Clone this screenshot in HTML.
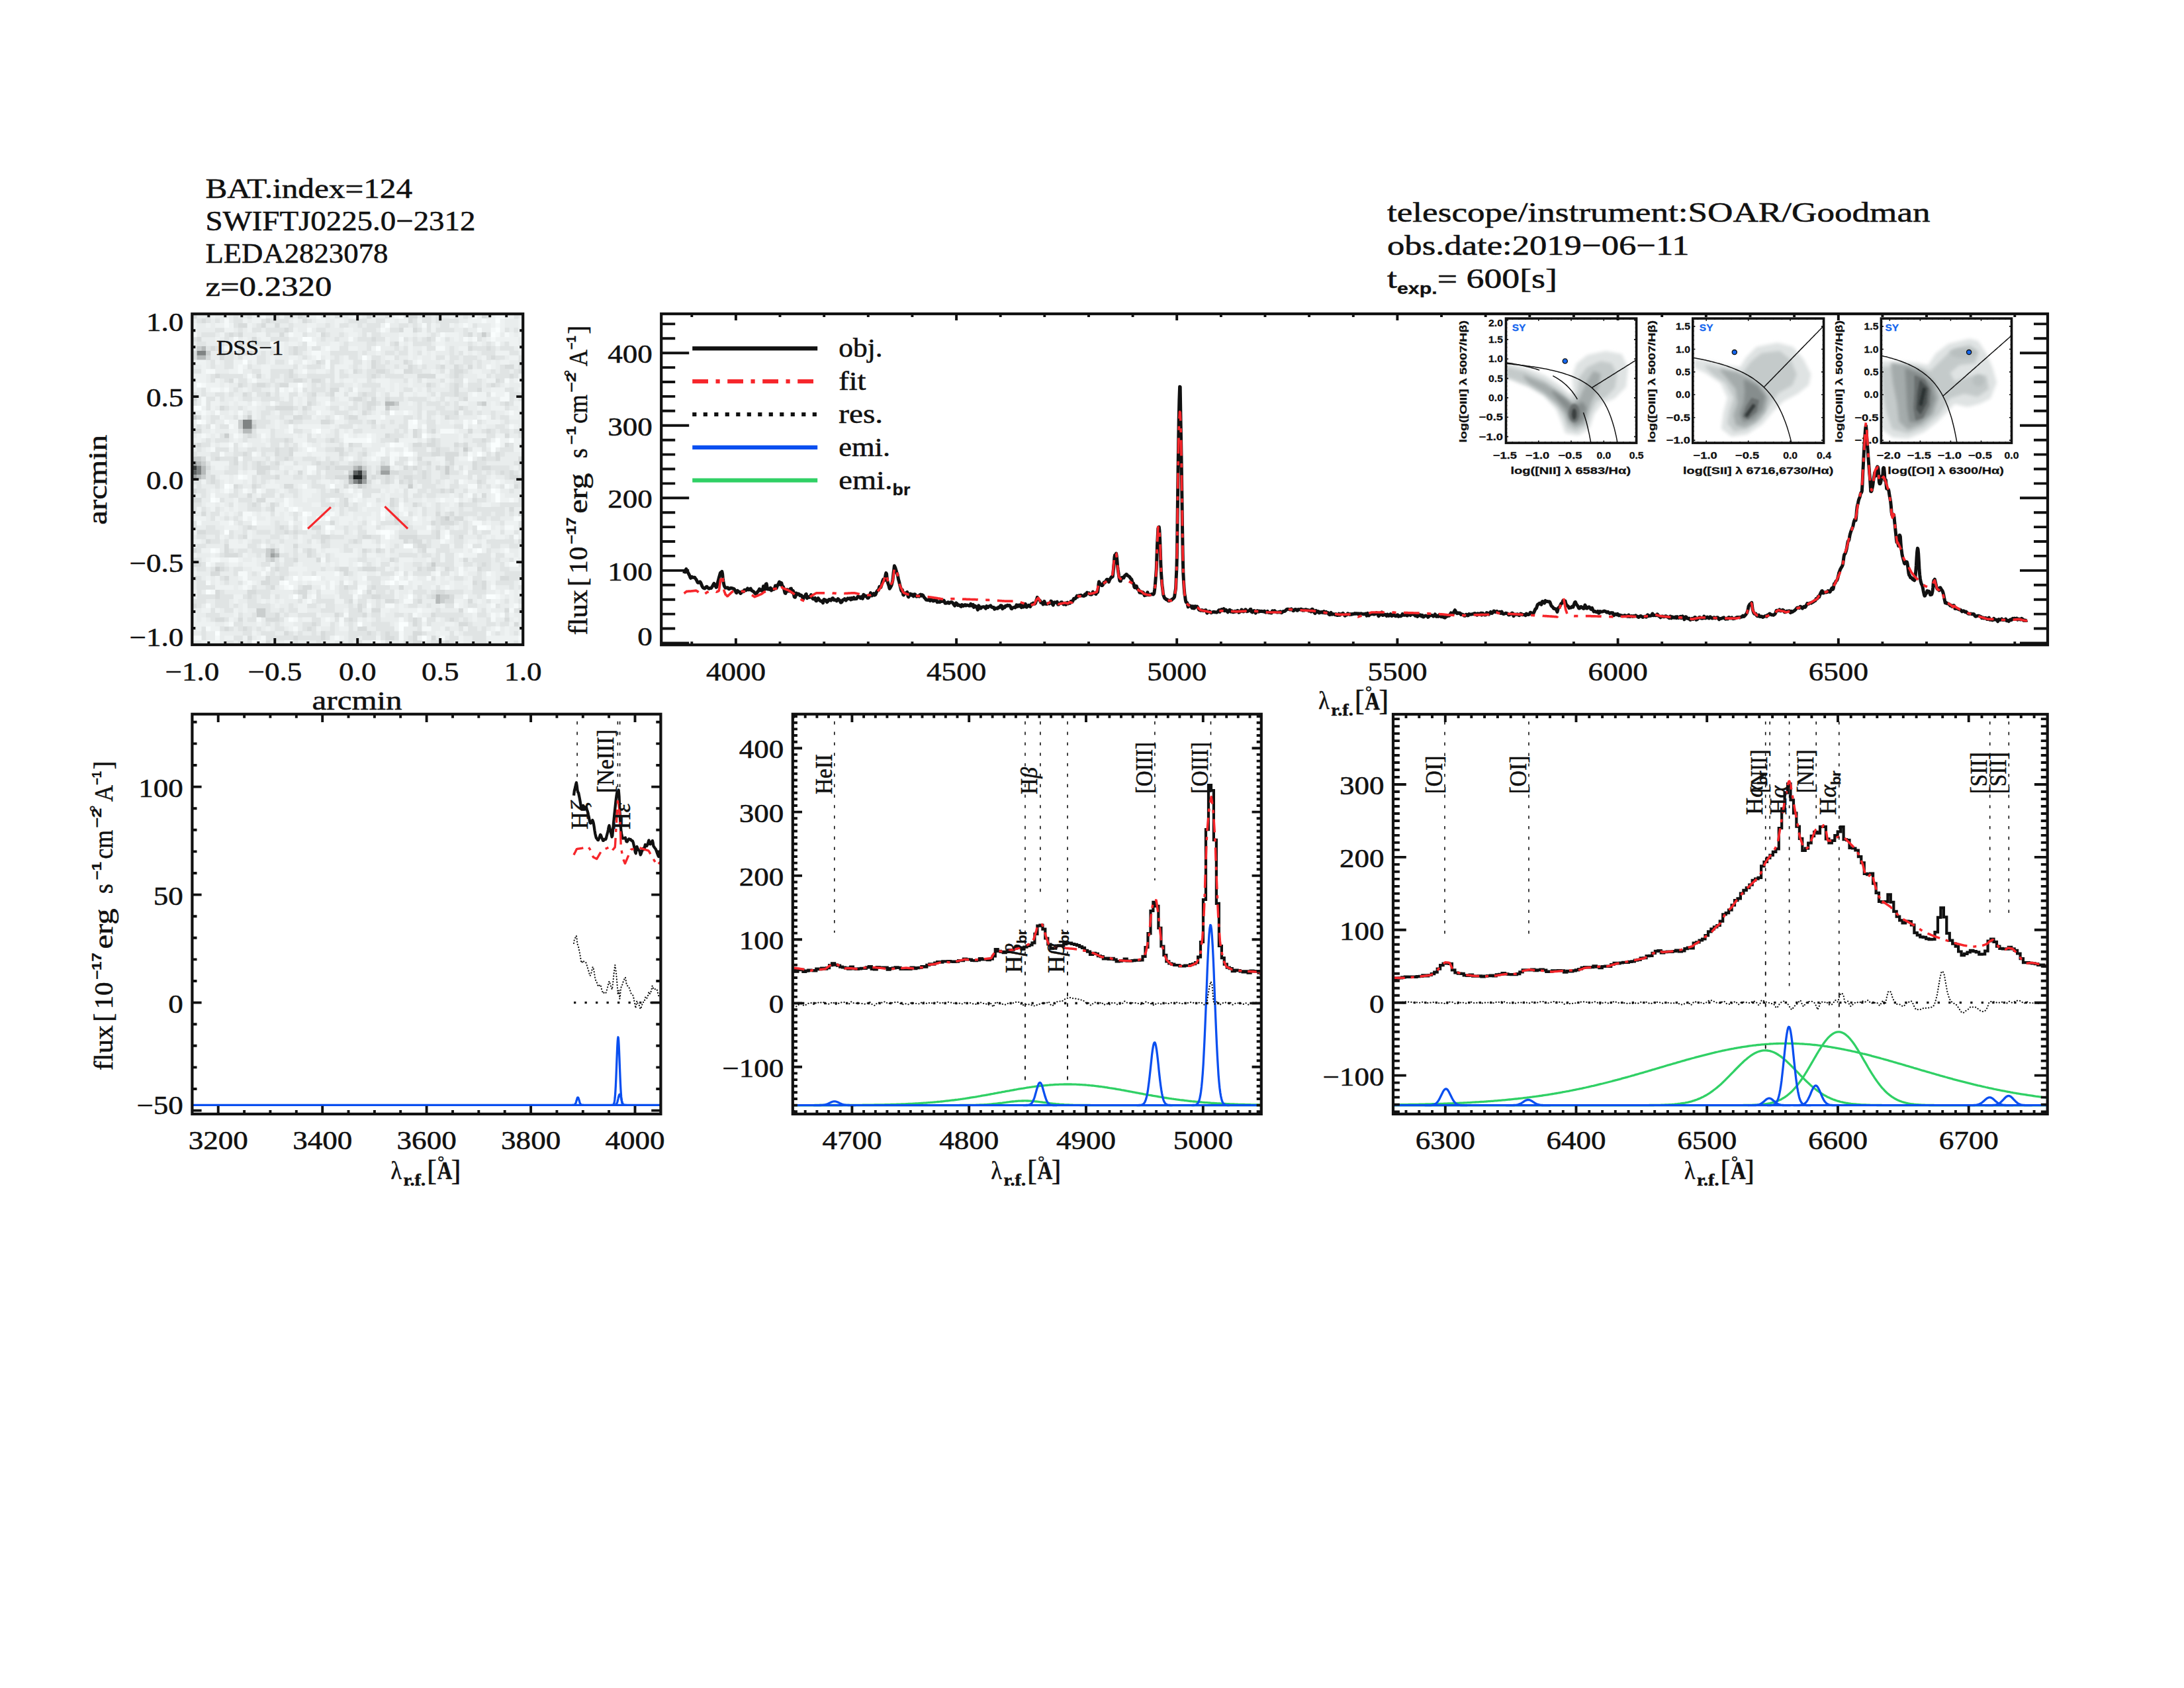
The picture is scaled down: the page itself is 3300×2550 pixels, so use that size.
<!DOCTYPE html>
<html><head><meta charset="utf-8"><title>BAT 124 spectrum</title>
<style>
html,body{margin:0;padding:0;background:#fff}
svg{display:block}
text{fill:#111;white-space:pre;stroke:#111;stroke-width:.55px}
.s{font-family:"Liberation Serif",serif}
.sb{font-family:"Liberation Serif",serif;font-weight:bold}
.si{font-family:"Liberation Serif",serif;font-style:italic}
.h{font-family:"Liberation Sans",sans-serif}
.hb{font-family:"Liberation Sans",sans-serif;font-weight:bold;stroke-width:.3px}
</style></head><body>
<svg width="3300" height="2550" viewBox="0 0 3300 2550">
<rect width="3300" height="2550" fill="#fff"/>
<text class="s" transform="translate(310.4 298.9)" x="0" font-size="42.5" textLength="312.6" lengthAdjust="spacingAndGlyphs">BAT.index=124</text>
<text class="s" transform="translate(310.4 347.5)" x="0" font-size="42.5" textLength="408" lengthAdjust="spacingAndGlyphs">SWIFTJ0225.0−2312</text>
<text class="s" transform="translate(310.4 397)" x="0" font-size="42.5" textLength="276" lengthAdjust="spacingAndGlyphs">LEDA2823078</text>
<text class="s" transform="translate(310.4 447.3)" x="0" font-size="42.5" textLength="191" lengthAdjust="spacingAndGlyphs">z=0.2320</text>
<text class="s" transform="translate(2096 335)" x="0" font-size="42.5" textLength="820.6" lengthAdjust="spacingAndGlyphs">telescope/instrument:SOAR/Goodman</text>
<text class="s" transform="translate(2096 384.6)" x="0" font-size="42.5" textLength="456.7" lengthAdjust="spacingAndGlyphs">obs.date:2019−06−11</text>
<text class="s" transform="translate(2096 434.8)" x="0" textLength="257" lengthAdjust="spacingAndGlyphs"><tspan font-size="42.5">t</tspan><tspan font-size="24" class="hb" dy="9">exp.</tspan><tspan font-size="42.5" dy="-9">= 600[s]</tspan></text>
<rect x="290.3" y="474.2" width="499.9" height="499.8" fill="#e9eded"/>
<path d="M533.3 717.2h14.2v7.2h-14.2z" fill="#1b1f1f"/>
<path d="M290.3 703.3h7.2v7.2h-7.2zM540.2 710.3h7.2v7.2h-7.2z" fill="#393d3d"/>
<path d="M290.3 710.3h7.2v7.2h-7.2zM533.3 710.3h7.2v7.2h-7.2zM540.2 724.2h7.2v7.2h-7.2z" fill="#5c6060"/>
<path d="M297.2 529.7h14.2v7.2h-14.2zM366.7 633.9h14.2v7.2h-14.2zM366.7 640.8h14.2v7.2h-14.2zM297.2 703.3h7.2v7.2h-7.2zM297.2 710.3h7.2v7.2h-7.2zM547.2 717.2h7.2v7.2h-7.2zM533.3 724.2h7.2v7.2h-7.2z" fill="#7f8383"/>
<path d="M290.3 696.4h7.2v7.2h-7.2zM540.2 703.3h7.2v7.2h-7.2zM547.2 710.3h7.2v7.2h-7.2zM575 710.3h14.2v7.2h-14.2zM290.3 717.2h7.2v7.2h-7.2zM526.4 717.2h7.2v7.2h-7.2zM547.2 724.2h7.2v7.2h-7.2zM408.3 835.2h7.2v7.2h-7.2z" fill="#9da1a1"/>
<path d="M304.2 522.8h7.2v7.2h-7.2zM297.2 536.7h14.2v7.2h-14.2zM581.9 606.1h14.2v7.2h-14.2zM366.7 647.8h14.2v7.2h-14.2zM297.2 696.4h7.2v7.2h-7.2zM304.2 703.3h7.2v7.2h-7.2zM533.3 703.3h7.2v7.2h-7.2zM575 703.3h14.2v7.2h-14.2zM304.2 710.3h7.2v7.2h-7.2zM297.2 717.2h7.2v7.2h-7.2zM526.4 724.2h7.2v7.2h-7.2zM408.3 828.3h7.2v7.2h-7.2zM415.3 835.2h7.2v7.2h-7.2zM658.3 897.7h7.2v7.2h-7.2zM658.3 904.7h7.2v7.2h-7.2z" fill="#b6baba"/>
<path d="M727.7 502h7.2v7.2h-7.2zM297.2 522.8h7.2v7.2h-7.2zM311.1 529.7h7.2v7.2h-7.2zM595.8 606.1h7.2v7.2h-7.2zM727.7 606.1h7.2v7.2h-7.2zM581.9 613.1h7.2v7.2h-7.2zM290.3 626.9h7.2v7.2h-7.2zM373.6 626.9h7.2v7.2h-7.2zM359.7 633.9h7.2v7.2h-7.2zM359.7 640.8h7.2v7.2h-7.2zM380.6 640.8h7.2v7.2h-7.2zM338.9 654.7h7.2v7.2h-7.2zM699.9 675.5h7.2v7.2h-7.2zM290.3 689.4h14.2v7.2h-14.2zM304.2 696.4h7.2v7.2h-7.2zM547.2 703.3h7.2v7.2h-7.2zM672.2 703.3h7.2v7.2h-7.2zM526.4 710.3h7.2v7.2h-7.2zM672.2 710.3h7.2v7.2h-7.2zM304.2 717.2h7.2v7.2h-7.2zM540.2 731.1h7.2v7.2h-7.2zM616.6 731.1h7.2v7.2h-7.2zM672.2 779.7h7.2v7.2h-7.2zM401.4 828.3h7.2v7.2h-7.2zM401.4 835.2h7.2v7.2h-7.2zM408.3 842.2h7.2v7.2h-7.2zM651.3 849.1h7.2v7.2h-7.2zM325 856.1h7.2v7.2h-7.2zM665.2 897.7h14.2v7.2h-14.2zM665.2 904.7h7.2v7.2h-7.2zM387.5 918.6h14.2v7.2h-14.2zM387.5 925.5h14.2v7.2h-14.2z" fill="#cacece"/>
<path d="M290.3 474.2h7.2v7.2h-7.2zM450 474.2h7.2v7.2h-7.2zM554.1 474.2h7.2v7.2h-7.2zM616.6 474.2h14.2v7.2h-14.2zM727.7 474.2h7.2v7.2h-7.2zM304.2 481.1h7.2v7.2h-7.2zM401.4 481.1h7.2v7.2h-7.2zM456.9 481.1h7.2v7.2h-7.2zM616.6 481.1h7.2v7.2h-7.2zM359.7 488.1h14.2v7.2h-14.2zM394.4 488.1h7.2v7.2h-7.2zM415.3 488.1h7.2v7.2h-7.2zM429.2 495h7.2v7.2h-7.2zM602.7 495h7.2v7.2h-7.2zM623.6 495h7.2v7.2h-7.2zM345.8 502h7.2v7.2h-7.2zM359.7 502h7.2v7.2h-7.2zM422.2 502h7.2v7.2h-7.2zM484.7 502h7.2v7.2h-7.2zM706.9 502h7.2v7.2h-7.2zM297.2 508.9h7.2v7.2h-7.2zM380.6 508.9h7.2v7.2h-7.2zM561.1 508.9h7.2v7.2h-7.2zM644.4 508.9h7.2v7.2h-7.2zM359.7 515.9h7.2v7.2h-7.2zM595.8 515.9h7.2v7.2h-7.2zM318.1 522.8h7.2v7.2h-7.2zM443 522.8h7.2v7.2h-7.2zM706.9 522.8h7.2v7.2h-7.2zM734.7 522.8h7.2v7.2h-7.2zM290.3 529.7h7.2v7.2h-7.2zM373.6 529.7h7.2v7.2h-7.2zM443 529.7h7.2v7.2h-7.2zM290.3 536.7h7.2v7.2h-7.2zM311.1 536.7h7.2v7.2h-7.2zM332 536.7h7.2v7.2h-7.2zM741.6 536.7h7.2v7.2h-7.2zM477.8 543.6h7.2v7.2h-7.2zM561.1 543.6h7.2v7.2h-7.2zM609.7 543.6h7.2v7.2h-7.2zM561.1 550.6h7.2v7.2h-7.2zM616.6 550.6h7.2v7.2h-7.2zM665.2 550.6h7.2v7.2h-7.2zM686.1 550.6h7.2v7.2h-7.2zM706.9 550.6h7.2v7.2h-7.2zM762.4 550.6h14.2v7.2h-14.2zM436.1 557.5h7.2v7.2h-7.2zM533.3 557.5h7.2v7.2h-7.2zM568 557.5h14.2v7.2h-14.2zM609.7 557.5h14.2v7.2h-14.2zM686.1 557.5h14.2v7.2h-14.2zM783.3 557.5h7.2v7.2h-7.2zM325 564.5h7.2v7.2h-7.2zM387.5 564.5h7.2v7.2h-7.2zM436.1 564.5h7.2v7.2h-7.2zM561.1 564.5h7.2v7.2h-7.2zM630.5 564.5h28.1v7.2h-28.1zM686.1 564.5h7.2v7.2h-7.2zM769.4 564.5h7.2v7.2h-7.2zM345.8 571.4h7.2v7.2h-7.2zM443 571.4h14.2v7.2h-14.2zM470.8 571.4h14.2v7.2h-14.2zM748.5 571.4h7.2v7.2h-7.2zM359.7 578.3h7.2v7.2h-7.2zM387.5 578.3h14.2v7.2h-14.2zM422.2 578.3h14.2v7.2h-14.2zM644.4 578.3h7.2v7.2h-7.2zM686.1 578.3h7.2v7.2h-7.2zM741.6 578.3h7.2v7.2h-7.2zM498.6 585.3h14.2v7.2h-14.2zM686.1 585.3h7.2v7.2h-7.2zM720.8 585.3h7.2v7.2h-7.2zM366.7 592.2h7.2v7.2h-7.2zM401.4 592.2h7.2v7.2h-7.2zM470.8 592.2h7.2v7.2h-7.2zM498.6 592.2h7.2v7.2h-7.2zM547.2 592.2h7.2v7.2h-7.2zM686.1 592.2h7.2v7.2h-7.2zM290.3 599.2h7.2v7.2h-7.2zM533.3 599.2h14.2v7.2h-14.2zM561.1 599.2h7.2v7.2h-7.2zM581.9 599.2h7.2v7.2h-7.2zM699.9 599.2h7.2v7.2h-7.2zM463.9 606.1h7.2v7.2h-7.2zM554.1 606.1h14.2v7.2h-14.2zM720.8 606.1h7.2v7.2h-7.2zM762.4 606.1h7.2v7.2h-7.2zM332 613.1h7.2v7.2h-7.2zM415.3 613.1h28.1v7.2h-28.1zM456.9 613.1h7.2v7.2h-7.2zM554.1 613.1h7.2v7.2h-7.2zM693 613.1h7.2v7.2h-7.2zM547.2 620h7.2v7.2h-7.2zM686.1 620h7.2v7.2h-7.2zM297.2 626.9h7.2v7.2h-7.2zM443 626.9h14.2v7.2h-14.2zM526.4 626.9h14.2v7.2h-14.2zM672.2 626.9h7.2v7.2h-7.2zM380.6 633.9h7.2v7.2h-7.2zM436.1 633.9h7.2v7.2h-7.2zM484.7 633.9h14.2v7.2h-14.2zM561.1 633.9h7.2v7.2h-7.2zM290.3 647.8h14.2v7.2h-14.2zM623.6 647.8h7.2v7.2h-7.2zM651.3 647.8h7.2v7.2h-7.2zM706.9 647.8h7.2v7.2h-7.2zM734.7 647.8h7.2v7.2h-7.2zM783.3 647.8h7.2v7.2h-7.2zM373.6 654.7h7.2v7.2h-7.2zM581.9 654.7h7.2v7.2h-7.2zM623.6 654.7h7.2v7.2h-7.2zM762.4 654.7h7.2v7.2h-7.2zM429.2 661.7h7.2v7.2h-7.2zM498.6 661.7h7.2v7.2h-7.2zM595.8 661.7h7.2v7.2h-7.2zM651.3 661.7h7.2v7.2h-7.2zM727.7 661.7h7.2v7.2h-7.2zM297.2 668.6h7.2v7.2h-7.2zM526.4 668.6h7.2v7.2h-7.2zM623.6 668.6h14.2v7.2h-14.2zM644.4 668.6h14.2v7.2h-14.2zM686.1 668.6h7.2v7.2h-7.2zM699.9 668.6h7.2v7.2h-7.2zM762.4 668.6h7.2v7.2h-7.2zM415.3 675.5h7.2v7.2h-7.2zM436.1 675.5h7.2v7.2h-7.2zM505.5 675.5h14.2v7.2h-14.2zM658.3 675.5h7.2v7.2h-7.2zM366.7 682.5h7.2v7.2h-7.2zM415.3 682.5h7.2v7.2h-7.2zM436.1 682.5h7.2v7.2h-7.2zM512.5 682.5h7.2v7.2h-7.2zM547.2 682.5h7.2v7.2h-7.2zM651.3 682.5h14.2v7.2h-14.2zM672.2 682.5h21.1v7.2h-21.1zM748.5 682.5h7.2v7.2h-7.2zM304.2 689.4h7.2v7.2h-7.2zM325 689.4h7.2v7.2h-7.2zM352.8 689.4h7.2v7.2h-7.2zM429.2 689.4h7.2v7.2h-7.2zM630.5 689.4h7.2v7.2h-7.2zM672.2 689.4h14.2v7.2h-14.2zM727.7 689.4h7.2v7.2h-7.2zM748.5 689.4h7.2v7.2h-7.2zM783.3 689.4h7.2v7.2h-7.2zM352.8 696.4h7.2v7.2h-7.2zM387.5 696.4h7.2v7.2h-7.2zM415.3 696.4h7.2v7.2h-7.2zM477.8 696.4h7.2v7.2h-7.2zM498.6 696.4h7.2v7.2h-7.2zM533.3 696.4h14.2v7.2h-14.2zM575 696.4h7.2v7.2h-7.2zM644.4 696.4h7.2v7.2h-7.2zM679.1 696.4h7.2v7.2h-7.2zM713.8 696.4h7.2v7.2h-7.2zM783.3 696.4h7.2v7.2h-7.2zM311.1 703.3h7.2v7.2h-7.2zM387.5 703.3h21.1v7.2h-21.1zM491.6 703.3h7.2v7.2h-7.2zM505.5 703.3h28.1v7.2h-28.1zM609.7 703.3h7.2v7.2h-7.2zM623.6 703.3h7.2v7.2h-7.2zM658.3 703.3h7.2v7.2h-7.2zM713.8 703.3h7.2v7.2h-7.2zM727.7 703.3h14.2v7.2h-14.2zM387.5 710.3h14.2v7.2h-14.2zM450 710.3h7.2v7.2h-7.2zM568 710.3h7.2v7.2h-7.2zM588.9 710.3h14.2v7.2h-14.2zM637.5 710.3h7.2v7.2h-7.2zM755.5 710.3h7.2v7.2h-7.2zM769.4 710.3h7.2v7.2h-7.2zM318.1 717.2h7.2v7.2h-7.2zM415.3 717.2h7.2v7.2h-7.2zM505.5 717.2h21.1v7.2h-21.1zM561.1 717.2h7.2v7.2h-7.2zM581.9 717.2h7.2v7.2h-7.2zM609.7 717.2h14.2v7.2h-14.2zM637.5 717.2h7.2v7.2h-7.2zM769.4 717.2h14.2v7.2h-14.2zM318.1 724.2h7.2v7.2h-7.2zM554.1 724.2h7.2v7.2h-7.2zM581.9 724.2h7.2v7.2h-7.2zM602.7 724.2h7.2v7.2h-7.2zM616.6 724.2h7.2v7.2h-7.2zM720.8 724.2h7.2v7.2h-7.2zM352.8 731.1h7.2v7.2h-7.2zM380.6 731.1h7.2v7.2h-7.2zM429.2 731.1h14.2v7.2h-14.2zM519.4 731.1h7.2v7.2h-7.2zM547.2 731.1h7.2v7.2h-7.2zM776.3 731.1h7.2v7.2h-7.2zM290.3 738h7.2v7.2h-7.2zM505.5 738h7.2v7.2h-7.2zM665.2 738h7.2v7.2h-7.2zM679.1 738h7.2v7.2h-7.2zM373.6 745h7.2v7.2h-7.2zM727.7 745h7.2v7.2h-7.2zM290.3 751.9h14.2v7.2h-14.2zM387.5 751.9h14.2v7.2h-14.2zM519.4 751.9h7.2v7.2h-7.2zM588.9 751.9h7.2v7.2h-7.2zM713.8 751.9h7.2v7.2h-7.2zM380.6 758.9h7.2v7.2h-7.2zM408.3 758.9h7.2v7.2h-7.2zM519.4 758.9h7.2v7.2h-7.2zM588.9 758.9h7.2v7.2h-7.2zM623.6 758.9h7.2v7.2h-7.2zM693 758.9h7.2v7.2h-7.2zM408.3 765.8h7.2v7.2h-7.2zM769.4 765.8h7.2v7.2h-7.2zM304.2 772.8h7.2v7.2h-7.2zM658.3 772.8h7.2v7.2h-7.2zM679.1 772.8h7.2v7.2h-7.2zM783.3 772.8h7.2v7.2h-7.2zM595.8 779.7h7.2v7.2h-7.2zM665.2 779.7h7.2v7.2h-7.2zM686.1 779.7h14.2v7.2h-14.2zM498.6 786.6h7.2v7.2h-7.2zM595.8 786.6h7.2v7.2h-7.2zM609.7 786.6h7.2v7.2h-7.2zM651.3 786.6h7.2v7.2h-7.2zM665.2 786.6h21.1v7.2h-21.1zM373.6 793.6h7.2v7.2h-7.2zM422.2 793.6h7.2v7.2h-7.2zM470.8 793.6h14.2v7.2h-14.2zM297.2 800.5h14.2v7.2h-14.2zM429.2 800.5h7.2v7.2h-7.2zM443 800.5h7.2v7.2h-7.2zM658.3 800.5h7.2v7.2h-7.2zM366.7 807.5h7.2v7.2h-7.2zM484.7 807.5h14.2v7.2h-14.2zM547.2 807.5h14.2v7.2h-14.2zM602.7 807.5h28.1v7.2h-28.1zM658.3 807.5h7.2v7.2h-7.2zM693 807.5h7.2v7.2h-7.2zM311.1 814.4h7.2v7.2h-7.2zM484.7 814.4h7.2v7.2h-7.2zM533.3 814.4h7.2v7.2h-7.2zM609.7 814.4h7.2v7.2h-7.2zM623.6 814.4h14.2v7.2h-14.2zM783.3 814.4h7.2v7.2h-7.2zM338.9 821.4h7.2v7.2h-7.2zM443 821.4h7.2v7.2h-7.2zM630.5 821.4h14.2v7.2h-14.2zM290.3 828.3h7.2v7.2h-7.2zM338.9 828.3h7.2v7.2h-7.2zM415.3 828.3h7.2v7.2h-7.2zM463.9 828.3h7.2v7.2h-7.2zM547.2 828.3h7.2v7.2h-7.2zM568 828.3h7.2v7.2h-7.2zM637.5 828.3h7.2v7.2h-7.2zM338.9 835.2h21.1v7.2h-21.1zM463.9 835.2h7.2v7.2h-7.2zM401.4 842.2h7.2v7.2h-7.2zM443 842.2h7.2v7.2h-7.2zM477.8 842.2h7.2v7.2h-7.2zM588.9 842.2h7.2v7.2h-7.2zM699.9 842.2h7.2v7.2h-7.2zM290.3 849.1h14.2v7.2h-14.2zM727.7 849.1h7.2v7.2h-7.2zM332 856.1h7.2v7.2h-7.2zM415.3 856.1h7.2v7.2h-7.2zM512.5 856.1h14.2v7.2h-14.2zM547.2 856.1h21.1v7.2h-21.1zM630.5 856.1h7.2v7.2h-7.2zM644.4 856.1h14.2v7.2h-14.2zM672.2 856.1h7.2v7.2h-7.2zM720.8 856.1h7.2v7.2h-7.2zM318.1 863h14.2v7.2h-14.2zM519.4 863h7.2v7.2h-7.2zM290.3 870h7.2v7.2h-7.2zM338.9 870h7.2v7.2h-7.2zM401.4 870h7.2v7.2h-7.2zM422.2 870h7.2v7.2h-7.2zM755.5 870h14.2v7.2h-14.2zM394.4 876.9h14.2v7.2h-14.2zM713.8 876.9h7.2v7.2h-7.2zM727.7 876.9h7.2v7.2h-7.2zM408.3 883.8h7.2v7.2h-7.2zM456.9 883.8h14.2v7.2h-14.2zM519.4 883.8h7.2v7.2h-7.2zM561.1 883.8h7.2v7.2h-7.2zM602.7 883.8h7.2v7.2h-7.2zM727.7 883.8h7.2v7.2h-7.2zM325 890.8h7.2v7.2h-7.2zM373.6 890.8h14.2v7.2h-14.2zM450 890.8h14.2v7.2h-14.2zM554.1 890.8h7.2v7.2h-7.2zM658.3 890.8h14.2v7.2h-14.2zM325 897.7h7.2v7.2h-7.2zM373.6 897.7h7.2v7.2h-7.2zM456.9 897.7h7.2v7.2h-7.2zM561.1 897.7h14.2v7.2h-14.2zM651.3 897.7h7.2v7.2h-7.2zM679.1 897.7h7.2v7.2h-7.2zM526.4 904.7h7.2v7.2h-7.2zM581.9 904.7h14.2v7.2h-14.2zM630.5 904.7h7.2v7.2h-7.2zM672.2 904.7h14.2v7.2h-14.2zM706.9 904.7h7.2v7.2h-7.2zM290.3 911.6h7.2v7.2h-7.2zM540.2 911.6h7.2v7.2h-7.2zM540.2 918.6h7.2v7.2h-7.2zM561.1 918.6h14.2v7.2h-14.2zM693 918.6h7.2v7.2h-7.2zM762.4 918.6h7.2v7.2h-7.2zM783.3 918.6h7.2v7.2h-7.2zM415.3 925.5h7.2v7.2h-7.2zM505.5 925.5h7.2v7.2h-7.2zM547.2 925.5h7.2v7.2h-7.2zM651.3 925.5h7.2v7.2h-7.2zM325 932.4h14.2v7.2h-14.2zM359.7 932.4h7.2v7.2h-7.2zM401.4 932.4h21.1v7.2h-21.1zM526.4 932.4h7.2v7.2h-7.2zM623.6 932.4h7.2v7.2h-7.2zM679.1 932.4h7.2v7.2h-7.2zM762.4 932.4h7.2v7.2h-7.2zM470.8 939.4h7.2v7.2h-7.2zM623.6 939.4h7.2v7.2h-7.2zM693 939.4h14.2v7.2h-14.2zM776.3 939.4h7.2v7.2h-7.2zM338.9 946.3h7.2v7.2h-7.2zM366.7 946.3h7.2v7.2h-7.2zM463.9 946.3h7.2v7.2h-7.2zM540.2 946.3h14.2v7.2h-14.2zM429.2 953.3h7.2v7.2h-7.2zM484.7 953.3h7.2v7.2h-7.2zM554.1 953.3h7.2v7.2h-7.2zM581.9 953.3h7.2v7.2h-7.2zM623.6 953.3h14.2v7.2h-14.2zM373.6 960.2h7.2v7.2h-7.2zM443 960.2h7.2v7.2h-7.2zM484.7 960.2h7.2v7.2h-7.2zM581.9 960.2h14.2v7.2h-14.2zM623.6 960.2h7.2v7.2h-7.2zM651.3 960.2h7.2v7.2h-7.2zM401.4 967.2h7.2v7.2h-7.2zM623.6 967.2h14.2v7.2h-14.2zM672.2 967.2h7.2v7.2h-7.2z" fill="#d7dbdb"/>
<path d="M311.1 474.2h7.2v7.2h-7.2zM352.8 474.2h7.2v7.2h-7.2zM373.6 474.2h7.2v7.2h-7.2zM415.3 474.2h7.2v7.2h-7.2zM429.2 474.2h14.2v7.2h-14.2zM456.9 474.2h7.2v7.2h-7.2zM505.5 474.2h7.2v7.2h-7.2zM581.9 474.2h7.2v7.2h-7.2zM637.5 474.2h14.2v7.2h-14.2zM658.3 474.2h7.2v7.2h-7.2zM699.9 474.2h7.2v7.2h-7.2zM734.7 474.2h7.2v7.2h-7.2zM776.3 474.2h7.2v7.2h-7.2zM297.2 481.1h7.2v7.2h-7.2zM311.1 481.1h7.2v7.2h-7.2zM325 481.1h7.2v7.2h-7.2zM352.8 481.1h14.2v7.2h-14.2zM394.4 481.1h7.2v7.2h-7.2zM408.3 481.1h28.1v7.2h-28.1zM463.9 481.1h7.2v7.2h-7.2zM526.4 481.1h28.1v7.2h-28.1zM568 481.1h14.2v7.2h-14.2zM623.6 481.1h7.2v7.2h-7.2zM637.5 481.1h14.2v7.2h-14.2zM658.3 481.1h35v7.2h-35zM352.8 488.1h7.2v7.2h-7.2zM387.5 488.1h7.2v7.2h-7.2zM436.1 488.1h7.2v7.2h-7.2zM491.6 488.1h7.2v7.2h-7.2zM512.5 488.1h14.2v7.2h-14.2zM540.2 488.1h7.2v7.2h-7.2zM554.1 488.1h21.1v7.2h-21.1zM602.7 488.1h14.2v7.2h-14.2zM623.6 488.1h7.2v7.2h-7.2zM644.4 488.1h7.2v7.2h-7.2zM665.2 488.1h14.2v7.2h-14.2zM713.8 488.1h7.2v7.2h-7.2zM325 495h14.2v7.2h-14.2zM359.7 495h7.2v7.2h-7.2zM380.6 495h14.2v7.2h-14.2zM401.4 495h28.1v7.2h-28.1zM436.1 495h7.2v7.2h-7.2zM477.8 495h14.2v7.2h-14.2zM547.2 495h21.1v7.2h-21.1zM588.9 495h14.2v7.2h-14.2zM630.5 495h7.2v7.2h-7.2zM644.4 495h7.2v7.2h-7.2zM658.3 495h28.1v7.2h-28.1zM699.9 495h7.2v7.2h-7.2zM762.4 495h7.2v7.2h-7.2zM776.3 495h7.2v7.2h-7.2zM304.2 502h21.1v7.2h-21.1zM338.9 502h7.2v7.2h-7.2zM352.8 502h7.2v7.2h-7.2zM401.4 502h7.2v7.2h-7.2zM456.9 502h7.2v7.2h-7.2zM491.6 502h7.2v7.2h-7.2zM512.5 502h7.2v7.2h-7.2zM547.2 502h7.2v7.2h-7.2zM561.1 502h14.2v7.2h-14.2zM651.3 502h7.2v7.2h-7.2zM699.9 502h7.2v7.2h-7.2zM720.8 502h7.2v7.2h-7.2zM734.7 502h7.2v7.2h-7.2zM290.3 508.9h7.2v7.2h-7.2zM338.9 508.9h7.2v7.2h-7.2zM408.3 508.9h28.1v7.2h-28.1zM484.7 508.9h7.2v7.2h-7.2zM505.5 508.9h7.2v7.2h-7.2zM540.2 508.9h21.1v7.2h-21.1zM568 508.9h14.2v7.2h-14.2zM609.7 508.9h7.2v7.2h-7.2zM623.6 508.9h7.2v7.2h-7.2zM637.5 508.9h7.2v7.2h-7.2zM651.3 508.9h7.2v7.2h-7.2zM672.2 508.9h7.2v7.2h-7.2zM720.8 508.9h7.2v7.2h-7.2zM297.2 515.9h14.2v7.2h-14.2zM332 515.9h7.2v7.2h-7.2zM380.6 515.9h28.1v7.2h-28.1zM456.9 515.9h7.2v7.2h-7.2zM519.4 515.9h7.2v7.2h-7.2zM554.1 515.9h14.2v7.2h-14.2zM588.9 515.9h7.2v7.2h-7.2zM623.6 515.9h28.1v7.2h-28.1zM706.9 515.9h7.2v7.2h-7.2zM734.7 515.9h7.2v7.2h-7.2zM762.4 515.9h7.2v7.2h-7.2zM311.1 522.8h7.2v7.2h-7.2zM325 522.8h7.2v7.2h-7.2zM359.7 522.8h7.2v7.2h-7.2zM436.1 522.8h7.2v7.2h-7.2zM450 522.8h14.2v7.2h-14.2zM470.8 522.8h14.2v7.2h-14.2zM512.5 522.8h14.2v7.2h-14.2zM554.1 522.8h7.2v7.2h-7.2zM595.8 522.8h7.2v7.2h-7.2zM609.7 522.8h7.2v7.2h-7.2zM644.4 522.8h14.2v7.2h-14.2zM679.1 522.8h7.2v7.2h-7.2zM713.8 522.8h21.1v7.2h-21.1zM741.6 522.8h7.2v7.2h-7.2zM755.5 522.8h21.1v7.2h-21.1zM332 529.7h21.1v7.2h-21.1zM366.7 529.7h7.2v7.2h-7.2zM380.6 529.7h7.2v7.2h-7.2zM394.4 529.7h7.2v7.2h-7.2zM408.3 529.7h7.2v7.2h-7.2zM436.1 529.7h7.2v7.2h-7.2zM450 529.7h7.2v7.2h-7.2zM498.6 529.7h42v7.2h-42zM547.2 529.7h7.2v7.2h-7.2zM581.9 529.7h14.2v7.2h-14.2zM602.7 529.7h14.2v7.2h-14.2zM630.5 529.7h7.2v7.2h-7.2zM679.1 529.7h7.2v7.2h-7.2zM693 529.7h7.2v7.2h-7.2zM727.7 529.7h21.1v7.2h-21.1zM769.4 529.7h14.2v7.2h-14.2zM338.9 536.7h14.2v7.2h-14.2zM359.7 536.7h7.2v7.2h-7.2zM387.5 536.7h14.2v7.2h-14.2zM456.9 536.7h7.2v7.2h-7.2zM505.5 536.7h7.2v7.2h-7.2zM526.4 536.7h14.2v7.2h-14.2zM561.1 536.7h14.2v7.2h-14.2zM595.8 536.7h7.2v7.2h-7.2zM658.3 536.7h14.2v7.2h-14.2zM679.1 536.7h14.2v7.2h-14.2zM699.9 536.7h21.1v7.2h-21.1zM734.7 536.7h7.2v7.2h-7.2zM748.5 536.7h14.2v7.2h-14.2zM783.3 536.7h7.2v7.2h-7.2zM318.1 543.6h7.2v7.2h-7.2zM338.9 543.6h14.2v7.2h-14.2zM387.5 543.6h14.2v7.2h-14.2zM415.3 543.6h14.2v7.2h-14.2zM484.7 543.6h7.2v7.2h-7.2zM498.6 543.6h14.2v7.2h-14.2zM533.3 543.6h14.2v7.2h-14.2zM568 543.6h7.2v7.2h-7.2zM581.9 543.6h7.2v7.2h-7.2zM616.6 543.6h7.2v7.2h-7.2zM679.1 543.6h7.2v7.2h-7.2zM699.9 543.6h14.2v7.2h-14.2zM720.8 543.6h7.2v7.2h-7.2zM783.3 543.6h7.2v7.2h-7.2zM318.1 550.6h7.2v7.2h-7.2zM338.9 550.6h14.2v7.2h-14.2zM373.6 550.6h7.2v7.2h-7.2zM443 550.6h7.2v7.2h-7.2zM463.9 550.6h21.1v7.2h-21.1zM498.6 550.6h7.2v7.2h-7.2zM533.3 550.6h7.2v7.2h-7.2zM568 550.6h14.2v7.2h-14.2zM595.8 550.6h7.2v7.2h-7.2zM623.6 550.6h7.2v7.2h-7.2zM637.5 550.6h7.2v7.2h-7.2zM658.3 550.6h7.2v7.2h-7.2zM693 550.6h7.2v7.2h-7.2zM720.8 550.6h7.2v7.2h-7.2zM755.5 550.6h7.2v7.2h-7.2zM783.3 550.6h7.2v7.2h-7.2zM290.3 557.5h14.2v7.2h-14.2zM380.6 557.5h14.2v7.2h-14.2zM408.3 557.5h28.1v7.2h-28.1zM498.6 557.5h7.2v7.2h-7.2zM512.5 557.5h7.2v7.2h-7.2zM540.2 557.5h7.2v7.2h-7.2zM554.1 557.5h14.2v7.2h-14.2zM581.9 557.5h7.2v7.2h-7.2zM623.6 557.5h14.2v7.2h-14.2zM665.2 557.5h7.2v7.2h-7.2zM679.1 557.5h7.2v7.2h-7.2zM699.9 557.5h7.2v7.2h-7.2zM741.6 557.5h7.2v7.2h-7.2zM755.5 557.5h14.2v7.2h-14.2zM776.3 557.5h7.2v7.2h-7.2zM318.1 564.5h7.2v7.2h-7.2zM332 564.5h35v7.2h-35zM408.3 564.5h14.2v7.2h-14.2zM429.2 564.5h7.2v7.2h-7.2zM443 564.5h7.2v7.2h-7.2zM463.9 564.5h42v7.2h-42zM512.5 564.5h14.2v7.2h-14.2zM554.1 564.5h7.2v7.2h-7.2zM568 564.5h7.2v7.2h-7.2zM581.9 564.5h28.1v7.2h-28.1zM679.1 564.5h7.2v7.2h-7.2zM693 564.5h7.2v7.2h-7.2zM734.7 564.5h7.2v7.2h-7.2zM748.5 564.5h21.1v7.2h-21.1zM776.3 564.5h7.2v7.2h-7.2zM318.1 571.4h7.2v7.2h-7.2zM338.9 571.4h7.2v7.2h-7.2zM359.7 571.4h14.2v7.2h-14.2zM408.3 571.4h7.2v7.2h-7.2zM429.2 571.4h14.2v7.2h-14.2zM456.9 571.4h7.2v7.2h-7.2zM484.7 571.4h7.2v7.2h-7.2zM498.6 571.4h7.2v7.2h-7.2zM554.1 571.4h7.2v7.2h-7.2zM609.7 571.4h7.2v7.2h-7.2zM630.5 571.4h7.2v7.2h-7.2zM665.2 571.4h7.2v7.2h-7.2zM686.1 571.4h14.2v7.2h-14.2zM720.8 571.4h7.2v7.2h-7.2zM755.5 571.4h7.2v7.2h-7.2zM366.7 578.3h7.2v7.2h-7.2zM380.6 578.3h7.2v7.2h-7.2zM401.4 578.3h7.2v7.2h-7.2zM415.3 578.3h7.2v7.2h-7.2zM470.8 578.3h7.2v7.2h-7.2zM484.7 578.3h7.2v7.2h-7.2zM498.6 578.3h21.1v7.2h-21.1zM547.2 578.3h28.1v7.2h-28.1zM651.3 578.3h7.2v7.2h-7.2zM679.1 578.3h7.2v7.2h-7.2zM693 578.3h7.2v7.2h-7.2zM706.9 578.3h21.1v7.2h-21.1zM734.7 578.3h7.2v7.2h-7.2zM748.5 578.3h7.2v7.2h-7.2zM304.2 585.3h7.2v7.2h-7.2zM352.8 585.3h7.2v7.2h-7.2zM380.6 585.3h14.2v7.2h-14.2zM415.3 585.3h7.2v7.2h-7.2zM456.9 585.3h7.2v7.2h-7.2zM470.8 585.3h21.1v7.2h-21.1zM526.4 585.3h7.2v7.2h-7.2zM561.1 585.3h7.2v7.2h-7.2zM609.7 585.3h14.2v7.2h-14.2zM644.4 585.3h7.2v7.2h-7.2zM679.1 585.3h7.2v7.2h-7.2zM706.9 585.3h14.2v7.2h-14.2zM762.4 585.3h14.2v7.2h-14.2zM290.3 592.2h7.2v7.2h-7.2zM304.2 592.2h7.2v7.2h-7.2zM325 592.2h14.2v7.2h-14.2zM345.8 592.2h7.2v7.2h-7.2zM373.6 592.2h7.2v7.2h-7.2zM387.5 592.2h14.2v7.2h-14.2zM415.3 592.2h7.2v7.2h-7.2zM436.1 592.2h14.2v7.2h-14.2zM463.9 592.2h7.2v7.2h-7.2zM491.6 592.2h7.2v7.2h-7.2zM519.4 592.2h7.2v7.2h-7.2zM540.2 592.2h7.2v7.2h-7.2zM554.1 592.2h14.2v7.2h-14.2zM581.9 592.2h7.2v7.2h-7.2zM602.7 592.2h7.2v7.2h-7.2zM651.3 592.2h7.2v7.2h-7.2zM665.2 592.2h21.1v7.2h-21.1zM693 592.2h14.2v7.2h-14.2zM734.7 592.2h7.2v7.2h-7.2zM769.4 592.2h21.1v7.2h-21.1zM311.1 599.2h14.2v7.2h-14.2zM332 599.2h7.2v7.2h-7.2zM366.7 599.2h14.2v7.2h-14.2zM394.4 599.2h28.1v7.2h-28.1zM436.1 599.2h7.2v7.2h-7.2zM463.9 599.2h14.2v7.2h-14.2zM498.6 599.2h7.2v7.2h-7.2zM526.4 599.2h7.2v7.2h-7.2zM547.2 599.2h7.2v7.2h-7.2zM588.9 599.2h21.1v7.2h-21.1zM616.6 599.2h28.1v7.2h-28.1zM665.2 599.2h7.2v7.2h-7.2zM693 599.2h7.2v7.2h-7.2zM769.4 599.2h7.2v7.2h-7.2zM783.3 599.2h7.2v7.2h-7.2zM290.3 606.1h7.2v7.2h-7.2zM311.1 606.1h7.2v7.2h-7.2zM422.2 606.1h21.1v7.2h-21.1zM470.8 606.1h7.2v7.2h-7.2zM533.3 606.1h7.2v7.2h-7.2zM547.2 606.1h7.2v7.2h-7.2zM568 606.1h7.2v7.2h-7.2zM630.5 606.1h7.2v7.2h-7.2zM644.4 606.1h21.1v7.2h-21.1zM672.2 606.1h7.2v7.2h-7.2zM686.1 606.1h7.2v7.2h-7.2zM755.5 606.1h7.2v7.2h-7.2zM769.4 606.1h7.2v7.2h-7.2zM311.1 613.1h7.2v7.2h-7.2zM338.9 613.1h7.2v7.2h-7.2zM359.7 613.1h7.2v7.2h-7.2zM401.4 613.1h14.2v7.2h-14.2zM443 613.1h7.2v7.2h-7.2zM463.9 613.1h7.2v7.2h-7.2zM498.6 613.1h14.2v7.2h-14.2zM526.4 613.1h14.2v7.2h-14.2zM547.2 613.1h7.2v7.2h-7.2zM561.1 613.1h7.2v7.2h-7.2zM588.9 613.1h14.2v7.2h-14.2zM630.5 613.1h7.2v7.2h-7.2zM658.3 613.1h14.2v7.2h-14.2zM686.1 613.1h7.2v7.2h-7.2zM699.9 613.1h7.2v7.2h-7.2zM762.4 613.1h7.2v7.2h-7.2zM373.6 620h7.2v7.2h-7.2zM394.4 620h14.2v7.2h-14.2zM422.2 620h21.1v7.2h-21.1zM456.9 620h7.2v7.2h-7.2zM505.5 620h21.1v7.2h-21.1zM554.1 620h7.2v7.2h-7.2zM581.9 620h7.2v7.2h-7.2zM630.5 620h7.2v7.2h-7.2zM644.4 620h14.2v7.2h-14.2zM665.2 620h21.1v7.2h-21.1zM699.9 620h14.2v7.2h-14.2zM720.8 620h7.2v7.2h-7.2zM741.6 620h7.2v7.2h-7.2zM318.1 626.9h14.2v7.2h-14.2zM352.8 626.9h7.2v7.2h-7.2zM366.7 626.9h7.2v7.2h-7.2zM394.4 626.9h7.2v7.2h-7.2zM422.2 626.9h7.2v7.2h-7.2zM456.9 626.9h14.2v7.2h-14.2zM491.6 626.9h7.2v7.2h-7.2zM519.4 626.9h7.2v7.2h-7.2zM609.7 626.9h14.2v7.2h-14.2zM630.5 626.9h7.2v7.2h-7.2zM644.4 626.9h7.2v7.2h-7.2zM679.1 626.9h14.2v7.2h-14.2zM741.6 626.9h7.2v7.2h-7.2zM755.5 626.9h14.2v7.2h-14.2zM318.1 633.9h7.2v7.2h-7.2zM387.5 633.9h21.1v7.2h-21.1zM429.2 633.9h7.2v7.2h-7.2zM443 633.9h14.2v7.2h-14.2zM498.6 633.9h7.2v7.2h-7.2zM526.4 633.9h21.1v7.2h-21.1zM554.1 633.9h7.2v7.2h-7.2zM588.9 633.9h7.2v7.2h-7.2zM609.7 633.9h7.2v7.2h-7.2zM644.4 633.9h14.2v7.2h-14.2zM720.8 633.9h7.2v7.2h-7.2zM762.4 633.9h7.2v7.2h-7.2zM297.2 640.8h7.2v7.2h-7.2zM311.1 640.8h7.2v7.2h-7.2zM332 640.8h14.2v7.2h-14.2zM387.5 640.8h14.2v7.2h-14.2zM512.5 640.8h21.1v7.2h-21.1zM561.1 640.8h7.2v7.2h-7.2zM575 640.8h7.2v7.2h-7.2zM602.7 640.8h14.2v7.2h-14.2zM644.4 640.8h14.2v7.2h-14.2zM686.1 640.8h14.2v7.2h-14.2zM748.5 640.8h14.2v7.2h-14.2zM359.7 647.8h7.2v7.2h-7.2zM380.6 647.8h7.2v7.2h-7.2zM408.3 647.8h7.2v7.2h-7.2zM443 647.8h14.2v7.2h-14.2zM505.5 647.8h7.2v7.2h-7.2zM533.3 647.8h14.2v7.2h-14.2zM595.8 647.8h7.2v7.2h-7.2zM609.7 647.8h7.2v7.2h-7.2zM630.5 647.8h7.2v7.2h-7.2zM644.4 647.8h7.2v7.2h-7.2zM727.7 647.8h7.2v7.2h-7.2zM741.6 647.8h7.2v7.2h-7.2zM755.5 647.8h14.2v7.2h-14.2zM776.3 647.8h7.2v7.2h-7.2zM332 654.7h7.2v7.2h-7.2zM366.7 654.7h7.2v7.2h-7.2zM380.6 654.7h7.2v7.2h-7.2zM408.3 654.7h7.2v7.2h-7.2zM463.9 654.7h7.2v7.2h-7.2zM505.5 654.7h7.2v7.2h-7.2zM588.9 654.7h21.1v7.2h-21.1zM630.5 654.7h7.2v7.2h-7.2zM699.9 654.7h7.2v7.2h-7.2zM734.7 654.7h14.2v7.2h-14.2zM783.3 654.7h7.2v7.2h-7.2zM311.1 661.7h7.2v7.2h-7.2zM325 661.7h21.1v7.2h-21.1zM366.7 661.7h7.2v7.2h-7.2zM408.3 661.7h21.1v7.2h-21.1zM436.1 661.7h7.2v7.2h-7.2zM463.9 661.7h14.2v7.2h-14.2zM491.6 661.7h7.2v7.2h-7.2zM505.5 661.7h7.2v7.2h-7.2zM575 661.7h21.1v7.2h-21.1zM644.4 661.7h7.2v7.2h-7.2zM658.3 661.7h7.2v7.2h-7.2zM713.8 661.7h14.2v7.2h-14.2zM734.7 661.7h7.2v7.2h-7.2zM290.3 668.6h7.2v7.2h-7.2zM304.2 668.6h14.2v7.2h-14.2zM352.8 668.6h7.2v7.2h-7.2zM408.3 668.6h14.2v7.2h-14.2zM429.2 668.6h7.2v7.2h-7.2zM443 668.6h7.2v7.2h-7.2zM512.5 668.6h7.2v7.2h-7.2zM533.3 668.6h14.2v7.2h-14.2zM637.5 668.6h7.2v7.2h-7.2zM658.3 668.6h7.2v7.2h-7.2zM693 668.6h7.2v7.2h-7.2zM720.8 668.6h14.2v7.2h-14.2zM769.4 668.6h7.2v7.2h-7.2zM297.2 675.5h7.2v7.2h-7.2zM325 675.5h21.1v7.2h-21.1zM352.8 675.5h7.2v7.2h-7.2zM373.6 675.5h14.2v7.2h-14.2zM394.4 675.5h21.1v7.2h-21.1zM422.2 675.5h14.2v7.2h-14.2zM443 675.5h7.2v7.2h-7.2zM491.6 675.5h14.2v7.2h-14.2zM526.4 675.5h7.2v7.2h-7.2zM547.2 675.5h7.2v7.2h-7.2zM623.6 675.5h21.1v7.2h-21.1zM651.3 675.5h7.2v7.2h-7.2zM665.2 675.5h14.2v7.2h-14.2zM686.1 675.5h7.2v7.2h-7.2zM706.9 675.5h7.2v7.2h-7.2zM727.7 675.5h7.2v7.2h-7.2zM755.5 675.5h21.1v7.2h-21.1zM290.3 682.5h7.2v7.2h-7.2zM318.1 682.5h14.2v7.2h-14.2zM352.8 682.5h14.2v7.2h-14.2zM373.6 682.5h7.2v7.2h-7.2zM394.4 682.5h7.2v7.2h-7.2zM422.2 682.5h14.2v7.2h-14.2zM519.4 682.5h7.2v7.2h-7.2zM540.2 682.5h7.2v7.2h-7.2zM630.5 682.5h21.1v7.2h-21.1zM665.2 682.5h7.2v7.2h-7.2zM699.9 682.5h7.2v7.2h-7.2zM734.7 682.5h7.2v7.2h-7.2zM755.5 682.5h7.2v7.2h-7.2zM318.1 689.4h7.2v7.2h-7.2zM332 689.4h21.1v7.2h-21.1zM366.7 689.4h14.2v7.2h-14.2zM401.4 689.4h7.2v7.2h-7.2zM415.3 689.4h14.2v7.2h-14.2zM436.1 689.4h7.2v7.2h-7.2zM456.9 689.4h21.1v7.2h-21.1zM491.6 689.4h7.2v7.2h-7.2zM512.5 689.4h7.2v7.2h-7.2zM540.2 689.4h7.2v7.2h-7.2zM575 689.4h14.2v7.2h-14.2zM602.7 689.4h14.2v7.2h-14.2zM720.8 689.4h7.2v7.2h-7.2zM734.7 689.4h14.2v7.2h-14.2zM311.1 696.4h7.2v7.2h-7.2zM345.8 696.4h7.2v7.2h-7.2zM366.7 696.4h7.2v7.2h-7.2zM380.6 696.4h7.2v7.2h-7.2zM394.4 696.4h7.2v7.2h-7.2zM408.3 696.4h7.2v7.2h-7.2zM443 696.4h7.2v7.2h-7.2zM470.8 696.4h7.2v7.2h-7.2zM484.7 696.4h14.2v7.2h-14.2zM505.5 696.4h7.2v7.2h-7.2zM526.4 696.4h7.2v7.2h-7.2zM547.2 696.4h7.2v7.2h-7.2zM581.9 696.4h7.2v7.2h-7.2zM595.8 696.4h14.2v7.2h-14.2zM630.5 696.4h14.2v7.2h-14.2zM672.2 696.4h7.2v7.2h-7.2zM720.8 696.4h14.2v7.2h-14.2zM776.3 696.4h7.2v7.2h-7.2zM345.8 703.3h14.2v7.2h-14.2zM366.7 703.3h7.2v7.2h-7.2zM380.6 703.3h7.2v7.2h-7.2zM408.3 703.3h14.2v7.2h-14.2zM477.8 703.3h14.2v7.2h-14.2zM498.6 703.3h7.2v7.2h-7.2zM554.1 703.3h7.2v7.2h-7.2zM568 703.3h7.2v7.2h-7.2zM616.6 703.3h7.2v7.2h-7.2zM630.5 703.3h7.2v7.2h-7.2zM644.4 703.3h7.2v7.2h-7.2zM665.2 703.3h7.2v7.2h-7.2zM679.1 703.3h7.2v7.2h-7.2zM693 703.3h7.2v7.2h-7.2zM720.8 703.3h7.2v7.2h-7.2zM741.6 703.3h28.1v7.2h-28.1zM783.3 703.3h7.2v7.2h-7.2zM311.1 710.3h7.2v7.2h-7.2zM338.9 710.3h21.1v7.2h-21.1zM401.4 710.3h7.2v7.2h-7.2zM429.2 710.3h7.2v7.2h-7.2zM477.8 710.3h7.2v7.2h-7.2zM491.6 710.3h28.1v7.2h-28.1zM554.1 710.3h7.2v7.2h-7.2zM602.7 710.3h21.1v7.2h-21.1zM630.5 710.3h7.2v7.2h-7.2zM644.4 710.3h7.2v7.2h-7.2zM665.2 710.3h7.2v7.2h-7.2zM679.1 710.3h14.2v7.2h-14.2zM706.9 710.3h21.1v7.2h-21.1zM734.7 710.3h7.2v7.2h-7.2zM748.5 710.3h7.2v7.2h-7.2zM762.4 710.3h7.2v7.2h-7.2zM776.3 710.3h7.2v7.2h-7.2zM311.1 717.2h7.2v7.2h-7.2zM380.6 717.2h7.2v7.2h-7.2zM394.4 717.2h21.1v7.2h-21.1zM443 717.2h14.2v7.2h-14.2zM463.9 717.2h21.1v7.2h-21.1zM491.6 717.2h14.2v7.2h-14.2zM554.1 717.2h7.2v7.2h-7.2zM568 717.2h14.2v7.2h-14.2zM588.9 717.2h7.2v7.2h-7.2zM602.7 717.2h7.2v7.2h-7.2zM623.6 717.2h14.2v7.2h-14.2zM644.4 717.2h7.2v7.2h-7.2zM665.2 717.2h14.2v7.2h-14.2zM706.9 717.2h7.2v7.2h-7.2zM720.8 717.2h14.2v7.2h-14.2zM762.4 717.2h7.2v7.2h-7.2zM783.3 717.2h7.2v7.2h-7.2zM290.3 724.2h14.2v7.2h-14.2zM311.1 724.2h7.2v7.2h-7.2zM325 724.2h7.2v7.2h-7.2zM380.6 724.2h7.2v7.2h-7.2zM394.4 724.2h7.2v7.2h-7.2zM470.8 724.2h7.2v7.2h-7.2zM519.4 724.2h7.2v7.2h-7.2zM575 724.2h7.2v7.2h-7.2zM588.9 724.2h7.2v7.2h-7.2zM609.7 724.2h7.2v7.2h-7.2zM630.5 724.2h21.1v7.2h-21.1zM658.3 724.2h7.2v7.2h-7.2zM686.1 724.2h7.2v7.2h-7.2zM727.7 724.2h7.2v7.2h-7.2zM776.3 724.2h14.2v7.2h-14.2zM297.2 731.1h7.2v7.2h-7.2zM325 731.1h7.2v7.2h-7.2zM359.7 731.1h7.2v7.2h-7.2zM387.5 731.1h7.2v7.2h-7.2zM470.8 731.1h21.1v7.2h-21.1zM533.3 731.1h7.2v7.2h-7.2zM554.1 731.1h7.2v7.2h-7.2zM637.5 731.1h21.1v7.2h-21.1zM679.1 731.1h14.2v7.2h-14.2zM720.8 731.1h7.2v7.2h-7.2zM734.7 731.1h7.2v7.2h-7.2zM755.5 731.1h7.2v7.2h-7.2zM783.3 731.1h7.2v7.2h-7.2zM297.2 738h14.2v7.2h-14.2zM352.8 738h7.2v7.2h-7.2zM380.6 738h7.2v7.2h-7.2zM401.4 738h14.2v7.2h-14.2zM436.1 738h14.2v7.2h-14.2zM484.7 738h7.2v7.2h-7.2zM498.6 738h7.2v7.2h-7.2zM547.2 738h28.1v7.2h-28.1zM609.7 738h7.2v7.2h-7.2zM630.5 738h14.2v7.2h-14.2zM651.3 738h14.2v7.2h-14.2zM672.2 738h7.2v7.2h-7.2zM699.9 738h7.2v7.2h-7.2zM769.4 738h7.2v7.2h-7.2zM304.2 745h7.2v7.2h-7.2zM345.8 745h14.2v7.2h-14.2zM394.4 745h21.1v7.2h-21.1zM422.2 745h7.2v7.2h-7.2zM443 745h7.2v7.2h-7.2zM484.7 745h35v7.2h-35zM547.2 745h14.2v7.2h-14.2zM609.7 745h7.2v7.2h-7.2zM623.6 745h14.2v7.2h-14.2zM644.4 745h14.2v7.2h-14.2zM693 745h7.2v7.2h-7.2zM713.8 745h7.2v7.2h-7.2zM332 751.9h7.2v7.2h-7.2zM359.7 751.9h21.1v7.2h-21.1zM484.7 751.9h7.2v7.2h-7.2zM512.5 751.9h7.2v7.2h-7.2zM568 751.9h7.2v7.2h-7.2zM595.8 751.9h7.2v7.2h-7.2zM609.7 751.9h7.2v7.2h-7.2zM720.8 751.9h14.2v7.2h-14.2zM783.3 751.9h7.2v7.2h-7.2zM290.3 758.9h14.2v7.2h-14.2zM345.8 758.9h7.2v7.2h-7.2zM373.6 758.9h7.2v7.2h-7.2zM387.5 758.9h7.2v7.2h-7.2zM415.3 758.9h7.2v7.2h-7.2zM484.7 758.9h21.1v7.2h-21.1zM512.5 758.9h7.2v7.2h-7.2zM533.3 758.9h7.2v7.2h-7.2zM595.8 758.9h7.2v7.2h-7.2zM630.5 758.9h7.2v7.2h-7.2zM658.3 758.9h7.2v7.2h-7.2zM699.9 758.9h21.1v7.2h-21.1zM755.5 758.9h35v7.2h-35zM290.3 765.8h7.2v7.2h-7.2zM304.2 765.8h7.2v7.2h-7.2zM325 765.8h7.2v7.2h-7.2zM373.6 765.8h21.1v7.2h-21.1zM401.4 765.8h7.2v7.2h-7.2zM512.5 765.8h7.2v7.2h-7.2zM526.4 765.8h14.2v7.2h-14.2zM588.9 765.8h7.2v7.2h-7.2zM637.5 765.8h7.2v7.2h-7.2zM658.3 765.8h7.2v7.2h-7.2zM693 765.8h7.2v7.2h-7.2zM713.8 765.8h48.9v7.2h-48.9zM318.1 772.8h14.2v7.2h-14.2zM359.7 772.8h7.2v7.2h-7.2zM408.3 772.8h7.2v7.2h-7.2zM443 772.8h7.2v7.2h-7.2zM484.7 772.8h7.2v7.2h-7.2zM512.5 772.8h7.2v7.2h-7.2zM588.9 772.8h14.2v7.2h-14.2zM616.6 772.8h7.2v7.2h-7.2zM637.5 772.8h7.2v7.2h-7.2zM672.2 772.8h7.2v7.2h-7.2zM693 772.8h28.1v7.2h-28.1zM727.7 772.8h14.2v7.2h-14.2zM748.5 772.8h14.2v7.2h-14.2zM769.4 772.8h7.2v7.2h-7.2zM318.1 779.7h7.2v7.2h-7.2zM338.9 779.7h7.2v7.2h-7.2zM352.8 779.7h7.2v7.2h-7.2zM443 779.7h7.2v7.2h-7.2zM658.3 779.7h7.2v7.2h-7.2zM679.1 779.7h7.2v7.2h-7.2zM720.8 779.7h14.2v7.2h-14.2zM741.6 779.7h14.2v7.2h-14.2zM290.3 786.6h7.2v7.2h-7.2zM359.7 786.6h7.2v7.2h-7.2zM415.3 786.6h7.2v7.2h-7.2zM547.2 786.6h7.2v7.2h-7.2zM575 786.6h21.1v7.2h-21.1zM602.7 786.6h7.2v7.2h-7.2zM658.3 786.6h7.2v7.2h-7.2zM686.1 786.6h7.2v7.2h-7.2zM699.9 786.6h7.2v7.2h-7.2zM755.5 786.6h7.2v7.2h-7.2zM783.3 786.6h7.2v7.2h-7.2zM290.3 793.6h7.2v7.2h-7.2zM311.1 793.6h14.2v7.2h-14.2zM366.7 793.6h7.2v7.2h-7.2zM380.6 793.6h7.2v7.2h-7.2zM415.3 793.6h7.2v7.2h-7.2zM429.2 793.6h7.2v7.2h-7.2zM443 793.6h7.2v7.2h-7.2zM519.4 793.6h7.2v7.2h-7.2zM540.2 793.6h7.2v7.2h-7.2zM568 793.6h7.2v7.2h-7.2zM609.7 793.6h14.2v7.2h-14.2zM658.3 793.6h7.2v7.2h-7.2zM672.2 793.6h7.2v7.2h-7.2zM699.9 793.6h7.2v7.2h-7.2zM713.8 793.6h7.2v7.2h-7.2zM783.3 793.6h7.2v7.2h-7.2zM311.1 800.5h21.1v7.2h-21.1zM345.8 800.5h7.2v7.2h-7.2zM366.7 800.5h7.2v7.2h-7.2zM387.5 800.5h21.1v7.2h-21.1zM415.3 800.5h14.2v7.2h-14.2zM436.1 800.5h7.2v7.2h-7.2zM450 800.5h14.2v7.2h-14.2zM477.8 800.5h7.2v7.2h-7.2zM519.4 800.5h7.2v7.2h-7.2zM540.2 800.5h14.2v7.2h-14.2zM602.7 800.5h28.1v7.2h-28.1zM651.3 800.5h7.2v7.2h-7.2zM679.1 800.5h28.1v7.2h-28.1zM713.8 800.5h7.2v7.2h-7.2zM727.7 800.5h14.2v7.2h-14.2zM755.5 800.5h7.2v7.2h-7.2zM776.3 800.5h7.2v7.2h-7.2zM297.2 807.5h14.2v7.2h-14.2zM325 807.5h7.2v7.2h-7.2zM345.8 807.5h7.2v7.2h-7.2zM359.7 807.5h7.2v7.2h-7.2zM408.3 807.5h14.2v7.2h-14.2zM443 807.5h7.2v7.2h-7.2zM470.8 807.5h14.2v7.2h-14.2zM498.6 807.5h21.1v7.2h-21.1zM540.2 807.5h7.2v7.2h-7.2zM561.1 807.5h14.2v7.2h-14.2zM630.5 807.5h28.1v7.2h-28.1zM686.1 807.5h7.2v7.2h-7.2zM720.8 807.5h7.2v7.2h-7.2zM769.4 807.5h7.2v7.2h-7.2zM318.1 814.4h14.2v7.2h-14.2zM338.9 814.4h7.2v7.2h-7.2zM380.6 814.4h14.2v7.2h-14.2zM401.4 814.4h7.2v7.2h-7.2zM422.2 814.4h7.2v7.2h-7.2zM463.9 814.4h7.2v7.2h-7.2zM491.6 814.4h7.2v7.2h-7.2zM526.4 814.4h7.2v7.2h-7.2zM540.2 814.4h7.2v7.2h-7.2zM568 814.4h7.2v7.2h-7.2zM616.6 814.4h7.2v7.2h-7.2zM644.4 814.4h7.2v7.2h-7.2zM686.1 814.4h14.2v7.2h-14.2zM734.7 814.4h42v7.2h-42zM297.2 821.4h14.2v7.2h-14.2zM373.6 821.4h14.2v7.2h-14.2zM408.3 821.4h7.2v7.2h-7.2zM484.7 821.4h14.2v7.2h-14.2zM519.4 821.4h7.2v7.2h-7.2zM595.8 821.4h7.2v7.2h-7.2zM623.6 821.4h7.2v7.2h-7.2zM644.4 821.4h7.2v7.2h-7.2zM665.2 821.4h14.2v7.2h-14.2zM686.1 821.4h14.2v7.2h-14.2zM713.8 821.4h14.2v7.2h-14.2zM741.6 821.4h14.2v7.2h-14.2zM769.4 821.4h14.2v7.2h-14.2zM297.2 828.3h7.2v7.2h-7.2zM345.8 828.3h7.2v7.2h-7.2zM359.7 828.3h14.2v7.2h-14.2zM380.6 828.3h21.1v7.2h-21.1zM443 828.3h7.2v7.2h-7.2zM456.9 828.3h7.2v7.2h-7.2zM470.8 828.3h7.2v7.2h-7.2zM519.4 828.3h14.2v7.2h-14.2zM554.1 828.3h7.2v7.2h-7.2zM575 828.3h7.2v7.2h-7.2zM588.9 828.3h7.2v7.2h-7.2zM630.5 828.3h7.2v7.2h-7.2zM658.3 828.3h21.1v7.2h-21.1zM734.7 828.3h7.2v7.2h-7.2zM332 835.2h7.2v7.2h-7.2zM359.7 835.2h7.2v7.2h-7.2zM387.5 835.2h7.2v7.2h-7.2zM422.2 835.2h14.2v7.2h-14.2zM443 835.2h7.2v7.2h-7.2zM470.8 835.2h7.2v7.2h-7.2zM491.6 835.2h7.2v7.2h-7.2zM547.2 835.2h7.2v7.2h-7.2zM602.7 835.2h28.1v7.2h-28.1zM637.5 835.2h14.2v7.2h-14.2zM658.3 835.2h7.2v7.2h-7.2zM672.2 835.2h14.2v7.2h-14.2zM720.8 835.2h21.1v7.2h-21.1zM748.5 835.2h14.2v7.2h-14.2zM290.3 842.2h14.2v7.2h-14.2zM415.3 842.2h7.2v7.2h-7.2zM429.2 842.2h14.2v7.2h-14.2zM491.6 842.2h7.2v7.2h-7.2zM540.2 842.2h14.2v7.2h-14.2zM595.8 842.2h7.2v7.2h-7.2zM651.3 842.2h14.2v7.2h-14.2zM672.2 842.2h14.2v7.2h-14.2zM713.8 842.2h28.1v7.2h-28.1zM748.5 842.2h7.2v7.2h-7.2zM769.4 842.2h7.2v7.2h-7.2zM304.2 849.1h7.2v7.2h-7.2zM325 849.1h14.2v7.2h-14.2zM394.4 849.1h14.2v7.2h-14.2zM415.3 849.1h7.2v7.2h-7.2zM429.2 849.1h14.2v7.2h-14.2zM554.1 849.1h7.2v7.2h-7.2zM575 849.1h14.2v7.2h-14.2zM623.6 849.1h14.2v7.2h-14.2zM644.4 849.1h7.2v7.2h-7.2zM658.3 849.1h28.1v7.2h-28.1zM699.9 849.1h14.2v7.2h-14.2zM720.8 849.1h7.2v7.2h-7.2zM734.7 849.1h7.2v7.2h-7.2zM755.5 849.1h7.2v7.2h-7.2zM783.3 849.1h7.2v7.2h-7.2zM297.2 856.1h14.2v7.2h-14.2zM318.1 856.1h7.2v7.2h-7.2zM338.9 856.1h7.2v7.2h-7.2zM352.8 856.1h14.2v7.2h-14.2zM408.3 856.1h7.2v7.2h-7.2zM422.2 856.1h14.2v7.2h-14.2zM484.7 856.1h7.2v7.2h-7.2zM505.5 856.1h7.2v7.2h-7.2zM540.2 856.1h7.2v7.2h-7.2zM568 856.1h14.2v7.2h-14.2zM595.8 856.1h7.2v7.2h-7.2zM637.5 856.1h7.2v7.2h-7.2zM679.1 856.1h7.2v7.2h-7.2zM727.7 856.1h14.2v7.2h-14.2zM755.5 856.1h14.2v7.2h-14.2zM352.8 863h7.2v7.2h-7.2zM380.6 863h7.2v7.2h-7.2zM408.3 863h7.2v7.2h-7.2zM422.2 863h14.2v7.2h-14.2zM470.8 863h7.2v7.2h-7.2zM526.4 863h7.2v7.2h-7.2zM575 863h21.1v7.2h-21.1zM609.7 863h7.2v7.2h-7.2zM623.6 863h28.1v7.2h-28.1zM665.2 863h14.2v7.2h-14.2zM720.8 863h7.2v7.2h-7.2zM762.4 863h28.1v7.2h-28.1zM297.2 870h7.2v7.2h-7.2zM332 870h7.2v7.2h-7.2zM408.3 870h14.2v7.2h-14.2zM554.1 870h21.1v7.2h-21.1zM651.3 870h7.2v7.2h-7.2zM686.1 870h14.2v7.2h-14.2zM713.8 870h14.2v7.2h-14.2zM769.4 870h21.1v7.2h-21.1zM297.2 876.9h14.2v7.2h-14.2zM338.9 876.9h7.2v7.2h-7.2zM359.7 876.9h7.2v7.2h-7.2zM408.3 876.9h14.2v7.2h-14.2zM512.5 876.9h7.2v7.2h-7.2zM533.3 876.9h7.2v7.2h-7.2zM561.1 876.9h14.2v7.2h-14.2zM720.8 876.9h7.2v7.2h-7.2zM748.5 876.9h28.1v7.2h-28.1zM297.2 883.8h28.1v7.2h-28.1zM380.6 883.8h7.2v7.2h-7.2zM401.4 883.8h7.2v7.2h-7.2zM450 883.8h7.2v7.2h-7.2zM512.5 883.8h7.2v7.2h-7.2zM526.4 883.8h14.2v7.2h-14.2zM554.1 883.8h7.2v7.2h-7.2zM568 883.8h21.1v7.2h-21.1zM630.5 883.8h7.2v7.2h-7.2zM658.3 883.8h7.2v7.2h-7.2zM713.8 883.8h14.2v7.2h-14.2zM769.4 883.8h7.2v7.2h-7.2zM783.3 883.8h7.2v7.2h-7.2zM297.2 890.8h7.2v7.2h-7.2zM332 890.8h7.2v7.2h-7.2zM387.5 890.8h21.1v7.2h-21.1zM443 890.8h7.2v7.2h-7.2zM477.8 890.8h7.2v7.2h-7.2zM512.5 890.8h14.2v7.2h-14.2zM568 890.8h14.2v7.2h-14.2zM588.9 890.8h7.2v7.2h-7.2zM623.6 890.8h21.1v7.2h-21.1zM651.3 890.8h7.2v7.2h-7.2zM672.2 890.8h28.1v7.2h-28.1zM713.8 890.8h21.1v7.2h-21.1zM297.2 897.7h28.1v7.2h-28.1zM332 897.7h21.1v7.2h-21.1zM366.7 897.7h7.2v7.2h-7.2zM380.6 897.7h7.2v7.2h-7.2zM394.4 897.7h14.2v7.2h-14.2zM415.3 897.7h7.2v7.2h-7.2zM477.8 897.7h7.2v7.2h-7.2zM512.5 897.7h21.1v7.2h-21.1zM547.2 897.7h14.2v7.2h-14.2zM575 897.7h21.1v7.2h-21.1zM630.5 897.7h7.2v7.2h-7.2zM644.4 897.7h7.2v7.2h-7.2zM720.8 897.7h7.2v7.2h-7.2zM290.3 904.7h21.1v7.2h-21.1zM325 904.7h21.1v7.2h-21.1zM373.6 904.7h14.2v7.2h-14.2zM450 904.7h7.2v7.2h-7.2zM477.8 904.7h28.1v7.2h-28.1zM519.4 904.7h7.2v7.2h-7.2zM540.2 904.7h14.2v7.2h-14.2zM568 904.7h7.2v7.2h-7.2zM595.8 904.7h7.2v7.2h-7.2zM623.6 904.7h7.2v7.2h-7.2zM734.7 904.7h7.2v7.2h-7.2zM762.4 904.7h7.2v7.2h-7.2zM783.3 904.7h7.2v7.2h-7.2zM297.2 911.6h7.2v7.2h-7.2zM325 911.6h21.1v7.2h-21.1zM352.8 911.6h7.2v7.2h-7.2zM373.6 911.6h35v7.2h-35zM436.1 911.6h7.2v7.2h-7.2zM463.9 911.6h14.2v7.2h-14.2zM491.6 911.6h14.2v7.2h-14.2zM526.4 911.6h7.2v7.2h-7.2zM547.2 911.6h7.2v7.2h-7.2zM568 911.6h7.2v7.2h-7.2zM616.6 911.6h14.2v7.2h-14.2zM644.4 911.6h7.2v7.2h-7.2zM672.2 911.6h14.2v7.2h-14.2zM706.9 911.6h14.2v7.2h-14.2zM748.5 911.6h7.2v7.2h-7.2zM318.1 918.6h7.2v7.2h-7.2zM338.9 918.6h14.2v7.2h-14.2zM401.4 918.6h7.2v7.2h-7.2zM422.2 918.6h7.2v7.2h-7.2zM436.1 918.6h14.2v7.2h-14.2zM484.7 918.6h21.1v7.2h-21.1zM526.4 918.6h14.2v7.2h-14.2zM658.3 918.6h7.2v7.2h-7.2zM727.7 918.6h7.2v7.2h-7.2zM776.3 918.6h7.2v7.2h-7.2zM311.1 925.5h21.1v7.2h-21.1zM359.7 925.5h7.2v7.2h-7.2zM380.6 925.5h7.2v7.2h-7.2zM401.4 925.5h14.2v7.2h-14.2zM429.2 925.5h7.2v7.2h-7.2zM450 925.5h28.1v7.2h-28.1zM512.5 925.5h7.2v7.2h-7.2zM526.4 925.5h21.1v7.2h-21.1zM561.1 925.5h14.2v7.2h-14.2zM595.8 925.5h14.2v7.2h-14.2zM616.6 925.5h7.2v7.2h-7.2zM658.3 925.5h42v7.2h-42zM720.8 925.5h14.2v7.2h-14.2zM762.4 925.5h7.2v7.2h-7.2zM318.1 932.4h7.2v7.2h-7.2zM338.9 932.4h7.2v7.2h-7.2zM373.6 932.4h14.2v7.2h-14.2zM422.2 932.4h7.2v7.2h-7.2zM470.8 932.4h14.2v7.2h-14.2zM505.5 932.4h7.2v7.2h-7.2zM519.4 932.4h7.2v7.2h-7.2zM533.3 932.4h7.2v7.2h-7.2zM568 932.4h7.2v7.2h-7.2zM616.6 932.4h7.2v7.2h-7.2zM630.5 932.4h7.2v7.2h-7.2zM644.4 932.4h14.2v7.2h-14.2zM672.2 932.4h7.2v7.2h-7.2zM686.1 932.4h7.2v7.2h-7.2zM699.9 932.4h7.2v7.2h-7.2zM734.7 932.4h7.2v7.2h-7.2zM352.8 939.4h14.2v7.2h-14.2zM401.4 939.4h7.2v7.2h-7.2zM415.3 939.4h7.2v7.2h-7.2zM456.9 939.4h14.2v7.2h-14.2zM477.8 939.4h7.2v7.2h-7.2zM498.6 939.4h7.2v7.2h-7.2zM526.4 939.4h7.2v7.2h-7.2zM561.1 939.4h28.1v7.2h-28.1zM630.5 939.4h7.2v7.2h-7.2zM644.4 939.4h7.2v7.2h-7.2zM706.9 939.4h7.2v7.2h-7.2zM734.7 939.4h14.2v7.2h-14.2zM755.5 939.4h14.2v7.2h-14.2zM304.2 946.3h7.2v7.2h-7.2zM332 946.3h7.2v7.2h-7.2zM345.8 946.3h7.2v7.2h-7.2zM359.7 946.3h7.2v7.2h-7.2zM373.6 946.3h7.2v7.2h-7.2zM387.5 946.3h7.2v7.2h-7.2zM415.3 946.3h14.2v7.2h-14.2zM456.9 946.3h7.2v7.2h-7.2zM470.8 946.3h7.2v7.2h-7.2zM498.6 946.3h7.2v7.2h-7.2zM526.4 946.3h7.2v7.2h-7.2zM568 946.3h28.1v7.2h-28.1zM630.5 946.3h7.2v7.2h-7.2zM672.2 946.3h7.2v7.2h-7.2zM693 946.3h7.2v7.2h-7.2zM706.9 946.3h14.2v7.2h-14.2zM727.7 946.3h7.2v7.2h-7.2zM304.2 953.3h7.2v7.2h-7.2zM366.7 953.3h14.2v7.2h-14.2zM394.4 953.3h21.1v7.2h-21.1zM436.1 953.3h7.2v7.2h-7.2zM450 953.3h7.2v7.2h-7.2zM470.8 953.3h7.2v7.2h-7.2zM491.6 953.3h14.2v7.2h-14.2zM526.4 953.3h28.1v7.2h-28.1zM561.1 953.3h7.2v7.2h-7.2zM575 953.3h7.2v7.2h-7.2zM588.9 953.3h14.2v7.2h-14.2zM637.5 953.3h7.2v7.2h-7.2zM679.1 953.3h7.2v7.2h-7.2zM699.9 953.3h35v7.2h-35zM748.5 953.3h7.2v7.2h-7.2zM776.3 953.3h7.2v7.2h-7.2zM304.2 960.2h7.2v7.2h-7.2zM352.8 960.2h14.2v7.2h-14.2zM401.4 960.2h42v7.2h-42zM450 960.2h35v7.2h-35zM491.6 960.2h7.2v7.2h-7.2zM526.4 960.2h14.2v7.2h-14.2zM547.2 960.2h21.1v7.2h-21.1zM575 960.2h7.2v7.2h-7.2zM595.8 960.2h7.2v7.2h-7.2zM616.6 960.2h7.2v7.2h-7.2zM679.1 960.2h14.2v7.2h-14.2zM713.8 960.2h21.1v7.2h-21.1zM338.9 967.2h14.2v7.2h-14.2zM359.7 967.2h7.2v7.2h-7.2zM373.6 967.2h7.2v7.2h-7.2zM443 967.2h7.2v7.2h-7.2zM477.8 967.2h7.2v7.2h-7.2zM512.5 967.2h7.2v7.2h-7.2zM526.4 967.2h7.2v7.2h-7.2zM540.2 967.2h7.2v7.2h-7.2zM581.9 967.2h7.2v7.2h-7.2zM609.7 967.2h14.2v7.2h-14.2zM651.3 967.2h21.1v7.2h-21.1zM679.1 967.2h7.2v7.2h-7.2zM713.8 967.2h21.1v7.2h-21.1zM776.3 967.2h7.2v7.2h-7.2z" fill="#e0e4e4"/>
<path d="M318.1 474.2h7.2v7.2h-7.2zM338.9 474.2h7.2v7.2h-7.2zM380.6 474.2h7.2v7.2h-7.2zM422.2 474.2h7.2v7.2h-7.2zM463.9 474.2h14.2v7.2h-14.2zM498.6 474.2h7.2v7.2h-7.2zM526.4 474.2h7.2v7.2h-7.2zM540.2 474.2h7.2v7.2h-7.2zM588.9 474.2h7.2v7.2h-7.2zM679.1 474.2h7.2v7.2h-7.2zM720.8 474.2h7.2v7.2h-7.2zM741.6 474.2h7.2v7.2h-7.2zM762.4 474.2h14.2v7.2h-14.2zM366.7 481.1h7.2v7.2h-7.2zM380.6 481.1h14.2v7.2h-14.2zM443 481.1h7.2v7.2h-7.2zM477.8 481.1h14.2v7.2h-14.2zM505.5 481.1h14.2v7.2h-14.2zM581.9 481.1h14.2v7.2h-14.2zM602.7 481.1h14.2v7.2h-14.2zM630.5 481.1h7.2v7.2h-7.2zM706.9 481.1h21.1v7.2h-21.1zM734.7 481.1h14.2v7.2h-14.2zM755.5 481.1h7.2v7.2h-7.2zM783.3 481.1h7.2v7.2h-7.2zM290.3 488.1h7.2v7.2h-7.2zM311.1 488.1h7.2v7.2h-7.2zM325 488.1h14.2v7.2h-14.2zM345.8 488.1h7.2v7.2h-7.2zM373.6 488.1h7.2v7.2h-7.2zM463.9 488.1h14.2v7.2h-14.2zM505.5 488.1h7.2v7.2h-7.2zM575 488.1h7.2v7.2h-7.2zM651.3 488.1h7.2v7.2h-7.2zM679.1 488.1h7.2v7.2h-7.2zM693 488.1h7.2v7.2h-7.2zM706.9 488.1h7.2v7.2h-7.2zM741.6 488.1h7.2v7.2h-7.2zM755.5 488.1h7.2v7.2h-7.2zM783.3 488.1h7.2v7.2h-7.2zM290.3 495h7.2v7.2h-7.2zM338.9 495h14.2v7.2h-14.2zM373.6 495h7.2v7.2h-7.2zM443 495h7.2v7.2h-7.2zM519.4 495h14.2v7.2h-14.2zM581.9 495h7.2v7.2h-7.2zM609.7 495h14.2v7.2h-14.2zM637.5 495h7.2v7.2h-7.2zM651.3 495h7.2v7.2h-7.2zM755.5 495h7.2v7.2h-7.2zM783.3 495h7.2v7.2h-7.2zM332 502h7.2v7.2h-7.2zM387.5 502h14.2v7.2h-14.2zM443 502h14.2v7.2h-14.2zM477.8 502h7.2v7.2h-7.2zM526.4 502h14.2v7.2h-14.2zM554.1 502h7.2v7.2h-7.2zM602.7 502h21.1v7.2h-21.1zM630.5 502h14.2v7.2h-14.2zM672.2 502h21.1v7.2h-21.1zM769.4 502h7.2v7.2h-7.2zM783.3 502h7.2v7.2h-7.2zM325 508.9h7.2v7.2h-7.2zM366.7 508.9h7.2v7.2h-7.2zM394.4 508.9h14.2v7.2h-14.2zM450 508.9h7.2v7.2h-7.2zM470.8 508.9h7.2v7.2h-7.2zM581.9 508.9h7.2v7.2h-7.2zM665.2 508.9h7.2v7.2h-7.2zM686.1 508.9h7.2v7.2h-7.2zM706.9 508.9h7.2v7.2h-7.2zM734.7 508.9h7.2v7.2h-7.2zM748.5 508.9h35v7.2h-35zM345.8 515.9h7.2v7.2h-7.2zM422.2 515.9h7.2v7.2h-7.2zM436.1 515.9h14.2v7.2h-14.2zM498.6 515.9h14.2v7.2h-14.2zM581.9 515.9h7.2v7.2h-7.2zM602.7 515.9h7.2v7.2h-7.2zM616.6 515.9h7.2v7.2h-7.2zM658.3 515.9h14.2v7.2h-14.2zM720.8 515.9h7.2v7.2h-7.2zM769.4 515.9h14.2v7.2h-14.2zM373.6 522.8h7.2v7.2h-7.2zM387.5 522.8h21.1v7.2h-21.1zM422.2 522.8h7.2v7.2h-7.2zM463.9 522.8h7.2v7.2h-7.2zM484.7 522.8h7.2v7.2h-7.2zM498.6 522.8h14.2v7.2h-14.2zM526.4 522.8h14.2v7.2h-14.2zM561.1 522.8h7.2v7.2h-7.2zM616.6 522.8h7.2v7.2h-7.2zM637.5 522.8h7.2v7.2h-7.2zM693 522.8h14.2v7.2h-14.2zM783.3 522.8h7.2v7.2h-7.2zM422.2 529.7h7.2v7.2h-7.2zM463.9 529.7h7.2v7.2h-7.2zM484.7 529.7h14.2v7.2h-14.2zM568 529.7h7.2v7.2h-7.2zM616.6 529.7h7.2v7.2h-7.2zM637.5 529.7h7.2v7.2h-7.2zM651.3 529.7h7.2v7.2h-7.2zM699.9 529.7h7.2v7.2h-7.2zM713.8 529.7h7.2v7.2h-7.2zM748.5 529.7h21.1v7.2h-21.1zM366.7 536.7h21.1v7.2h-21.1zM408.3 536.7h7.2v7.2h-7.2zM436.1 536.7h14.2v7.2h-14.2zM470.8 536.7h7.2v7.2h-7.2zM491.6 536.7h7.2v7.2h-7.2zM519.4 536.7h7.2v7.2h-7.2zM554.1 536.7h7.2v7.2h-7.2zM581.9 536.7h14.2v7.2h-14.2zM616.6 536.7h7.2v7.2h-7.2zM630.5 536.7h7.2v7.2h-7.2zM651.3 536.7h7.2v7.2h-7.2zM672.2 536.7h7.2v7.2h-7.2zM727.7 536.7h7.2v7.2h-7.2zM769.4 536.7h14.2v7.2h-14.2zM290.3 543.6h21.1v7.2h-21.1zM325 543.6h7.2v7.2h-7.2zM352.8 543.6h14.2v7.2h-14.2zM380.6 543.6h7.2v7.2h-7.2zM408.3 543.6h7.2v7.2h-7.2zM463.9 543.6h7.2v7.2h-7.2zM519.4 543.6h14.2v7.2h-14.2zM547.2 543.6h7.2v7.2h-7.2zM623.6 543.6h7.2v7.2h-7.2zM665.2 543.6h7.2v7.2h-7.2zM741.6 543.6h7.2v7.2h-7.2zM755.5 543.6h14.2v7.2h-14.2zM304.2 550.6h7.2v7.2h-7.2zM352.8 550.6h7.2v7.2h-7.2zM366.7 550.6h7.2v7.2h-7.2zM394.4 550.6h14.2v7.2h-14.2zM450 550.6h7.2v7.2h-7.2zM505.5 550.6h21.1v7.2h-21.1zM547.2 550.6h7.2v7.2h-7.2zM741.6 550.6h7.2v7.2h-7.2zM304.2 557.5h7.2v7.2h-7.2zM345.8 557.5h14.2v7.2h-14.2zM394.4 557.5h14.2v7.2h-14.2zM450 557.5h7.2v7.2h-7.2zM477.8 557.5h14.2v7.2h-14.2zM505.5 557.5h7.2v7.2h-7.2zM526.4 557.5h7.2v7.2h-7.2zM595.8 557.5h14.2v7.2h-14.2zM651.3 557.5h7.2v7.2h-7.2zM672.2 557.5h7.2v7.2h-7.2zM713.8 557.5h14.2v7.2h-14.2zM290.3 564.5h21.1v7.2h-21.1zM401.4 564.5h7.2v7.2h-7.2zM505.5 564.5h7.2v7.2h-7.2zM658.3 564.5h14.2v7.2h-14.2zM720.8 564.5h14.2v7.2h-14.2zM783.3 564.5h7.2v7.2h-7.2zM297.2 571.4h14.2v7.2h-14.2zM325 571.4h7.2v7.2h-7.2zM352.8 571.4h7.2v7.2h-7.2zM373.6 571.4h7.2v7.2h-7.2zM491.6 571.4h7.2v7.2h-7.2zM505.5 571.4h7.2v7.2h-7.2zM519.4 571.4h14.2v7.2h-14.2zM540.2 571.4h14.2v7.2h-14.2zM568 571.4h21.1v7.2h-21.1zM616.6 571.4h7.2v7.2h-7.2zM637.5 571.4h7.2v7.2h-7.2zM672.2 571.4h7.2v7.2h-7.2zM734.7 571.4h14.2v7.2h-14.2zM776.3 571.4h7.2v7.2h-7.2zM290.3 578.3h7.2v7.2h-7.2zM311.1 578.3h21.1v7.2h-21.1zM338.9 578.3h7.2v7.2h-7.2zM436.1 578.3h14.2v7.2h-14.2zM456.9 578.3h7.2v7.2h-7.2zM533.3 578.3h7.2v7.2h-7.2zM575 578.3h14.2v7.2h-14.2zM595.8 578.3h7.2v7.2h-7.2zM616.6 578.3h7.2v7.2h-7.2zM665.2 578.3h7.2v7.2h-7.2zM699.9 578.3h7.2v7.2h-7.2zM762.4 578.3h7.2v7.2h-7.2zM290.3 585.3h7.2v7.2h-7.2zM311.1 585.3h7.2v7.2h-7.2zM332 585.3h7.2v7.2h-7.2zM366.7 585.3h7.2v7.2h-7.2zM408.3 585.3h7.2v7.2h-7.2zM429.2 585.3h7.2v7.2h-7.2zM512.5 585.3h7.2v7.2h-7.2zM581.9 585.3h7.2v7.2h-7.2zM595.8 585.3h7.2v7.2h-7.2zM623.6 585.3h7.2v7.2h-7.2zM637.5 585.3h7.2v7.2h-7.2zM741.6 585.3h21.1v7.2h-21.1zM783.3 585.3h7.2v7.2h-7.2zM380.6 592.2h7.2v7.2h-7.2zM422.2 592.2h14.2v7.2h-14.2zM450 592.2h7.2v7.2h-7.2zM505.5 592.2h14.2v7.2h-14.2zM526.4 592.2h14.2v7.2h-14.2zM568 592.2h7.2v7.2h-7.2zM588.9 592.2h14.2v7.2h-14.2zM609.7 592.2h14.2v7.2h-14.2zM630.5 592.2h14.2v7.2h-14.2zM658.3 592.2h7.2v7.2h-7.2zM706.9 592.2h7.2v7.2h-7.2zM720.8 592.2h14.2v7.2h-14.2zM748.5 592.2h14.2v7.2h-14.2zM325 599.2h7.2v7.2h-7.2zM352.8 599.2h7.2v7.2h-7.2zM429.2 599.2h7.2v7.2h-7.2zM443 599.2h7.2v7.2h-7.2zM456.9 599.2h7.2v7.2h-7.2zM477.8 599.2h21.1v7.2h-21.1zM512.5 599.2h14.2v7.2h-14.2zM651.3 599.2h7.2v7.2h-7.2zM672.2 599.2h7.2v7.2h-7.2zM706.9 599.2h28.1v7.2h-28.1zM318.1 606.1h14.2v7.2h-14.2zM345.8 606.1h7.2v7.2h-7.2zM359.7 606.1h14.2v7.2h-14.2zM387.5 606.1h7.2v7.2h-7.2zM443 606.1h7.2v7.2h-7.2zM456.9 606.1h7.2v7.2h-7.2zM484.7 606.1h7.2v7.2h-7.2zM526.4 606.1h7.2v7.2h-7.2zM616.6 606.1h7.2v7.2h-7.2zM693 606.1h14.2v7.2h-14.2zM741.6 606.1h7.2v7.2h-7.2zM776.3 606.1h14.2v7.2h-14.2zM304.2 613.1h7.2v7.2h-7.2zM318.1 613.1h7.2v7.2h-7.2zM373.6 613.1h14.2v7.2h-14.2zM470.8 613.1h21.1v7.2h-21.1zM512.5 613.1h7.2v7.2h-7.2zM568 613.1h14.2v7.2h-14.2zM720.8 613.1h7.2v7.2h-7.2zM741.6 613.1h21.1v7.2h-21.1zM783.3 613.1h7.2v7.2h-7.2zM290.3 620h14.2v7.2h-14.2zM311.1 620h7.2v7.2h-7.2zM345.8 620h7.2v7.2h-7.2zM380.6 620h7.2v7.2h-7.2zM415.3 620h7.2v7.2h-7.2zM443 620h7.2v7.2h-7.2zM484.7 620h14.2v7.2h-14.2zM533.3 620h7.2v7.2h-7.2zM568 620h7.2v7.2h-7.2zM595.8 620h14.2v7.2h-14.2zM616.6 620h7.2v7.2h-7.2zM637.5 620h7.2v7.2h-7.2zM693 620h7.2v7.2h-7.2zM762.4 620h7.2v7.2h-7.2zM776.3 620h7.2v7.2h-7.2zM304.2 626.9h7.2v7.2h-7.2zM332 626.9h7.2v7.2h-7.2zM359.7 626.9h7.2v7.2h-7.2zM380.6 626.9h7.2v7.2h-7.2zM470.8 626.9h7.2v7.2h-7.2zM512.5 626.9h7.2v7.2h-7.2zM554.1 626.9h21.1v7.2h-21.1zM637.5 626.9h7.2v7.2h-7.2zM658.3 626.9h7.2v7.2h-7.2zM720.8 626.9h7.2v7.2h-7.2zM734.7 626.9h7.2v7.2h-7.2zM769.4 626.9h14.2v7.2h-14.2zM290.3 633.9h7.2v7.2h-7.2zM345.8 633.9h14.2v7.2h-14.2zM415.3 633.9h7.2v7.2h-7.2zM505.5 633.9h14.2v7.2h-14.2zM568 633.9h7.2v7.2h-7.2zM658.3 633.9h7.2v7.2h-7.2zM679.1 633.9h7.2v7.2h-7.2zM706.9 633.9h7.2v7.2h-7.2zM734.7 633.9h21.1v7.2h-21.1zM352.8 640.8h7.2v7.2h-7.2zM415.3 640.8h7.2v7.2h-7.2zM450 640.8h35v7.2h-35zM498.6 640.8h7.2v7.2h-7.2zM533.3 640.8h7.2v7.2h-7.2zM713.8 640.8h7.2v7.2h-7.2zM727.7 640.8h7.2v7.2h-7.2zM776.3 640.8h7.2v7.2h-7.2zM318.1 647.8h7.2v7.2h-7.2zM345.8 647.8h14.2v7.2h-14.2zM387.5 647.8h21.1v7.2h-21.1zM429.2 647.8h7.2v7.2h-7.2zM484.7 647.8h14.2v7.2h-14.2zM512.5 647.8h7.2v7.2h-7.2zM526.4 647.8h7.2v7.2h-7.2zM616.6 647.8h7.2v7.2h-7.2zM637.5 647.8h7.2v7.2h-7.2zM686.1 647.8h7.2v7.2h-7.2zM297.2 654.7h7.2v7.2h-7.2zM311.1 654.7h7.2v7.2h-7.2zM325 654.7h7.2v7.2h-7.2zM359.7 654.7h7.2v7.2h-7.2zM401.4 654.7h7.2v7.2h-7.2zM443 654.7h7.2v7.2h-7.2zM456.9 654.7h7.2v7.2h-7.2zM470.8 654.7h7.2v7.2h-7.2zM484.7 654.7h7.2v7.2h-7.2zM512.5 654.7h7.2v7.2h-7.2zM526.4 654.7h7.2v7.2h-7.2zM540.2 654.7h14.2v7.2h-14.2zM561.1 654.7h7.2v7.2h-7.2zM616.6 654.7h7.2v7.2h-7.2zM644.4 654.7h7.2v7.2h-7.2zM658.3 654.7h7.2v7.2h-7.2zM693 654.7h7.2v7.2h-7.2zM713.8 654.7h21.1v7.2h-21.1zM748.5 654.7h14.2v7.2h-14.2zM290.3 661.7h14.2v7.2h-14.2zM352.8 661.7h7.2v7.2h-7.2zM394.4 661.7h7.2v7.2h-7.2zM443 661.7h21.1v7.2h-21.1zM561.1 661.7h7.2v7.2h-7.2zM602.7 661.7h28.1v7.2h-28.1zM637.5 661.7h7.2v7.2h-7.2zM693 661.7h7.2v7.2h-7.2zM741.6 661.7h7.2v7.2h-7.2zM755.5 661.7h14.2v7.2h-14.2zM776.3 661.7h14.2v7.2h-14.2zM318.1 668.6h7.2v7.2h-7.2zM332 668.6h14.2v7.2h-14.2zM359.7 668.6h7.2v7.2h-7.2zM373.6 668.6h7.2v7.2h-7.2zM401.4 668.6h7.2v7.2h-7.2zM422.2 668.6h7.2v7.2h-7.2zM450 668.6h7.2v7.2h-7.2zM463.9 668.6h7.2v7.2h-7.2zM484.7 668.6h7.2v7.2h-7.2zM519.4 668.6h7.2v7.2h-7.2zM547.2 668.6h14.2v7.2h-14.2zM581.9 668.6h7.2v7.2h-7.2zM609.7 668.6h7.2v7.2h-7.2zM734.7 668.6h7.2v7.2h-7.2zM755.5 668.6h7.2v7.2h-7.2zM776.3 668.6h7.2v7.2h-7.2zM311.1 675.5h7.2v7.2h-7.2zM345.8 675.5h7.2v7.2h-7.2zM456.9 675.5h7.2v7.2h-7.2zM588.9 675.5h7.2v7.2h-7.2zM644.4 675.5h7.2v7.2h-7.2zM713.8 675.5h14.2v7.2h-14.2zM776.3 675.5h14.2v7.2h-14.2zM387.5 682.5h7.2v7.2h-7.2zM443 682.5h21.1v7.2h-21.1zM470.8 682.5h21.1v7.2h-21.1zM561.1 682.5h7.2v7.2h-7.2zM602.7 682.5h7.2v7.2h-7.2zM623.6 682.5h7.2v7.2h-7.2zM713.8 682.5h7.2v7.2h-7.2zM727.7 682.5h7.2v7.2h-7.2zM311.1 689.4h7.2v7.2h-7.2zM408.3 689.4h7.2v7.2h-7.2zM484.7 689.4h7.2v7.2h-7.2zM519.4 689.4h7.2v7.2h-7.2zM554.1 689.4h7.2v7.2h-7.2zM568 689.4h7.2v7.2h-7.2zM595.8 689.4h7.2v7.2h-7.2zM616.6 689.4h7.2v7.2h-7.2zM658.3 689.4h14.2v7.2h-14.2zM693 689.4h14.2v7.2h-14.2zM318.1 696.4h28.1v7.2h-28.1zM429.2 696.4h14.2v7.2h-14.2zM623.6 696.4h7.2v7.2h-7.2zM665.2 696.4h7.2v7.2h-7.2zM325 703.3h14.2v7.2h-14.2zM422.2 703.3h7.2v7.2h-7.2zM443 703.3h14.2v7.2h-14.2zM595.8 703.3h7.2v7.2h-7.2zM686.1 703.3h7.2v7.2h-7.2zM699.9 703.3h7.2v7.2h-7.2zM776.3 703.3h7.2v7.2h-7.2zM359.7 710.3h7.2v7.2h-7.2zM373.6 710.3h14.2v7.2h-14.2zM408.3 710.3h7.2v7.2h-7.2zM436.1 710.3h7.2v7.2h-7.2zM470.8 710.3h7.2v7.2h-7.2zM484.7 710.3h7.2v7.2h-7.2zM332 717.2h14.2v7.2h-14.2zM352.8 717.2h7.2v7.2h-7.2zM373.6 717.2h7.2v7.2h-7.2zM713.8 717.2h7.2v7.2h-7.2zM741.6 717.2h7.2v7.2h-7.2zM304.2 724.2h7.2v7.2h-7.2zM338.9 724.2h7.2v7.2h-7.2zM352.8 724.2h14.2v7.2h-14.2zM373.6 724.2h7.2v7.2h-7.2zM408.3 724.2h7.2v7.2h-7.2zM484.7 724.2h14.2v7.2h-14.2zM505.5 724.2h7.2v7.2h-7.2zM568 724.2h7.2v7.2h-7.2zM595.8 724.2h7.2v7.2h-7.2zM672.2 724.2h7.2v7.2h-7.2zM699.9 724.2h7.2v7.2h-7.2zM734.7 724.2h14.2v7.2h-14.2zM755.5 724.2h7.2v7.2h-7.2zM401.4 731.1h21.1v7.2h-21.1zM450 731.1h7.2v7.2h-7.2zM491.6 731.1h7.2v7.2h-7.2zM588.9 731.1h14.2v7.2h-14.2zM630.5 731.1h7.2v7.2h-7.2zM672.2 731.1h7.2v7.2h-7.2zM741.6 731.1h7.2v7.2h-7.2zM769.4 731.1h7.2v7.2h-7.2zM318.1 738h7.2v7.2h-7.2zM332 738h7.2v7.2h-7.2zM345.8 738h7.2v7.2h-7.2zM373.6 738h7.2v7.2h-7.2zM394.4 738h7.2v7.2h-7.2zM422.2 738h7.2v7.2h-7.2zM456.9 738h21.1v7.2h-21.1zM519.4 738h7.2v7.2h-7.2zM540.2 738h7.2v7.2h-7.2zM575 738h7.2v7.2h-7.2zM588.9 738h7.2v7.2h-7.2zM602.7 738h7.2v7.2h-7.2zM616.6 738h14.2v7.2h-14.2zM706.9 738h14.2v7.2h-14.2zM387.5 745h7.2v7.2h-7.2zM415.3 745h7.2v7.2h-7.2zM456.9 745h14.2v7.2h-14.2zM533.3 745h7.2v7.2h-7.2zM561.1 745h14.2v7.2h-14.2zM581.9 745h7.2v7.2h-7.2zM616.6 745h7.2v7.2h-7.2zM679.1 745h7.2v7.2h-7.2zM699.9 745h7.2v7.2h-7.2zM720.8 745h7.2v7.2h-7.2zM741.6 745h7.2v7.2h-7.2zM755.5 745h7.2v7.2h-7.2zM352.8 751.9h7.2v7.2h-7.2zM401.4 751.9h14.2v7.2h-14.2zM436.1 751.9h7.2v7.2h-7.2zM456.9 751.9h7.2v7.2h-7.2zM505.5 751.9h7.2v7.2h-7.2zM526.4 751.9h7.2v7.2h-7.2zM540.2 751.9h7.2v7.2h-7.2zM554.1 751.9h14.2v7.2h-14.2zM581.9 751.9h7.2v7.2h-7.2zM602.7 751.9h7.2v7.2h-7.2zM637.5 751.9h7.2v7.2h-7.2zM658.3 751.9h7.2v7.2h-7.2zM672.2 751.9h14.2v7.2h-14.2zM699.9 751.9h7.2v7.2h-7.2zM741.6 751.9h7.2v7.2h-7.2zM755.5 751.9h14.2v7.2h-14.2zM776.3 751.9h7.2v7.2h-7.2zM311.1 758.9h14.2v7.2h-14.2zM332 758.9h7.2v7.2h-7.2zM352.8 758.9h7.2v7.2h-7.2zM394.4 758.9h7.2v7.2h-7.2zM422.2 758.9h7.2v7.2h-7.2zM436.1 758.9h7.2v7.2h-7.2zM470.8 758.9h14.2v7.2h-14.2zM561.1 758.9h7.2v7.2h-7.2zM575 758.9h7.2v7.2h-7.2zM644.4 758.9h7.2v7.2h-7.2zM679.1 758.9h7.2v7.2h-7.2zM727.7 758.9h14.2v7.2h-14.2zM297.2 765.8h7.2v7.2h-7.2zM318.1 765.8h7.2v7.2h-7.2zM338.9 765.8h7.2v7.2h-7.2zM352.8 765.8h7.2v7.2h-7.2zM415.3 765.8h14.2v7.2h-14.2zM450 765.8h7.2v7.2h-7.2zM505.5 765.8h7.2v7.2h-7.2zM547.2 765.8h7.2v7.2h-7.2zM609.7 765.8h7.2v7.2h-7.2zM630.5 765.8h7.2v7.2h-7.2zM672.2 765.8h7.2v7.2h-7.2zM332 772.8h7.2v7.2h-7.2zM345.8 772.8h7.2v7.2h-7.2zM380.6 772.8h7.2v7.2h-7.2zM394.4 772.8h14.2v7.2h-14.2zM415.3 772.8h7.2v7.2h-7.2zM429.2 772.8h7.2v7.2h-7.2zM491.6 772.8h7.2v7.2h-7.2zM505.5 772.8h7.2v7.2h-7.2zM526.4 772.8h7.2v7.2h-7.2zM561.1 772.8h7.2v7.2h-7.2zM581.9 772.8h7.2v7.2h-7.2zM602.7 772.8h7.2v7.2h-7.2zM630.5 772.8h7.2v7.2h-7.2zM290.3 779.7h21.1v7.2h-21.1zM325 779.7h7.2v7.2h-7.2zM373.6 779.7h7.2v7.2h-7.2zM401.4 779.7h7.2v7.2h-7.2zM429.2 779.7h14.2v7.2h-14.2zM450 779.7h7.2v7.2h-7.2zM484.7 779.7h7.2v7.2h-7.2zM512.5 779.7h21.1v7.2h-21.1zM540.2 779.7h7.2v7.2h-7.2zM554.1 779.7h14.2v7.2h-14.2zM630.5 779.7h7.2v7.2h-7.2zM644.4 779.7h7.2v7.2h-7.2zM706.9 779.7h7.2v7.2h-7.2zM332 786.6h14.2v7.2h-14.2zM387.5 786.6h21.1v7.2h-21.1zM470.8 786.6h7.2v7.2h-7.2zM512.5 786.6h14.2v7.2h-14.2zM533.3 786.6h7.2v7.2h-7.2zM554.1 786.6h7.2v7.2h-7.2zM623.6 786.6h14.2v7.2h-14.2zM734.7 786.6h7.2v7.2h-7.2zM762.4 786.6h21.1v7.2h-21.1zM338.9 793.6h21.1v7.2h-21.1zM436.1 793.6h7.2v7.2h-7.2zM554.1 793.6h14.2v7.2h-14.2zM581.9 793.6h21.1v7.2h-21.1zM686.1 793.6h7.2v7.2h-7.2zM748.5 793.6h7.2v7.2h-7.2zM776.3 793.6h7.2v7.2h-7.2zM290.3 800.5h7.2v7.2h-7.2zM373.6 800.5h7.2v7.2h-7.2zM505.5 800.5h14.2v7.2h-14.2zM533.3 800.5h7.2v7.2h-7.2zM554.1 800.5h14.2v7.2h-14.2zM630.5 800.5h21.1v7.2h-21.1zM665.2 800.5h7.2v7.2h-7.2zM706.9 800.5h7.2v7.2h-7.2zM741.6 800.5h14.2v7.2h-14.2zM762.4 800.5h14.2v7.2h-14.2zM332 807.5h7.2v7.2h-7.2zM373.6 807.5h7.2v7.2h-7.2zM429.2 807.5h7.2v7.2h-7.2zM450 807.5h7.2v7.2h-7.2zM575 807.5h7.2v7.2h-7.2zM588.9 807.5h7.2v7.2h-7.2zM665.2 807.5h7.2v7.2h-7.2zM734.7 807.5h7.2v7.2h-7.2zM748.5 807.5h14.2v7.2h-14.2zM290.3 814.4h14.2v7.2h-14.2zM345.8 814.4h14.2v7.2h-14.2zM366.7 814.4h7.2v7.2h-7.2zM450 814.4h7.2v7.2h-7.2zM470.8 814.4h7.2v7.2h-7.2zM547.2 814.4h14.2v7.2h-14.2zM575 814.4h14.2v7.2h-14.2zM672.2 814.4h7.2v7.2h-7.2zM706.9 814.4h14.2v7.2h-14.2zM727.7 814.4h7.2v7.2h-7.2zM345.8 821.4h28.1v7.2h-28.1zM422.2 821.4h7.2v7.2h-7.2zM470.8 821.4h14.2v7.2h-14.2zM547.2 821.4h21.1v7.2h-21.1zM581.9 821.4h7.2v7.2h-7.2zM679.1 821.4h7.2v7.2h-7.2zM699.9 821.4h7.2v7.2h-7.2zM727.7 821.4h7.2v7.2h-7.2zM304.2 828.3h14.2v7.2h-14.2zM422.2 828.3h7.2v7.2h-7.2zM450 828.3h7.2v7.2h-7.2zM477.8 828.3h7.2v7.2h-7.2zM491.6 828.3h21.1v7.2h-21.1zM533.3 828.3h7.2v7.2h-7.2zM581.9 828.3h7.2v7.2h-7.2zM623.6 828.3h7.2v7.2h-7.2zM644.4 828.3h14.2v7.2h-14.2zM699.9 828.3h7.2v7.2h-7.2zM727.7 828.3h7.2v7.2h-7.2zM755.5 828.3h7.2v7.2h-7.2zM783.3 828.3h7.2v7.2h-7.2zM290.3 835.2h7.2v7.2h-7.2zM318.1 835.2h7.2v7.2h-7.2zM366.7 835.2h7.2v7.2h-7.2zM484.7 835.2h7.2v7.2h-7.2zM505.5 835.2h35v7.2h-35zM554.1 835.2h14.2v7.2h-14.2zM581.9 835.2h7.2v7.2h-7.2zM665.2 835.2h7.2v7.2h-7.2zM686.1 835.2h7.2v7.2h-7.2zM699.9 835.2h21.1v7.2h-21.1zM741.6 835.2h7.2v7.2h-7.2zM762.4 835.2h14.2v7.2h-14.2zM783.3 835.2h7.2v7.2h-7.2zM311.1 842.2h7.2v7.2h-7.2zM332 842.2h14.2v7.2h-14.2zM359.7 842.2h7.2v7.2h-7.2zM380.6 842.2h7.2v7.2h-7.2zM422.2 842.2h7.2v7.2h-7.2zM512.5 842.2h14.2v7.2h-14.2zM568 842.2h7.2v7.2h-7.2zM602.7 842.2h21.1v7.2h-21.1zM644.4 842.2h7.2v7.2h-7.2zM665.2 842.2h7.2v7.2h-7.2zM686.1 842.2h7.2v7.2h-7.2zM776.3 842.2h7.2v7.2h-7.2zM318.1 849.1h7.2v7.2h-7.2zM345.8 849.1h14.2v7.2h-14.2zM366.7 849.1h21.1v7.2h-21.1zM408.3 849.1h7.2v7.2h-7.2zM450 849.1h7.2v7.2h-7.2zM484.7 849.1h7.2v7.2h-7.2zM498.6 849.1h7.2v7.2h-7.2zM512.5 849.1h14.2v7.2h-14.2zM533.3 849.1h7.2v7.2h-7.2zM568 849.1h7.2v7.2h-7.2zM588.9 849.1h7.2v7.2h-7.2zM602.7 849.1h7.2v7.2h-7.2zM686.1 849.1h14.2v7.2h-14.2zM762.4 849.1h7.2v7.2h-7.2zM380.6 856.1h14.2v7.2h-14.2zM436.1 856.1h28.1v7.2h-28.1zM581.9 856.1h7.2v7.2h-7.2zM602.7 856.1h7.2v7.2h-7.2zM658.3 856.1h7.2v7.2h-7.2zM706.9 856.1h14.2v7.2h-14.2zM290.3 863h7.2v7.2h-7.2zM450 863h7.2v7.2h-7.2zM477.8 863h28.1v7.2h-28.1zM540.2 863h14.2v7.2h-14.2zM568 863h7.2v7.2h-7.2zM595.8 863h7.2v7.2h-7.2zM616.6 863h7.2v7.2h-7.2zM651.3 863h7.2v7.2h-7.2zM679.1 863h7.2v7.2h-7.2zM699.9 863h7.2v7.2h-7.2zM741.6 863h7.2v7.2h-7.2zM311.1 870h7.2v7.2h-7.2zM325 870h7.2v7.2h-7.2zM359.7 870h7.2v7.2h-7.2zM436.1 870h7.2v7.2h-7.2zM450 870h7.2v7.2h-7.2zM491.6 870h21.1v7.2h-21.1zM519.4 870h7.2v7.2h-7.2zM540.2 870h7.2v7.2h-7.2zM588.9 870h7.2v7.2h-7.2zM602.7 870h7.2v7.2h-7.2zM623.6 870h7.2v7.2h-7.2zM658.3 870h7.2v7.2h-7.2zM672.2 870h7.2v7.2h-7.2zM706.9 870h7.2v7.2h-7.2zM734.7 870h14.2v7.2h-14.2zM325 876.9h7.2v7.2h-7.2zM366.7 876.9h7.2v7.2h-7.2zM380.6 876.9h7.2v7.2h-7.2zM436.1 876.9h14.2v7.2h-14.2zM456.9 876.9h7.2v7.2h-7.2zM470.8 876.9h21.1v7.2h-21.1zM505.5 876.9h7.2v7.2h-7.2zM526.4 876.9h7.2v7.2h-7.2zM540.2 876.9h14.2v7.2h-14.2zM575 876.9h7.2v7.2h-7.2zM595.8 876.9h7.2v7.2h-7.2zM623.6 876.9h14.2v7.2h-14.2zM658.3 876.9h7.2v7.2h-7.2zM679.1 876.9h7.2v7.2h-7.2zM699.9 876.9h14.2v7.2h-14.2zM741.6 876.9h7.2v7.2h-7.2zM783.3 876.9h7.2v7.2h-7.2zM325 883.8h28.1v7.2h-28.1zM359.7 883.8h7.2v7.2h-7.2zM373.6 883.8h7.2v7.2h-7.2zM422.2 883.8h7.2v7.2h-7.2zM443 883.8h7.2v7.2h-7.2zM623.6 883.8h7.2v7.2h-7.2zM651.3 883.8h7.2v7.2h-7.2zM665.2 883.8h7.2v7.2h-7.2zM679.1 883.8h7.2v7.2h-7.2zM706.9 883.8h7.2v7.2h-7.2zM290.3 890.8h7.2v7.2h-7.2zM470.8 890.8h7.2v7.2h-7.2zM484.7 890.8h21.1v7.2h-21.1zM533.3 890.8h7.2v7.2h-7.2zM595.8 890.8h7.2v7.2h-7.2zM616.6 890.8h7.2v7.2h-7.2zM748.5 890.8h7.2v7.2h-7.2zM769.4 890.8h7.2v7.2h-7.2zM783.3 890.8h7.2v7.2h-7.2zM290.3 897.7h7.2v7.2h-7.2zM352.8 897.7h14.2v7.2h-14.2zM408.3 897.7h7.2v7.2h-7.2zM436.1 897.7h7.2v7.2h-7.2zM463.9 897.7h7.2v7.2h-7.2zM505.5 897.7h7.2v7.2h-7.2zM595.8 897.7h7.2v7.2h-7.2zM609.7 897.7h7.2v7.2h-7.2zM755.5 897.7h7.2v7.2h-7.2zM769.4 897.7h7.2v7.2h-7.2zM352.8 904.7h7.2v7.2h-7.2zM394.4 904.7h7.2v7.2h-7.2zM408.3 904.7h7.2v7.2h-7.2zM422.2 904.7h7.2v7.2h-7.2zM456.9 904.7h7.2v7.2h-7.2zM505.5 904.7h14.2v7.2h-14.2zM533.3 904.7h7.2v7.2h-7.2zM554.1 904.7h7.2v7.2h-7.2zM686.1 904.7h14.2v7.2h-14.2zM720.8 904.7h7.2v7.2h-7.2zM741.6 904.7h14.2v7.2h-14.2zM769.4 904.7h7.2v7.2h-7.2zM366.7 911.6h7.2v7.2h-7.2zM415.3 911.6h7.2v7.2h-7.2zM450 911.6h14.2v7.2h-14.2zM484.7 911.6h7.2v7.2h-7.2zM602.7 911.6h7.2v7.2h-7.2zM665.2 911.6h7.2v7.2h-7.2zM693 911.6h7.2v7.2h-7.2zM734.7 911.6h7.2v7.2h-7.2zM769.4 911.6h7.2v7.2h-7.2zM304.2 918.6h14.2v7.2h-14.2zM325 918.6h7.2v7.2h-7.2zM352.8 918.6h7.2v7.2h-7.2zM366.7 918.6h7.2v7.2h-7.2zM450 918.6h14.2v7.2h-14.2zM519.4 918.6h7.2v7.2h-7.2zM554.1 918.6h7.2v7.2h-7.2zM575 918.6h14.2v7.2h-14.2zM602.7 918.6h28.1v7.2h-28.1zM637.5 918.6h14.2v7.2h-14.2zM699.9 918.6h7.2v7.2h-7.2zM734.7 918.6h7.2v7.2h-7.2zM290.3 925.5h7.2v7.2h-7.2zM352.8 925.5h7.2v7.2h-7.2zM477.8 925.5h7.2v7.2h-7.2zM575 925.5h7.2v7.2h-7.2zM630.5 925.5h7.2v7.2h-7.2zM713.8 925.5h7.2v7.2h-7.2zM748.5 925.5h7.2v7.2h-7.2zM769.4 925.5h7.2v7.2h-7.2zM290.3 932.4h7.2v7.2h-7.2zM304.2 932.4h7.2v7.2h-7.2zM345.8 932.4h7.2v7.2h-7.2zM429.2 932.4h7.2v7.2h-7.2zM456.9 932.4h14.2v7.2h-14.2zM484.7 932.4h7.2v7.2h-7.2zM498.6 932.4h7.2v7.2h-7.2zM540.2 932.4h7.2v7.2h-7.2zM554.1 932.4h7.2v7.2h-7.2zM658.3 932.4h7.2v7.2h-7.2zM713.8 932.4h7.2v7.2h-7.2zM776.3 932.4h7.2v7.2h-7.2zM290.3 939.4h35v7.2h-35zM338.9 939.4h7.2v7.2h-7.2zM387.5 939.4h7.2v7.2h-7.2zM429.2 939.4h14.2v7.2h-14.2zM484.7 939.4h14.2v7.2h-14.2zM595.8 939.4h7.2v7.2h-7.2zM637.5 939.4h7.2v7.2h-7.2zM672.2 939.4h14.2v7.2h-14.2zM769.4 939.4h7.2v7.2h-7.2zM297.2 946.3h7.2v7.2h-7.2zM318.1 946.3h14.2v7.2h-14.2zM401.4 946.3h7.2v7.2h-7.2zM436.1 946.3h7.2v7.2h-7.2zM477.8 946.3h7.2v7.2h-7.2zM512.5 946.3h14.2v7.2h-14.2zM595.8 946.3h7.2v7.2h-7.2zM665.2 946.3h7.2v7.2h-7.2zM699.9 946.3h7.2v7.2h-7.2zM741.6 946.3h7.2v7.2h-7.2zM762.4 946.3h7.2v7.2h-7.2zM380.6 953.3h7.2v7.2h-7.2zM658.3 953.3h21.1v7.2h-21.1zM686.1 953.3h7.2v7.2h-7.2zM762.4 953.3h7.2v7.2h-7.2zM783.3 953.3h7.2v7.2h-7.2zM338.9 960.2h14.2v7.2h-14.2zM366.7 960.2h7.2v7.2h-7.2zM387.5 960.2h7.2v7.2h-7.2zM498.6 960.2h7.2v7.2h-7.2zM512.5 960.2h7.2v7.2h-7.2zM568 960.2h7.2v7.2h-7.2zM630.5 960.2h7.2v7.2h-7.2zM644.4 960.2h7.2v7.2h-7.2zM693 960.2h7.2v7.2h-7.2zM734.7 960.2h48.9v7.2h-48.9zM304.2 967.2h28.1v7.2h-28.1zM394.4 967.2h7.2v7.2h-7.2zM429.2 967.2h14.2v7.2h-14.2zM491.6 967.2h14.2v7.2h-14.2zM547.2 967.2h14.2v7.2h-14.2zM575 967.2h7.2v7.2h-7.2zM602.7 967.2h7.2v7.2h-7.2zM637.5 967.2h7.2v7.2h-7.2zM693 967.2h7.2v7.2h-7.2zM741.6 967.2h28.1v7.2h-28.1zM783.3 967.2h7.2v7.2h-7.2z" fill="#eef2f2"/>
<path d="M394.4 474.2h7.2v7.2h-7.2zM477.8 474.2h7.2v7.2h-7.2zM533.3 474.2h7.2v7.2h-7.2zM595.8 474.2h7.2v7.2h-7.2zM713.8 474.2h7.2v7.2h-7.2zM748.5 474.2h14.2v7.2h-14.2zM338.9 481.1h7.2v7.2h-7.2zM727.7 481.1h7.2v7.2h-7.2zM338.9 488.1h7.2v7.2h-7.2zM637.5 488.1h7.2v7.2h-7.2zM699.9 488.1h7.2v7.2h-7.2zM748.5 488.1h7.2v7.2h-7.2zM463.9 495h7.2v7.2h-7.2zM575 495h7.2v7.2h-7.2zM720.8 495h7.2v7.2h-7.2zM741.6 495h7.2v7.2h-7.2zM290.3 502h7.2v7.2h-7.2zM436.1 502h7.2v7.2h-7.2zM665.2 502h7.2v7.2h-7.2zM748.5 502h7.2v7.2h-7.2zM762.4 502h7.2v7.2h-7.2zM352.8 508.9h7.2v7.2h-7.2zM526.4 508.9h7.2v7.2h-7.2zM602.7 508.9h7.2v7.2h-7.2zM658.3 508.9h7.2v7.2h-7.2zM699.9 508.9h7.2v7.2h-7.2zM713.8 508.9h7.2v7.2h-7.2zM741.6 508.9h7.2v7.2h-7.2zM408.3 515.9h14.2v7.2h-14.2zM463.9 515.9h14.2v7.2h-14.2zM748.5 515.9h7.2v7.2h-7.2zM338.9 522.8h21.1v7.2h-21.1zM380.6 522.8h7.2v7.2h-7.2zM491.6 522.8h7.2v7.2h-7.2zM658.3 522.8h14.2v7.2h-14.2zM470.8 529.7h14.2v7.2h-14.2zM477.8 536.7h7.2v7.2h-7.2zM436.1 543.6h7.2v7.2h-7.2zM456.9 543.6h7.2v7.2h-7.2zM491.6 543.6h7.2v7.2h-7.2zM630.5 543.6h7.2v7.2h-7.2zM359.7 550.6h7.2v7.2h-7.2zM491.6 550.6h7.2v7.2h-7.2zM734.7 550.6h7.2v7.2h-7.2zM311.1 557.5h14.2v7.2h-14.2zM359.7 557.5h7.2v7.2h-7.2zM456.9 557.5h7.2v7.2h-7.2zM373.6 564.5h7.2v7.2h-7.2zM380.6 571.4h7.2v7.2h-7.2zM699.9 571.4h7.2v7.2h-7.2zM762.4 571.4h7.2v7.2h-7.2zM783.3 571.4h7.2v7.2h-7.2zM304.2 578.3h7.2v7.2h-7.2zM318.1 585.3h14.2v7.2h-14.2zM338.9 585.3h7.2v7.2h-7.2zM422.2 585.3h7.2v7.2h-7.2zM436.1 585.3h7.2v7.2h-7.2zM450 585.3h7.2v7.2h-7.2zM533.3 585.3h7.2v7.2h-7.2zM713.8 592.2h7.2v7.2h-7.2zM741.6 592.2h7.2v7.2h-7.2zM762.4 592.2h7.2v7.2h-7.2zM304.2 599.2h7.2v7.2h-7.2zM755.5 599.2h14.2v7.2h-14.2zM304.2 606.1h7.2v7.2h-7.2zM380.6 606.1h7.2v7.2h-7.2zM408.3 606.1h7.2v7.2h-7.2zM491.6 606.1h7.2v7.2h-7.2zM304.2 620h7.2v7.2h-7.2zM325 620h7.2v7.2h-7.2zM359.7 620h7.2v7.2h-7.2zM477.8 620h7.2v7.2h-7.2zM609.7 620h7.2v7.2h-7.2zM769.4 620h7.2v7.2h-7.2zM505.5 626.9h7.2v7.2h-7.2zM575 626.9h7.2v7.2h-7.2zM727.7 626.9h7.2v7.2h-7.2zM304.2 633.9h7.2v7.2h-7.2zM338.9 633.9h7.2v7.2h-7.2zM616.6 633.9h7.2v7.2h-7.2zM699.9 633.9h7.2v7.2h-7.2zM318.1 640.8h7.2v7.2h-7.2zM345.8 640.8h7.2v7.2h-7.2zM436.1 640.8h7.2v7.2h-7.2zM616.6 640.8h14.2v7.2h-14.2zM637.5 640.8h7.2v7.2h-7.2zM699.9 640.8h7.2v7.2h-7.2zM769.4 640.8h7.2v7.2h-7.2zM436.1 647.8h7.2v7.2h-7.2zM470.8 647.8h7.2v7.2h-7.2zM665.2 647.8h21.1v7.2h-21.1zM304.2 654.7h7.2v7.2h-7.2zM352.8 654.7h7.2v7.2h-7.2zM394.4 654.7h7.2v7.2h-7.2zM519.4 654.7h7.2v7.2h-7.2zM554.1 654.7h7.2v7.2h-7.2zM519.4 661.7h35v7.2h-35zM345.8 668.6h7.2v7.2h-7.2zM366.7 668.6h7.2v7.2h-7.2zM456.9 668.6h7.2v7.2h-7.2zM595.8 668.6h14.2v7.2h-14.2zM318.1 675.5h7.2v7.2h-7.2zM470.8 675.5h7.2v7.2h-7.2zM575 675.5h7.2v7.2h-7.2zM609.7 675.5h7.2v7.2h-7.2zM332 682.5h7.2v7.2h-7.2zM380.6 682.5h7.2v7.2h-7.2zM568 682.5h14.2v7.2h-14.2zM588.9 682.5h14.2v7.2h-14.2zM706.9 682.5h7.2v7.2h-7.2zM359.7 689.4h7.2v7.2h-7.2zM526.4 689.4h7.2v7.2h-7.2zM561.1 689.4h7.2v7.2h-7.2zM588.9 689.4h7.2v7.2h-7.2zM588.9 696.4h7.2v7.2h-7.2zM463.9 703.3h14.2v7.2h-14.2zM463.9 710.3h7.2v7.2h-7.2zM699.9 710.3h7.2v7.2h-7.2zM366.7 717.2h7.2v7.2h-7.2zM693 724.2h7.2v7.2h-7.2zM748.5 724.2h7.2v7.2h-7.2zM345.8 731.1h7.2v7.2h-7.2zM456.9 731.1h7.2v7.2h-7.2zM706.9 731.1h14.2v7.2h-14.2zM762.4 731.1h7.2v7.2h-7.2zM338.9 738h7.2v7.2h-7.2zM366.7 738h7.2v7.2h-7.2zM387.5 738h7.2v7.2h-7.2zM526.4 738h7.2v7.2h-7.2zM748.5 738h7.2v7.2h-7.2zM318.1 745h7.2v7.2h-7.2zM540.2 745h7.2v7.2h-7.2zM706.9 745h7.2v7.2h-7.2zM325 751.9h7.2v7.2h-7.2zM429.2 751.9h7.2v7.2h-7.2zM498.6 751.9h7.2v7.2h-7.2zM533.3 751.9h7.2v7.2h-7.2zM665.2 751.9h7.2v7.2h-7.2zM686.1 751.9h7.2v7.2h-7.2zM769.4 751.9h7.2v7.2h-7.2zM429.2 758.9h7.2v7.2h-7.2zM554.1 758.9h7.2v7.2h-7.2zM602.7 758.9h7.2v7.2h-7.2zM436.1 765.8h7.2v7.2h-7.2zM575 765.8h7.2v7.2h-7.2zM602.7 765.8h7.2v7.2h-7.2zM366.7 772.8h14.2v7.2h-14.2zM463.9 772.8h7.2v7.2h-7.2zM498.6 772.8h7.2v7.2h-7.2zM609.7 772.8h7.2v7.2h-7.2zM366.7 779.7h7.2v7.2h-7.2zM380.6 779.7h7.2v7.2h-7.2zM456.9 779.7h7.2v7.2h-7.2zM477.8 779.7h7.2v7.2h-7.2zM575 779.7h7.2v7.2h-7.2zM623.6 779.7h7.2v7.2h-7.2zM776.3 779.7h14.2v7.2h-14.2zM297.2 786.6h7.2v7.2h-7.2zM345.8 786.6h7.2v7.2h-7.2zM436.1 786.6h7.2v7.2h-7.2zM456.9 786.6h7.2v7.2h-7.2zM561.1 786.6h7.2v7.2h-7.2zM713.8 786.6h14.2v7.2h-14.2zM498.6 793.6h7.2v7.2h-7.2zM644.4 793.6h7.2v7.2h-7.2zM734.7 793.6h7.2v7.2h-7.2zM762.4 793.6h14.2v7.2h-14.2zM491.6 800.5h7.2v7.2h-7.2zM568 800.5h7.2v7.2h-7.2zM588.9 800.5h7.2v7.2h-7.2zM672.2 800.5h7.2v7.2h-7.2zM776.3 807.5h7.2v7.2h-7.2zM665.2 814.4h7.2v7.2h-7.2zM394.4 821.4h7.2v7.2h-7.2zM575 821.4h7.2v7.2h-7.2zM706.9 821.4h7.2v7.2h-7.2zM325 828.3h7.2v7.2h-7.2zM713.8 828.3h7.2v7.2h-7.2zM762.4 828.3h7.2v7.2h-7.2zM693 835.2h7.2v7.2h-7.2zM318.1 842.2h14.2v7.2h-14.2zM345.8 842.2h14.2v7.2h-14.2zM484.7 842.2h7.2v7.2h-7.2zM311.1 849.1h7.2v7.2h-7.2zM540.2 849.1h7.2v7.2h-7.2zM769.4 849.1h14.2v7.2h-14.2zM401.4 856.1h7.2v7.2h-7.2zM693 856.1h7.2v7.2h-7.2zM359.7 863h14.2v7.2h-14.2zM394.4 863h7.2v7.2h-7.2zM505.5 863h7.2v7.2h-7.2zM602.7 863h7.2v7.2h-7.2zM658.3 863h7.2v7.2h-7.2zM693 863h7.2v7.2h-7.2zM734.7 863h7.2v7.2h-7.2zM366.7 870h7.2v7.2h-7.2zM456.9 870h14.2v7.2h-14.2zM477.8 870h7.2v7.2h-7.2zM547.2 870h7.2v7.2h-7.2zM616.6 870h7.2v7.2h-7.2zM644.4 870h7.2v7.2h-7.2zM311.1 876.9h7.2v7.2h-7.2zM373.6 876.9h7.2v7.2h-7.2zM422.2 876.9h7.2v7.2h-7.2zM498.6 876.9h7.2v7.2h-7.2zM519.4 876.9h7.2v7.2h-7.2zM581.9 876.9h7.2v7.2h-7.2zM602.7 876.9h14.2v7.2h-14.2zM366.7 883.8h7.2v7.2h-7.2zM429.2 883.8h7.2v7.2h-7.2zM484.7 883.8h7.2v7.2h-7.2zM498.6 883.8h7.2v7.2h-7.2zM540.2 883.8h14.2v7.2h-14.2zM672.2 883.8h7.2v7.2h-7.2zM741.6 883.8h7.2v7.2h-7.2zM318.1 890.8h7.2v7.2h-7.2zM762.4 890.8h7.2v7.2h-7.2zM470.8 897.7h7.2v7.2h-7.2zM533.3 897.7h7.2v7.2h-7.2zM699.9 897.7h7.2v7.2h-7.2zM748.5 897.7h7.2v7.2h-7.2zM463.9 904.7h7.2v7.2h-7.2zM609.7 904.7h14.2v7.2h-14.2zM311.1 911.6h7.2v7.2h-7.2zM554.1 911.6h7.2v7.2h-7.2zM581.9 911.6h14.2v7.2h-14.2zM686.1 911.6h7.2v7.2h-7.2zM741.6 911.6h7.2v7.2h-7.2zM776.3 911.6h7.2v7.2h-7.2zM630.5 918.6h7.2v7.2h-7.2zM713.8 918.6h7.2v7.2h-7.2zM769.4 918.6h7.2v7.2h-7.2zM519.4 925.5h7.2v7.2h-7.2zM623.6 925.5h7.2v7.2h-7.2zM741.6 925.5h7.2v7.2h-7.2zM755.5 925.5h7.2v7.2h-7.2zM387.5 932.4h7.2v7.2h-7.2zM443 932.4h7.2v7.2h-7.2zM491.6 932.4h7.2v7.2h-7.2zM512.5 932.4h7.2v7.2h-7.2zM602.7 932.4h7.2v7.2h-7.2zM637.5 932.4h7.2v7.2h-7.2zM741.6 932.4h7.2v7.2h-7.2zM345.8 939.4h7.2v7.2h-7.2zM512.5 939.4h7.2v7.2h-7.2zM311.1 946.3h7.2v7.2h-7.2zM443 946.3h7.2v7.2h-7.2zM637.5 946.3h14.2v7.2h-14.2zM748.5 946.3h7.2v7.2h-7.2zM602.7 953.3h7.2v7.2h-7.2zM734.7 953.3h7.2v7.2h-7.2zM290.3 960.2h14.2v7.2h-14.2zM325 960.2h7.2v7.2h-7.2zM394.4 960.2h7.2v7.2h-7.2zM505.5 960.2h7.2v7.2h-7.2zM602.7 960.2h7.2v7.2h-7.2zM665.2 960.2h7.2v7.2h-7.2zM783.3 960.2h7.2v7.2h-7.2zM387.5 967.2h7.2v7.2h-7.2zM561.1 967.2h7.2v7.2h-7.2z" fill="#f5f9f9"/>
<path d="M602.7 474.2h7.2v7.2h-7.2zM748.5 481.1h7.2v7.2h-7.2zM581.9 488.1h7.2v7.2h-7.2zM748.5 495h7.2v7.2h-7.2zM741.6 502h7.2v7.2h-7.2zM456.9 508.9h14.2v7.2h-14.2zM568 522.8h7.2v7.2h-7.2zM547.2 536.7h7.2v7.2h-7.2zM366.7 543.6h7.2v7.2h-7.2zM297.2 578.3h7.2v7.2h-7.2zM450 578.3h7.2v7.2h-7.2zM290.3 613.1h14.2v7.2h-14.2zM588.9 620h7.2v7.2h-7.2zM297.2 633.9h7.2v7.2h-7.2zM623.6 633.9h7.2v7.2h-7.2zM713.8 633.9h7.2v7.2h-7.2zM477.8 647.8h7.2v7.2h-7.2zM637.5 654.7h7.2v7.2h-7.2zM554.1 661.7h7.2v7.2h-7.2zM748.5 661.7h7.2v7.2h-7.2zM769.4 661.7h7.2v7.2h-7.2zM588.9 668.6h7.2v7.2h-7.2zM741.6 668.6h14.2v7.2h-14.2zM463.9 675.5h7.2v7.2h-7.2zM741.6 675.5h7.2v7.2h-7.2zM609.7 682.5h14.2v7.2h-14.2zM720.8 682.5h7.2v7.2h-7.2zM706.9 689.4h7.2v7.2h-7.2zM616.6 696.4h7.2v7.2h-7.2zM359.7 717.2h7.2v7.2h-7.2zM338.9 731.1h7.2v7.2h-7.2zM498.6 731.1h7.2v7.2h-7.2zM741.6 738h7.2v7.2h-7.2zM748.5 745h7.2v7.2h-7.2zM318.1 751.9h7.2v7.2h-7.2zM748.5 751.9h7.2v7.2h-7.2zM443 765.8h7.2v7.2h-7.2zM456.9 772.8h7.2v7.2h-7.2zM575 772.8h7.2v7.2h-7.2zM491.6 779.7h7.2v7.2h-7.2zM380.6 786.6h7.2v7.2h-7.2zM456.9 793.6h7.2v7.2h-7.2zM491.6 793.6h7.2v7.2h-7.2zM720.8 793.6h14.2v7.2h-14.2zM338.9 800.5h7.2v7.2h-7.2zM575 800.5h14.2v7.2h-14.2zM581.9 807.5h7.2v7.2h-7.2zM672.2 807.5h7.2v7.2h-7.2zM609.7 821.4h14.2v7.2h-14.2zM318.1 828.3h7.2v7.2h-7.2zM720.8 828.3h7.2v7.2h-7.2zM443 870h7.2v7.2h-7.2zM470.8 870h7.2v7.2h-7.2zM595.8 870h7.2v7.2h-7.2zM429.2 876.9h7.2v7.2h-7.2zM588.9 876.9h7.2v7.2h-7.2zM436.1 883.8h7.2v7.2h-7.2zM311.1 890.8h7.2v7.2h-7.2zM540.2 890.8h7.2v7.2h-7.2zM443 897.7h7.2v7.2h-7.2zM616.6 897.7h7.2v7.2h-7.2zM734.7 897.7h14.2v7.2h-14.2zM706.9 918.6h7.2v7.2h-7.2zM436.1 932.4h7.2v7.2h-7.2zM540.2 939.4h7.2v7.2h-7.2zM602.7 939.4h14.2v7.2h-14.2zM602.7 946.3h7.2v7.2h-7.2zM325 953.3h7.2v7.2h-7.2zM637.5 960.2h7.2v7.2h-7.2zM380.6 967.2h7.2v7.2h-7.2zM568 967.2h7.2v7.2h-7.2z" fill="#fafefe"/>
<path d="M465.2 798.7 499.9 766.2" fill="none" stroke="#f6262b" stroke-width="3.2" stroke-linejoin="round" stroke-linecap="butt"/>
<path d="M581.4 765.2 616.1 798.7" fill="none" stroke="#f6262b" stroke-width="3.2" stroke-linejoin="round" stroke-linecap="butt"/>
<rect x="290.3" y="474.2" width="499.9" height="499.8" fill="none" stroke="#111" stroke-width="4.2"/>
<path d="M315.3 974v-5M315.3 474.2v5M340.3 974v-5M340.3 474.2v5M365.3 974v-5M365.3 474.2v5M390.3 974v-5M390.3 474.2v5M415.3 974v-10M415.3 474.2v10M440.3 974v-5M440.3 474.2v5M465.3 974v-5M465.3 474.2v5M490.3 974v-5M490.3 474.2v5M515.3 974v-5M515.3 474.2v5M540.2 974v-10M540.2 474.2v10M565.2 974v-5M565.2 474.2v5M590.2 974v-5M590.2 474.2v5M615.2 974v-5M615.2 474.2v5M640.2 974v-5M640.2 474.2v5M665.2 974v-10M665.2 474.2v10M690.2 974v-5M690.2 474.2v5M715.2 974v-5M715.2 474.2v5M740.2 974v-5M740.2 474.2v5M765.2 974v-5M765.2 474.2v5M290.3 949h5M790.2 949h-5M290.3 924h5M790.2 924h-5M290.3 899h5M790.2 899h-5M290.3 874h5M790.2 874h-5M290.3 849.1h10M790.2 849.1h-10M290.3 824.1h5M790.2 824.1h-5M290.3 799.1h5M790.2 799.1h-5M290.3 774.1h5M790.2 774.1h-5M290.3 749.1h5M790.2 749.1h-5M290.3 724.1h10M790.2 724.1h-10M290.3 699.1h5M790.2 699.1h-5M290.3 674.1h5M790.2 674.1h-5M290.3 649.1h5M790.2 649.1h-5M290.3 624.1h5M790.2 624.1h-5M290.3 599.1h10M790.2 599.1h-10M290.3 574.2h5M790.2 574.2h-5M290.3 549.2h5M790.2 549.2h-5M290.3 524.2h5M790.2 524.2h-5M290.3 499.2h5M790.2 499.2h-5" stroke="#111" stroke-width="3.9" fill="none"/>
<text class="s" transform="translate(277.2 500.4)" x="-56.3" font-size="39.5" textLength="56.3" lengthAdjust="spacingAndGlyphs">1.0</text>
<text class="s" transform="translate(277.2 613.9)" x="-56.3" font-size="39.5" textLength="56.3" lengthAdjust="spacingAndGlyphs">0.5</text>
<text class="s" transform="translate(277.2 738.9)" x="-56.3" font-size="39.5" textLength="56.3" lengthAdjust="spacingAndGlyphs">0.0</text>
<text class="s" transform="translate(277.2 863.9)" x="-81.7" font-size="39.5" textLength="81.7" lengthAdjust="spacingAndGlyphs">−0.5</text>
<text class="s" transform="translate(277.2 975.8)" x="-81.7" font-size="39.5" textLength="81.7" lengthAdjust="spacingAndGlyphs">−1.0</text>
<text class="s" transform="translate(290.3 1027.6)" x="-40.8" font-size="39.5" textLength="81.7" lengthAdjust="spacingAndGlyphs">−1.0</text>
<text class="s" transform="translate(415.3 1027.6)" x="-40.8" font-size="39.5" textLength="81.7" lengthAdjust="spacingAndGlyphs">−0.5</text>
<text class="s" transform="translate(540.2 1027.6)" x="-28.1" font-size="39.5" textLength="56.3" lengthAdjust="spacingAndGlyphs">0.0</text>
<text class="s" transform="translate(665.2 1027.6)" x="-28.1" font-size="39.5" textLength="56.3" lengthAdjust="spacingAndGlyphs">0.5</text>
<text class="s" transform="translate(790.2 1027.6)" x="-28.1" font-size="39.5" textLength="56.3" lengthAdjust="spacingAndGlyphs">1.0</text>
<text class="s" transform="translate(539.6 1072.2)" x="-68" font-size="40" textLength="136" lengthAdjust="spacingAndGlyphs">arcmin</text>
<text class="s" transform="translate(160.5 724.8) rotate(-90)" x="-68" font-size="40" textLength="136" lengthAdjust="spacingAndGlyphs">arcmin</text>
<text class="s" transform="translate(326.9 535.5)" x="0" font-size="32.5" textLength="101.4" lengthAdjust="spacingAndGlyphs">DSS−1</text>
<defs><filter id="bl" filterUnits="userSpaceOnUse" x="2200" y="440" width="900" height="280"><feGaussianBlur stdDeviation="2.6"/></filter><filter id="bl2" filterUnits="userSpaceOnUse" x="2200" y="440" width="900" height="280"><feGaussianBlur stdDeviation="1.6"/></filter></defs>
<clipPath id="ci1"><rect x="2275.5" y="481.1" width="197.1" height="188"/></clipPath>
<rect x="2275.5" y="481.1" width="197.1" height="188" fill="#fff"/>
<g clip-path="url(#ci1)">
<path d="M2277 550.1 2303.2 556.2 2334 568.6 2357.1 584 2372.5 597.8 2378.6 591.7 2377.1 568.6 2383.3 550.1 2398.7 537.8 2426.4 531.6 2449.5 536.2 2458.7 556.2 2455.6 584 2438.7 600.9 2420.2 608.6 2407.9 624 2400.2 647.1 2384.8 656.3 2366.3 653.2 2360.2 636.3 2352.5 617.8 2334 597.8 2310.9 584 2287.8 574.7 2277 570.1z" fill="#dfe3e3" stroke="#dfe3e3" stroke-width="3" stroke-linejoin="round" filter="url(#bl)"/>
<path d="M2277 556.2 2303.2 562.4 2334 576.3 2357.1 591.7 2374 605.5 2384.8 593.2 2387.9 570.1 2398.7 556.2 2418.7 547 2434.1 550.1 2441.8 565.5 2438.7 585.5 2426.4 597.8 2411 605.5 2401.7 624 2395.6 642.5 2381.7 650.2 2369.4 645.5 2364.8 631.7 2355.5 614.7 2334 594.7 2310.9 580.9 2287.8 571.6 2277 568.6z" fill="#c4caca" stroke="#c4caca" stroke-width="3" stroke-linejoin="round" filter="url(#bl)"/>
<path d="M2303.2 568.6 2334 580.9 2357.1 596.3 2375.6 611.7 2387.9 602.4 2398.7 577.8 2407.9 562.4 2417.1 565.5 2414.1 584 2403.3 605.5 2397.1 624 2392.5 639.4 2380.2 644 2370.9 637.8 2366.3 624 2354 608.6 2334 591.7 2310.9 577.8z" fill="#a4abab" stroke="#a4abab" stroke-width="3" stroke-linejoin="round" filter="url(#bl)"/>
<path d="M2346.3 591.7 2364.8 604 2378.6 616.3 2391 608.6 2395.6 616.3 2391 633.2 2380.2 639.4 2372.5 631.7 2367.9 617.8 2357.1 605.5z" fill="#868d8d" stroke="#868d8d" stroke-width="3" stroke-linejoin="round" filter="url(#bl)"/>
<ellipse cx="2378.6" cy="624" rx="8.5" ry="13.9" fill="#6a7070" filter="url(#bl2)"/>
<ellipse cx="2378.6" cy="625.5" rx="3.7" ry="8.5" fill="#3a4040" filter="url(#bl2)"/>
<path d="M2275.5 549.2 2278.4 549.5 2281.3 549.8 2284.2 550.1 2287.2 550.4 2290.1 550.7 2293 551.1 2295.9 551.4 2298.9 551.7 2301.8 552.1 2304.7 552.5 2307.6 552.9 2310.6 553.3 2313.5 553.7 2316.4 554.1 2319.3 554.5 2322.2 555 2325.2 555.5 2328.1 556 2331 556.5 2333.9 557.1 2336.9 557.6 2339.8 558.2 2342.7 558.9 2345.6 559.5 2348.6 560.2 2351.5 560.9 2354.4 561.7 2357.3 562.5 2360.2 563.3 2363.2 564.2 2366.1 565.2 2369 566.1 2371.9 567.2 2374.9 568.3 2377.8 569.5 2380.7 570.8 2383.6 572.1 2386.6 573.5 2389.5 575.1 2392.4 576.8 2395.3 578.6 2398.2 580.5 2401.2 582.6 2404.1 584.9 2407 587.4 2409.9 590.2 2412.9 593.2 2415.8 596.6 2418.7 600.4 2421.6 604.6 2424.6 609.3 2427.5 614.8 2430.4 621 2433.3 628.3 2436.2 636.8 2439.2 646.9 2442.1 659.2 2445 674.4 2447.9 693.8" fill="none" stroke="#111" stroke-width="1.5" stroke-linejoin="round" stroke-linecap="butt"/>
<path d="M2275.5 547.7 2277.6 548.1 2279.8 548.4 2282 548.7 2284.2 549.1 2286.3 549.5 2288.5 549.9 2290.7 550.3 2292.8 550.7 2295 551.1 2297.2 551.5 2299.4 552 2301.5 552.5 2303.7 553 2305.9 553.5 2308 554 2310.2 554.5 2312.4 555.1 2314.6 555.7 2316.7 556.3 2318.9 556.9 2321.1 557.5 2323.2 558.2 2325.4 558.9 2327.6 559.7 2329.8 560.4 2331.9 561.3 2334.1 562.1 2336.3 563 2338.4 563.9 2340.6 564.9 2342.8 565.9 2345 567 2347.1 568.1 2349.3 569.3 2351.5 570.6 2353.6 571.9 2355.8 573.3 2358 574.8 2360.2 576.4 2362.3 578.2 2364.5 580 2366.7 581.9 2368.8 584 2371 586.3 2373.2 588.7 2375.4 591.3 2377.5 594.2 2379.7 597.3 2381.9 600.7 2384 604.5 2386.2 608.6 2388.4 613.2 2390.6 618.3 2392.7 624 2394.9 630.5 2397.1 637.8 2399.2 646.3 2401.4 656.2 2403.6 667.8" fill="none" stroke="#111" stroke-width="1.5" stroke-linejoin="round" stroke-linecap="butt" stroke-dasharray="52 22"/>
<path d="M2405.6 585.6 2406.7 584.9 2407.8 584.2 2409 583.5 2410.1 582.7 2411.2 582 2412.4 581.3 2413.5 580.6 2414.6 579.9 2415.8 579.2 2416.9 578.5 2418.1 577.8 2419.2 577.1 2420.3 576.4 2421.5 575.6 2422.6 574.9 2423.7 574.2 2424.9 573.5 2426 572.8 2427.1 572.1 2428.3 571.4 2429.4 570.7 2430.5 570 2431.7 569.3 2432.8 568.5 2434 567.8 2435.1 567.1 2436.2 566.4 2437.4 565.7 2438.5 565 2439.6 564.3 2440.8 563.6 2441.9 562.9 2443 562.2 2444.2 561.4 2445.3 560.7 2446.5 560 2447.6 559.3 2448.7 558.6 2449.9 557.9 2451 557.2 2452.1 556.5 2453.3 555.8 2454.4 555.1 2455.5 554.3 2456.7 553.6 2457.8 552.9 2458.9 552.2 2460.1 551.5 2461.2 550.8 2462.4 550.1 2463.5 549.4 2464.6 548.7 2465.8 548 2466.9 547.2 2468 546.5 2469.2 545.8 2470.3 545.1 2471.4 544.4 2472.6 543.7" fill="none" stroke="#111" stroke-width="1.5" stroke-linejoin="round" stroke-linecap="butt"/>
</g>
<path d="M2285.3 669.1v-1.8M2285.3 481.1v1.8M2295.2 669.1v-1.8M2295.2 481.1v1.8M2305 669.1v-1.8M2305 481.1v1.8M2314.9 669.1v-1.8M2314.9 481.1v1.8M2324.8 669.1v-3.6M2324.8 481.1v3.6M2334.6 669.1v-1.8M2334.6 481.1v1.8M2344.5 669.1v-1.8M2344.5 481.1v1.8M2354.3 669.1v-1.8M2354.3 481.1v1.8M2364.2 669.1v-1.8M2364.2 481.1v1.8M2374 669.1v-3.6M2374 481.1v3.6M2383.9 669.1v-1.8M2383.9 481.1v1.8M2393.7 669.1v-1.8M2393.7 481.1v1.8M2403.6 669.1v-1.8M2403.6 481.1v1.8M2413.4 669.1v-1.8M2413.4 481.1v1.8M2423.3 669.1v-3.6M2423.3 481.1v3.6M2433.2 669.1v-1.8M2433.2 481.1v1.8M2443 669.1v-1.8M2443 481.1v1.8M2452.9 669.1v-1.8M2452.9 481.1v1.8M2462.7 669.1v-1.8M2462.7 481.1v1.8M2275.5 665.4h1.8M2472.6 665.4h-1.8M2275.5 659.6h3.6M2472.6 659.6h-3.6M2275.5 653.7h1.8M2472.6 653.7h-1.8M2275.5 647.8h1.8M2472.6 647.8h-1.8M2275.5 642h1.8M2472.6 642h-1.8M2275.5 636.1h1.8M2472.6 636.1h-1.8M2275.5 630.2h3.6M2472.6 630.2h-3.6M2275.5 624.4h1.8M2472.6 624.4h-1.8M2275.5 618.5h1.8M2472.6 618.5h-1.8M2275.5 612.6h1.8M2472.6 612.6h-1.8M2275.5 606.8h1.8M2472.6 606.8h-1.8M2275.5 600.9h3.6M2472.6 600.9h-3.6M2275.5 595h1.8M2472.6 595h-1.8M2275.5 589.2h1.8M2472.6 589.2h-1.8M2275.5 583.3h1.8M2472.6 583.3h-1.8M2275.5 577.4h1.8M2472.6 577.4h-1.8M2275.5 571.6h3.6M2472.6 571.6h-3.6M2275.5 565.7h1.8M2472.6 565.7h-1.8M2275.5 559.8h1.8M2472.6 559.8h-1.8M2275.5 554h1.8M2472.6 554h-1.8M2275.5 548.1h1.8M2472.6 548.1h-1.8M2275.5 542.2h3.6M2472.6 542.2h-3.6M2275.5 536.4h1.8M2472.6 536.4h-1.8M2275.5 530.5h1.8M2472.6 530.5h-1.8M2275.5 524.6h1.8M2472.6 524.6h-1.8M2275.5 518.8h1.8M2472.6 518.8h-1.8M2275.5 512.9h3.6M2472.6 512.9h-3.6M2275.5 507h1.8M2472.6 507h-1.8M2275.5 501.2h1.8M2472.6 501.2h-1.8M2275.5 495.3h1.8M2472.6 495.3h-1.8M2275.5 489.4h1.8M2472.6 489.4h-1.8M2275.5 483.6h3.6M2472.6 483.6h-3.6" stroke="#111" stroke-width="1.6" fill="none"/>
<rect x="2275.5" y="481.1" width="197.1" height="188" fill="none" stroke="#111" stroke-width="3.6"/>
<circle cx="2364.8" cy="545.5" r="3.6" fill="#1466ee" stroke="#111" stroke-width="1.3"/>
<text class="hb" transform="translate(2270.9 493.1)" x="-21.9" font-size="15" textLength="21.9" lengthAdjust="spacingAndGlyphs">2.0</text>
<text class="hb" transform="translate(2270.9 518)" x="-21.9" font-size="15" textLength="21.9" lengthAdjust="spacingAndGlyphs">1.5</text>
<text class="hb" transform="translate(2270.9 547.3)" x="-21.9" font-size="15" textLength="21.9" lengthAdjust="spacingAndGlyphs">1.0</text>
<text class="hb" transform="translate(2270.9 576.7)" x="-21.9" font-size="15" textLength="21.9" lengthAdjust="spacingAndGlyphs">0.5</text>
<text class="hb" transform="translate(2270.9 606)" x="-21.9" font-size="15" textLength="21.9" lengthAdjust="spacingAndGlyphs">0.0</text>
<text class="hb" transform="translate(2270.9 635.3)" x="-36.1" font-size="15" textLength="36.1" lengthAdjust="spacingAndGlyphs">−0.5</text>
<text class="hb" transform="translate(2270.9 664.7)" x="-36.1" font-size="15" textLength="36.1" lengthAdjust="spacingAndGlyphs">−1.0</text>
<text class="hb" transform="translate(2274 693.3)" x="-18.1" font-size="15" textLength="36.1" lengthAdjust="spacingAndGlyphs">−1.5</text>
<text class="hb" transform="translate(2323.2 693.3)" x="-18.1" font-size="15" textLength="36.1" lengthAdjust="spacingAndGlyphs">−1.0</text>
<text class="hb" transform="translate(2372.5 693.3)" x="-18.1" font-size="15" textLength="36.1" lengthAdjust="spacingAndGlyphs">−0.5</text>
<text class="hb" transform="translate(2423.3 693.3)" x="-10.9" font-size="15" textLength="21.9" lengthAdjust="spacingAndGlyphs">0.0</text>
<text class="hb" transform="translate(2472.6 693.3)" x="-10.9" font-size="15" textLength="21.9" lengthAdjust="spacingAndGlyphs">0.5</text>
<text class="hb" transform="translate(2373.2 715.6)" x="-90.8" font-size="15" textLength="181.7" lengthAdjust="spacingAndGlyphs">log([NII] λ 6583/Hα)</text>
<text class="hb" transform="translate(2216.2 668.6) rotate(-90)" x="0" font-size="15" textLength="184.7" lengthAdjust="spacingAndGlyphs">log([OIII] λ 5007/Hβ)</text>
<text class="hb" transform="translate(2284.7 499.5)" x="0" font-size="15.5" style="fill:#1466ee;stroke:#1466ee" >SY</text>
<clipPath id="ci2"><rect x="2557.8" y="481.1" width="197.8" height="188"/></clipPath>
<rect x="2557.8" y="481.1" width="197.8" height="188" fill="#fff"/>
<g clip-path="url(#ci2)">
<path d="M2560.9 543.9 2585.5 547 2608.6 553.2 2630.1 556.2 2639.4 540.8 2654.8 525.4 2685.6 519.3 2708.7 525.4 2724.1 543.9 2734.9 565.5 2731.8 580.9 2716.4 593.2 2693.3 605.5 2677.9 620.9 2662.5 639.4 2639.4 654.8 2616.3 657.9 2602.4 647.1 2605.5 624 2611.7 600.9 2600.9 577.8 2577.8 562.4 2560.9 554.7z" fill="#dfe3e3" stroke="#dfe3e3" stroke-width="3" stroke-linejoin="round" filter="url(#bl)"/>
<path d="M2577.8 553.2 2608.6 559.3 2633.2 565.5 2647.1 547 2662.5 534.7 2688.7 531.6 2704.1 543.9 2713.3 565.5 2707.1 580.9 2685.6 593.2 2673.3 611.7 2659.4 633.2 2639.4 647.1 2620.9 650.2 2611.7 639.4 2614.7 620.9 2620.9 600.9 2608.6 577.8 2590.1 565.5z" fill="#c4caca" stroke="#c4caca" stroke-width="3" stroke-linejoin="round" filter="url(#bl)"/>
<path d="M2600.9 559.3 2624 563.9 2647.1 574.7 2662.5 587 2670.2 600.9 2665.6 620.9 2651.7 636.3 2636.3 644 2624 640.9 2620.9 627.1 2627.1 608.6 2624 587 2611.7 571.6z" fill="#a4abab" stroke="#a4abab" stroke-width="3" stroke-linejoin="round" filter="url(#bl)"/>
<path d="M2636.3 574.7 2654.8 584 2665.6 599.4 2660.9 617.8 2648.6 631.7 2634.8 636.3 2630.1 625.5 2636.3 608.6 2637.8 590.1z" fill="#868d8d" stroke="#868d8d" stroke-width="3" stroke-linejoin="round" filter="url(#bl)"/>
<path d="M2647.1 602.4 2656.3 605.5 2653.2 620.9 2640.9 631.7 2634.8 628.6 2639.4 614.7z" fill="#6a7070" stroke="#6a7070" stroke-width="3" stroke-linejoin="round" filter="url(#bl2)"/>
<path d="M2649.4 613.2 2639.4 627.1" fill="none" stroke="#343a3a" stroke-width="5.4" stroke-linejoin="round" stroke-linecap="round" filter="url(#bl2)"/>
<path d="M2556.6 540.1 2559.2 540.6 2561.7 541 2564.3 541.5 2566.9 542 2569.4 542.5 2572 543 2574.5 543.6 2577.1 544.1 2579.7 544.7 2582.2 545.3 2584.8 545.9 2587.3 546.6 2589.9 547.2 2592.5 547.9 2595 548.6 2597.6 549.3 2600.1 550 2602.7 550.8 2605.3 551.6 2607.8 552.4 2610.4 553.3 2612.9 554.2 2615.5 555.1 2618.1 556.1 2620.6 557.1 2623.2 558.2 2625.7 559.3 2628.3 560.4 2630.9 561.6 2633.4 562.8 2636 564.1 2638.5 565.5 2641.1 566.9 2643.7 568.5 2646.2 570 2648.8 571.7 2651.3 573.5 2653.9 575.3 2656.4 577.3 2659 579.4 2661.6 581.6 2664.1 583.9 2666.7 586.4 2669.2 589.1 2671.8 591.9 2674.4 595 2676.9 598.2 2679.5 601.8 2682 605.6 2684.6 609.7 2687.2 614.2 2689.7 619.1 2692.3 624.5 2694.8 630.4 2697.4 637 2700 644.3 2702.5 652.4 2705.1 661.6 2707.6 672" fill="none" stroke="#111" stroke-width="1.5" stroke-linejoin="round" stroke-linecap="butt"/>
<path d="M2665.8 584.3 2667.3 582.8 2668.8 581.2 2670.3 579.6 2671.9 578.1 2673.4 576.5 2674.9 574.9 2676.5 573.4 2678 571.8 2679.5 570.2 2681 568.7 2682.6 567.1 2684.1 565.5 2685.6 564 2687.1 562.4 2688.7 560.9 2690.2 559.3 2691.7 557.7 2693.2 556.2 2694.8 554.6 2696.3 553 2697.8 551.5 2699.4 549.9 2700.9 548.3 2702.4 546.8 2703.9 545.2 2705.5 543.6 2707 542.1 2708.5 540.5 2710 538.9 2711.6 537.4 2713.1 535.8 2714.6 534.2 2716.2 532.7 2717.7 531.1 2719.2 529.6 2720.7 528 2722.3 526.4 2723.8 524.9 2725.3 523.3 2726.8 521.7 2728.4 520.2 2729.9 518.6 2731.4 517 2733 515.5 2734.5 513.9 2736 512.3 2737.5 510.8 2739.1 509.2 2740.6 507.6 2742.1 506.1 2743.6 504.5 2745.2 503 2746.7 501.4 2748.2 499.8 2749.8 498.3 2751.3 496.7 2752.8 495.1 2754.3 493.6 2755.9 492" fill="none" stroke="#111" stroke-width="1.5" stroke-linejoin="round" stroke-linecap="butt"/>
</g>
<path d="M2565.5 669.1v-1.8M2565.5 481.1v1.8M2578.2 669.1v-3.6M2578.2 481.1v3.6M2590.9 669.1v-1.8M2590.9 481.1v1.8M2603.6 669.1v-1.8M2603.6 481.1v1.8M2616.3 669.1v-1.8M2616.3 481.1v1.8M2629 669.1v-1.8M2629 481.1v1.8M2641.7 669.1v-3.6M2641.7 481.1v3.6M2654.3 669.1v-1.8M2654.3 481.1v1.8M2667 669.1v-1.8M2667 481.1v1.8M2679.7 669.1v-1.8M2679.7 481.1v1.8M2692.4 669.1v-1.8M2692.4 481.1v1.8M2705.1 669.1v-3.6M2705.1 481.1v3.6M2717.8 669.1v-1.8M2717.8 481.1v1.8M2730.5 669.1v-1.8M2730.5 481.1v1.8M2743.2 669.1v-1.8M2743.2 481.1v1.8M2557.8 665.1h3.6M2755.6 665.1h-3.6M2557.8 658.2h1.8M2755.6 658.2h-1.8M2557.8 651.3h1.8M2755.6 651.3h-1.8M2557.8 644.5h1.8M2755.6 644.5h-1.8M2557.8 637.6h1.8M2755.6 637.6h-1.8M2557.8 630.7h3.6M2755.6 630.7h-3.6M2557.8 623.8h1.8M2755.6 623.8h-1.8M2557.8 616.9h1.8M2755.6 616.9h-1.8M2557.8 610.1h1.8M2755.6 610.1h-1.8M2557.8 603.2h1.8M2755.6 603.2h-1.8M2557.8 596.3h3.6M2755.6 596.3h-3.6M2557.8 589.4h1.8M2755.6 589.4h-1.8M2557.8 582.5h1.8M2755.6 582.5h-1.8M2557.8 575.7h1.8M2755.6 575.7h-1.8M2557.8 568.8h1.8M2755.6 568.8h-1.8M2557.8 561.9h3.6M2755.6 561.9h-3.6M2557.8 555h1.8M2755.6 555h-1.8M2557.8 548.1h1.8M2755.6 548.1h-1.8M2557.8 541.3h1.8M2755.6 541.3h-1.8M2557.8 534.4h1.8M2755.6 534.4h-1.8M2557.8 527.5h3.6M2755.6 527.5h-3.6M2557.8 520.6h1.8M2755.6 520.6h-1.8M2557.8 513.7h1.8M2755.6 513.7h-1.8M2557.8 506.9h1.8M2755.6 506.9h-1.8M2557.8 500h1.8M2755.6 500h-1.8M2557.8 493.1h3.6M2755.6 493.1h-3.6M2557.8 486.2h1.8M2755.6 486.2h-1.8" stroke="#111" stroke-width="1.6" fill="none"/>
<rect x="2557.8" y="481.1" width="197.8" height="188" fill="none" stroke="#111" stroke-width="3.6"/>
<circle cx="2620.8" cy="532.1" r="3.6" fill="#1466ee" stroke="#111" stroke-width="1.3"/>
<text class="hb" transform="translate(2553.9 498.2)" x="-21.9" font-size="15" textLength="21.9" lengthAdjust="spacingAndGlyphs">1.5</text>
<text class="hb" transform="translate(2553.9 532.6)" x="-21.9" font-size="15" textLength="21.9" lengthAdjust="spacingAndGlyphs">1.0</text>
<text class="hb" transform="translate(2553.9 567)" x="-21.9" font-size="15" textLength="21.9" lengthAdjust="spacingAndGlyphs">0.5</text>
<text class="hb" transform="translate(2553.9 601.4)" x="-21.9" font-size="15" textLength="21.9" lengthAdjust="spacingAndGlyphs">0.0</text>
<text class="hb" transform="translate(2553.9 635.8)" x="-36.1" font-size="15" textLength="36.1" lengthAdjust="spacingAndGlyphs">−0.5</text>
<text class="hb" transform="translate(2553.9 670.2)" x="-36.1" font-size="15" textLength="36.1" lengthAdjust="spacingAndGlyphs">−1.0</text>
<text class="hb" transform="translate(2576.7 693.3)" x="-18.1" font-size="15" textLength="36.1" lengthAdjust="spacingAndGlyphs">−1.0</text>
<text class="hb" transform="translate(2640.2 693.3)" x="-18.1" font-size="15" textLength="36.1" lengthAdjust="spacingAndGlyphs">−0.5</text>
<text class="hb" transform="translate(2705.1 693.3)" x="-10.9" font-size="15" textLength="21.9" lengthAdjust="spacingAndGlyphs">0.0</text>
<text class="hb" transform="translate(2755.9 693.3)" x="-10.9" font-size="15" textLength="21.9" lengthAdjust="spacingAndGlyphs">0.4</text>
<text class="hb" transform="translate(2656.7 715.6)" x="-113.6" font-size="15" textLength="227.2" lengthAdjust="spacingAndGlyphs">log([SII] λ 6716,6730/Hα)</text>
<text class="hb" transform="translate(2500.8 668.6) rotate(-90)" x="0" font-size="15" textLength="184.7" lengthAdjust="spacingAndGlyphs">log([OIII] λ 5007/Hβ)</text>
<text class="hb" transform="translate(2567.8 499.5)" x="0" font-size="15.5" style="fill:#1466ee;stroke:#1466ee" >SY</text>
<clipPath id="ci3"><rect x="2842.4" y="481.1" width="197.1" height="188"/></clipPath>
<rect x="2842.4" y="481.1" width="197.1" height="188" fill="#fff"/>
<g clip-path="url(#ci3)">
<path d="M2843.9 547 2867.8 547 2898.6 550.1 2914 553.2 2926.3 534.7 2944.8 520.8 2975.6 513.1 2987.9 516.2 3000.2 534.7 3009.5 556.2 3015.6 577.8 3006.4 600.9 2991 608.6 2972.5 613.2 2952.5 608.6 2941.7 620.9 2926.3 636.3 2906.3 651.7 2883.2 660.9 2860.1 659.4 2843.9 647.1z" fill="#dfe3e3" stroke="#dfe3e3" stroke-width="3" stroke-linejoin="round" filter="url(#bl)"/>
<path d="M2843.9 556.2 2867.8 553.2 2898.6 556.2 2917.1 562.4 2932.5 547 2947.9 531.6 2975.6 522.4 2987.9 531.6 2983.3 547 2960.2 550.1 2944.8 562.4 2952.5 577.8 2975.6 570.1 3000.2 568.6 3003.3 587 2987.9 597.8 2967.9 593.2 2944.8 600.9 2929.4 624 2906.3 644 2883.2 653.2 2860.1 647.1 2852.4 624 2846.2 593.2z" fill="#c4caca" stroke="#c4caca" stroke-width="3" stroke-linejoin="round" filter="url(#bl)"/>
<ellipse cx="2966.3" cy="533.1" rx="20" ry="7.7" fill="#b9c0c0" filter="url(#bl)"/>
<ellipse cx="2989.4" cy="574.7" rx="9.2" ry="9.2" fill="#b9c0c0" filter="url(#bl)"/>
<path d="M2858.6 550.1 2883.2 553.2 2906.3 562.4 2921.7 577.8 2927.8 600.9 2920.1 624 2903.2 639.4 2883.2 647.1 2870.9 636.3 2867.8 608.6 2861.6 577.8z" fill="#a4abab" stroke="#a4abab" stroke-width="3" stroke-linejoin="round" filter="url(#bl)"/>
<path d="M2880.1 557.8 2901.7 565.5 2917.1 580.9 2921.7 602.4 2914 624 2898.6 636.3 2886.3 636.3 2883.2 616.3 2881.7 585.5z" fill="#868d8d" stroke="#868d8d" stroke-width="3" stroke-linejoin="round" filter="url(#bl)"/>
<path d="M2894 568.6 2907.8 574.7 2915.5 590.1 2914 611.7 2904.7 630.1 2895.5 633.2 2892.4 616.3 2894 590.1z" fill="#6a7070" stroke="#6a7070" stroke-width="3" stroke-linejoin="round" filter="url(#bl2)"/>
<path d="M2901.7 576.3 2911.7 587 2910.1 608.6 2901.7 624 2897 617.8 2898.6 593.2z" fill="#4a5050" stroke="#4a5050" stroke-width="3" stroke-linejoin="round" filter="url(#bl2)"/>
<path d="M2907.1 588.6 2902.4 610.1" fill="none" stroke="#2a3030" stroke-width="5.5" stroke-linejoin="round" stroke-linecap="round" filter="url(#bl2)"/>
<path d="M2841.5 537 2843.5 537.4 2845.4 537.9 2847.4 538.4 2849.4 538.8 2851.3 539.3 2853.3 539.9 2855.2 540.4 2857.2 540.9 2859.2 541.5 2861.1 542.1 2863.1 542.7 2865 543.3 2867 543.9 2868.9 544.6 2870.9 545.3 2872.9 546 2874.8 546.7 2876.8 547.5 2878.7 548.2 2880.7 549.1 2882.7 549.9 2884.6 550.8 2886.6 551.7 2888.5 552.7 2890.5 553.6 2892.5 554.7 2894.4 555.7 2896.4 556.9 2898.3 558 2900.3 559.3 2902.2 560.6 2904.2 561.9 2906.2 563.3 2908.1 564.8 2910.1 566.4 2912 568 2914 569.8 2916 571.6 2917.9 573.6 2919.9 575.6 2921.8 577.8 2923.8 580.1 2925.7 582.6 2927.7 585.3 2929.7 588.1 2931.6 591.2 2933.6 594.4 2935.5 598 2937.5 601.8 2939.5 606 2941.4 610.5 2943.4 615.4 2945.3 620.9 2947.3 626.9 2949.3 633.5 2951.2 641 2953.2 649.3 2955.1 658.7 2957.1 669.5" fill="none" stroke="#111" stroke-width="1.5" stroke-linejoin="round" stroke-linecap="butt"/>
<path d="M2935.4 598.6 2937.2 597 2939 595.5 2940.7 593.9 2942.5 592.4 2944.3 590.8 2946 589.3 2947.8 587.7 2949.6 586.2 2951.3 584.6 2953.1 583 2954.8 581.5 2956.6 579.9 2958.4 578.4 2960.1 576.8 2961.9 575.3 2963.7 573.7 2965.4 572.2 2967.2 570.6 2969 569.1 2970.7 567.5 2972.5 565.9 2974.2 564.4 2976 562.8 2977.8 561.3 2979.5 559.7 2981.3 558.2 2983.1 556.6 2984.8 555.1 2986.6 553.5 2988.4 552 2990.1 550.4 2991.9 548.8 2993.6 547.3 2995.4 545.7 2997.2 544.2 2998.9 542.6 3000.7 541.1 3002.5 539.5 3004.2 538 3006 536.4 3007.8 534.8 3009.5 533.3 3011.3 531.7 3013 530.2 3014.8 528.6 3016.6 527.1 3018.3 525.5 3020.1 524 3021.9 522.4 3023.6 520.9 3025.4 519.3 3027.2 517.7 3028.9 516.2 3030.7 514.6 3032.4 513.1 3034.2 511.5 3036 510 3037.7 508.4 3039.5 506.9" fill="none" stroke="#111" stroke-width="1.5" stroke-linejoin="round" stroke-linecap="butt"/>
</g>
<path d="M2846.1 669.1v-1.8M2846.1 481.1v1.8M2855.3 669.1v-3.6M2855.3 481.1v3.6M2864.5 669.1v-1.8M2864.5 481.1v1.8M2873.8 669.1v-1.8M2873.8 481.1v1.8M2883 669.1v-1.8M2883 481.1v1.8M2892.2 669.1v-1.8M2892.2 481.1v1.8M2901.4 669.1v-3.6M2901.4 481.1v3.6M2910.6 669.1v-1.8M2910.6 481.1v1.8M2919.8 669.1v-1.8M2919.8 481.1v1.8M2929 669.1v-1.8M2929 481.1v1.8M2938.2 669.1v-1.8M2938.2 481.1v1.8M2947.4 669.1v-3.6M2947.4 481.1v3.6M2956.6 669.1v-1.8M2956.6 481.1v1.8M2965.8 669.1v-1.8M2965.8 481.1v1.8M2975 669.1v-1.8M2975 481.1v1.8M2984.3 669.1v-1.8M2984.3 481.1v1.8M2993.5 669.1v-3.6M2993.5 481.1v3.6M3002.7 669.1v-1.8M3002.7 481.1v1.8M3011.9 669.1v-1.8M3011.9 481.1v1.8M3021.1 669.1v-1.8M3021.1 481.1v1.8M3030.3 669.1v-1.8M3030.3 481.1v1.8M2842.4 665.1h3.6M3039.5 665.1h-3.6M2842.4 658.2h1.8M3039.5 658.2h-1.8M2842.4 651.3h1.8M3039.5 651.3h-1.8M2842.4 644.5h1.8M3039.5 644.5h-1.8M2842.4 637.6h1.8M3039.5 637.6h-1.8M2842.4 630.7h3.6M3039.5 630.7h-3.6M2842.4 623.8h1.8M3039.5 623.8h-1.8M2842.4 616.9h1.8M3039.5 616.9h-1.8M2842.4 610.1h1.8M3039.5 610.1h-1.8M2842.4 603.2h1.8M3039.5 603.2h-1.8M2842.4 596.3h3.6M3039.5 596.3h-3.6M2842.4 589.4h1.8M3039.5 589.4h-1.8M2842.4 582.5h1.8M3039.5 582.5h-1.8M2842.4 575.7h1.8M3039.5 575.7h-1.8M2842.4 568.8h1.8M3039.5 568.8h-1.8M2842.4 561.9h3.6M3039.5 561.9h-3.6M2842.4 555h1.8M3039.5 555h-1.8M2842.4 548.1h1.8M3039.5 548.1h-1.8M2842.4 541.3h1.8M3039.5 541.3h-1.8M2842.4 534.4h1.8M3039.5 534.4h-1.8M2842.4 527.5h3.6M3039.5 527.5h-3.6M2842.4 520.6h1.8M3039.5 520.6h-1.8M2842.4 513.7h1.8M3039.5 513.7h-1.8M2842.4 506.9h1.8M3039.5 506.9h-1.8M2842.4 500h1.8M3039.5 500h-1.8M2842.4 493.1h3.6M3039.5 493.1h-3.6M2842.4 486.2h1.8M3039.5 486.2h-1.8" stroke="#111" stroke-width="1.6" fill="none"/>
<rect x="2842.4" y="481.1" width="197.1" height="188" fill="none" stroke="#111" stroke-width="3.6"/>
<circle cx="2975.1" cy="532.1" r="3.6" fill="#1466ee" stroke="#111" stroke-width="1.3"/>
<text class="hb" transform="translate(2838.5 498.2)" x="-21.9" font-size="15" textLength="21.9" lengthAdjust="spacingAndGlyphs">1.5</text>
<text class="hb" transform="translate(2838.5 532.6)" x="-21.9" font-size="15" textLength="21.9" lengthAdjust="spacingAndGlyphs">1.0</text>
<text class="hb" transform="translate(2838.5 567)" x="-21.9" font-size="15" textLength="21.9" lengthAdjust="spacingAndGlyphs">0.5</text>
<text class="hb" transform="translate(2838.5 601.4)" x="-21.9" font-size="15" textLength="21.9" lengthAdjust="spacingAndGlyphs">0.0</text>
<text class="hb" transform="translate(2838.5 635.8)" x="-36.1" font-size="15" textLength="36.1" lengthAdjust="spacingAndGlyphs">−0.5</text>
<text class="hb" transform="translate(2838.5 670.2)" x="-36.1" font-size="15" textLength="36.1" lengthAdjust="spacingAndGlyphs">−1.0</text>
<text class="hb" transform="translate(2853.8 693.3)" x="-18.1" font-size="15" textLength="36.1" lengthAdjust="spacingAndGlyphs">−2.0</text>
<text class="hb" transform="translate(2899.9 693.3)" x="-18.1" font-size="15" textLength="36.1" lengthAdjust="spacingAndGlyphs">−1.5</text>
<text class="hb" transform="translate(2945.9 693.3)" x="-18.1" font-size="15" textLength="36.1" lengthAdjust="spacingAndGlyphs">−1.0</text>
<text class="hb" transform="translate(2992 693.3)" x="-18.1" font-size="15" textLength="36.1" lengthAdjust="spacingAndGlyphs">−0.5</text>
<text class="hb" transform="translate(3039.5 693.3)" x="-10.9" font-size="15" textLength="21.9" lengthAdjust="spacingAndGlyphs">0.0</text>
<text class="hb" transform="translate(2940.1 715.6)" x="-87.8" font-size="15" textLength="175.5" lengthAdjust="spacingAndGlyphs">log([OI] λ 6300/Hα)</text>
<text class="hb" transform="translate(2783.9 668.6) rotate(-90)" x="0" font-size="15" textLength="184.7" lengthAdjust="spacingAndGlyphs">log([OIII] λ 5007/Hβ)</text>
<text class="hb" transform="translate(2848.5 499.5)" x="0" font-size="15.5" style="fill:#1466ee;stroke:#1466ee" >SY</text>
<path d="M1045.3 974.2v-5M1045.3 474.1v5M1111.9 974.2v-10M1111.9 474.1v10M1178.5 974.2v-5M1178.5 474.1v5M1245.2 974.2v-5M1245.2 474.1v5M1311.8 974.2v-5M1311.8 474.1v5M1378.4 974.2v-5M1378.4 474.1v5M1445.1 974.2v-10M1445.1 474.1v10M1511.7 974.2v-5M1511.7 474.1v5M1578.3 974.2v-5M1578.3 474.1v5M1645 974.2v-5M1645 474.1v5M1711.6 974.2v-5M1711.6 474.1v5M1778.2 974.2v-10M1778.2 474.1v10M1844.9 974.2v-5M1844.9 474.1v5M1911.5 974.2v-5M1911.5 474.1v5M1978.1 974.2v-5M1978.1 474.1v5M2044.8 974.2v-5M2044.8 474.1v5M2111.4 974.2v-10M2111.4 474.1v10M2178 974.2v-5M2178 474.1v5M2244.7 974.2v-5M2244.7 474.1v5M2311.3 974.2v-5M2311.3 474.1v5M2377.9 974.2v-5M2377.9 474.1v5M2444.6 974.2v-10M2444.6 474.1v10M2511.2 974.2v-5M2511.2 474.1v5M2577.8 974.2v-5M2577.8 474.1v5M2644.5 974.2v-5M2644.5 474.1v5M2711.1 974.2v-5M2711.1 474.1v5M2777.8 974.2v-10M2777.8 474.1v10M2844.4 974.2v-5M2844.4 474.1v5M2911 974.2v-5M2911 474.1v5M2977.7 974.2v-5M2977.7 474.1v5M3044.3 974.2v-5M3044.3 474.1v5M999.2 971.4h42M3094 971.4h-42M999.2 949.5h21M3094 949.5h-21M999.2 927.6h21M3094 927.6h-21M999.2 905.7h21M3094 905.7h-21M999.2 883.8h21M3094 883.8h-21M999.2 861.9h42M3094 861.9h-42M999.2 839.9h21M3094 839.9h-21M999.2 818h21M3094 818h-21M999.2 796.1h21M3094 796.1h-21M999.2 774.2h21M3094 774.2h-21M999.2 752.3h42M3094 752.3h-42M999.2 730.4h21M3094 730.4h-21M999.2 708.5h21M3094 708.5h-21M999.2 686.6h21M3094 686.6h-21M999.2 664.7h21M3094 664.7h-21M999.2 642.8h42M3094 642.8h-42M999.2 620.8h21M3094 620.8h-21M999.2 598.9h21M3094 598.9h-21M999.2 577h21M3094 577h-21M999.2 555.1h21M3094 555.1h-21M999.2 533.2h42M3094 533.2h-42M999.2 511.3h21M3094 511.3h-21M999.2 489.4h21M3094 489.4h-21" stroke="#111" stroke-width="3.9" fill="none"/>
<rect x="999.2" y="474.1" width="2094.8" height="500.1" fill="none" stroke="#111" stroke-width="4.2"/>
<text class="s" transform="translate(985.8 975)" x="-22.5" font-size="39.5" textLength="22.5" lengthAdjust="spacingAndGlyphs">0</text>
<text class="s" transform="translate(985.8 876.9)" x="-67.5" font-size="39.5" textLength="67.5" lengthAdjust="spacingAndGlyphs">100</text>
<text class="s" transform="translate(985.8 767.3)" x="-67.5" font-size="39.5" textLength="67.5" lengthAdjust="spacingAndGlyphs">200</text>
<text class="s" transform="translate(985.8 657.8)" x="-67.5" font-size="39.5" textLength="67.5" lengthAdjust="spacingAndGlyphs">300</text>
<text class="s" transform="translate(985.8 548.2)" x="-67.5" font-size="39.5" textLength="67.5" lengthAdjust="spacingAndGlyphs">400</text>
<text class="s" transform="translate(1111.9 1027.6)" x="-45" font-size="39.5" textLength="90.1" lengthAdjust="spacingAndGlyphs">4000</text>
<text class="s" transform="translate(1445.1 1027.6)" x="-45" font-size="39.5" textLength="90.1" lengthAdjust="spacingAndGlyphs">4500</text>
<text class="s" transform="translate(1778.2 1027.6)" x="-45" font-size="39.5" textLength="90.1" lengthAdjust="spacingAndGlyphs">5000</text>
<text class="s" transform="translate(2111.4 1027.6)" x="-45" font-size="39.5" textLength="90.1" lengthAdjust="spacingAndGlyphs">5500</text>
<text class="s" transform="translate(2444.6 1027.6)" x="-45" font-size="39.5" textLength="90.1" lengthAdjust="spacingAndGlyphs">6000</text>
<text class="s" transform="translate(2777.8 1027.6)" x="-45" font-size="39.5" textLength="90.1" lengthAdjust="spacingAndGlyphs">6500</text>
<g transform="translate(887.2 959.2) rotate(-90)"><text class="s" x="0" y="0" font-size="39" textLength="68" lengthAdjust="spacingAndGlyphs">flux</text><text class="s" x="73.5" y="0" font-size="39">[</text><text class="s" x="92.5" y="0" font-size="39" textLength="41" lengthAdjust="spacingAndGlyphs">10</text><text class="hb" x="137" y="-16.8" font-size="19.5" textLength="41" lengthAdjust="spacingAndGlyphs">−17</text><text class="s" x="183.5" y="0" font-size="39" textLength="61" lengthAdjust="spacingAndGlyphs">erg</text><text class="s" x="267" y="0" font-size="39" textLength="15" lengthAdjust="spacingAndGlyphs">s</text><text class="hb" x="287.5" y="-16.8" font-size="19.5" textLength="27.5" lengthAdjust="spacingAndGlyphs">−1</text><text class="s" x="319.5" y="0" font-size="39" textLength="43.5" lengthAdjust="spacingAndGlyphs">cm</text><text class="hb" x="366.5" y="-16.8" font-size="19.5" textLength="30" lengthAdjust="spacingAndGlyphs">−2</text><text class="s" x="390.5" y="-18" font-size="25">°</text><text class="s" x="406" y="0" font-size="39" textLength="25" lengthAdjust="spacingAndGlyphs">A</text><text class="hb" x="431" y="-16.8" font-size="19.5" textLength="21" lengthAdjust="spacingAndGlyphs">−1</text><text class="s" x="454.5" y="0" font-size="39">]</text></g>
<g transform="translate(1992.3 1071.2)"><text class="s" x="0" y="0" font-size="38" textLength="16.5" lengthAdjust="spacingAndGlyphs">λ</text><text class="sb" x="19" y="9.8" font-size="25" textLength="33.5" lengthAdjust="spacingAndGlyphs">r.f.</text><text class="s" x="54.5" y="2" font-size="45">[</text><text class="s" x="70.8" y="-18" font-size="25">°</text><text class="sb" x="70.2" y="0.5" font-size="37.5" textLength="22.5" lengthAdjust="spacingAndGlyphs">A</text><text class="s" x="91" y="2" font-size="45">]</text></g>
<path d="M1046.2 526.3 1235.2 526.3" fill="none" stroke="#111" stroke-width="6.2" stroke-linejoin="round" stroke-linecap="butt"/>
<text class="s" transform="translate(1267.3 539.4)" x="0" font-size="40" textLength="66.3" lengthAdjust="spacingAndGlyphs">obj.</text>
<path d="M1046.2 576.1 1235.2 576.1" fill="none" stroke="#f6262b" stroke-width="6.2" stroke-linejoin="round" stroke-linecap="butt" stroke-dasharray="23.8 11.5 6.2 11.5"/>
<text class="s" transform="translate(1267.3 589.2)" x="0" font-size="40" textLength="41.2" lengthAdjust="spacingAndGlyphs">fit</text>
<path d="M1046.2 626 1235.2 626" fill="none" stroke="#111" stroke-width="6.2" stroke-linejoin="round" stroke-linecap="butt" stroke-dasharray="6.2 10.3"/>
<text class="s" transform="translate(1267.3 639.1)" x="0" font-size="40" textLength="66.8" lengthAdjust="spacingAndGlyphs">res.</text>
<path d="M1046.2 675.8 1235.2 675.8" fill="none" stroke="#0a4ff0" stroke-width="6.2" stroke-linejoin="round" stroke-linecap="butt"/>
<text class="s" transform="translate(1267.3 688.9)" x="0" font-size="40" textLength="77.8" lengthAdjust="spacingAndGlyphs">emi.</text>
<path d="M1046.2 725.7 1235.2 725.7" fill="none" stroke="#30d065" stroke-width="6.2" stroke-linejoin="round" stroke-linecap="butt"/>
<text class="s" transform="translate(1267.3 738.8)" x="0" textLength="108" lengthAdjust="spacingAndGlyphs"><tspan font-size="40">emi.</tspan><tspan font-size="23" class="hb" dy="9">br</tspan></text>
<clipPath id="cm"><rect x="999.2" y="474.1" width="2094.8" height="500.1"/></clipPath><g clip-path="url(#cm)">
<path d="M1033.6 866.3 1034.3 864 1034.9 862.9 1035.6 861.8 1036.3 860.6 1036.9 859.7 1037.6 861.3 1038.3 863.6 1038.9 864.6 1039.6 865 1040.3 866.3 1040.9 867.5 1041.6 868.8 1042.3 870.4 1042.9 872.1 1043.6 873.3 1044.3 872.5 1044.9 871.9 1045.6 871.4 1046.3 871.8 1046.9 872.3 1047.6 872.4 1048.3 872.3 1048.9 872.2 1049.6 872.2 1050.3 873.3 1050.9 874.1 1051.6 874.9 1052.3 876.1 1052.9 877.2 1053.6 878.7 1054.3 880 1054.9 880.3 1055.6 880.3 1056.3 880 1056.9 879.4 1057.6 878.8 1058.3 879.5 1058.9 880.5 1059.6 882.2 1060.3 884 1060.9 885.6 1061.6 886.8 1062.3 887.7 1062.9 888.1 1063.6 888.4 1064.3 888.8 1064.9 888.9 1065.6 888.3 1066.3 887.6 1066.9 886.8 1067.6 886.2 1068.3 886.4 1068.9 887.2 1069.6 887.9 1070.3 888.5 1070.9 889.1 1071.6 889.2 1072.3 888.6 1072.9 888.4 1073.6 888.6 1074.3 888.6 1074.9 888.1 1075.6 887 1076.3 885.9 1076.9 884.9 1077.6 883.7 1078.2 882.4 1078.9 881.5 1079.6 882.7 1080.2 883.9 1080.9 885 1081.6 886.1 1082.2 887.3 1082.9 886.8 1083.6 884 1084.2 881.2 1084.9 878.5 1085.6 875.8 1086.2 873.4 1086.9 870.8 1087.6 868.3 1088.2 866.2 1088.9 864.8 1089.6 864.4 1090.2 864.3 1090.9 863.5 1091.6 866.8 1092.2 873.3 1092.9 878.1 1093.6 882.1 1094.2 884.7 1094.9 886.3 1095.6 887.3 1096.2 888 1096.9 887.9 1097.6 888 1098.2 888 1098.9 887.8 1099.6 887.7 1100.2 888.6 1100.9 889.6 1101.6 889.8 1102.2 889.5 1102.9 888.9 1103.6 888.5 1104.2 888.3 1104.9 888.4 1105.6 888.6 1106.2 888.5 1106.9 889 1107.6 889.1 1108.2 889.2 1108.9 889.5 1109.6 890.1 1110.2 891.2 1110.9 892.4 1111.6 893.6 1112.2 895.1 1112.9 895.7 1113.6 893.9 1114.2 892.2 1114.9 892.8 1115.6 893.4 1116.2 893.9 1116.9 894.1 1117.6 894.2 1118.2 895.5 1118.9 896.4 1119.6 895.9 1120.2 895.1 1120.9 894.4 1121.6 893.7 1122.2 893.2 1122.9 893.3 1123.6 893.6 1124.2 892.4 1124.9 891.2 1125.6 891.3 1126.2 891.8 1126.9 891.9 1127.6 891.4 1128.2 890.9 1128.9 889.9 1129.6 889 1130.2 890 1130.9 890.9 1131.6 891 1132.2 890.8 1132.9 890.3 1133.6 889.5 1134.2 889.2 1134.9 890.4 1135.6 891.9 1136.2 892.3 1136.9 892.7 1137.6 893.1 1138.2 893.4 1138.9 894 1139.6 894.7 1140.2 895.5 1140.9 896.2 1141.6 896.9 1142.2 897.3 1142.9 896.7 1143.6 895.7 1144.2 894.7 1144.9 893.7 1145.6 893 1146.2 892.1 1146.9 890.9 1147.5 889.8 1148.2 890.8 1148.9 891.9 1149.5 891.8 1150.2 891.3 1150.9 891.6 1151.5 892.5 1152.2 892.5 1152.9 889.1 1153.5 885.6 1154.2 888.6 1154.9 891.5 1155.5 889.6 1156.2 886 1156.9 883.5 1157.5 882.1 1158.2 881.9 1158.9 886 1159.5 890.1 1160.2 890.1 1160.9 890 1161.5 890.2 1162.2 890.4 1162.9 889.9 1163.5 888.7 1164.2 888.1 1164.9 890 1165.5 892 1166.2 891.1 1166.9 890.1 1167.5 890.1 1168.2 890.5 1168.9 890.5 1169.5 890.1 1170.2 889.3 1170.9 887.3 1171.5 884.8 1172.2 886.8 1172.9 888.8 1173.5 887.8 1174.2 885.7 1174.9 884.2 1175.5 883.1 1176.2 882 1176.9 880.5 1177.5 879.1 1178.2 881.1 1178.9 883.1 1179.5 881.8 1180.2 880.4 1180.9 880.9 1181.5 883.3 1182.2 885.2 1182.9 885.9 1183.5 886.5 1184.2 888.6 1184.9 890.8 1185.5 893.7 1186.2 896 1186.9 896.4 1187.5 895.2 1188.2 893.9 1188.9 892.2 1189.5 890.5 1190.2 891.4 1190.9 892.3 1191.5 892.8 1192.2 893.2 1192.9 892.5 1193.5 890.7 1194.2 889.4 1194.9 889.2 1195.5 889.1 1196.2 892 1196.9 894.9 1197.5 894.2 1198.2 892.3 1198.9 893.7 1199.5 898.3 1200.2 901.8 1200.9 902.1 1201.5 902.3 1202.2 899.1 1202.9 896 1203.5 896.3 1204.2 897.7 1204.9 898.1 1205.5 897.3 1206.2 896.9 1206.9 897.3 1207.5 897.7 1208.2 898.7 1208.9 899.7 1209.5 899.6 1210.2 899 1210.9 899.3 1211.5 900.2 1212.2 901.4 1212.9 903.6 1213.5 905.5 1214.2 903.5 1214.8 901.5 1215.5 900.9 1216.2 900.8 1216.8 899.8 1217.5 897.9 1218.2 897.3 1218.8 900.5 1219.5 903.8 1220.2 902.6 1220.8 901.5 1221.5 901.7 1222.2 902.3 1222.8 902.5 1223.5 902.2 1224.2 901.7 1224.8 900.1 1225.5 898.5 1226.2 900.2 1226.8 901.9 1227.5 903.2 1228.2 904.5 1228.8 904.9 1229.5 904.6 1230.2 904.2 1230.8 903.8 1231.5 903.4 1232.2 905.5 1232.8 907.6 1233.5 907.8 1234.2 907.2 1234.8 906.2 1235.5 904.6 1236.2 903.6 1236.8 904.6 1237.5 905.3 1238.2 906.2 1238.8 907.2 1239.5 907.7 1240.2 908.2 1240.8 908.2 1241.5 907.9 1242.2 908 1242.8 909.4 1243.5 910.8 1244.2 908.3 1244.8 905.7 1245.5 905.5 1246.2 906 1246.8 906.4 1247.5 906.5 1248.2 906.9 1248.8 908.3 1249.5 909.7 1250.2 909.1 1250.8 908.4 1251.5 907.3 1252.2 906 1252.8 905.4 1253.5 905.6 1254.2 905.8 1254.8 906.5 1255.5 907.1 1256.2 905.9 1256.8 904.8 1257.5 904.1 1258.2 903.5 1258.8 904 1259.5 905.5 1260.2 906.5 1260.8 906.2 1261.5 906 1262.2 906.2 1262.8 906.5 1263.5 907.2 1264.2 907.8 1264.8 907.3 1265.5 905.7 1266.2 904.6 1266.8 905.2 1267.5 905.8 1268.2 906.4 1268.8 906.9 1269.5 908.3 1270.2 909.9 1270.8 910.2 1271.5 909.7 1272.2 909 1272.8 907.7 1273.5 906.3 1274.2 906.3 1274.8 906.2 1275.5 905.6 1276.2 904.6 1276.8 905 1277.5 906.3 1278.2 907 1278.8 906.1 1279.5 905.2 1280.2 904.5 1280.8 903.9 1281.5 904.2 1282.1 904.5 1282.8 904.2 1283.5 903.7 1284.1 903.7 1284.8 904.8 1285.5 905.9 1286.1 904.6 1286.8 903.5 1287.5 904.1 1288.1 905.1 1288.8 904.9 1289.5 903.5 1290.1 902.6 1290.8 903.7 1291.5 904.8 1292.1 904.7 1292.8 904.6 1293.5 904.5 1294.1 904.5 1294.8 903.7 1295.5 902.2 1296.1 901.2 1296.8 901.4 1297.5 901.7 1298.1 901.7 1298.8 901.6 1299.5 902.5 1300.1 903.7 1300.8 903.6 1301.5 902.2 1302.1 901.5 1302.8 902.9 1303.5 904.3 1304.1 901.3 1304.8 898.3 1305.5 898.7 1306.1 900.2 1306.8 900.8 1307.5 900.4 1308.1 900.2 1308.8 900.4 1309.5 900.6 1310.1 902 1310.8 903.4 1311.5 903.5 1312.1 903.3 1312.8 902.4 1313.5 901.1 1314.1 899.5 1314.8 897.6 1315.5 895.7 1316.1 897.9 1316.8 900 1317.5 900 1318.1 899.2 1318.8 898.3 1319.5 897.2 1320.1 896.7 1320.8 898 1321.5 899.2 1322.1 898.8 1322.8 898.4 1323.5 896.9 1324.1 895.1 1324.8 893.7 1325.5 892.7 1326.1 892 1326.8 891.7 1327.5 891.5 1328.1 888.9 1328.8 886.4 1329.5 886.6 1330.1 887.8 1330.8 887.3 1331.5 885.4 1332.1 883.4 1332.8 880.7 1333.5 878.1 1334.1 876.6 1334.8 875.1 1335.5 875.7 1336.1 876.9 1336.8 875.7 1337.5 872.1 1338.1 868.3 1338.8 865.6 1339.5 866.6 1340.1 872 1340.8 877.5 1341.5 880.4 1342.1 882.1 1342.8 884.2 1343.5 886.8 1344.1 889.2 1344.8 888.2 1345.5 887.2 1346.1 885.9 1346.8 884.7 1347.5 882.5 1348.1 880.1 1348.8 877.1 1349.5 871 1350.1 865.1 1350.8 859.9 1351.4 854.8 1352.1 856.3 1352.8 857.8 1353.4 859.8 1354.1 861.8 1354.8 864.9 1355.4 866 1356.1 867.7 1356.8 871.4 1357.4 874.8 1358.1 877.2 1358.8 879.6 1359.4 882.9 1360.1 885.3 1360.8 887.7 1361.4 890.7 1362.1 892.7 1362.8 891.9 1363.4 891 1364.1 894.7 1364.8 898.5 1365.4 898.9 1366.1 897.9 1366.8 897 1367.4 896.3 1368.1 895.8 1368.8 896 1369.4 896.2 1370.1 895.4 1370.8 894.5 1371.4 897.2 1372.1 901.1 1372.8 901.9 1373.4 899.4 1374.1 897.5 1374.8 897.2 1375.4 897 1376.1 898 1376.8 899 1377.4 898.6 1378.1 897.8 1378.8 898.2 1379.4 899.9 1380.1 900.8 1380.8 899.2 1381.4 897.7 1382.1 897.8 1382.8 898 1383.4 899.2 1384.1 900.6 1384.8 901.2 1385.4 901 1386.1 900.8 1386.8 900.4 1387.4 900 1388.1 900.5 1388.8 901 1389.4 900 1390.1 898.5 1390.8 898.2 1391.4 899.3 1392.1 900 1392.8 899.3 1393.4 898.6 1394.1 899.1 1394.8 899.5 1395.4 900.7 1396.1 902 1396.8 902.9 1397.4 903.5 1398.1 904.2 1398.8 905.2 1399.4 906.1 1400.1 906.3 1400.8 906.4 1401.4 906.5 1402.1 906.6 1402.8 906.3 1403.4 905.5 1404.1 905.2 1404.8 906.4 1405.4 907.6 1406.1 907 1406.8 906.3 1407.4 906.2 1408.1 906.2 1408.8 906.7 1409.4 907.4 1410.1 908 1410.8 907.9 1411.4 907.7 1412.1 906.5 1412.8 905.2 1413.4 904.9 1414.1 904.9 1414.8 906 1415.4 908.1 1416.1 909.6 1416.8 909.3 1417.4 908.9 1418.1 909.2 1418.7 909.5 1419.4 909.6 1420.1 909.6 1420.7 908.9 1421.4 907.6 1422.1 906.7 1422.7 907.6 1423.4 908.4 1424.1 908.1 1424.7 907.7 1425.4 907.4 1426.1 907.1 1426.7 907.9 1427.4 909.9 1428.1 911.3 1428.7 911.3 1429.4 911.2 1430.1 911.1 1430.7 911 1431.4 910.4 1432.1 909.7 1432.7 909.8 1433.4 910.8 1434.1 911.4 1434.7 910.9 1435.4 910.4 1436.1 910 1436.7 909.7 1437.4 909.6 1438.1 909.7 1438.7 910.1 1439.4 910.7 1440.1 911.5 1440.7 912.5 1441.4 913.6 1442.1 914.3 1442.7 915 1443.4 913.6 1444.1 911.5 1444.7 910.8 1445.4 911.4 1446.1 912.1 1446.7 913.3 1447.4 914.5 1448.1 914.2 1448.7 914 1449.4 914 1450.1 914.1 1450.7 914.7 1451.4 915.8 1452.1 916.3 1452.7 914.9 1453.4 913.5 1454.1 914.5 1454.7 915.4 1455.4 915.5 1456.1 915.2 1456.7 914.7 1457.4 914 1458.1 913.6 1458.7 914.3 1459.4 915 1460.1 914.5 1460.7 914.1 1461.4 914.1 1462.1 914.2 1462.7 914.5 1463.4 914.8 1464.1 915.1 1464.7 915.1 1465.4 915.2 1466.1 913.8 1466.7 912.4 1467.4 913.3 1468.1 914.9 1468.7 915.1 1469.4 913.7 1470.1 913.3 1470.7 915.3 1471.4 917.4 1472.1 916.2 1472.7 915.1 1473.4 915.2 1474.1 915.7 1474.7 916.3 1475.4 917.1 1476.1 918.1 1476.7 919.6 1477.4 921.2 1478.1 918.1 1478.7 914.9 1479.4 915.8 1480.1 918 1480.7 919 1481.4 919 1482.1 918.8 1482.7 917.9 1483.4 917.1 1484.1 917 1484.7 917 1485.4 916.9 1486 916.7 1486.7 916.7 1487.4 917.1 1488 917.5 1488.7 918.4 1489.4 919.3 1490 917.5 1490.7 915.6 1491.4 916.1 1492 917.4 1492.7 917.6 1493.4 916.7 1494 916.1 1494.7 915.9 1495.4 915.7 1496 915.3 1496.7 914.9 1497.4 915.7 1498 916.8 1498.7 917.4 1499.4 917.5 1500 917.6 1500.7 917.6 1501.4 917.6 1502 918.9 1502.7 920.2 1503.4 919.8 1504 919 1504.7 918.7 1505.4 918.9 1506 919.1 1506.7 919.2 1507.4 919.3 1508 918.3 1508.7 917.3 1509.4 917.3 1510 917.7 1510.7 917.2 1511.4 915.8 1512 914.7 1512.7 914.8 1513.4 914.9 1514 917.3 1514.7 919.6 1515.4 919 1516 917.4 1516.7 916.9 1517.4 917.6 1518 917.8 1518.7 916.5 1519.4 915.2 1520 915.4 1520.7 915.6 1521.4 915.1 1522 914.4 1522.7 914.2 1523.4 914.7 1524 915.1 1524.7 914.8 1525.4 914.5 1526 915.3 1526.7 916.2 1527.4 917.6 1528 919.3 1528.7 919.7 1529.4 918.8 1530 918.1 1530.7 917.9 1531.4 917.7 1532 917.5 1532.7 917.2 1533.4 917.5 1534 917.9 1534.7 917.1 1535.4 915.1 1536 913.9 1536.7 915.1 1537.4 916.4 1538 915.3 1538.7 914.2 1539.4 914.7 1540 915.9 1540.7 915.7 1541.4 914.2 1542 913.5 1542.7 915.6 1543.4 917.6 1544 916.2 1544.7 914.9 1545.4 915.5 1546 916.9 1546.7 916.9 1547.4 915.5 1548 914.3 1548.7 913.4 1549.4 912.5 1550 914.8 1550.7 917.1 1551.4 917.2 1552 916.6 1552.7 915.9 1553.4 915 1554 914.4 1554.7 914.7 1555.3 914.9 1556 915.7 1556.7 916.4 1557.3 915 1558 913 1558.7 912.3 1559.3 913 1560 913.2 1560.7 912.1 1561.3 911 1562 911.6 1562.7 912.1 1563.3 912.3 1564 911.9 1564.7 910.7 1565.3 908.7 1566 906.7 1566.7 904.5 1567.3 902.3 1568 903.7 1568.7 905.1 1569.3 905.7 1570 906.2 1570.7 906.7 1571.3 907.2 1572 908.5 1572.7 910.2 1573.3 909.9 1574 910 1574.7 910.1 1575.3 911.4 1576 913 1576.7 912.5 1577.3 909.8 1578 908.4 1578.7 910.3 1579.3 912.2 1580 912.3 1580.7 912.4 1581.3 912.6 1582 912.5 1582.7 912.1 1583.3 911.7 1584 911.5 1584.7 911.6 1585.3 912 1586 911.4 1586.7 910.7 1587.3 909.5 1588 908.1 1588.7 908.4 1589.3 910.5 1590 912.3 1590.7 913.3 1591.3 914.2 1592 912.1 1592.7 910 1593.3 909.7 1594 910 1594.7 910.2 1595.3 910.2 1596 910.1 1596.7 909.6 1597.3 909.2 1598 911.3 1598.7 913.3 1599.3 913.3 1600 912.5 1600.7 911.9 1601.3 911.6 1602 911.1 1602.7 910.4 1603.3 909.8 1604 909.8 1604.7 909.8 1605.3 910.7 1606 912 1606.7 912.7 1607.3 913 1608 912.9 1608.7 912 1609.3 911.1 1610 912.2 1610.7 913.4 1611.3 912.3 1612 910.5 1612.7 910.2 1613.3 911.5 1614 911.9 1614.7 911.4 1615.3 910.8 1616 910.7 1616.7 911.1 1617.3 910.1 1618 908.5 1618.7 908.3 1619.3 909.4 1620 909.4 1620.7 908.2 1621.3 907.1 1622 905.3 1622.6 904.3 1623.3 904.3 1624 904.6 1624.6 904.4 1625.3 903.6 1626 902.5 1626.6 901.4 1627.3 900.2 1628 900.9 1628.6 901.5 1629.3 900.8 1630 899.6 1630.6 899.5 1631.3 899.7 1632 899.8 1632.6 899.4 1633.3 899.1 1634 899.7 1634.6 899.9 1635.3 900 1636 900.1 1636.6 900.2 1637.3 900.4 1638 900.3 1638.6 899.1 1639.3 897.9 1640 898.4 1640.6 899 1641.3 897.7 1642 895.9 1642.6 895.2 1643.3 895.8 1644 896.2 1644.6 896 1645.3 895.8 1646 896.8 1646.6 897.8 1647.3 898 1648 898.1 1648.6 898.2 1649.3 898.1 1650 897.7 1650.6 896 1651.3 894.2 1652 895.2 1652.6 896 1653.3 896 1654 895.7 1654.6 896.1 1655.3 897.1 1656 897.5 1656.6 895.8 1657.3 894.2 1658 895 1658.6 894.3 1659.3 889 1660 882.5 1660.6 878.7 1661.3 880.4 1662 881.9 1662.6 882.3 1663.3 882.4 1664 883.5 1664.6 884.6 1665.3 884.5 1666 884.1 1666.6 883 1667.3 881.4 1668 879.9 1668.6 880.1 1669.3 880.3 1670 879.3 1670.6 878.2 1671.3 877 1672 875.8 1672.6 875.2 1673.3 875.2 1674 875.7 1674.6 877.4 1675.3 879.2 1676 877.6 1676.6 875.8 1677.3 874.7 1678 873.8 1678.6 872.8 1679.3 871.8 1680 871.2 1680.6 871.7 1681.3 870.9 1682 864.5 1682.6 858.1 1683.3 850.1 1684 841.5 1684.6 838.5 1685.3 838.1 1686 837.5 1686.6 836.1 1687.3 840.6 1688 847.9 1688.6 855.5 1689.3 861.1 1689.9 864.8 1690.6 870.1 1691.3 874.1 1691.9 877.2 1692.6 877.8 1693.3 877.8 1693.9 875.6 1694.6 873.4 1695.3 872.6 1695.9 872.3 1696.6 872.3 1697.3 873 1697.9 873.1 1698.6 871.5 1699.3 869.9 1699.9 869.5 1700.6 868.8 1701.3 868.2 1701.9 867.6 1702.6 867.9 1703.3 869 1703.9 869.7 1704.6 869.9 1705.3 870.3 1705.9 870.8 1706.6 871.3 1707.3 872.2 1707.9 873.4 1708.6 874.2 1709.3 874.6 1709.9 875.5 1710.6 878 1711.3 880.6 1711.9 881 1712.6 881.2 1713.3 883.7 1713.9 886.8 1714.6 887.7 1715.3 886.2 1715.9 885.2 1716.6 885.3 1717.3 885.4 1717.9 887.6 1718.6 889.7 1719.3 890.2 1719.9 890.2 1720.6 891.3 1721.3 893.6 1721.9 895.2 1722.6 894.3 1723.3 893.5 1723.9 894.6 1724.6 895.8 1725.3 895.6 1725.9 894.7 1726.6 894.5 1727.3 895 1727.9 895.8 1728.6 897.9 1729.3 899.6 1729.9 899.4 1730.6 899.2 1731.3 899.1 1731.9 899.1 1732.6 898.1 1733.3 896 1733.9 894.8 1734.6 896.8 1735.3 898.8 1735.9 898.8 1736.6 898.7 1737.3 898.7 1737.9 898.6 1738.6 898.2 1739.3 897.8 1739.9 897.6 1740.6 897.6 1741.3 897.6 1741.9 897.8 1742.6 898 1743.3 897.1 1743.9 896 1744.6 891 1745.3 885 1745.9 877.5 1746.6 868.6 1747.3 859.6 1747.9 841.7 1748.6 822.3 1749.3 809.6 1749.9 797.9 1750.6 797.8 1751.3 796.1 1751.9 801.2 1752.6 814.5 1753.3 831.6 1753.9 852.4 1754.6 866.5 1755.3 875.7 1755.9 883.9 1756.6 888.8 1757.3 895 1757.9 899.1 1758.6 900.8 1759.2 902.5 1759.9 903.8 1760.6 903.9 1761.2 904.6 1761.9 905.5 1762.6 906 1763.2 905.8 1763.9 905.8 1764.6 906.7 1765.2 907.7 1765.9 907.8 1766.6 907.9 1767.2 907.5 1767.9 906.9 1768.6 906.7 1769.2 906.8 1769.9 906.8 1770.6 906.1 1771.2 905.2 1771.9 904.8 1772.6 904.3 1773.2 903.7 1773.9 903 1774.6 901.6 1775.2 897.2 1775.9 892.9 1776.6 888.6 1777.2 873.3 1777.9 859 1778.6 830.7 1779.2 778.1 1779.9 721.3 1780.6 673 1781.2 634.9 1781.9 604 1782.6 584.2 1783.2 584.6 1783.9 627.2 1784.6 666 1785.2 701.8 1785.9 749.6 1786.6 800 1787.2 838 1787.9 866.6 1788.6 880 1789.2 888.9 1789.9 897.2 1790.6 900.9 1791.2 905.9 1791.9 909.1 1792.6 910.2 1793.2 910.2 1793.9 911 1794.6 914.1 1795.2 916.9 1795.9 915.8 1796.6 914.7 1797.2 914.6 1797.9 914.8 1798.6 915.2 1799.2 915.6 1799.9 916.3 1800.6 917.5 1801.2 918.5 1801.9 917.2 1802.6 915.9 1803.2 917.1 1803.9 919.1 1804.6 919.1 1805.2 917.1 1805.9 915.8 1806.6 916.3 1807.2 916.8 1807.9 916.5 1808.6 916.1 1809.2 916.7 1809.9 918.1 1810.6 919.3 1811.2 920.5 1811.9 921.4 1812.6 921.6 1813.2 921.8 1813.9 922.3 1814.6 922.4 1815.2 922 1815.9 921.5 1816.6 921.6 1817.2 922.3 1817.9 922.8 1818.6 922.5 1819.2 922.2 1819.9 922.3 1820.6 922.4 1821.2 922.1 1821.9 921.7 1822.6 922.6 1823.2 924.8 1823.9 926.2 1824.6 925.4 1825.2 924.6 1825.9 924.1 1826.5 923.6 1827.2 923.5 1827.9 923.7 1828.5 924.2 1829.2 925.1 1829.9 925.7 1830.5 925.4 1831.2 925.1 1831.9 924.9 1832.5 924.7 1833.2 924.5 1833.9 924.3 1834.5 924.3 1835.2 924.7 1835.9 924.9 1836.5 924.8 1837.2 924.8 1837.9 925 1838.5 925.2 1839.2 924.8 1839.9 924.3 1840.5 923.4 1841.2 922.3 1841.9 921.7 1842.5 923 1843.2 924.4 1843.9 923.1 1844.5 921.9 1845.2 921 1845.9 920.4 1846.5 920.6 1847.2 921.7 1847.9 922.2 1848.5 920.9 1849.2 919.7 1849.9 921.2 1850.5 922.7 1851.2 922.3 1851.9 921.3 1852.5 921.3 1853.2 922.3 1853.9 923.3 1854.5 924.1 1855.2 924.8 1855.9 923.9 1856.5 923 1857.2 922.1 1857.9 921.2 1858.5 921.5 1859.2 923 1859.9 924 1860.5 923.4 1861.2 922.8 1861.9 923.7 1862.5 924.6 1863.2 924.8 1863.9 924.8 1864.5 924.4 1865.2 923.6 1865.9 923.2 1866.5 923.6 1867.2 924 1867.9 923.6 1868.5 923.2 1869.2 922.7 1869.9 922.3 1870.5 922.7 1871.2 924.2 1871.9 925.2 1872.5 924.8 1873.2 924.5 1873.9 924 1874.5 923.6 1875.2 922.4 1875.9 921 1876.5 921.1 1877.2 922.6 1877.9 923.8 1878.5 923.9 1879.2 923.9 1879.9 923.3 1880.5 922.8 1881.2 921.8 1881.9 920.8 1882.5 921.1 1883.2 922.6 1883.9 923.8 1884.5 923.6 1885.2 923.4 1885.9 923.1 1886.5 922.9 1887.2 922.5 1887.9 922 1888.5 921.4 1889.2 920.5 1889.9 920.3 1890.5 922.3 1891.2 924.3 1891.9 924.6 1892.5 924.9 1893.2 924.2 1893.8 923.2 1894.5 922.6 1895.2 922.4 1895.8 922.7 1896.5 924.4 1897.2 926.2 1897.8 925.3 1898.5 924.4 1899.2 923.5 1899.8 922.6 1900.5 922.7 1901.2 923.6 1901.8 924.2 1902.5 923.7 1903.2 923.1 1903.8 923.4 1904.5 923.6 1905.2 923.5 1905.8 923.3 1906.5 923.3 1907.2 923.5 1907.8 923.7 1908.5 923.9 1909.2 924 1909.8 923.5 1910.5 923 1911.2 923.7 1911.8 924.8 1912.5 925.2 1913.2 924.9 1913.8 924.5 1914.5 924 1915.2 923.4 1915.8 924.4 1916.5 925.4 1917.2 925.5 1917.8 925.4 1918.5 925.5 1919.2 925.7 1919.8 925.9 1920.5 926 1921.2 926.1 1921.8 924.4 1922.5 922.7 1923.2 922.9 1923.8 923.8 1924.5 923.9 1925.2 923 1925.8 922.6 1926.5 923.3 1927.2 923.9 1927.8 924.3 1928.5 924.7 1929.2 924.9 1929.8 925.1 1930.5 925.1 1931.2 924.8 1931.8 924.6 1932.5 924.8 1933.2 924.9 1933.8 924.4 1934.5 923.8 1935.2 924.5 1935.8 925.5 1936.5 925.7 1937.2 925.1 1937.8 924.4 1938.5 923.9 1939.2 923.4 1939.8 923.4 1940.5 923.5 1941.2 923.3 1941.8 922.9 1942.5 922.4 1943.2 921.6 1943.8 920.9 1944.5 920.6 1945.2 920.2 1945.8 920.3 1946.5 920.3 1947.2 920.4 1947.8 920.4 1948.5 920.6 1949.2 921 1949.8 921.1 1950.5 920.5 1951.2 919.9 1951.8 920.4 1952.5 920.8 1953.2 921.7 1953.8 922.6 1954.5 922.7 1955.2 922 1955.8 921.4 1956.5 920.9 1957.2 920.4 1957.8 920.6 1958.5 920.9 1959.2 921.5 1959.8 922.3 1960.5 922.2 1961.2 921.2 1961.8 920.6 1962.5 920.7 1963.1 920.8 1963.8 920.8 1964.5 920.9 1965.1 920.5 1965.8 920 1966.5 920.3 1967.1 921.4 1967.8 922.1 1968.5 921.6 1969.1 921.1 1969.8 921.7 1970.5 922.2 1971.1 921.8 1971.8 921.1 1972.5 920.7 1973.1 920.7 1973.8 920.7 1974.5 921.2 1975.1 921.6 1975.8 921.5 1976.5 921.4 1977.1 922 1977.8 923 1978.5 923 1979.1 922.2 1979.8 921.9 1980.5 923 1981.1 924.1 1981.8 922.2 1982.5 920.3 1983.1 920.2 1983.8 920.9 1984.5 922.1 1985.1 923.8 1985.8 925.2 1986.5 926 1987.1 926.7 1987.8 924.5 1988.5 922.3 1989.1 922.8 1989.8 924.2 1990.5 924.5 1991.1 923.8 1991.8 923.5 1992.5 924.7 1993.1 925.9 1993.8 925.2 1994.5 924.5 1995.1 924.7 1995.8 925.2 1996.5 925.2 1997.1 924.5 1997.8 924.2 1998.5 924.9 1999.1 925.5 1999.8 924.6 2000.5 923.6 2001.1 924.4 2001.8 925.8 2002.5 926 2003.1 924.9 2003.8 924.3 2004.5 925.2 2005.1 926 2005.8 925.8 2006.5 925.6 2007.1 926.5 2007.8 927.8 2008.5 928.5 2009.1 928.7 2009.8 928.4 2010.5 926.9 2011.1 925.4 2011.8 926.8 2012.5 928.2 2013.1 928.2 2013.8 927.8 2014.5 927.6 2015.1 927.7 2015.8 927.8 2016.5 928.2 2017.1 928.6 2017.8 928.1 2018.5 927.6 2019.1 928.2 2019.8 929.2 2020.5 929.6 2021.1 929.6 2021.8 929.3 2022.5 928.2 2023.1 927.1 2023.8 928.2 2024.5 929.2 2025.1 928.8 2025.8 927.9 2026.5 927.5 2027.1 927.5 2027.8 927.4 2028.5 926.9 2029.1 926.4 2029.8 927 2030.4 927.6 2031.1 928.6 2031.8 929.9 2032.4 930.2 2033.1 929.5 2033.8 929 2034.4 928.8 2035.1 928.7 2035.8 927.8 2036.4 926.8 2037.1 927 2037.8 927.4 2038.4 927.9 2039.1 928.3 2039.8 928.5 2040.4 928 2041.1 927.5 2041.8 927.9 2042.4 928.3 2043.1 928 2043.8 927.5 2044.4 927.4 2045.1 927.6 2045.8 927.6 2046.4 927 2047.1 926.5 2047.8 926.9 2048.4 927.3 2049.1 927.1 2049.8 926.7 2050.4 926.8 2051.1 927.3 2051.8 927.6 2052.4 927.2 2053.1 926.8 2053.8 927.2 2054.4 927.7 2055.1 927.4 2055.8 927 2056.4 926.8 2057.1 927.1 2057.8 927.3 2058.4 927.4 2059.1 927.6 2059.8 927.7 2060.4 927.9 2061.1 927.8 2061.8 927.7 2062.4 927.5 2063.1 927 2063.8 927.1 2064.4 928.7 2065.1 930.2 2065.8 928.3 2066.4 926.4 2067.1 927.4 2067.8 929.5 2068.4 929.9 2069.1 928.7 2069.8 927.9 2070.4 928 2071.1 928.1 2071.8 927.5 2072.4 927 2073.1 927.1 2073.8 927.4 2074.4 927.6 2075.1 927.8 2075.8 928 2076.4 927.9 2077.1 927.9 2077.8 927.4 2078.4 927 2079.1 926.4 2079.8 925.6 2080.4 925.8 2081.1 926.9 2081.8 928.1 2082.4 929.5 2083.1 930.8 2083.8 930 2084.4 929.1 2085.1 928.6 2085.8 928.1 2086.4 927.2 2087.1 925.6 2087.8 925 2088.4 927.3 2089.1 929.5 2089.8 929.3 2090.4 929.2 2091.1 928.8 2091.8 928.3 2092.4 928.1 2093.1 928.3 2093.8 928.7 2094.4 929.6 2095.1 930.5 2095.8 929.3 2096.4 928.1 2097.1 928.8 2097.8 930 2098.4 930.4 2099.1 929.8 2099.7 929.2 2100.4 928.4 2101.1 927.6 2101.7 929 2102.4 930.5 2103.1 930.5 2103.7 930 2104.4 929.2 2105.1 928.2 2105.7 927.7 2106.4 928.7 2107.1 929.8 2107.7 930.3 2108.4 930.7 2109.1 930.7 2109.7 930.4 2110.4 929.8 2111.1 929 2111.7 928.8 2112.4 930 2113.1 931.3 2113.7 930.7 2114.4 930.2 2115.1 930.4 2115.7 930.8 2116.4 930.9 2117.1 930.7 2117.7 930.2 2118.4 928.9 2119.1 927.5 2119.7 928.2 2120.4 928.9 2121.1 929.2 2121.7 929.4 2122.4 929.2 2123.1 928.7 2123.7 928.5 2124.4 929.1 2125.1 929.7 2125.7 929.9 2126.4 930.1 2127.1 929.2 2127.7 927.9 2128.4 927.3 2129.1 927.4 2129.7 927.7 2130.4 928.6 2131.1 929.5 2131.7 928.6 2132.4 927.8 2133.1 927.4 2133.7 927.1 2134.4 927.2 2135.1 927.8 2135.7 928.3 2136.4 928.3 2137.1 928.4 2137.7 929.4 2138.4 930.4 2139.1 930.3 2139.7 929.8 2140.4 930 2141.1 931 2141.7 931.4 2142.4 929.9 2143.1 928.3 2143.7 929.1 2144.4 929.9 2145.1 929.5 2145.7 928.8 2146.4 929 2147.1 930.2 2147.7 930.9 2148.4 930.1 2149.1 929.3 2149.7 930.7 2150.4 932.1 2151.1 932 2151.7 931.4 2152.4 930.9 2153.1 930.5 2153.7 930.1 2154.4 930.2 2155.1 930.3 2155.7 930.5 2156.4 930.8 2157.1 931.4 2157.7 932.3 2158.4 931.9 2159.1 930.3 2159.7 929.2 2160.4 929.6 2161.1 929.9 2161.7 929.7 2162.4 929.4 2163.1 929.4 2163.7 929.4 2164.4 929.8 2165.1 930.6 2165.7 931.1 2166.4 930.7 2167 930.3 2167.7 929.1 2168.4 927.9 2169 929 2169.7 930.8 2170.4 931.4 2171 930.7 2171.7 930.4 2172.4 930.9 2173 931.4 2173.7 930.2 2174.4 929 2175 929.3 2175.7 930.1 2176.4 930.8 2177 931.4 2177.7 931.7 2178.4 931.4 2179 931.2 2179.7 931.5 2180.4 931.9 2181 932.3 2181.7 932.7 2182.4 933 2183 933.2 2183.7 933 2184.4 931.9 2185 930.8 2185.7 931 2186.4 931.1 2187 930.6 2187.7 929.9 2188.4 929.7 2189 930.2 2189.7 930.2 2190.4 929.2 2191 928.3 2191.7 927.1 2192.4 925.9 2193 926.5 2193.7 927.7 2194.4 928.2 2195 927.8 2195.7 927.2 2196.4 925.6 2197 924 2197.7 922.9 2198.4 921.7 2199 922.5 2199.7 924.2 2200.4 925.6 2201 926.3 2201.7 926.8 2202.4 926.3 2203 925.8 2203.7 926.1 2204.4 926.4 2205 926.3 2205.7 926 2206.4 926.4 2207 927.7 2207.7 928.5 2208.4 928.2 2209 927.9 2209.7 928.1 2210.4 928.3 2211 928.9 2211.7 929.7 2212.4 930.2 2213 930.3 2213.7 930.2 2214.4 929.2 2215 928.3 2215.7 928.3 2216.4 928.4 2217 929.1 2217.7 929.9 2218.4 929.8 2219 928.6 2219.7 927.6 2220.4 927.8 2221 928 2221.7 928.1 2222.4 928.2 2223 928.1 2223.7 927.9 2224.4 927.8 2225 927.8 2225.7 927.7 2226.4 927.3 2227 927 2227.7 926.8 2228.4 926.5 2229 926.7 2229.7 927 2230.4 927.7 2231 928.7 2231.7 929.2 2232.4 928 2233 926.8 2233.7 927 2234.3 927.2 2235 927.4 2235.7 927.7 2236.3 927.4 2237 926.5 2237.7 926.2 2238.3 927.6 2239 929.1 2239.7 927.7 2240.3 926.4 2241 926.7 2241.7 927.7 2242.3 928.3 2243 928.8 2243.7 929.1 2244.3 929 2245 928.9 2245.7 927.3 2246.3 925.6 2247 925.7 2247.7 926.2 2248.3 927.1 2249 927.9 2249.7 928.1 2250.3 927.1 2251 926 2251.7 925.3 2252.3 924.5 2253 925.2 2253.7 926.3 2254.3 926.6 2255 925.9 2255.7 925.2 2256.3 924.2 2257 923.1 2257.7 923.1 2258.3 923.5 2259 924.1 2259.7 924.8 2260.3 924.7 2261 923.8 2261.7 923.4 2262.3 924.3 2263 925.2 2263.7 925.3 2264.3 925.3 2265 924.9 2265.7 924.3 2266.3 924.6 2267 925.9 2267.7 926.4 2268.3 925.2 2269 924 2269.7 925.3 2270.3 926.6 2271 927.1 2271.7 927.4 2272.3 927.4 2273 927.3 2273.7 927 2274.3 926.6 2275 926.2 2275.7 926.3 2276.3 926.5 2277 926.6 2277.7 926.8 2278.3 927.4 2279 928.4 2279.7 929.1 2280.3 928.9 2281 928.7 2281.7 928.3 2282.3 927.8 2283 927.4 2283.7 926.9 2284.3 926.4 2285 926.1 2285.7 926.3 2286.3 928.5 2287 930.6 2287.7 929.5 2288.3 928.3 2289 928.1 2289.7 928.3 2290.3 928.4 2291 928.2 2291.7 928.1 2292.3 927.9 2293 927.8 2293.7 928.4 2294.3 929 2295 929.4 2295.7 929.7 2296.3 929.2 2297 928 2297.7 927.1 2298.3 927.3 2299 927.5 2299.7 928.2 2300.3 928.8 2301 928.7 2301.7 928.5 2302.3 928.5 2303 928.7 2303.6 928.9 2304.3 929.3 2305 929.6 2305.6 928.3 2306.3 927.1 2307 927.3 2307.6 927.9 2308.3 928.3 2309 928.5 2309.6 928.5 2310.3 928.2 2311 927.8 2311.6 926.5 2312.3 925.2 2313 925.3 2313.6 925.8 2314.3 926.1 2315 926.2 2315.6 926.2 2316.3 926.2 2317 926.2 2317.6 925.6 2318.3 923.9 2319 922.2 2319.6 920.7 2320.3 919.7 2321 919.4 2321.6 918.5 2322.3 916.3 2323 914 2323.6 913 2324.3 913 2325 912.4 2325.6 911.6 2326.3 911.2 2327 911.1 2327.6 911.3 2328.3 912.3 2329 913.3 2329.6 911 2330.3 908.7 2331 908.4 2331.6 908.7 2332.3 909.4 2333 910.6 2333.6 911.1 2334.3 909.2 2335 907.4 2335.6 908 2336.3 908.7 2337 908.7 2337.6 908.4 2338.3 908.5 2339 908.8 2339.6 909 2340.3 908.9 2341 908.8 2341.6 909.2 2342.3 910.5 2343 912.4 2343.6 914.3 2344.3 915.5 2345 916.1 2345.6 916.6 2346.3 917.3 2347 918.1 2347.6 919.2 2348.3 919.6 2349 919.6 2349.6 919.5 2350.3 919.8 2351 920.5 2351.6 921.4 2352.3 922.9 2353 924.4 2353.6 922.1 2354.3 919 2355 918 2355.6 917.6 2356.3 916.9 2357 915.9 2357.6 914.7 2358.3 913 2359 911.6 2359.6 911.4 2360.3 911.3 2361 909.8 2361.6 907.8 2362.3 906.8 2363 908.3 2363.6 909.5 2364.3 908.6 2365 907.8 2365.6 910.2 2366.3 912.6 2367 914.1 2367.6 914.6 2368.3 915.1 2369 915.5 2369.6 916.1 2370.3 917.4 2370.9 918.6 2371.6 918.1 2372.3 917.7 2372.9 917.8 2373.6 918 2374.3 917.6 2374.9 916.7 2375.6 916.1 2376.3 916.6 2376.9 917.1 2377.6 915 2378.3 913 2378.9 911.4 2379.6 909.9 2380.3 909.4 2380.9 910.4 2381.6 912.3 2382.3 913.2 2382.9 914.2 2383.6 915 2384.3 915.9 2384.9 917.6 2385.6 918.9 2386.3 919.1 2386.9 918.8 2387.6 918.3 2388.3 917.4 2388.9 916.5 2389.6 916.9 2390.3 917.2 2390.9 917.9 2391.6 918.7 2392.3 919.2 2392.9 919.4 2393.6 919 2394.3 916.4 2394.9 914 2395.6 915.2 2396.3 916.4 2396.9 917.7 2397.6 919 2398.3 919.1 2398.9 918.2 2399.6 917.4 2400.3 917.2 2400.9 916.9 2401.6 917.4 2402.3 917.8 2402.9 918.8 2403.6 920.1 2404.3 920.4 2404.9 919.1 2405.6 918.5 2406.3 920 2406.9 921.5 2407.6 922.8 2408.3 924 2408.9 923.8 2409.6 923.4 2410.3 923.5 2410.9 924 2411.6 924.5 2412.3 924.6 2412.9 924.7 2413.6 924.1 2414.3 923.4 2414.9 924.5 2415.6 926.2 2416.3 926.2 2416.9 924.6 2417.6 923.5 2418.3 923.9 2418.9 924.3 2419.6 924.1 2420.3 924 2420.9 923.9 2421.6 923.9 2422.3 923.7 2422.9 923.3 2423.6 923.1 2424.3 923.1 2424.9 923.2 2425.6 923.5 2426.3 923.8 2426.9 924.4 2427.6 925.1 2428.3 925.2 2428.9 924.6 2429.6 924.3 2430.3 925 2430.9 925.6 2431.6 926 2432.3 926.6 2432.9 926.3 2433.6 925.8 2434.3 925.6 2434.9 925.9 2435.6 926.1 2436.3 925.9 2436.9 925.7 2437.6 927.8 2438.2 929.8 2438.9 929.4 2439.6 928.2 2440.2 927.7 2440.9 927.7 2441.6 927.8 2442.2 928.2 2442.9 928.6 2443.6 928 2444.2 927.3 2444.9 928.2 2445.6 929.5 2446.2 929.9 2446.9 929.3 2447.6 929 2448.2 929.5 2448.9 929.9 2449.6 929.8 2450.2 929.7 2450.9 930.1 2451.6 930.7 2452.2 930.8 2452.9 930.5 2453.6 930.1 2454.2 929.8 2454.9 929.4 2455.6 929.8 2456.2 930.2 2456.9 930.3 2457.6 930.2 2458.2 930.5 2458.9 931.2 2459.6 931.3 2460.2 930.2 2460.9 929 2461.6 930.2 2462.2 931.4 2462.9 931.5 2463.6 931.2 2464.2 930.9 2464.9 930.6 2465.6 930.5 2466.2 931 2466.9 931.4 2467.6 931 2468.2 930.5 2468.9 930.7 2469.6 931 2470.2 930.8 2470.9 930.1 2471.6 929.7 2472.2 930.3 2472.9 930.9 2473.6 931.1 2474.2 931.2 2474.9 931.7 2475.6 932.4 2476.2 932.4 2476.9 931.8 2477.6 931.2 2478.2 930.8 2478.9 930.5 2479.6 930.7 2480.2 931 2480.9 931.5 2481.6 932.2 2482.2 932.4 2482.9 932.1 2483.6 931.9 2484.2 931.7 2484.9 931.4 2485.6 931.3 2486.2 931.1 2486.9 931.5 2487.6 932.2 2488.2 931.7 2488.9 929.9 2489.6 928.8 2490.2 929.8 2490.9 930.8 2491.6 930.5 2492.2 930.2 2492.9 930.3 2493.6 930.4 2494.2 930.3 2494.9 930 2495.6 929.4 2496.2 928.2 2496.9 927 2497.6 928.4 2498.2 929.8 2498.9 929.8 2499.6 929.5 2500.2 929.3 2500.9 929.5 2501.6 929.8 2502.2 929.7 2502.9 929.6 2503.6 928.7 2504.2 927.8 2504.9 928.6 2505.6 929.9 2506.2 930.6 2506.9 930.7 2507.5 931 2508.2 931.9 2508.9 932.8 2509.5 932.1 2510.2 931.4 2510.9 931.1 2511.5 930.9 2512.2 931 2512.9 931.4 2513.5 931.7 2514.2 931.7 2514.9 931.8 2515.5 931.2 2516.2 930.7 2516.9 930.7 2517.5 930.9 2518.2 931.2 2518.9 931.6 2519.5 932 2520.2 932.4 2520.9 932.8 2521.5 933.2 2522.2 933.7 2522.9 932.6 2523.5 931.1 2524.2 931.1 2524.9 932.8 2525.5 933.9 2526.2 932.8 2526.9 931.8 2527.5 932.2 2528.2 932.7 2528.9 933 2529.5 933.3 2530.2 933.1 2530.9 932.2 2531.5 931.9 2532.2 932.7 2532.9 933.5 2533.5 932.5 2534.2 931.6 2534.9 932.2 2535.5 933.4 2536.2 933.6 2536.9 932.8 2537.5 932.2 2538.2 931.8 2538.9 931.4 2539.5 932.6 2540.2 933.7 2540.9 932.9 2541.5 931.3 2542.2 930.9 2542.9 931.5 2543.5 932.5 2544.2 934.1 2544.9 935.8 2545.5 934.1 2546.2 932.4 2546.9 931.8 2547.5 931.7 2548.2 932.2 2548.9 933.4 2549.5 934.3 2550.2 934.4 2550.9 934.5 2551.5 934.3 2552.2 934.1 2552.9 935 2553.5 936.3 2554.2 936.4 2554.9 935.5 2555.5 934.8 2556.2 934.5 2556.9 934.2 2557.5 934.9 2558.2 935.5 2558.9 934.9 2559.5 934 2560.2 933.1 2560.9 932.5 2561.5 932.4 2562.2 934.4 2562.9 936.3 2563.5 936.1 2564.2 935.9 2564.9 935.3 2565.5 934.7 2566.2 933.9 2566.9 933.1 2567.5 932.5 2568.2 932.5 2568.9 932.6 2569.5 933.2 2570.2 933.9 2570.9 934.1 2571.5 934.2 2572.2 934.2 2572.9 934 2573.5 933.5 2574.2 932.3 2574.8 931.1 2575.5 932.4 2576.2 933.7 2576.8 933.9 2577.5 933.8 2578.2 933.3 2578.8 932.5 2579.5 932.1 2580.2 932.7 2580.8 933.3 2581.5 933.7 2582.2 934 2582.8 933.3 2583.5 932.1 2584.2 931.8 2584.8 932.4 2585.5 933 2586.2 933.5 2586.8 934.1 2587.5 934 2588.2 933.8 2588.8 933.3 2589.5 932.7 2590.2 932.8 2590.8 933.5 2591.5 933.9 2592.2 933.6 2592.8 933.4 2593.5 933.1 2594.2 932.8 2594.8 932.7 2595.5 932.7 2596.2 933.4 2596.8 934.9 2597.5 935.8 2598.2 935.2 2598.8 934.6 2599.5 934.5 2600.2 934.5 2600.8 934.3 2601.5 934.1 2602.2 933.8 2602.8 933.5 2603.5 933.2 2604.2 933 2604.8 932.8 2605.5 933.6 2606.2 934.4 2606.8 934.9 2607.5 935.2 2608.2 935 2608.8 934.4 2609.5 934 2610.2 934.4 2610.8 934.8 2611.5 933.6 2612.2 932.5 2612.8 932.7 2613.5 933.4 2614.2 933.8 2614.8 933.9 2615.5 933.9 2616.2 933.5 2616.8 933 2617.5 933.8 2618.2 934.6 2618.8 934.7 2619.5 934.6 2620.2 934.4 2620.8 934.3 2621.5 934.2 2622.2 933.8 2622.8 933.3 2623.5 933 2624.2 932.6 2624.8 932.6 2625.5 932.6 2626.2 932.6 2626.8 932.4 2627.5 932.4 2628.2 932.7 2628.8 933 2629.5 932.6 2630.2 932.1 2630.8 932 2631.5 932.1 2632.2 931.6 2632.8 930.7 2633.5 930.1 2634.2 930.8 2634.8 931.4 2635.5 930.9 2636.2 930.4 2636.8 929.6 2637.5 928.8 2638.2 928 2638.8 927 2639.5 926.1 2640.2 924.1 2640.8 922.1 2641.5 919 2642.1 916 2642.8 914.7 2643.5 913.6 2644.1 912.4 2644.8 912.3 2645.5 912.4 2646.1 911 2646.8 910.4 2647.5 915.2 2648.1 920.1 2648.8 922.7 2649.5 924.9 2650.1 926.4 2650.8 927.2 2651.5 927.5 2652.1 927.3 2652.8 927 2653.5 928.3 2654.1 929.5 2654.8 930.4 2655.5 930.8 2656.1 930.6 2656.8 929.6 2657.5 929.2 2658.1 930.3 2658.8 931.4 2659.5 931.6 2660.1 931.6 2660.8 931.4 2661.5 931 2662.1 931.2 2662.8 931.9 2663.5 932.4 2664.1 932.1 2664.8 931.6 2665.5 931.4 2666.1 931.2 2666.8 930.9 2667.5 930.4 2668.1 930.6 2668.8 931.2 2669.5 931.4 2670.1 930.3 2670.8 929.1 2671.5 929.2 2672.1 929.2 2672.8 928.4 2673.5 927.3 2674.1 927 2674.8 927.5 2675.5 928.2 2676.1 928.5 2676.8 928.9 2677.5 928.8 2678.1 928.8 2678.8 929 2679.5 929.3 2680.1 929.1 2680.8 928.4 2681.5 928 2682.1 927.4 2682.8 926.1 2683.5 924.2 2684.1 922.4 2684.8 922.2 2685.5 922.2 2686.1 922.3 2686.8 922.5 2687.5 922.4 2688.1 921.6 2688.8 920.8 2689.5 921.9 2690.1 922.9 2690.8 923 2691.5 922.7 2692.1 922.3 2692.8 921.7 2693.5 921.3 2694.1 921.6 2694.8 921.8 2695.5 923.1 2696.1 924.5 2696.8 924.8 2697.5 924.7 2698.1 924.4 2698.8 923.9 2699.5 923.2 2700.1 923.2 2700.8 923.2 2701.5 923.2 2702.1 923.3 2702.8 923 2703.5 922.7 2704.1 923.3 2704.8 924.9 2705.5 925.7 2706.1 924.6 2706.8 923.4 2707.5 924 2708.1 924.5 2708.8 924.2 2709.5 923.6 2710.1 923.1 2710.8 922.8 2711.4 922.4 2712.1 921.8 2712.8 921.1 2713.4 920.6 2714.1 919.4 2714.8 918.7 2715.4 918.1 2716.1 917.9 2716.8 918 2717.4 918.2 2718.1 918.4 2718.8 918.5 2719.4 917.4 2720.1 916.3 2720.8 916.3 2721.4 916.8 2722.1 917.6 2722.8 918.7 2723.4 919.2 2724.1 918.1 2724.8 917 2725.4 916.6 2726.1 916.2 2726.8 916.7 2727.4 917.4 2728.1 916.8 2728.8 915.6 2729.4 914.2 2730.1 912.9 2730.8 911.5 2731.4 912 2732.1 912.5 2732.8 912.3 2733.4 911.8 2734.1 911.4 2734.8 911 2735.4 910.8 2736.1 911 2736.8 911.2 2737.4 910.5 2738.1 909.9 2738.8 909.7 2739.4 909.6 2740.1 909.2 2740.8 908.3 2741.4 907.7 2742.1 907.6 2742.8 907.5 2743.4 906 2744.1 904.5 2744.8 904.3 2745.4 904.6 2746.1 904 2746.8 902.3 2747.4 901.1 2748.1 901.4 2748.8 901.8 2749.4 899.8 2750.1 897.9 2750.8 896.4 2751.4 895 2752.1 893.8 2752.8 892.7 2753.4 892.6 2754.1 894.3 2754.8 896 2755.4 896 2756.1 895.5 2756.8 895.1 2757.4 894.8 2758.1 894.7 2758.8 894.9 2759.4 894.9 2760.1 894.7 2760.8 894.5 2761.4 893.5 2762.1 892.5 2762.8 892.9 2763.4 893.8 2764.1 894.3 2764.8 894.3 2765.4 893.8 2766.1 892.2 2766.8 890.6 2767.4 889.4 2768.1 888.3 2768.8 888.9 2769.4 890.3 2770.1 889.2 2770.8 885.4 2771.4 881.8 2772.1 881.5 2772.8 881.2 2773.4 879.6 2774.1 878 2774.8 877.4 2775.4 876.9 2776.1 875.5 2776.8 873.2 2777.4 870.9 2778.1 868 2778.7 865.1 2779.4 863.7 2780.1 861.6 2780.7 860 2781.4 858.8 2782.1 857.5 2782.7 856.6 2783.4 855.5 2784.1 853.8 2784.7 851.4 2785.4 846.1 2786.1 840.7 2786.7 838 2787.4 837 2788.1 836.2 2788.7 834.5 2789.4 832.5 2790.1 829.7 2790.7 826.5 2791.4 822.5 2792.1 818.5 2792.7 817.1 2793.4 816.6 2794.1 814.6 2794.7 810.8 2795.4 807.3 2796.1 805 2796.7 802.9 2797.4 801.2 2798.1 799.5 2798.7 797.9 2799.4 796.3 2800.1 793.8 2800.7 790.5 2801.4 787.6 2802.1 786.1 2802.7 784.5 2803.4 785.2 2804.1 785.9 2804.7 780.9 2805.4 771.9 2806.1 765.7 2806.7 763 2807.4 760.3 2808.1 756.8 2808.7 754.4 2809.4 752.8 2810.1 751.1 2810.7 748.5 2811.4 745.5 2812.1 744.3 2812.7 743.9 2813.4 741.7 2814.1 730.6 2814.7 715.2 2815.4 701.9 2816.1 688.6 2816.7 676.4 2817.4 664.9 2818.1 655.3 2818.7 647.1 2819.4 642.9 2820.1 649.1 2820.7 661.6 2821.4 670.8 2822.1 679.4 2822.7 688.3 2823.4 697.6 2824.1 706.3 2824.7 714.5 2825.4 721.6 2826.1 732.2 2826.7 742.4 2827.4 742.5 2828.1 741.6 2828.7 738.4 2829.4 735.5 2830.1 731 2830.7 726 2831.4 721.3 2832.1 717.5 2832.7 713.8 2833.4 715.9 2834.1 719 2834.7 714.6 2835.4 708.8 2836.1 706.3 2836.7 705.1 2837.4 705.6 2838.1 708.9 2838.7 717.2 2839.4 728.3 2840.1 730.7 2840.7 730.8 2841.4 730 2842.1 727.2 2842.7 722.6 2843.4 719.4 2844.1 720.6 2844.7 719.8 2845.4 707.8 2846 706.5 2846.7 706.9 2847.4 714.3 2848 725.6 2848.7 724.4 2849.4 725.1 2850 731.7 2850.7 738.3 2851.4 738.4 2852 738.6 2852.7 739 2853.4 739.5 2854 741.9 2854.7 746.6 2855.4 750.8 2856 754.3 2856.7 757.9 2857.4 764.8 2858 773.3 2858.7 777.5 2859.4 778.8 2860 778.4 2860.7 778.2 2861.4 777.5 2862 780.7 2862.7 788.4 2863.4 794.9 2864 801 2864.7 807.8 2865.4 815.1 2866 819.2 2866.7 819.5 2867.4 819.7 2868 822.2 2868.7 824.8 2869.4 813.3 2870 808.5 2870.7 808.7 2871.4 810.8 2872 820.1 2872.7 828.3 2873.4 832.9 2874 837.7 2874.7 840.6 2875.4 843 2876 845.4 2876.7 848 2877.4 850.8 2878 851.5 2878.7 850.2 2879.4 848.6 2880 849.3 2880.7 850.1 2881.4 849 2882 851.1 2882.7 855.9 2883.4 861.7 2884 866.2 2884.7 868.8 2885.4 869.2 2886 870.8 2886.7 872.4 2887.4 872.4 2888 872.4 2888.7 873.2 2889.4 874.4 2890 875.1 2890.7 875.5 2891.4 876 2892 876.4 2892.7 876.8 2893.4 874.9 2894 870.7 2894.7 863.5 2895.4 854.4 2896 842.9 2896.7 833.3 2897.4 828.3 2898 829.4 2898.7 836.3 2899.4 848.4 2900 860.3 2900.7 868.3 2901.4 873.8 2902 877.6 2902.7 880.2 2903.4 882.4 2904 883.5 2904.7 884.9 2905.4 888.4 2906 891.9 2906.7 895.3 2907.4 898.6 2908 900.2 2908.7 900 2909.4 898 2910 897.2 2910.7 896.4 2911.4 894.5 2912 892.6 2912.7 892.9 2913.4 893.9 2914 894 2914.7 893.5 2915.3 894.8 2916 896.7 2916.7 898.6 2917.3 898.5 2918 898.4 2918.7 898 2919.3 896.4 2920 893.5 2920.7 887.8 2921.3 880 2922 876.8 2922.7 876.2 2923.3 875.2 2924 877.7 2924.7 880.8 2925.3 884 2926 886.6 2926.7 888.6 2927.3 889.8 2928 889.7 2928.7 889.6 2929.3 891.1 2930 891.9 2930.7 890.1 2931.3 887.7 2932 887.8 2932.7 889.2 2933.3 890.1 2934 891.1 2934.7 892.1 2935.3 893.4 2936 895.4 2936.7 898.2 2937.3 901.4 2938 905 2938.7 908.3 2939.3 910.9 2940 911.1 2940.7 910.5 2941.3 911.2 2942 911.8 2942.7 911.7 2943.3 911.9 2944 912.2 2944.7 912.4 2945.3 912.8 2946 913.9 2946.7 914.9 2947.3 914.5 2948 914.2 2948.7 914.9 2949.3 916.1 2950 916.5 2950.7 916.1 2951.3 915.7 2952 914.5 2952.7 915.1 2953.3 917.2 2954 919.4 2954.7 919.5 2955.3 918.9 2956 918.9 2956.7 919.3 2957.3 919.7 2958 919.9 2958.7 920.1 2959.3 920.5 2960 920.9 2960.7 921 2961.3 920.9 2962 921.1 2962.7 921.6 2963.3 922.2 2964 923.1 2964.7 923.9 2965.3 923.4 2966 922.9 2966.7 922.8 2967.3 922.9 2968 923.3 2968.7 924.2 2969.3 924.7 2970 924.4 2970.7 924 2971.3 924.6 2972 925.2 2972.7 925.9 2973.3 926.7 2974 927.1 2974.7 927.2 2975.3 927.3 2976 927.3 2976.7 927.2 2977.3 927.2 2978 927.1 2978.7 927.3 2979.3 927.7 2980 927.8 2980.7 927.6 2981.3 927.5 2982 927.6 2982.6 927.7 2983.3 929 2984 930.3 2984.6 930.9 2985.3 931.2 2986 931.1 2986.6 930.8 2987.3 930.5 2988 930.4 2988.6 930.3 2989.3 930.3 2990 930.2 2990.6 930.5 2991.3 930.8 2992 931.1 2992.6 931.3 2993.3 931.7 2994 932.7 2994.6 933.7 2995.3 933.2 2996 932.8 2996.6 933.2 2997.3 933.9 2998 934.1 2998.6 933.8 2999.3 933.5 3000 933.5 3000.6 933.4 3001.3 934.4 3002 935.4 3002.6 935.6 3003.3 935.6 3004 935 3004.6 933.7 3005.3 933.1 3006 934.7 3006.6 936.2 3007.3 936.1 3008 936 3008.6 936.2 3009.3 936.5 3010 936.7 3010.6 936.9 3011.3 936.7 3012 935.5 3012.6 934.3 3013.3 935.1 3014 935.9 3014.6 936.1 3015.3 936.1 3016 936.2 3016.6 936.4 3017.3 936.7 3018 937.8 3018.6 938.8 3019.3 937.2 3020 935.5 3020.6 935.6 3021.3 936.3 3022 936.6 3022.6 936.4 3023.3 936.1 3024 935.5 3024.6 934.9 3025.3 935.7 3026 936.5 3026.6 936.6 3027.3 936.5 3028 936.4 3028.6 936.4 3029.3 936.2 3030 935.7 3030.6 935.1 3031.3 936.4 3032 937.7 3032.6 937.7 3033.3 937.3 3034 937.5 3034.6 938.3 3035.3 938.6 3036 937.6 3036.6 936.5 3037.3 936.2 3038 935.9 3038.6 936.1 3039.3 936.6 3040 936.2 3040.6 935 3041.3 934.2 3042 934.6 3042.6 935 3043.3 934.5 3044 934 3044.6 934.4 3045.3 935.3 3046 935.2 3046.6 934.4 3047.3 934 3048 935.1 3048.6 936.2 3049.3 935.6 3049.9 935.1 3050.6 935.1 3051.3 935.2 3051.9 935.6 3052.6 936 3053.3 936.1 3053.9 935.3 3054.6 934.4 3055.3 934.7 3055.9 935.1 3056.6 936 3057.3 937.1 3057.9 937.5 3058.6 937 3059.3 936.7 3059.9 937.2 3060.6 937.5 3061.3 937.5 3061.9 937.4 3062.6 937.3 3063.3 937" fill="none" stroke="#111" stroke-width="5.0" stroke-linejoin="round" stroke-linecap="butt"/>
<path d="M1033.6 896.4 1034.3 895.9 1034.9 895.4 1035.6 894.8 1036.3 894.3 1036.9 893.8 1037.6 893.4 1038.3 893.3 1038.9 893.3 1039.6 893.3 1040.3 893.2 1040.9 893.2 1041.6 893.2 1042.3 893.1 1042.9 893.1 1043.6 893.1 1044.3 893 1044.9 892.9 1045.6 892.9 1046.3 892.8 1046.9 892.7 1047.6 892.6 1048.3 892.6 1048.9 892.5 1049.6 892.4 1050.3 892.4 1050.9 892.3 1051.6 892.2 1052.3 892.5 1052.9 892.8 1053.6 893.2 1054.3 893.6 1054.9 894.2 1055.6 894.8 1056.3 895.5 1056.9 896.1 1057.6 896.7 1058.3 897.3 1058.9 897.6 1059.6 897.8 1060.3 897.9 1060.9 898 1061.6 898.2 1062.3 898.3 1062.9 898.4 1063.6 898.1 1064.3 897.6 1064.9 897.2 1065.6 896.7 1066.3 896.2 1066.9 895.8 1067.6 895.3 1068.3 894.8 1068.9 894.4 1069.6 894.2 1070.3 894.1 1070.9 893.9 1071.6 893.8 1072.3 893.7 1072.9 893.6 1073.6 893.5 1074.3 893.3 1074.9 893.2 1075.6 893.1 1076.3 893 1076.9 892.8 1077.6 892.7 1078.2 892.6 1078.9 892.5 1079.6 892.8 1080.2 893.2 1080.9 893.5 1081.6 893.8 1082.2 894.1 1082.9 894.1 1083.6 893.8 1084.2 893.5 1084.9 893.2 1085.6 892.9 1086.2 892.5 1086.9 888.6 1087.6 883.8 1088.2 879.4 1088.9 875.1 1089.6 870.9 1090.2 867.8 1090.9 870.3 1091.6 872.8 1092.2 875.2 1092.9 881.4 1093.6 888.5 1094.2 892.8 1094.9 894.6 1095.6 896.4 1096.2 898 1096.9 898.6 1097.6 899.3 1098.2 899.9 1098.9 900.6 1099.6 900.5 1100.2 899.8 1100.9 899.2 1101.6 898.6 1102.2 897.9 1102.9 897.3 1103.6 896.6 1104.2 896 1104.9 895.4 1105.6 894.7 1106.2 894.1 1106.9 893.7 1107.6 893.6 1108.2 893.6 1108.9 893.5 1109.6 893.4 1110.2 893.4 1110.9 893.3 1111.6 893.3 1112.2 893.2 1112.9 893.2 1113.6 893.1 1114.2 893 1114.9 893 1115.6 892.9 1116.2 892.9 1116.9 892.8 1117.6 892.8 1118.2 892.9 1118.9 893 1119.6 893.1 1120.2 893.2 1120.9 893.2 1121.6 893.3 1122.2 893.4 1122.9 893.5 1123.6 893.6 1124.2 893.7 1124.9 893.7 1125.6 893.8 1126.2 893.9 1126.9 894 1127.6 894.1 1128.2 894.2 1128.9 894.2 1129.6 894.5 1130.2 894.9 1130.9 895.4 1131.6 895.9 1132.2 896.3 1132.9 896.8 1133.6 897.2 1134.2 897.7 1134.9 898.1 1135.6 898.6 1136.2 899 1136.9 899.5 1137.6 899.9 1138.2 900.4 1138.9 900.8 1139.6 901.3 1140.2 901.7 1140.9 901.4 1141.6 901.1 1142.2 900.8 1142.9 900.5 1143.6 900.3 1144.2 900 1144.9 899.7 1145.6 899.4 1146.2 899.2 1146.9 898.9 1147.5 898.6 1148.2 898.3 1148.9 898 1149.5 897.8 1150.2 897.5 1150.9 897.2 1151.5 896.7 1152.2 896.2 1152.9 895.7 1153.5 895.2 1154.2 894.7 1154.9 894.3 1155.5 894.1 1156.2 893.9 1156.9 893.6 1157.5 893.4 1158.2 893.2 1158.9 892.9 1159.5 892.7 1160.2 892.4 1160.9 892.2 1161.5 892 1162.2 891.7 1162.9 891.5 1163.5 891.3 1164.2 891 1164.9 890.8 1165.5 890.5 1166.2 890.3 1166.9 890.1 1167.5 889.9 1168.2 889.8 1168.9 889.7 1169.5 889.6 1170.2 889.5 1170.9 889.5 1171.5 889.4 1172.2 889.3 1172.9 889.2 1173.5 889.1 1174.2 889 1174.9 888.7 1175.5 887.8 1176.2 886.9 1176.9 885.9 1177.5 885 1178.2 884.1 1178.9 883.1 1179.5 883.1 1180.2 884.4 1180.9 885.8 1181.5 887.1 1182.2 888.1 1182.9 888.4 1183.5 888.7 1184.2 888.9 1184.9 889.2 1185.5 889.5 1186.2 889.7 1186.9 890 1187.5 890.3 1188.2 890.5 1188.9 890.8 1189.5 891.1 1190.2 891.3 1190.9 891.6 1191.5 891.9 1192.2 892.4 1192.9 892.8 1193.5 893.2 1194.2 893.6 1194.9 894 1195.5 894.4 1196.2 894.9 1196.9 895.3 1197.5 895.7 1198.2 896.1 1198.9 896.5 1199.5 896.9 1200.2 897.4 1200.9 897.8 1201.5 898.2 1202.2 898.6 1202.9 899 1203.5 899.4 1204.2 899.9 1204.9 900.3 1205.5 900.7 1206.2 901.2 1206.9 901.9 1207.5 902.6 1208.2 903.2 1208.9 903.9 1209.5 904.6 1210.2 905.2 1210.9 905.9 1211.5 906.4 1212.2 906.7 1212.9 906.9 1213.5 907.1 1214.2 907.3 1214.8 907.6 1215.5 907.8 1216.2 908 1216.8 908.2 1217.5 907.7 1218.2 907.3 1218.8 906.8 1219.5 906.4 1220.2 906 1220.8 905.5 1221.5 905.1 1222.2 904.6 1222.8 903.8 1223.5 902.9 1224.2 902 1224.8 901.2 1225.5 900.6 1226.2 900.2 1226.8 899.8 1227.5 899.4 1228.2 899 1228.8 898.6 1229.5 898.2 1230.2 897.8 1230.8 897.4 1231.5 897 1232.2 896.6 1232.8 896.2 1233.5 895.9 1234.2 895.9 1234.8 895.9 1235.5 895.9 1236.2 895.9 1236.8 895.9 1237.5 895.9 1238.2 895.9 1238.8 895.9 1239.5 895.9 1240.2 895.9 1240.8 895.9 1241.5 895.9 1242.2 895.9 1242.8 895.9 1243.5 895.9 1244.2 895.9 1244.8 895.9 1245.5 895.9 1246.2 895.9 1246.8 895.9 1247.5 895.9 1248.2 895.9 1248.8 895.9 1249.5 895.9 1250.2 895.9 1250.8 895.9 1251.5 895.9 1252.2 896 1252.8 896 1253.5 896 1254.2 896 1254.8 896 1255.5 896.1 1256.2 896.1 1256.8 896.1 1257.5 896.1 1258.2 896.2 1258.8 896.2 1259.5 896.2 1260.2 896.2 1260.8 896.2 1261.5 896.3 1262.2 896.3 1262.8 896.3 1263.5 896.3 1264.2 896.4 1264.8 896.4 1265.5 896.4 1266.2 896.4 1266.8 896.4 1267.5 896.5 1268.2 896.5 1268.8 896.5 1269.5 896.5 1270.2 896.6 1270.8 896.6 1271.5 896.6 1272.2 896.6 1272.8 896.6 1273.5 896.7 1274.2 896.6 1274.8 896.6 1275.5 896.6 1276.2 896.5 1276.8 896.5 1277.5 896.4 1278.2 896.4 1278.8 896.4 1279.5 896.3 1280.2 896.3 1280.8 896.3 1281.5 896.2 1282.1 896.2 1282.8 896.1 1283.5 896.1 1284.1 896.1 1284.8 896 1285.5 896 1286.1 895.9 1286.8 895.9 1287.5 895.9 1288.1 895.9 1288.8 895.9 1289.5 895.9 1290.1 895.9 1290.8 895.9 1291.5 895.9 1292.1 896 1292.8 896.2 1293.5 896.3 1294.1 896.5 1294.8 896.6 1295.5 896.8 1296.1 897 1296.8 897.1 1297.5 897.3 1298.1 897.4 1298.8 897.6 1299.5 897.8 1300.1 897.9 1300.8 898.1 1301.5 898.3 1302.1 898.4 1302.8 898.6 1303.5 898.7 1304.1 898.9 1304.8 899 1305.5 899 1306.1 899 1306.8 899 1307.5 899 1308.1 899 1308.8 899 1309.5 899 1310.1 899 1310.8 899 1311.5 899 1312.1 899 1312.8 899 1313.5 899 1314.1 899 1314.8 899 1315.5 899 1316.1 898.8 1316.8 898.5 1317.5 898.2 1318.1 897.8 1318.8 897.5 1319.5 897.2 1320.1 896.8 1320.8 896.5 1321.5 896.2 1322.1 895.8 1322.8 895.5 1323.5 895.2 1324.1 894.8 1324.8 894.5 1325.5 893.8 1326.1 893 1326.8 892.2 1327.5 891.4 1328.1 890.7 1328.8 889.9 1329.5 889.1 1330.1 888.3 1330.8 887.2 1331.5 885.9 1332.1 884.5 1332.8 883.2 1333.5 881.9 1334.1 880.5 1334.8 879.2 1335.5 877.1 1336.1 874.8 1336.8 872.4 1337.5 870.1 1338.1 867.8 1338.8 866.8 1339.5 869.5 1340.1 872.1 1340.8 874.8 1341.5 877.4 1342.1 879.6 1342.8 881.8 1343.5 884.1 1344.1 886.2 1344.8 885.1 1345.5 884.1 1346.1 883 1346.8 881.9 1347.5 880.9 1348.1 879.8 1348.8 878.1 1349.5 873.3 1350.1 868.4 1350.8 863.5 1351.4 858.7 1352.1 858.5 1352.8 858.3 1353.4 858.1 1354.1 857.9 1354.8 860.9 1355.4 864.2 1356.1 867.5 1356.8 870.9 1357.4 874 1358.1 877.1 1358.8 880.2 1359.4 883.3 1360.1 885.3 1360.8 886.6 1361.4 887.9 1362.1 889.3 1362.8 890.6 1363.4 891.9 1364.1 893.3 1364.8 894.6 1365.4 895.5 1366.1 895.7 1366.8 896 1367.4 896.2 1368.1 896.5 1368.8 896.7 1369.4 897 1370.1 897.2 1370.8 897.5 1371.4 897.7 1372.1 898 1372.8 898.2 1373.4 898.2 1374.1 898.3 1374.8 900 1375.4 900 1376.1 900 1376.8 900 1377.4 900 1378.1 900.1 1378.8 900.1 1379.4 900.1 1380.1 900.1 1380.8 900.1 1381.4 900.2 1382.1 900.2 1382.8 900.2 1383.4 900.2 1384.1 900.2 1384.8 900.2 1385.4 900.3 1386.1 900.3 1386.8 900.3 1387.4 900.3 1388.1 900.3 1388.8 900.4 1389.4 900.4 1390.1 900.4 1390.8 900.4 1391.4 900.4 1392.1 900.4 1392.8 900.5 1393.4 900.5 1394.1 900.5 1394.8 900.6 1395.4 900.6 1396.1 900.7 1396.8 900.8 1397.4 900.9 1398.1 901 1398.8 901.1 1399.4 901.2 1400.1 901.3 1400.8 901.4 1401.4 901.5 1402.1 901.6 1402.8 901.7 1403.4 901.8 1404.1 901.9 1404.8 902 1405.4 902 1406.1 902.1 1406.8 902.2 1407.4 902.3 1408.1 902.4 1408.8 902.5 1409.4 902.6 1410.1 902.7 1410.8 902.8 1411.4 902.9 1412.1 903 1412.8 903.1 1413.4 903.2 1414.1 903.3 1414.8 903.4 1415.4 903.5 1416.1 903.6 1416.8 903.8 1417.4 903.9 1418.1 904 1418.7 904.1 1419.4 904.2 1420.1 904.3 1420.7 904.4 1421.4 904.5 1422.1 904.7 1422.7 904.8 1423.4 904.9 1424.1 905 1424.7 905.1 1425.4 905.2 1426.1 905.3 1426.7 905.5 1427.4 905.6 1428.1 905.7 1428.7 905.8 1429.4 905.9 1430.1 906 1430.7 905.9 1431.4 905.8 1432.1 905.6 1432.7 905.5 1433.4 905.4 1434.1 905.3 1434.7 905.2 1435.4 905.1 1436.1 904.9 1436.7 904.8 1437.4 904.7 1438.1 904.6 1438.7 904.6 1439.4 904.6 1440.1 904.6 1440.7 904.6 1441.4 904.6 1442.1 904.7 1442.7 904.7 1443.4 904.7 1444.1 904.7 1444.7 904.8 1445.4 904.8 1446.1 904.8 1446.7 904.8 1447.4 904.8 1448.1 904.9 1448.7 904.9 1449.4 904.9 1450.1 904.9 1450.7 905 1451.4 905 1452.1 905 1452.7 905 1453.4 905 1454.1 905.1 1454.7 905.1 1455.4 905.1 1456.1 905.1 1456.7 905.2 1457.4 905.2 1458.1 905.2 1458.7 905.2 1459.4 905.2 1460.1 905.3 1460.7 905.3 1461.4 905.3 1462.1 905.3 1462.7 905.4 1463.4 905.4 1464.1 905.4 1464.7 905.4 1465.4 905.4 1466.1 905.5 1466.7 905.5 1467.4 905.5 1468.1 905.5 1468.7 905.6 1469.4 905.6 1470.1 905.6 1470.7 905.6 1471.4 905.6 1472.1 905.7 1472.7 905.7 1473.4 905.7 1474.1 905.7 1474.7 905.8 1475.4 905.8 1476.1 905.8 1476.7 905.8 1477.4 905.8 1478.1 905.9 1478.7 905.9 1479.4 905.9 1480.1 905.9 1480.7 906 1481.4 906 1482.1 906 1482.7 906 1483.4 906 1484.1 906.1 1484.7 906.1 1485.4 906.1 1486 906.1 1486.7 906.2 1487.4 906.2 1488 906.2 1488.7 906.2 1489.4 906.2 1490 906.3 1490.7 906.3 1491.4 906.3 1492 906.3 1492.7 906.4 1493.4 906.4 1494 906.4 1494.7 906.5 1495.4 906.5 1496 906.6 1496.7 906.6 1497.4 906.6 1498 906.7 1498.7 906.7 1499.4 906.8 1500 906.8 1500.7 906.9 1501.4 906.9 1502 907 1502.7 907 1503.4 907 1504 907.1 1504.7 907.1 1505.4 907.2 1506 907.2 1506.7 907.3 1507.4 907.3 1508 907.4 1508.7 907.4 1509.4 907.4 1510 907.5 1510.7 907.5 1511.4 907.6 1512 907.6 1512.7 907.7 1513.4 907.7 1514 907.8 1514.7 907.8 1515.4 907.8 1516 907.9 1516.7 907.9 1517.4 908 1518 908 1518.7 908.1 1519.4 908.1 1520 908.2 1520.7 908.2 1521.4 908.2 1522 908.2 1522.7 908.2 1523.4 908.2 1524 908.2 1524.7 908.2 1525.4 908.2 1526 908.2 1526.7 908.2 1527.4 908.2 1528 908.2 1528.7 908.2 1529.4 908.2 1530 908.2 1530.7 908.2 1531.4 908.2 1532 908.2 1532.7 908.2 1533.4 908.2 1534 908.2 1534.7 908.2 1535.4 908.2 1536 908.2 1536.7 908.2 1537.4 908.3 1538 908.5 1538.7 908.7 1539.4 908.9 1540 909.1 1540.7 909.4 1541.4 909.6 1542 909.8 1542.7 910 1543.4 910.3 1544 910.5 1544.7 910.7 1545.4 910.9 1546 911.1 1546.7 911.4 1547.4 911.6 1548 911.8 1548.7 912.1 1549.4 912.4 1550 912.8 1550.7 913.1 1551.4 913.4 1552 913.8 1552.7 914.1 1553.4 914.4 1554 914.8 1554.7 915.1 1555.3 915.4 1556 914.5 1556.7 914.3 1557.3 914.2 1558 914 1558.7 913.8 1559.3 913.6 1560 913.5 1560.7 913.3 1561.3 913.1 1562 913 1562.7 912.8 1563.3 912 1564 910.5 1564.7 909 1565.3 907.5 1566 906.2 1566.7 905.5 1567.3 904.7 1568 903.9 1568.7 903.2 1569.3 903.8 1570 905 1570.7 906.3 1571.3 907.6 1572 909.6 1572.7 911.6 1573.3 911.6 1574 911.6 1574.7 911.5 1575.3 911.5 1576 911.4 1576.7 911.3 1577.3 911.3 1578 911.4 1578.7 911.7 1579.3 911.9 1580 912.1 1580.7 912.4 1581.3 912.6 1582 912.5 1582.7 912 1583.3 911.5 1584 911 1584.7 910.6 1585.3 910.4 1586 910.2 1586.7 910.1 1587.3 909.9 1588 909.7 1588.7 909.6 1589.3 909.7 1590 909.9 1590.7 910 1591.3 910.1 1592 910.2 1592.7 910.4 1593.3 910.5 1594 910.6 1594.7 910.9 1595.3 911.2 1596 911.5 1596.7 911.7 1597.3 912 1598 912.3 1598.7 912.6 1599.3 912.6 1600 912.5 1600.7 912.3 1601.3 912.2 1602 912.1 1602.7 911.9 1603.3 911.8 1604 911.6 1604.7 911.5 1605.3 911.4 1606 911.3 1606.7 911.1 1607.3 911 1608 910.9 1608.7 910.8 1609.3 910.7 1610 910.8 1610.7 911 1611.3 911.2 1612 911.3 1612.7 911.5 1613.3 911.7 1614 911.3 1614.7 910.7 1615.3 910.2 1616 909.7 1616.7 909.7 1617.3 909.9 1618 910.1 1618.7 910.3 1619.3 910.5 1620 909.7 1620.7 908.1 1621.3 906.4 1622 905.3 1622.6 905.1 1623.3 904.9 1624 904.7 1624.6 904.5 1625.3 904.2 1626 903.7 1626.6 903.1 1627.3 902.5 1628 901.9 1628.6 901.4 1629.3 900.8 1630 900.2 1630.6 900.4 1631.3 900.6 1632 900.7 1632.6 900.9 1633.3 901.1 1634 901.2 1634.6 901 1635.3 900.7 1636 900.3 1636.6 900 1637.3 899.7 1638 899.3 1638.6 898.9 1639.3 898.4 1640 897.9 1640.6 897.4 1641.3 896.9 1642 896.4 1642.6 896.1 1643.3 896.3 1644 896.4 1644.6 896.6 1645.3 896.8 1646 897 1646.6 897.1 1647.3 897 1648 896.8 1648.6 896.7 1649.3 896.6 1650 896.5 1650.6 896.3 1651.3 896.2 1652 896.1 1652.6 895.8 1653.3 895.6 1654 895.3 1654.6 895.1 1655.3 894.8 1656 894.6 1656.6 894.3 1657.3 894.1 1658 892 1658.6 888.5 1659.3 885.5 1660 883.1 1660.6 880.7 1661.3 880.9 1662 881.5 1662.6 882.1 1663.3 882.5 1664 882.3 1664.6 882.1 1665.3 882 1666 881.8 1666.6 881.6 1667.3 881.4 1668 880.9 1668.6 880.4 1669.3 879.9 1670 879.4 1670.6 878.9 1671.3 878.4 1672 877.9 1672.6 877.4 1673.3 876.9 1674 876.4 1674.6 875.9 1675.3 875.4 1676 874.6 1676.6 873.6 1677.3 872.6 1678 871.6 1678.6 870.6 1679.3 869.7 1680 869 1680.6 868.4 1681.3 866.5 1682 860 1682.6 853.4 1683.3 846.4 1684 839 1684.6 836.7 1685.3 836.5 1686 836.3 1686.6 836.1 1687.3 841.8 1688 848.3 1688.6 855 1689.3 861.6 1689.9 866.9 1690.6 871.6 1691.3 872.4 1691.9 873.2 1692.6 874 1693.3 874.6 1693.9 874.8 1694.6 875.1 1695.3 875.3 1695.9 875.5 1696.6 875.7 1697.3 876 1697.9 876.2 1698.6 876.4 1699.3 876.6 1699.9 876.8 1700.6 877 1701.3 877.1 1701.9 877.3 1702.6 877.5 1703.3 877.6 1703.9 877.8 1704.6 878 1705.3 878.3 1705.9 878.6 1706.6 878.8 1707.3 879.1 1707.9 879.4 1708.6 879.8 1709.3 880.2 1709.9 880.6 1710.6 881 1711.3 881.4 1711.9 881.9 1712.6 882.5 1713.3 883.1 1713.9 883.7 1714.6 884.3 1715.3 884.9 1715.9 885.5 1716.6 886.4 1717.3 887.3 1717.9 888.3 1718.6 889.2 1719.3 890.1 1719.9 891 1720.6 892.1 1721.3 892.3 1721.9 892.5 1722.6 892.7 1723.3 892.9 1723.9 893.1 1724.6 893.4 1725.3 894 1725.9 894.6 1726.6 895.2 1727.3 895.8 1727.9 896.4 1728.6 897 1729.3 897.2 1729.9 897.4 1730.6 897.6 1731.3 897.8 1731.9 898 1732.6 898.2 1733.3 898.4 1733.9 898.5 1734.6 898.6 1735.3 898.7 1735.9 898.8 1736.6 898.9 1737.3 899 1737.9 899.1 1738.6 898.8 1739.3 898.4 1739.9 898 1740.6 897.6 1741.3 897.2 1741.9 896.5 1742.6 895.9 1743.3 895.2 1743.9 894.5 1744.6 890.7 1745.3 886.7 1745.9 880.3 1746.6 870.2 1747.3 860.2 1747.9 841.6 1748.6 821.5 1749.3 807.7 1749.9 794.6 1750.6 794.6 1751.3 794.6 1751.9 801.1 1752.6 814.5 1753.3 831.7 1753.9 851.8 1754.6 865.3 1755.3 875.3 1755.9 884.8 1756.6 889.9 1757.3 894.9 1757.9 898.2 1758.6 900.2 1759.2 902.2 1759.9 904.2 1760.6 905.1 1761.2 905.6 1761.9 906.1 1762.6 906.6 1763.2 907.1 1763.9 907.3 1764.6 907.3 1765.2 907.3 1765.9 907.3 1766.6 907.3 1767.2 907.3 1767.9 907.3 1768.6 907.3 1769.2 907.3 1769.9 907.3 1770.6 907.3 1771.2 907.1 1771.9 906.1 1772.6 905.1 1773.2 904.1 1773.9 903.1 1774.6 901.8 1775.2 897.7 1775.9 893.7 1776.6 889.7 1777.2 874.6 1777.9 858.4 1778.6 828.2 1779.2 775.9 1779.9 720.2 1780.6 675.1 1781.2 652.3 1781.9 632.8 1782.6 622.1 1783.2 623.4 1783.9 637 1784.6 664.8 1785.2 701.5 1785.9 751.7 1786.6 802 1787.2 837.3 1787.9 864.1 1788.6 878.8 1789.2 888.8 1789.9 897.9 1790.6 902.4 1791.2 906.9 1791.9 909.2 1792.6 910.2 1793.2 911.2 1793.9 912.2 1794.6 913.2 1795.2 913.9 1795.9 914.1 1796.6 914.4 1797.2 914.7 1797.9 915 1798.6 915.3 1799.2 915.6 1799.9 915.9 1800.6 916.2 1801.2 916.3 1801.9 916.4 1802.6 916.5 1803.2 916.6 1803.9 916.7 1804.6 916.8 1805.2 916.9 1805.9 917 1806.6 917.1 1807.2 917.2 1807.9 917.3 1808.6 917.4 1809.2 917.5 1809.9 918.1 1810.6 918.7 1811.2 919.3 1811.9 919.9 1812.6 920.5 1813.2 921.1 1813.9 921.6 1814.6 921.8 1815.2 921.9 1815.9 922 1816.6 922.2 1817.2 922.3 1817.9 922.5 1818.6 922.6 1819.2 922.8 1819.9 922.9 1820.6 923 1821.2 923.2 1821.9 923.3 1822.6 923.5 1823.2 923.6 1823.9 923.7 1824.6 923.9 1825.2 924 1825.9 924.2 1826.5 924.3 1827.2 924.5 1827.9 924.6 1828.5 924.7 1829.2 924.9 1829.9 925 1830.5 924.9 1831.2 924.8 1831.9 924.7 1832.5 924.6 1833.2 924.5 1833.9 924.4 1834.5 924.3 1835.2 924.2 1835.9 924.1 1836.5 924 1837.2 923.9 1837.9 923.8 1838.5 923.8 1839.2 923.7 1839.9 923.6 1840.5 923.5 1841.2 923.4 1841.9 923.3 1842.5 923.2 1843.2 923.1 1843.9 923 1844.5 922.9 1845.2 922.8 1845.9 922.7 1846.5 922.8 1847.2 922.8 1847.9 922.8 1848.5 922.9 1849.2 922.9 1849.9 922.9 1850.5 923 1851.2 923 1851.9 923 1852.5 923.1 1853.2 923.1 1853.9 923.1 1854.5 923.2 1855.2 923.2 1855.9 923.2 1856.5 923.3 1857.2 923.3 1857.9 923.3 1858.5 923.4 1859.2 923.4 1859.9 923.4 1860.5 923.5 1861.2 923.5 1861.9 923.5 1862.5 923.6 1863.2 923.6 1863.9 923.6 1864.5 923.7 1865.2 923.7 1865.9 923.7 1866.5 923.8 1867.2 923.8 1867.9 923.8 1868.5 923.9 1869.2 923.8 1869.9 923.8 1870.5 923.8 1871.2 923.7 1871.9 923.7 1872.5 923.7 1873.2 923.6 1873.9 923.6 1874.5 923.6 1875.2 923.5 1875.9 923.5 1876.5 923.5 1877.2 923.4 1877.9 923.4 1878.5 923.4 1879.2 923.3 1879.9 923.3 1880.5 923.3 1881.2 923.2 1881.9 923.2 1882.5 923.2 1883.2 923.1 1883.9 923.1 1884.5 923.1 1885.2 923 1885.9 923 1886.5 923 1887.2 922.9 1887.9 922.9 1888.5 922.9 1889.2 922.8 1889.9 922.8 1890.5 922.8 1891.2 922.7 1891.9 922.7 1892.5 922.8 1893.2 922.9 1893.8 922.9 1894.5 923 1895.2 923.1 1895.8 923.1 1896.5 923.2 1897.2 923.3 1897.8 923.3 1898.5 923.4 1899.2 923.5 1899.8 923.5 1900.5 923.6 1901.2 923.7 1901.8 923.7 1902.5 923.8 1903.2 923.9 1903.8 923.9 1904.5 924 1905.2 924.1 1905.8 924.1 1906.5 924.2 1907.2 924.3 1907.8 924.3 1908.5 924.4 1909.2 924.5 1909.8 924.5 1910.5 924.6 1911.2 924.7 1911.8 924.7 1912.5 924.8 1913.2 924.9 1913.8 924.9 1914.5 925 1915.2 925 1915.8 925 1916.5 925 1917.2 925 1917.8 925 1918.5 925 1919.2 925 1919.8 925 1920.5 925 1921.2 925 1921.8 925 1922.5 925 1923.2 925 1923.8 925 1924.5 925 1925.2 925 1925.8 925 1926.5 925 1927.2 925 1927.8 925 1928.5 925 1929.2 925 1929.8 925 1930.5 925 1931.2 925 1931.8 925 1932.5 925 1933.2 925 1933.8 925 1934.5 925 1935.2 925 1935.8 925 1936.5 925 1937.2 925 1937.8 924.8 1938.5 924.4 1939.2 924.1 1939.8 923.8 1940.5 923.4 1941.2 923.1 1941.8 922.8 1942.5 922.4 1943.2 922.1 1943.8 921.8 1944.5 921.4 1945.2 921.1 1945.8 920.8 1946.5 920.4 1947.2 920.5 1947.8 920.5 1948.5 920.6 1949.2 920.7 1949.8 920.7 1950.5 920.8 1951.2 920.8 1951.8 920.9 1952.5 920.9 1953.2 921 1953.8 921 1954.5 921.1 1955.2 921.1 1955.8 921.2 1956.5 921.3 1957.2 921.3 1957.8 921.4 1958.5 921.4 1959.2 921.5 1959.8 921.5 1960.5 921.6 1961.2 921.6 1961.8 921.7 1962.5 921.7 1963.1 921.7 1963.8 921.8 1964.5 921.8 1965.1 921.8 1965.8 921.9 1966.5 921.9 1967.1 921.9 1967.8 922 1968.5 922 1969.1 922 1969.8 922.1 1970.5 922.1 1971.1 922.1 1971.8 922.2 1972.5 922.2 1973.1 922.2 1973.8 922.3 1974.5 922.3 1975.1 922.3 1975.8 922.4 1976.5 922.4 1977.1 922.4 1977.8 922.5 1978.5 922.5 1979.1 922.5 1979.8 922.6 1980.5 922.6 1981.1 922.6 1981.8 922.7 1982.5 922.7 1983.1 922.7 1983.8 922.8 1984.5 922.9 1985.1 923 1985.8 923.1 1986.5 923.2 1987.1 923.3 1987.8 923.4 1988.5 923.5 1989.1 923.6 1989.8 923.7 1990.5 923.8 1991.1 923.9 1991.8 924 1992.5 924.1 1993.1 924.2 1993.8 924.3 1994.5 924.4 1995.1 924.5 1995.8 924.6 1996.5 924.7 1997.1 924.8 1997.8 924.9 1998.5 925 1999.1 925.1 1999.8 925.2 2000.5 925.3 2001.1 925.4 2001.8 925.5 2002.5 925.6 2003.1 925.7 2003.8 925.8 2004.5 925.9 2005.1 926 2005.8 926.1 2006.5 926.2 2007.1 926.3 2007.8 926.4 2008.5 926.5 2009.1 926.5 2009.8 926.6 2010.5 926.7 2011.1 926.8 2011.8 926.9 2012.5 927 2013.1 927 2013.8 927.1 2014.5 927.2 2015.1 927.3 2015.8 927.4 2016.5 927.5 2017.1 927.5 2017.8 927.6 2018.5 927.7 2019.1 927.8 2019.8 927.9 2020.5 928 2021.1 928 2021.8 928.1 2022.5 928.2 2023.1 928.3 2023.8 928.4 2024.5 928.4 2025.1 928.4 2025.8 928.4 2026.5 928.4 2027.1 928.4 2027.8 928.4 2028.5 928.3 2029.1 928.3 2029.8 928.3 2030.4 928.3 2031.1 928.3 2031.8 928.3 2032.4 928.2 2033.1 928.2 2033.8 928.2 2034.4 928.2 2035.1 928.2 2035.8 928.2 2036.4 928.1 2037.1 928.1 2037.8 928.1 2038.4 928.1 2039.1 928.1 2039.8 928.1 2040.4 928 2041.1 928 2041.8 928 2042.4 928 2043.1 928.2 2043.8 928.5 2044.4 928.7 2045.1 929 2045.8 929.3 2046.4 929.6 2047.1 929.9 2047.8 930.2 2048.4 930.4 2049.1 930.7 2049.8 931 2050.4 931.3 2051.1 931.6 2051.8 931.9 2052.4 931.7 2053.1 931.5 2053.8 931.2 2054.4 931 2055.1 930.8 2055.8 930.6 2056.4 930.4 2057.1 930.2 2057.8 929.9 2058.4 929.7 2059.1 929.5 2059.8 929.3 2060.4 929.1 2061.1 928.9 2061.8 928.6 2062.4 928.4 2063.1 928.2 2063.8 928 2064.4 927.7 2065.1 927.5 2065.8 927.3 2066.4 927.1 2067.1 926.8 2067.8 926.6 2068.4 926.4 2069.1 926.1 2069.8 925.9 2070.4 925.7 2071.1 925.5 2071.8 925.2 2072.4 925 2073.1 925 2073.8 925 2074.4 925 2075.1 925 2075.8 925 2076.4 925 2077.1 925 2077.8 925 2078.4 925 2079.1 925 2079.8 925 2080.4 925 2081.1 925 2081.8 925 2082.4 925 2083.1 925 2083.8 925 2084.4 925 2085.1 925 2085.8 925 2086.4 925 2087.1 925 2087.8 925 2088.4 925 2089.1 925 2089.8 925 2090.4 925 2091.1 925 2091.8 925 2092.4 925 2093.1 925 2093.8 925 2094.4 925 2095.1 925 2095.8 925 2096.4 925 2097.1 925 2097.8 925 2098.4 925 2099.1 925 2099.7 925.1 2100.4 925.1 2101.1 925.1 2101.7 925.1 2102.4 925.1 2103.1 925.1 2103.7 925.2 2104.4 925.2 2105.1 925.2 2105.7 925.2 2106.4 925.2 2107.1 925.2 2107.7 925.3 2108.4 925.3 2109.1 925.3 2109.7 925.3 2110.4 925.3 2111.1 925.3 2111.7 925.4 2112.4 925.4 2113.1 925.4 2113.7 925.4 2114.4 925.4 2115.1 925.4 2115.7 925.5 2116.4 925.5 2117.1 925.5 2117.7 925.5 2118.4 925.5 2119.1 925.5 2119.7 925.6 2120.4 925.6 2121.1 925.6 2121.7 925.6 2122.4 925.6 2123.1 925.6 2123.7 925.7 2124.4 925.7 2125.1 925.7 2125.7 925.7 2126.4 925.7 2127.1 925.7 2127.7 925.8 2128.4 925.8 2129.1 925.8 2129.7 925.8 2130.4 925.8 2131.1 925.8 2131.7 925.9 2132.4 925.9 2133.1 925.9 2133.7 925.9 2134.4 925.9 2135.1 925.9 2135.7 926 2136.4 926 2137.1 926 2137.7 926 2138.4 926 2139.1 926 2139.7 926.1 2140.4 926.1 2141.1 926.1 2141.7 926.1 2142.4 926.1 2143.1 926.1 2143.7 926.2 2144.4 926.2 2145.1 926.2 2145.7 926.3 2146.4 926.3 2147.1 926.3 2147.7 926.4 2148.4 926.4 2149.1 926.4 2149.7 926.5 2150.4 926.5 2151.1 926.5 2151.7 926.6 2152.4 926.6 2153.1 926.6 2153.7 926.7 2154.4 926.7 2155.1 926.7 2155.7 926.8 2156.4 926.8 2157.1 926.8 2157.7 926.9 2158.4 926.9 2159.1 926.9 2159.7 927 2160.4 927 2161.1 927 2161.7 927.1 2162.4 927.1 2163.1 927.1 2163.7 927.2 2164.4 927.2 2165.1 927.2 2165.7 927.3 2166.4 927.3 2167 927.3 2167.7 927.4 2168.4 927.4 2169 927.4 2169.7 927.5 2170.4 927.5 2171 927.5 2171.7 927.6 2172.4 927.6 2173 927.6 2173.7 927.7 2174.4 927.7 2175 927.7 2175.7 927.8 2176.4 927.8 2177 927.8 2177.7 927.9 2178.4 927.9 2179 927.9 2179.7 928 2180.4 928 2181 928.1 2181.7 928.2 2182.4 928.3 2183 928.4 2183.7 928.4 2184.4 928.5 2185 928.6 2185.7 928.7 2186.4 928.8 2187 928.9 2187.7 928.9 2188.4 929 2189 929.1 2189.7 929.1 2190.4 929.2 2191 929.2 2191.7 929.2 2192.4 929.2 2193 929.2 2193.7 929.2 2194.4 929.2 2195 929.2 2195.7 929.3 2196.4 929.3 2197 929.3 2197.7 929.3 2198.4 929.3 2199 929.3 2199.7 929.3 2200.4 929.4 2201 929.4 2201.7 929.4 2202.4 929.4 2203 929.4 2203.7 929.4 2204.4 929.4 2205 929.4 2205.7 929.5 2206.4 929.5 2207 929.5 2207.7 929.5 2208.4 929.5 2209 929.5 2209.7 929.5 2210.4 929.6 2211 929.6 2211.7 929.6 2212.4 929.6 2213 929.6 2213.7 929.5 2214.4 929.5 2215 929.5 2215.7 929.5 2216.4 929.4 2217 929.4 2217.7 929.4 2218.4 929.4 2219 929.3 2219.7 929.3 2220.4 929.3 2221 929.3 2221.7 929.2 2222.4 929.2 2223 929.2 2223.7 929.2 2224.4 929.1 2225 929.1 2225.7 929.1 2226.4 929.1 2227 929 2227.7 929 2228.4 929 2229 929 2229.7 928.9 2230.4 928.9 2231 928.9 2231.7 928.9 2232.4 928.9 2233 928.8 2233.7 928.8 2234.3 928.8 2235 928.8 2235.7 928.8 2236.3 928.8 2237 928.7 2237.7 928.7 2238.3 928.7 2239 928.7 2239.7 928.7 2240.3 928.7 2241 928.6 2241.7 928.6 2242.3 928.6 2243 928.6 2243.7 928.6 2244.3 928.6 2245 928.5 2245.7 928.5 2246.3 928.5 2247 928.5 2247.7 928.5 2248.3 928.5 2249 928.3 2249.7 928 2250.3 927.6 2251 927.3 2251.7 927 2252.3 926.6 2253 926.3 2253.7 926 2254.3 925.6 2255 925.3 2255.7 925 2256.3 924.6 2257 924.3 2257.7 924 2258.3 924 2259 924.3 2259.7 924.5 2260.3 924.8 2261 925 2261.7 925.3 2262.3 925.5 2263 925.8 2263.7 926 2264.3 926.3 2265 926.5 2265.7 926.8 2266.3 927 2267 927.3 2267.7 927.3 2268.3 927.3 2269 927.3 2269.7 927.3 2270.3 927.3 2271 927.3 2271.7 927.3 2272.3 927.3 2273 927.3 2273.7 927.3 2274.3 927.3 2275 927.3 2275.7 927.3 2276.3 927.3 2277 927.3 2277.7 927.3 2278.3 927.3 2279 927.3 2279.7 927.3 2280.3 927.3 2281 927.3 2281.7 927.4 2282.3 927.4 2283 927.4 2283.7 927.5 2284.3 927.5 2285 927.5 2285.7 927.6 2286.3 927.6 2287 927.7 2287.7 927.7 2288.3 927.7 2289 927.8 2289.7 927.8 2290.3 927.9 2291 927.9 2291.7 927.9 2292.3 928 2293 928 2293.7 928.1 2294.3 928.1 2295 928.1 2295.7 928.2 2296.3 928.2 2297 928.3 2297.7 928.3 2298.3 928.4 2299 928.5 2299.7 928.5 2300.3 928.6 2301 928.6 2301.7 928.7 2302.3 928.7 2303 928.7 2303.6 928.8 2304.3 928.8 2305 928.9 2305.6 928.9 2306.3 928.9 2307 929 2307.6 929 2308.3 929.1 2309 929.1 2309.6 929.2 2310.3 929.2 2311 929.2 2311.6 929.3 2312.3 929.3 2313 929.4 2313.6 929.4 2314.3 929.4 2315 929.5 2315.6 929.5 2316.3 929.6 2317 929.6 2317.6 929.6 2318.3 929.7 2319 929.7 2319.6 929.8 2320.3 929.8 2321 929.8 2321.6 929.9 2322.3 929.9 2323 929.9 2323.6 930 2324.3 930 2325 930.1 2325.6 930.1 2326.3 930.1 2327 930.2 2327.6 930.2 2328.3 930.2 2329 930.3 2329.6 930.3 2330.3 930.3 2331 930.4 2331.6 930.4 2332.3 930.5 2333 930.5 2333.6 930.5 2334.3 930.6 2335 930.6 2335.6 930.6 2336.3 930.7 2337 930.7 2337.6 930.8 2338.3 930.8 2339 930.9 2339.6 930.9 2340.3 931 2341 931 2341.6 931 2342.3 931.1 2343 931.1 2343.6 931.2 2344.3 931.2 2345 931.3 2345.6 931.3 2346.3 931.4 2347 931.4 2347.6 931.5 2348.3 931.5 2349 931.6 2349.6 931.6 2350.3 931.7 2351 931.7 2351.6 931.8 2352.3 931.8 2353 931.9 2353.6 930.5 2354.3 928 2355 925.4 2355.6 922.9 2356.3 920.4 2357 917.8 2357.6 915.3 2358.3 912.8 2359 910.2 2359.6 908.9 2360.3 907.5 2361 906.2 2361.6 904.9 2362.3 903.5 2363 906.1 2363.6 909.7 2364.3 913.2 2365 916.8 2365.6 920.3 2366.3 922.7 2367 924.5 2367.6 926.3 2368.3 928.1 2369 929 2369.6 929.1 2370.3 929.2 2370.9 929.3 2371.6 929.5 2372.3 929.6 2372.9 929.7 2373.6 929.8 2374.3 930 2374.9 930.1 2375.6 930.2 2376.3 930.3 2376.9 930.5 2377.6 930.6 2378.3 930.7 2378.9 930.7 2379.6 930.7 2380.3 930.7 2380.9 930.7 2381.6 930.7 2382.3 930.7 2382.9 930.7 2383.6 930.7 2384.3 930.7 2384.9 930.7 2385.6 930.7 2386.3 930.7 2386.9 930.7 2387.6 930.7 2388.3 930.7 2388.9 930.7 2389.6 930.7 2390.3 930.7 2390.9 930.7 2391.6 930.7 2392.3 930.7 2392.9 930.7 2393.6 930.7 2394.3 930.7 2394.9 930.7 2395.6 930.7 2396.3 930.7 2396.9 930.7 2397.6 930.7 2398.3 930.7 2398.9 930.7 2399.6 930.7 2400.3 930.7 2400.9 930.7 2401.6 930.7 2402.3 930.7 2402.9 930.7 2403.6 930.7 2404.3 930.8 2404.9 930.8 2405.6 930.8 2406.3 930.8 2406.9 930.8 2407.6 930.9 2408.3 930.9 2408.9 930.9 2409.6 930.9 2410.3 930.9 2410.9 931 2411.6 931 2412.3 931 2412.9 931 2413.6 931 2414.3 931.1 2414.9 931.1 2415.6 931.1 2416.3 931.1 2416.9 931.1 2417.6 931.2 2418.3 931.2 2418.9 931.2 2419.6 931.2 2420.3 931.3 2420.9 931.3 2421.6 931.3 2422.3 931.3 2422.9 931.3 2423.6 931.4 2424.3 931.4 2424.9 931.4 2425.6 931.4 2426.3 931.4 2426.9 931.5 2427.6 931.5 2428.3 931.5 2428.9 931.5 2429.6 931.5 2430.3 931.6 2430.9 931.6 2431.6 931.6 2432.3 931.6 2432.9 931.6 2433.6 931.7 2434.3 931.7 2434.9 931.7 2435.6 931.7 2436.3 931.8 2436.9 931.8 2437.6 931.8 2438.2 931.8 2438.9 931.8 2439.6 931.9 2440.2 931.9 2440.9 931.9 2441.6 931.8 2442.2 931.8 2442.9 931.8 2443.6 931.8 2444.2 931.7 2444.9 931.7 2445.6 931.7 2446.2 931.7 2446.9 931.6 2447.6 931.6 2448.2 931.6 2448.9 931.6 2449.6 931.5 2450.2 931.5 2450.9 931.5 2451.6 931.5 2452.2 931.4 2452.9 931.4 2453.6 931.4 2454.2 931.4 2454.9 931.3 2455.6 931.3 2456.2 931.3 2456.9 931.3 2457.6 931.2 2458.2 931.2 2458.9 930.8 2459.6 930.8 2460.2 930.8 2460.9 930.9 2461.6 930.9 2462.2 931 2462.9 931 2463.6 931 2464.2 931.1 2464.9 931.1 2465.6 931.2 2466.2 931.2 2466.9 931.3 2467.6 931.3 2468.2 931.3 2468.9 931.4 2469.6 931.4 2470.2 931.5 2470.9 931.5 2471.6 931.5 2472.2 931.6 2472.9 931.6 2473.6 931.7 2474.2 931.7 2474.9 931.8 2475.6 931.8 2476.2 931.8 2476.9 931.9 2477.6 931.8 2478.2 931.8 2478.9 931.7 2479.6 931.7 2480.2 931.6 2480.9 931.5 2481.6 931.5 2482.2 931.4 2482.9 931.4 2483.6 931.3 2484.2 931.3 2484.9 931.2 2485.6 931.2 2486.2 931.1 2486.9 931 2487.6 931 2488.2 930.9 2488.9 930.9 2489.6 930.8 2490.2 930.8 2490.9 930.7 2491.6 930.5 2492.2 930.4 2492.9 930.2 2493.6 930.1 2494.2 929.9 2494.9 929.8 2495.6 929.6 2496.2 929.5 2496.9 929.3 2497.6 929.2 2498.2 929 2498.9 928.9 2499.6 928.7 2500.2 928.6 2500.9 928.5 2501.6 928.6 2502.2 928.8 2502.9 929 2503.6 929.2 2504.2 929.4 2504.9 929.6 2505.6 929.8 2506.2 930 2506.9 930.1 2507.5 930.3 2508.2 930.5 2508.9 930.7 2509.5 930.8 2510.2 930.9 2510.9 930.9 2511.5 931 2512.2 931.1 2512.9 931.1 2513.5 931.2 2514.2 931.3 2514.9 931.3 2515.5 931.4 2516.2 931.5 2516.9 931.5 2517.5 931.6 2518.2 931.7 2518.9 931.7 2519.5 931.8 2520.2 931.9 2520.9 931.9 2521.5 932 2522.2 932.1 2522.9 932.1 2523.5 932.2 2524.2 932.3 2524.9 932.3 2525.5 932.4 2526.2 932.5 2526.9 932.5 2527.5 932.6 2528.2 932.6 2528.9 932.6 2529.5 932.6 2530.2 932.6 2530.9 932.7 2531.5 932.7 2532.2 932.7 2532.9 932.7 2533.5 932.7 2534.2 932.8 2534.9 932.8 2535.5 932.8 2536.2 932.8 2536.9 932.8 2537.5 932.9 2538.2 932.9 2538.9 932.9 2539.5 932.9 2540.2 932.9 2540.9 933 2541.5 933 2542.2 933 2542.9 933 2543.5 933.1 2544.2 933.2 2544.9 933.3 2545.5 933.4 2546.2 933.5 2546.9 933.6 2547.5 933.7 2548.2 933.8 2548.9 934 2549.5 934.1 2550.2 934.2 2550.9 934.3 2551.5 934.4 2552.2 934.5 2552.9 934.6 2553.5 934.7 2554.2 934.8 2554.9 935 2555.5 935.1 2556.2 935.2 2556.9 935.3 2557.5 935.2 2558.2 935.1 2558.9 934.9 2559.5 934.8 2560.2 934.7 2560.9 934.5 2561.5 934.4 2562.2 934.3 2562.9 934.1 2563.5 934 2564.2 933.9 2564.9 933.7 2565.5 933.6 2566.2 933.5 2566.9 933.3 2567.5 933.2 2568.2 933.1 2568.9 933 2569.5 933 2570.2 933 2570.9 933 2571.5 933 2572.2 933 2572.9 933 2573.5 933 2574.2 933 2574.8 933 2575.5 933 2576.2 933 2576.8 933 2577.5 933 2578.2 933 2578.8 933 2579.5 933 2580.2 933 2580.8 933 2581.5 933 2582.2 933 2582.8 933.1 2583.5 933.1 2584.2 933.1 2584.8 933.2 2585.5 933.2 2586.2 933.3 2586.8 933.3 2587.5 933.4 2588.2 933.4 2588.8 933.4 2589.5 933.5 2590.2 933.5 2590.8 933.6 2591.5 933.6 2592.2 933.6 2592.8 933.7 2593.5 933.7 2594.2 933.8 2594.8 933.8 2595.5 933.9 2596.2 933.9 2596.8 933.9 2597.5 934 2598.2 934 2598.8 934.1 2599.5 934.1 2600.2 934.1 2600.8 934.2 2601.5 934.2 2602.2 934.2 2602.8 934.2 2603.5 934.2 2604.2 934.2 2604.8 934.2 2605.5 934.2 2606.2 934.2 2606.8 934.2 2607.5 934.2 2608.2 934.2 2608.8 934.2 2609.5 934.2 2610.2 934.2 2610.8 934.2 2611.5 934.2 2612.2 934.2 2612.8 934.2 2613.5 934.2 2614.2 934.2 2614.8 934.2 2615.5 934.2 2616.2 934.2 2616.8 934.2 2617.5 934.2 2618.2 934.2 2618.8 934.2 2619.5 934.2 2620.2 934.2 2620.8 934.1 2621.5 934.1 2622.2 934.1 2622.8 934.1 2623.5 934.1 2624.2 934.1 2624.8 933.9 2625.5 933.7 2626.2 933.5 2626.8 933.4 2627.5 933.2 2628.2 933 2628.8 932.9 2629.5 932.7 2630.2 932.5 2630.8 932.3 2631.5 932 2632.2 931.8 2632.8 931.5 2633.5 931.3 2634.2 931 2634.8 930.8 2635.5 930.5 2636.2 930.3 2636.8 929.7 2637.5 929.1 2638.2 928.5 2638.8 927.8 2639.5 926.9 2640.2 924 2640.8 921.2 2641.5 918.4 2642.1 915.7 2642.8 914.2 2643.5 912.7 2644.1 911.2 2644.8 910.7 2645.5 910.9 2646.1 911.1 2646.8 911.9 2647.5 916.4 2648.1 920.8 2648.8 922.5 2649.5 923.6 2650.1 924.8 2650.8 925.9 2651.5 926.6 2652.1 927.2 2652.8 927.8 2653.5 928.4 2654.1 929 2654.8 929.5 2655.5 929.8 2656.1 930 2656.8 930.2 2657.5 930.5 2658.1 930.7 2658.8 930.9 2659.5 931.2 2660.1 931.3 2660.8 931.4 2661.5 931.5 2662.1 931.5 2662.8 931.6 2663.5 931.7 2664.1 931.8 2664.8 931.7 2665.5 931.6 2666.1 931.5 2666.8 931.3 2667.5 931.2 2668.1 931.1 2668.8 931 2669.5 930.8 2670.1 930.7 2670.8 930.4 2671.5 930.1 2672.1 929.8 2672.8 929.4 2673.5 929.1 2674.1 928.8 2674.8 928.5 2675.5 928.4 2676.1 928.3 2676.8 928.3 2677.5 928.2 2678.1 928.2 2678.8 928.2 2679.5 928.1 2680.1 928.1 2680.8 928 2681.5 928 2682.1 927.3 2682.8 926 2683.5 924.7 2684.1 923.4 2684.8 923 2685.5 922.6 2686.1 922.2 2686.8 921.8 2687.5 921.7 2688.1 921.9 2688.8 922.1 2689.5 922.4 2690.1 922.6 2690.8 922.8 2691.5 922.9 2692.1 923 2692.8 923.1 2693.5 923.2 2694.1 923.3 2694.8 923.4 2695.5 923.6 2696.1 923.9 2696.8 924.2 2697.5 924.4 2698.1 924.7 2698.8 925 2699.5 924.8 2700.1 924.6 2700.8 924.4 2701.5 924.2 2702.1 924 2702.8 923.8 2703.5 923.7 2704.1 923.6 2704.8 923.5 2705.5 923.3 2706.1 923.2 2706.8 923.1 2707.5 923 2708.1 922.8 2708.8 922.7 2709.5 922.6 2710.1 922.4 2710.8 922.2 2711.4 922.1 2712.1 921.9 2712.8 921.7 2713.4 921.6 2714.1 920.8 2714.8 920 2715.4 919.2 2716.1 918.7 2716.8 918.6 2717.4 918.4 2718.1 918.2 2718.8 918.1 2719.4 917.9 2720.1 917.7 2720.8 917.6 2721.4 917.4 2722.1 917.3 2722.8 917.2 2723.4 917.1 2724.1 917 2724.8 916.9 2725.4 916.8 2726.1 916.7 2726.8 916.6 2727.4 916.5 2728.1 915.9 2728.8 915.3 2729.4 914.7 2730.1 914.1 2730.8 913.5 2731.4 912.9 2732.1 912.4 2732.8 912 2733.4 911.6 2734.1 911.3 2734.8 910.9 2735.4 910.5 2736.1 910.1 2736.8 909.8 2737.4 909.4 2738.1 909 2738.8 908.6 2739.4 908.2 2740.1 907.9 2740.8 907.5 2741.4 907.1 2742.1 906.7 2742.8 906.3 2743.4 905.9 2744.1 905.5 2744.8 905.1 2745.4 904.7 2746.1 904.1 2746.8 903 2747.4 901.9 2748.1 900.8 2748.8 899.7 2749.4 898.6 2750.1 897.6 2750.8 896.5 2751.4 895.6 2752.1 894.6 2752.8 893.7 2753.4 893.3 2754.1 894.1 2754.8 894.9 2755.4 895.2 2756.1 895.1 2756.8 894.9 2757.4 894.8 2758.1 894.6 2758.8 894.4 2759.4 894.3 2760.1 894 2760.8 893.7 2761.4 893.4 2762.1 893 2762.8 892.7 2763.4 892.4 2764.1 892 2764.8 891.5 2765.4 890.9 2766.1 890.3 2766.8 889.7 2767.4 889.1 2768.1 888.5 2768.8 887.9 2769.4 887.2 2770.1 886.6 2770.8 885.6 2771.4 883.7 2772.1 882.5 2772.8 881.3 2773.4 880 2774.1 878.8 2774.8 877.5 2775.4 875.8 2776.1 874.2 2776.8 872.5 2777.4 871.1 2778.1 869.7 2778.7 868.4 2779.4 867.1 2780.1 865.1 2780.7 862.8 2781.4 860.5 2782.1 858.2 2782.7 856.5 2783.4 854.9 2784.1 853.2 2784.7 851.1 2785.4 847.1 2786.1 843.2 2786.7 839.3 2787.4 836.2 2788.1 834.3 2788.7 832.3 2789.4 830.3 2790.1 828.4 2790.7 826 2791.4 823.2 2792.1 820.4 2792.7 817.5 2793.4 814.8 2794.1 812.5 2794.7 810.3 2795.4 808 2796.1 805.8 2796.7 803.7 2797.4 801.8 2798.1 799.8 2798.7 797.8 2799.4 795.8 2800.1 793.9 2800.7 791.9 2801.4 789.9 2802.1 788 2802.7 786 2803.4 784 2804.1 782 2804.7 779.4 2805.4 774.5 2806.1 769.6 2806.7 765.4 2807.4 761.4 2808.1 757.8 2808.7 755.1 2809.4 752.5 2810.1 749.9 2810.7 747.1 2811.4 744.1 2812.1 741.2 2812.7 737.3 2813.4 733.3 2814.1 725.8 2814.7 713.9 2815.4 702.1 2816.1 690.3 2816.7 678.5 2817.4 667.1 2818.1 656.2 2818.7 645.4 2819.4 638.3 2820.1 641.2 2820.7 650.3 2821.4 662.2 2822.1 673.4 2822.7 684.3 2823.4 695.1 2824.1 705.9 2824.7 716.8 2825.4 724.8 2826.1 730.7 2826.7 736.3 2827.4 739 2828.1 740.7 2828.7 738.7 2829.4 736.7 2830.1 732.7 2830.7 727.8 2831.4 722.8 2832.1 717.9 2832.7 713 2833.4 710.5 2834.1 709 2834.7 707.8 2835.4 707.8 2836.1 707.8 2836.7 705.7 2837.4 705.9 2838.1 709.8 2838.7 718.8 2839.4 727.5 2840.1 727.5 2840.7 727.5 2841.4 727.5 2842.1 726.7 2842.7 725.3 2843.4 723.9 2844.1 722.3 2844.7 721.6 2845.4 721 2846 720.3 2846.7 721.2 2847.4 722.7 2848 724.2 2848.7 725.7 2849.4 728.1 2850 730.1 2850.7 732.1 2851.4 734 2852 736 2852.7 738 2853.4 740 2854 742.8 2854.7 746.7 2855.4 750.7 2856 755.5 2856.7 760.5 2857.4 766.7 2858 774.6 2858.7 779.5 2859.4 782.1 2860 781.3 2860.7 779 2861.4 776.6 2862 780 2862.7 787.8 2863.4 794.8 2864 801.4 2864.7 806.6 2865.4 811.6 2866 816.2 2866.7 820.1 2867.4 819.3 2868 820.7 2868.7 822.1 2869.4 823.4 2870 824.8 2870.7 826.2 2871.4 827.7 2872 829.8 2872.7 832 2873.4 834.1 2874 836.2 2874.7 838.4 2875.4 840.5 2876 842.6 2876.7 844.1 2877.4 845.2 2878 846.3 2878.7 847.4 2879.4 848.5 2880 849.6 2880.7 850.7 2881.4 851.9 2882 853 2882.7 854.1 2883.4 855.3 2884 856.6 2884.7 857.9 2885.4 859.3 2886 860.6 2886.7 861.9 2887.4 863.2 2888 864.4 2888.7 865.3 2889.4 866.1 2890 867 2890.7 867.8 2891.4 868.7 2892 869.5 2892.7 870.4 2893.4 871.2 2894 872 2894.7 872.6 2895.4 873.3 2896 873.9 2896.7 874.6 2897.4 875.2 2898 875.9 2898.7 876.6 2899.4 877.2 2900 877.9 2900.7 878.5 2901.4 879.2 2902 879.8 2902.7 880.5 2903.4 881.2 2904 881.8 2904.7 882.2 2905.4 882.7 2906 883.2 2906.7 883.7 2907.4 884.2 2908 884.7 2908.7 885.2 2909.4 885.5 2910 885.8 2910.7 886 2911.4 886.3 2912 886.6 2912.7 886.9 2913.4 886.9 2914 886.8 2914.7 886.8 2915.3 886.7 2916 886.6 2916.7 886.5 2917.3 886.2 2918 885.4 2918.7 884.7 2919.3 884 2920 883.2 2920.7 882 2921.3 880 2922 878.6 2922.7 877.6 2923.3 876.7 2924 879.1 2924.7 881.6 2925.3 884 2926 886.4 2926.7 888.7 2927.3 890.3 2928 890.6 2928.7 891 2929.3 891.3 2930 890.8 2930.7 889.8 2931.3 889 2932 889.4 2932.7 889.8 2933.3 890.2 2934 892.2 2934.7 894.1 2935.3 896.1 2936 898.7 2936.7 901.3 2937.3 903.9 2938 906.4 2938.7 908.1 2939.3 909.7 2940 911.3 2940.7 912.2 2941.3 911.9 2942 911.6 2942.7 911.2 2943.3 911.3 2944 911.7 2944.7 912 2945.3 912.3 2946 912.8 2946.7 913.3 2947.3 913.8 2948 914.3 2948.7 914.8 2949.3 915.4 2950 916.1 2950.7 916.7 2951.3 917.1 2952 915.4 2952.7 915.5 2953.3 915.9 2954 916.3 2954.7 916.7 2955.3 917.1 2956 917.6 2956.7 918 2957.3 918.4 2958 918.8 2958.7 919.2 2959.3 919.6 2960 920.1 2960.7 920.5 2961.3 920.9 2962 921.2 2962.7 921.5 2963.3 921.9 2964 922.2 2964.7 922.5 2965.3 922.9 2966 923.2 2966.7 923.5 2967.3 923.9 2968 924.2 2968.7 924.5 2969.3 924.9 2970 925.2 2970.7 925.4 2971.3 925.6 2972 925.8 2972.7 926 2973.3 926.2 2974 926.4 2974.7 926.6 2975.3 926.8 2976 927 2976.7 927.2 2977.3 927.4 2978 927.6 2978.7 927.8 2979.3 928 2980 928.2 2980.7 928.4 2981.3 928.6 2982 928.8 2982.6 929 2983.3 929.2 2984 929.4 2984.6 929.6 2985.3 929.8 2986 930 2986.6 930.2 2987.3 930.4 2988 930.6 2988.6 930.8 2989.3 931 2990 931.2 2990.6 931.4 2991.3 931.6 2992 931.8 2992.6 932 2993.3 932.2 2994 932.4 2994.6 932.6 2995.3 932.8 2996 933 2996.6 933.2 2997.3 933.4 2998 933.6 2998.6 933.8 2999.3 934 3000 934.2 3000.6 934.4 3001.3 934.6 3002 934.8 3002.6 935 3003.3 935.2 3004 935.4 3004.6 935.4 3005.3 935.4 3006 935.4 3006.6 935.4 3007.3 935.4 3008 935.4 3008.6 935.4 3009.3 935.4 3010 935.4 3010.6 935.4 3011.3 935.4 3012 935.4 3012.6 935.4 3013.3 935.4 3014 935.4 3014.6 935.4 3015.3 935.4 3016 935.5 3016.6 935.5 3017.3 935.6 3018 935.7 3018.6 935.7 3019.3 935.8 3020 935.9 3020.6 935.9 3021.3 936 3022 936.1 3022.6 936.1 3023.3 936.2 3024 936.3 3024.6 936.3 3025.3 936.4 3026 936.5 3026.6 936.5 3027.3 936.5 3028 936.5 3028.6 936.5 3029.3 936.5 3030 936.5 3030.6 936.5 3031.3 936.5 3032 936.5 3032.6 936.5 3033.3 936.5 3034 936.5 3034.6 936.5 3035.3 936.5 3036 936.5 3036.6 936.5 3037.3 936.5 3038 936.5 3038.6 936.4 3039.3 936.4 3040 936.3 3040.6 936.3 3041.3 936.2 3042 936.2 3042.6 936.1 3043.3 936.1 3044 936 3044.6 935.9 3045.3 935.9 3046 935.8 3046.6 935.8 3047.3 935.7 3048 935.7 3048.6 935.6 3049.3 935.6 3049.9 935.5 3050.6 935.4 3051.3 935.4 3051.9 935.6 3052.6 935.8 3053.3 935.9 3053.9 936.1 3054.6 936.3 3055.3 936.4 3055.9 936.6 3056.6 936.8 3057.3 936.9 3057.9 937.1 3058.6 937.3 3059.3 937.4 3059.9 937.6 3060.6 937.6 3061.3 937.6 3061.9 937.6 3062.6 937.6 3063.3 937.6" fill="none" stroke="#f6262b" stroke-width="3.7" stroke-linejoin="round" stroke-linecap="butt" stroke-dasharray="23.8 11.5 6.2 11.5"/>
</g>
<clipPath id="cbl"><rect x="290.4" y="1078.8" width="708" height="604.1"/></clipPath><g clip-path="url(#cbl)">
<path d="M290.4 1669.4 998.4 1669.4" fill="none" stroke="#0a4ff0" stroke-width="3.3" stroke-linejoin="round" stroke-linecap="butt"/>
<path d="M864.3 1669.4 864.7 1669.4 865.1 1669.4 865.5 1669.4 865.9 1669.4 866.3 1669.4 866.6 1669.4 867 1669.4 867.4 1669.3 867.8 1669.1 868.2 1668.9 868.6 1668.6 869 1668.2 869.4 1667.5 869.8 1666.7 870.2 1665.6 870.6 1664.4 871 1663 871.4 1661.6 871.8 1660.3 872.2 1659.1 872.5 1658.2 872.9 1657.8 873.3 1657.8 873.7 1658.2 874.1 1659.1 874.5 1660.3 874.9 1661.6 875.3 1663 875.7 1664.4 876.1 1665.6 876.5 1666.7 876.9 1667.5 877.3 1668.2 877.7 1668.6 878.1 1668.9 878.5 1669.1 878.8 1669.3 879.2 1669.4 879.6 1669.4 880 1669.4 880.4 1669.4 880.8 1669.4 881.2 1669.4 881.6 1669.4 882 1669.4" fill="none" stroke="#0a4ff0" stroke-width="3.3" stroke-linejoin="round" stroke-linecap="butt"/>
<path d="M923.7 1669.4 924.1 1669.4 924.5 1669.4 924.9 1669.4 925.3 1669.4 925.7 1669.3 926.1 1669.2 926.5 1669 926.9 1668.7 927.3 1668.1 927.7 1667.3 928 1666 928.4 1664.1 928.8 1661.4 929.2 1657.8 929.6 1653 930 1646.9 930.4 1639.5 930.8 1630.7 931.2 1620.9 931.6 1610.4 932 1599.7 932.4 1589.5 932.8 1580.4 933.2 1573.3 933.6 1568.6 934 1566.8 934.3 1568 934.7 1572.1 935.1 1578.8 935.5 1587.5 935.9 1597.6 936.3 1608.2 936.7 1618.8 937.1 1628.8 937.5 1637.8 937.9 1645.5 938.3 1651.9 938.7 1656.9 939.1 1660.8 939.5 1663.6 939.9 1665.7 940.3 1667.1 940.6 1668 941 1668.6 941.4 1668.9 941.8 1669.2 942.2 1669.3 942.6 1669.4 943 1669.4 943.4 1669.4 943.8 1669.4 944.2 1669.4" fill="none" stroke="#0a4ff0" stroke-width="3.3" stroke-linejoin="round" stroke-linecap="butt"/>
<path d="M926.1 1669.4 926.5 1669.4 926.9 1669.4 927.3 1669.4 927.7 1669.4 928 1669.4 928.4 1669.4 928.8 1669.4 929.2 1669.3 929.6 1669.2 930 1669.1 930.4 1668.9 930.8 1668.6 931.2 1668.2 931.6 1667.6 932 1666.8 932.4 1665.9 932.8 1664.7 933.2 1663.3 933.6 1661.7 934 1660.1 934.3 1658.4 934.7 1656.8 935.1 1655.3 935.5 1654.2 935.9 1653.4 936.3 1653.2 936.7 1653.3 937.1 1654 937.5 1655.1 937.9 1656.4 938.3 1658 938.7 1659.7 939.1 1661.4 939.5 1663 939.9 1664.4 940.3 1665.7 940.6 1666.7 941 1667.5 941.4 1668.1 941.8 1668.5 942.2 1668.8 942.6 1669.1 943 1669.2 943.4 1669.3 943.8 1669.4 944.2 1669.4 944.6 1669.4 945 1669.4 945.4 1669.4 945.8 1669.4 946.2 1669.4 946.5 1669.4" fill="none" stroke="#0a4ff0" stroke-width="3.3" stroke-linejoin="round" stroke-linecap="butt"/>
<path d="M867 1514.6 1000.4 1514.6" fill="none" stroke="#111" stroke-width="3.3" stroke-linejoin="round" stroke-linecap="butt" stroke-dasharray="3.3 13.2"/>
<path d="M867 1424.9 867.9 1419.2 868.7 1418 869.6 1415.8 870.5 1413.5 871.3 1414.8 872.2 1424 873.1 1428.3 873.9 1430.1 874.8 1433.9 875.7 1438.2 876.5 1442.5 877.4 1448 878.3 1453.5 879.1 1454.7 880 1452.9 880.9 1451.2 881.7 1451.5 882.6 1453.4 883.5 1454.2 884.3 1454.3 885.2 1454.1 886 1455.2 886.9 1458.6 887.8 1461.6 888.6 1464.7 889.5 1467.2 890.4 1470.4 891.2 1474.1 892.1 1473.4 893 1471.2 893.8 1468.3 894.7 1464.3 895.6 1460.6 896.4 1462.1 897.3 1465.5 898.2 1471.2 899 1476.7 899.9 1480.1 900.8 1483.1 901.6 1483.7 902.5 1486.3 903.4 1488.8 904.2 1490.4 905.1 1489.4 906 1488.3 906.8 1487.5 907.7 1488.6 908.6 1492.5 909.4 1495.7 910.3 1498.1 911.2 1500.5 912 1500.5 912.9 1499.1 913.8 1499.6 914.6 1500.5 915.5 1499.8 916.4 1497.5 917.2 1494.2 918.1 1491.3 919 1487.7 919.8 1483.9 920.7 1482.3 921.6 1485.4 922.4 1488.1 923.3 1490.5 924.2 1493.2 925 1494.7 925.9 1486.9 926.8 1478.7 927.6 1470.9 928.5 1463.3 929.3 1457.8 930.2 1463.6 931.1 1470.5 931.9 1479.6 932.8 1490.2 933.7 1502.5 934.5 1496.4 935.4 1496.5 936.3 1508.9 937.1 1504 938 1493.6 938.9 1490.3 939.7 1489.3 940.6 1486.4 941.5 1483.6 942.3 1481.6 943.2 1479.5 944.1 1476.7 944.9 1476.5 945.8 1481.8 946.7 1487.1 947.5 1488.8 948.4 1489.3 949.3 1490 950.1 1490.8 951 1493.2 951.9 1495.9 952.7 1497.7 953.6 1500.7 954.5 1501.3 955.3 1501.6 956.2 1503.2 957.1 1505.8 957.9 1510 958.8 1514.1 959.7 1518.8 960.5 1523 961.4 1517.5 962.3 1512.1 963.1 1514.2 964 1516.4 964.9 1517.9 965.7 1518.6 966.6 1520.5 967.5 1524.2 968.3 1523.7 969.2 1520.9 970 1518.2 970.9 1515.6 971.8 1513.9 972.6 1514.1 973.5 1513.5 974.4 1509.4 975.2 1506.5 976.1 1508 977 1508.8 977.8 1507.1 978.7 1505.1 979.6 1501.7 980.4 1498.4 981.3 1500 982.2 1501.5 983 1499.4 983.9 1497.3 984.8 1493.3 985.6 1489.2 986.5 1490.9 987.4 1494.5 988.2 1494.7 989.1 1494.5 990 1494.1 990.8 1493.7 991.7 1494.5 992.6 1494.8 993.4 1497.9 994.3 1501.1 995.2 1504.3 996 1503.2 996.9 1501.1 997.8 1498.6 998.6 1496.6 999.5 1495 1000.4 1492.5" fill="none" stroke="#111" stroke-width="2.2" stroke-linejoin="round" stroke-linecap="round" stroke-dasharray="0.1 4.2"/>
<path d="M867 1201.7 867.8 1194.9 868.6 1191.8 869.4 1188.6 870.1 1185 870.9 1182.3 871.7 1187 872.5 1193.8 873.3 1196.9 874.1 1197.8 874.9 1201.7 875.7 1205.6 876.4 1209.3 877.2 1214 878 1219.2 878.8 1222.5 879.6 1220.3 880.4 1218.6 881.2 1216.9 882 1218.1 882.7 1219.6 883.5 1219.9 884.3 1219.7 885.1 1219.4 885.9 1219.5 886.7 1222.6 887.5 1225 888.3 1227.5 889 1230.9 889.8 1234.2 890.6 1238.8 891.4 1242.7 892.2 1243.6 893 1243.4 893.8 1242.8 894.6 1240.9 895.3 1239 896.1 1241 896.9 1244.1 897.7 1249 898.5 1254.6 899.3 1259.4 900.1 1262.8 900.8 1265.6 901.6 1266.6 902.4 1267.5 903.2 1268.9 904 1269.1 904.8 1267.4 905.6 1265.1 906.4 1262.9 907.1 1260.9 907.9 1261.8 908.7 1264 909.5 1266.2 910.3 1268 911.1 1269.8 911.9 1269.8 912.7 1268.2 913.4 1267.6 914.2 1268.1 915 1268.1 915.8 1266.7 916.6 1263.3 917.4 1260.3 918.2 1257.2 919 1253.6 919.7 1249.7 920.5 1247 921.3 1250.7 922.1 1254.3 922.9 1257.5 923.7 1260.7 924.5 1264.3 925.3 1262.7 926 1254.5 926.8 1246.2 927.6 1238.1 928.4 1230.2 929.2 1222.8 930 1215.2 930.8 1207.7 931.6 1201.5 932.3 1197.3 933.1 1196.1 933.9 1195.9 934.7 1193.5 935.5 1203.2 936.3 1222.7 937.1 1237 937.9 1248.8 938.6 1256.6 939.4 1261.3 940.2 1264.4 941 1266.5 941.8 1266.3 942.6 1266.4 943.4 1266.3 944.1 1265.7 944.9 1265.4 945.7 1268.3 946.5 1271.3 947.3 1271.6 948.1 1270.9 948.9 1269 949.7 1267.9 950.4 1267.2 951.2 1267.7 952 1268.3 952.8 1268 953.6 1269.4 954.4 1269.8 955.2 1269.9 956 1270.8 956.7 1272.6 957.5 1276 958.3 1279.5 959.1 1283 959.9 1287.5 960.7 1289.2 961.5 1283.9 962.3 1278.9 963 1280.7 963.8 1282.5 964.6 1284 965.4 1284.5 966.2 1285 967 1288.6 967.8 1291.4 968.6 1289.8 969.3 1287.6 970.1 1285.4 970.9 1283.2 971.7 1281.8 972.5 1282.2 973.3 1283.1 974.1 1279.6 974.9 1276 975.6 1276.3 976.4 1277.9 977.2 1278 978 1276.7 978.8 1275 979.6 1272.1 980.4 1269.4 981.1 1272.2 981.9 1275 982.7 1275.3 983.5 1274.8 984.3 1273.4 985.1 1271 985.9 1269.9 986.7 1273.5 987.4 1278.1 988.2 1279.3 989 1280.5 989.8 1281.5 990.6 1282.5 991.4 1284.2 992.2 1286.5 993 1288.7 993.7 1290.7 994.5 1292.8 995.3 1294.1 996.1 1292.2 996.9 1289.4 997.7 1286.3 998.5 1283.5 999.3 1281.3 1000 1278.7" fill="none" stroke="#111" stroke-width="4.3" stroke-linejoin="round" stroke-linecap="butt"/>
<path d="M867 1291.4 867.4 1290.6 867.8 1289.9 868.2 1289.1 868.6 1288.3 869 1287.5 869.4 1286.8 869.8 1286 870.1 1285.2 870.5 1284.4 870.9 1283.7 871.3 1282.9 871.7 1282.4 872.1 1282.4 872.5 1282.3 872.9 1282.3 873.3 1282.2 873.7 1282.2 874.1 1282.1 874.5 1282.1 874.9 1282 875.3 1282 875.7 1281.9 876.1 1281.9 876.4 1281.8 876.8 1281.8 877.2 1281.7 877.6 1281.7 878 1281.6 878.4 1281.6 878.8 1281.5 879.2 1281.4 879.6 1281.3 880 1281.2 880.4 1281.1 880.8 1281 881.2 1280.9 881.6 1280.8 882 1280.7 882.3 1280.6 882.7 1280.4 883.1 1280.3 883.5 1280.2 883.9 1280.1 884.3 1280 884.7 1279.9 885.1 1279.8 885.5 1279.7 885.9 1279.6 886.3 1279.5 886.7 1279.4 887.1 1279.3 887.5 1279.2 887.9 1279 888.3 1278.9 888.6 1279.2 889 1279.7 889.4 1280.2 889.8 1280.7 890.2 1281.3 890.6 1281.8 891 1282.3 891.4 1283.1 891.8 1284 892.2 1285 892.6 1285.9 893 1286.8 893.4 1287.7 893.8 1288.6 894.2 1289.6 894.6 1290.5 894.9 1291.4 895.3 1292.3 895.7 1293.2 896.1 1294.1 896.5 1294.9 896.9 1295.1 897.3 1295.3 897.7 1295.5 898.1 1295.7 898.5 1295.9 898.9 1296.1 899.3 1296.3 899.7 1296.5 900.1 1296.7 900.5 1296.9 900.8 1297.1 901.2 1297.3 901.6 1297.5 902 1297.1 902.4 1296.4 902.8 1295.7 903.2 1295 903.6 1294.4 904 1293.7 904.4 1293 904.8 1292.3 905.2 1291.6 905.6 1290.9 906 1290.2 906.4 1289.5 906.8 1288.8 907.1 1288.2 907.5 1287.5 907.9 1286.8 908.3 1286.1 908.7 1285.4 909.1 1285 909.5 1284.8 909.9 1284.6 910.3 1284.5 910.7 1284.3 911.1 1284.1 911.5 1283.9 911.9 1283.7 912.3 1283.6 912.7 1283.4 913.1 1283.2 913.4 1283 913.8 1282.8 914.2 1282.6 914.6 1282.5 915 1282.3 915.4 1282.1 915.8 1281.9 916.2 1281.7 916.6 1281.6 917 1281.4 917.4 1281.2 917.8 1281 918.2 1280.8 918.6 1280.6 919 1280.5 919.4 1280.3 919.7 1280.1 920.1 1279.9 920.5 1279.9 920.9 1280.4 921.3 1280.8 921.7 1281.3 922.1 1281.8 922.5 1282.2 922.9 1282.7 923.3 1283.2 923.7 1283.7 924.1 1284.1 924.5 1284.6 924.9 1285.1 925.3 1284.7 925.6 1284.2 926 1283.7 926.4 1283.3 926.8 1282.8 927.2 1282.3 927.6 1281.8 928 1281.4 928.4 1280.9 928.8 1280.4 929.2 1279.9 929.6 1275.3 930 1268.2 930.4 1261.1 930.8 1254 931.2 1247 931.6 1240.7 931.9 1234.4 932.3 1228.1 932.7 1221.8 933.1 1215.5 933.5 1209.2 933.9 1206.4 934.3 1210.1 934.7 1213.7 935.1 1217.4 935.5 1221.1 935.9 1224.8 936.3 1228.4 936.7 1236.1 937.1 1246.7 937.5 1257.3 937.9 1268 938.2 1278.1 938.6 1280.8 939 1283.4 939.4 1286 939.8 1288.6 940.2 1291.3 940.6 1293.9 941 1296.1 941.4 1297 941.8 1298 942.2 1299 942.6 1300 943 1301 943.4 1302 943.8 1302.9 944.1 1303.9 944.5 1304.4 944.9 1303.5 945.3 1302.5 945.7 1301.6 946.1 1300.7 946.5 1299.7 946.9 1298.8 947.3 1297.8 947.7 1296.9 948.1 1295.9 948.5 1295 948.9 1294 949.3 1293.1 949.7 1292.2 950.1 1291.2 950.4 1290.3 950.8 1289.3 951.2 1288.4 951.6 1287.4 952 1286.5 952.4 1285.5 952.8 1284.6 953.2 1283.6 953.6 1283.3 954 1283.2 954.4 1283.1 954.8 1283 955.2 1282.9 955.6 1282.9 956 1282.8 956.4 1282.7 956.7 1282.6 957.1 1282.5 957.5 1282.4 957.9 1282.3 958.3 1282.3 958.7 1282.2 959.1 1282.1 959.5 1282 959.9 1281.9 960.3 1281.8 960.7 1281.8 961.1 1281.7 961.5 1281.6 961.9 1281.5 962.3 1281.4 962.6 1281.3 963 1281.3 963.4 1281.2 963.8 1281.1 964.2 1281 964.6 1280.9 965 1280.8 965.4 1280.7 965.8 1280.7 966.2 1280.8 966.6 1280.9 967 1281 967.4 1281.2 967.8 1281.3 968.2 1281.4 968.6 1281.5 968.9 1281.7 969.3 1281.8 969.7 1281.9 970.1 1282 970.5 1282.1 970.9 1282.3 971.3 1282.4 971.7 1282.5 972.1 1282.6 972.5 1282.8 972.9 1282.9 973.3 1283 973.7 1283.1 974.1 1283.3 974.5 1283.4 974.9 1283.5 975.2 1283.6 975.6 1283.7 976 1283.9 976.4 1284 976.8 1284.1 977.2 1284.2 977.6 1284.4 978 1284.5 978.4 1284.6 978.8 1284.7 979.2 1284.9 979.6 1285 980 1285.1 980.4 1285.7 980.8 1286.4 981.1 1287.1 981.5 1287.8 981.9 1288.4 982.3 1289.1 982.7 1289.8 983.1 1290.5 983.5 1291.1 983.9 1291.8 984.3 1292.5 984.7 1293.2 985.1 1293.8 985.5 1294.5 985.9 1295.2 986.3 1295.9 986.7 1296.5 987.1 1297.2 987.4 1297.9 987.8 1298.6 988.2 1299.2 988.6 1299.9 989 1300.6 989.4 1301.3 989.8 1301.9 990.2 1302.6 990.6 1303.3 991 1304 991.4 1304.6 991.8 1305.3 992.2 1306 992.6 1307.4 993 1307.1 993.4 1306.6 993.7 1306.2 994.1 1305.8 994.5 1305.4 994.9 1305 995.3 1304.6 995.7 1304.2 996.1 1303.8 996.5 1303.3 996.9 1302.9 997.3 1302.5 997.7 1302.1 998.1 1301.7 998.5 1301.3 998.9 1300.9 999.3 1300.5 999.6 1300 1000 1299.6 1000.4 1299.2" fill="none" stroke="#f6262b" stroke-width="3.4" stroke-linejoin="round" stroke-linecap="butt" stroke-dasharray="20 9 5 9"/>
</g>
<path d="M872.1 1089.8 872.1 1175" fill="none" stroke="#111" stroke-width="1.6" stroke-linejoin="round" stroke-linecap="butt" stroke-dasharray="4.6 11.2"/>
<text class="s" transform="translate(888.4 1253) rotate(-90)" x="0" textLength="42" lengthAdjust="spacingAndGlyphs"><tspan font-size="35.5">H</tspan><tspan font-size="35.5" class="si">ζ</tspan></text>
<path d="M933.4 1089.8 933.4 1189" fill="none" stroke="#111" stroke-width="1.6" stroke-linejoin="round" stroke-linecap="butt" stroke-dasharray="4.6 11.2"/>
<text class="s" transform="translate(926.5 1198) rotate(-90)" x="0" textLength="96" lengthAdjust="spacingAndGlyphs"><tspan font-size="35.5">[NeIII]</tspan></text>
<path d="M936.6 1089.8 936.6 1189" fill="none" stroke="#111" stroke-width="1.6" stroke-linejoin="round" stroke-linecap="butt" stroke-dasharray="4.6 11.2"/>
<text class="s" transform="translate(952.4 1253) rotate(-90)" x="0" textLength="40" lengthAdjust="spacingAndGlyphs"><tspan font-size="35.5">H</tspan><tspan font-size="35.5" class="si">ε</tspan></text>
<path d="M329.7 1682.9v-12.1M329.7 1078.8v12.1M369.1 1682.9v-6M369.1 1078.8v6M408.4 1682.9v-6M408.4 1078.8v6M447.8 1682.9v-6M447.8 1078.8v6M487.2 1682.9v-12.1M487.2 1078.8v12.1M526.5 1682.9v-6M526.5 1078.8v6M565.9 1682.9v-6M565.9 1078.8v6M605.2 1682.9v-6M605.2 1078.8v6M644.6 1682.9v-12.1M644.6 1078.8v12.1M684 1682.9v-6M684 1078.8v6M723.3 1682.9v-6M723.3 1078.8v6M762.7 1682.9v-6M762.7 1078.8v6M802.1 1682.9v-12.1M802.1 1078.8v12.1M841.4 1682.9v-6M841.4 1078.8v6M880.8 1682.9v-6M880.8 1078.8v6M920.1 1682.9v-6M920.1 1078.8v6M959.5 1682.9v-12.1M959.5 1078.8v12.1M290.4 1677.6h14.2M998.4 1677.6h-14.2M290.4 1645h7.1M998.4 1645h-7.1M290.4 1612.4h7.1M998.4 1612.4h-7.1M290.4 1579.8h7.1M998.4 1579.8h-7.1M290.4 1547.2h7.1M998.4 1547.2h-7.1M290.4 1514.6h14.2M998.4 1514.6h-14.2M290.4 1482h7.1M998.4 1482h-7.1M290.4 1449.4h7.1M998.4 1449.4h-7.1M290.4 1416.8h7.1M998.4 1416.8h-7.1M290.4 1384.2h7.1M998.4 1384.2h-7.1M290.4 1351.6h14.2M998.4 1351.6h-14.2M290.4 1319h7.1M998.4 1319h-7.1M290.4 1286.4h7.1M998.4 1286.4h-7.1M290.4 1253.8h7.1M998.4 1253.8h-7.1M290.4 1221.2h7.1M998.4 1221.2h-7.1M290.4 1188.6h14.2M998.4 1188.6h-14.2M290.4 1156h7.1M998.4 1156h-7.1M290.4 1123.4h7.1M998.4 1123.4h-7.1M290.4 1090.8h7.1M998.4 1090.8h-7.1" stroke="#111" stroke-width="3.9" fill="none"/>
<rect x="290.4" y="1078.8" width="708" height="604.1" fill="none" stroke="#111" stroke-width="4.2"/>
<text class="s" transform="translate(276.8 1203.5)" x="-67.5" font-size="39.5" textLength="67.5" lengthAdjust="spacingAndGlyphs">100</text>
<text class="s" transform="translate(276.8 1366.5)" x="-45" font-size="39.5" textLength="45" lengthAdjust="spacingAndGlyphs">50</text>
<text class="s" transform="translate(276.8 1529.5)" x="-22.5" font-size="39.5" textLength="22.5" lengthAdjust="spacingAndGlyphs">0</text>
<text class="s" transform="translate(276.8 1683.4)" x="-70.4" font-size="39.5" textLength="70.4" lengthAdjust="spacingAndGlyphs">−50</text>
<text class="s" transform="translate(329.7 1736.3)" x="-45" font-size="39.5" textLength="90.1" lengthAdjust="spacingAndGlyphs">3200</text>
<text class="s" transform="translate(487.2 1736.3)" x="-45" font-size="39.5" textLength="90.1" lengthAdjust="spacingAndGlyphs">3400</text>
<text class="s" transform="translate(644.6 1736.3)" x="-45" font-size="39.5" textLength="90.1" lengthAdjust="spacingAndGlyphs">3600</text>
<text class="s" transform="translate(802.1 1736.3)" x="-45" font-size="39.5" textLength="90.1" lengthAdjust="spacingAndGlyphs">3800</text>
<text class="s" transform="translate(959.5 1736.3)" x="-45" font-size="39.5" textLength="90.1" lengthAdjust="spacingAndGlyphs">4000</text>
<g transform="translate(170.2 1617.1) rotate(-90)"><text class="s" x="0" y="0" font-size="39" textLength="68" lengthAdjust="spacingAndGlyphs">flux</text><text class="s" x="73.5" y="0" font-size="39">[</text><text class="s" x="92.5" y="0" font-size="39" textLength="41" lengthAdjust="spacingAndGlyphs">10</text><text class="hb" x="137" y="-16.8" font-size="19.5" textLength="41" lengthAdjust="spacingAndGlyphs">−17</text><text class="s" x="183.5" y="0" font-size="39" textLength="61" lengthAdjust="spacingAndGlyphs">erg</text><text class="s" x="267" y="0" font-size="39" textLength="15" lengthAdjust="spacingAndGlyphs">s</text><text class="hb" x="287.5" y="-16.8" font-size="19.5" textLength="27.5" lengthAdjust="spacingAndGlyphs">−1</text><text class="s" x="319.5" y="0" font-size="39" textLength="43.5" lengthAdjust="spacingAndGlyphs">cm</text><text class="hb" x="366.5" y="-16.8" font-size="19.5" textLength="30" lengthAdjust="spacingAndGlyphs">−2</text><text class="s" x="390.5" y="-18" font-size="25">°</text><text class="s" x="406" y="0" font-size="39" textLength="25" lengthAdjust="spacingAndGlyphs">A</text><text class="hb" x="431" y="-16.8" font-size="19.5" textLength="21" lengthAdjust="spacingAndGlyphs">−1</text><text class="s" x="454.5" y="0" font-size="39">]</text></g>
<g transform="translate(590.5 1780.9)"><text class="s" x="0" y="0" font-size="38" textLength="16.5" lengthAdjust="spacingAndGlyphs">λ</text><text class="sb" x="19" y="9.8" font-size="25" textLength="33.5" lengthAdjust="spacingAndGlyphs">r.f.</text><text class="s" x="54.5" y="2" font-size="45">[</text><text class="s" x="70.8" y="-18" font-size="25">°</text><text class="sb" x="70.2" y="0.5" font-size="37.5" textLength="22.5" lengthAdjust="spacingAndGlyphs">A</text><text class="s" x="91" y="2" font-size="45">]</text></g>
<clipPath id="cbm"><rect x="1197.8" y="1078.8" width="708" height="604.1"/></clipPath><g clip-path="url(#cbm)">
<path d="M1197.8 1669.6 1199.6 1669.6 1201.3 1669.6 1203.1 1669.6 1204.9 1669.6 1206.6 1669.6 1208.4 1669.6 1210.2 1669.6 1211.9 1669.6 1213.7 1669.6 1215.5 1669.6 1217.2 1669.6 1219 1669.6 1220.8 1669.6 1222.6 1669.6 1224.3 1669.6 1226.1 1669.6 1227.9 1669.6 1229.6 1669.6 1231.4 1669.5 1233.2 1669.5 1234.9 1669.5 1236.7 1669.5 1238.5 1669.5 1240.2 1669.5 1242 1669.5 1243.8 1669.5 1245.5 1669.5 1247.3 1669.5 1249.1 1669.5 1250.8 1669.5 1252.6 1669.5 1254.4 1669.5 1256.1 1669.5 1257.9 1669.5 1259.7 1669.5 1261.4 1669.5 1263.2 1669.5 1265 1669.5 1266.8 1669.5 1268.5 1669.5 1270.3 1669.5 1272.1 1669.5 1273.8 1669.4 1275.6 1669.4 1277.4 1669.4 1279.1 1669.4 1280.9 1669.4 1282.7 1669.4 1284.4 1669.4 1286.2 1669.4 1288 1669.4 1289.7 1669.4 1291.5 1669.3 1293.3 1669.3 1295 1669.3 1296.8 1669.3 1298.6 1669.3 1300.3 1669.3 1302.1 1669.3 1303.9 1669.2 1305.6 1669.2 1307.4 1669.2 1309.2 1669.2 1311 1669.2 1312.7 1669.1 1314.5 1669.1 1316.3 1669.1 1318 1669.1 1319.8 1669.1 1321.6 1669 1323.3 1669 1325.1 1669 1326.9 1668.9 1328.6 1668.9 1330.4 1668.9 1332.2 1668.8 1333.9 1668.8 1335.7 1668.8 1337.5 1668.7 1339.2 1668.7 1341 1668.6 1342.8 1668.6 1344.5 1668.6 1346.3 1668.5 1348.1 1668.5 1349.8 1668.4 1351.6 1668.4 1353.4 1668.3 1355.2 1668.2 1356.9 1668.2 1358.7 1668.1 1360.5 1668.1 1362.2 1668 1364 1667.9 1365.8 1667.9 1367.5 1667.8 1369.3 1667.7 1371.1 1667.6 1372.8 1667.5 1374.6 1667.5 1376.4 1667.4 1378.1 1667.3 1379.9 1667.2 1381.7 1667.1 1383.4 1667 1385.2 1666.9 1387 1666.8 1388.7 1666.7 1390.5 1666.6 1392.3 1666.5 1394 1666.4 1395.8 1666.2 1397.6 1666.1 1399.4 1666 1401.1 1665.8 1402.9 1665.7 1404.7 1665.6 1406.4 1665.4 1408.2 1665.3 1410 1665.1 1411.7 1665 1413.5 1664.8 1415.3 1664.7 1417 1664.5 1418.8 1664.3 1420.6 1664.2 1422.3 1664 1424.1 1663.8 1425.9 1663.6 1427.6 1663.4 1429.4 1663.2 1431.2 1663 1432.9 1662.8 1434.7 1662.6 1436.5 1662.4 1438.2 1662.2 1440 1662 1441.8 1661.8 1443.6 1661.5 1445.3 1661.3 1447.1 1661.1 1448.9 1660.8 1450.6 1660.6 1452.4 1660.3 1454.2 1660.1 1455.9 1659.8 1457.7 1659.6 1459.5 1659.3 1461.2 1659 1463 1658.8 1464.8 1658.5 1466.5 1658.2 1468.3 1657.9 1470.1 1657.6 1471.8 1657.3 1473.6 1657.1 1475.4 1656.8 1477.1 1656.5 1478.9 1656.2 1480.7 1655.9 1482.4 1655.5 1484.2 1655.2 1486 1654.9 1487.8 1654.6 1489.5 1654.3 1491.3 1654 1493.1 1653.7 1494.8 1653.3 1496.6 1653 1498.4 1652.7 1500.1 1652.4 1501.9 1652 1503.7 1651.7 1505.4 1651.4 1507.2 1651 1509 1650.7 1510.7 1650.4 1512.5 1650.1 1514.3 1649.7 1516 1649.4 1517.8 1649.1 1519.6 1648.7 1521.3 1648.4 1523.1 1648.1 1524.9 1647.8 1526.6 1647.4 1528.4 1647.1 1530.2 1646.8 1532 1646.5 1533.7 1646.2 1535.5 1645.9 1537.3 1645.5 1539 1645.2 1540.8 1644.9 1542.6 1644.6 1544.3 1644.3 1546.1 1644.1 1547.9 1643.8 1549.6 1643.5 1551.4 1643.2 1553.2 1642.9 1554.9 1642.7 1556.7 1642.4 1558.5 1642.2 1560.2 1641.9 1562 1641.7 1563.8 1641.4 1565.5 1641.2 1567.3 1641 1569.1 1640.8 1570.8 1640.6 1572.6 1640.4 1574.4 1640.2 1576.2 1640 1577.9 1639.8 1579.7 1639.6 1581.5 1639.5 1583.2 1639.3 1585 1639.2 1586.8 1639 1588.5 1638.9 1590.3 1638.8 1592.1 1638.6 1593.8 1638.5 1595.6 1638.4 1597.4 1638.4 1599.1 1638.3 1600.9 1638.2 1602.7 1638.2 1604.4 1638.1 1606.2 1638.1 1608 1638 1609.7 1638 1611.5 1638 1613.3 1638 1615 1638 1616.8 1638 1618.6 1638 1620.4 1638.1 1622.1 1638.1 1623.9 1638.2 1625.7 1638.2 1627.4 1638.3 1629.2 1638.4 1631 1638.5 1632.7 1638.6 1634.5 1638.7 1636.3 1638.8 1638 1638.9 1639.8 1639 1641.6 1639.2 1643.3 1639.3 1645.1 1639.5 1646.9 1639.7 1648.6 1639.8 1650.4 1640 1652.2 1640.2 1653.9 1640.4 1655.7 1640.6 1657.5 1640.8 1659.2 1641 1661 1641.3 1662.8 1641.5 1664.6 1641.7 1666.3 1642 1668.1 1642.2 1669.9 1642.5 1671.6 1642.7 1673.4 1643 1675.2 1643.3 1676.9 1643.6 1678.7 1643.8 1680.5 1644.1 1682.2 1644.4 1684 1644.7 1685.8 1645 1687.5 1645.3 1689.3 1645.6 1691.1 1645.9 1692.8 1646.2 1694.6 1646.6 1696.4 1646.9 1698.1 1647.2 1699.9 1647.5 1701.7 1647.8 1703.4 1648.2 1705.2 1648.5 1707 1648.8 1708.8 1649.1 1710.5 1649.5 1712.3 1649.8 1714.1 1650.1 1715.8 1650.5 1717.6 1650.8 1719.4 1651.1 1721.1 1651.5 1722.9 1651.8 1724.7 1652.1 1726.4 1652.4 1728.2 1652.8 1730 1653.1 1731.7 1653.4 1733.5 1653.7 1735.3 1654.1 1737 1654.4 1738.8 1654.7 1740.6 1655 1742.3 1655.3 1744.1 1655.6 1745.9 1655.9 1747.6 1656.2 1749.4 1656.5 1751.2 1656.8 1753 1657.1 1754.7 1657.4 1756.5 1657.7 1758.3 1658 1760 1658.3 1761.8 1658.5 1763.6 1658.8 1765.3 1659.1 1767.1 1659.4 1768.9 1659.6 1770.6 1659.9 1772.4 1660.1 1774.2 1660.4 1775.9 1660.6 1777.7 1660.9 1779.5 1661.1 1781.2 1661.3 1783 1661.6 1784.8 1661.8 1786.5 1662 1788.3 1662.2 1790.1 1662.5 1791.8 1662.7 1793.6 1662.9 1795.4 1663.1 1797.2 1663.3 1798.9 1663.5 1800.7 1663.7 1802.5 1663.8 1804.2 1664 1806 1664.2 1807.8 1664.4 1809.5 1664.5 1811.3 1664.7 1813.1 1664.9 1814.8 1665 1816.6 1665.2 1818.4 1665.3 1820.1 1665.5 1821.9 1665.6 1823.7 1665.7 1825.4 1665.9 1827.2 1666 1829 1666.1 1830.7 1666.3 1832.5 1666.4 1834.3 1666.5 1836 1666.6 1837.8 1666.7 1839.6 1666.8 1841.4 1666.9 1843.1 1667 1844.9 1667.1 1846.7 1667.2 1848.4 1667.3 1850.2 1667.4 1852 1667.5 1853.7 1667.6 1855.5 1667.6 1857.3 1667.7 1859 1667.8 1860.8 1667.9 1862.6 1667.9 1864.3 1668 1866.1 1668.1 1867.9 1668.1 1869.6 1668.2 1871.4 1668.3 1873.2 1668.3 1874.9 1668.4 1876.7 1668.4 1878.5 1668.5 1880.2 1668.5 1882 1668.6 1883.8 1668.6 1885.6 1668.7 1887.3 1668.7 1889.1 1668.7 1890.9 1668.8 1892.6 1668.8 1894.4 1668.8 1896.2 1668.9 1897.9 1668.9 1899.7 1668.9 1901.5 1669 1903.2 1669 1905 1669" fill="none" stroke="#30d065" stroke-width="3.3" stroke-linejoin="round" stroke-linecap="butt"/>
<path d="M1197.8 1669.6 1199.6 1669.6 1201.3 1669.6 1203.1 1669.6 1204.9 1669.6 1206.6 1669.6 1208.4 1669.6 1210.2 1669.6 1211.9 1669.6 1213.7 1669.6 1215.5 1669.6 1217.2 1669.6 1219 1669.6 1220.8 1669.6 1222.6 1669.6 1224.3 1669.6 1226.1 1669.6 1227.9 1669.6 1229.6 1669.6 1231.4 1669.6 1233.2 1669.6 1234.9 1669.6 1236.7 1669.6 1238.5 1669.6 1240.2 1669.6 1242 1669.6 1243.8 1669.6 1245.5 1669.6 1247.3 1669.6 1249.1 1669.6 1250.8 1669.6 1252.6 1669.6 1254.4 1669.6 1256.1 1669.6 1257.9 1669.6 1259.7 1669.6 1261.4 1669.6 1263.2 1669.6 1265 1669.6 1266.8 1669.6 1268.5 1669.6 1270.3 1669.6 1272.1 1669.6 1273.8 1669.6 1275.6 1669.6 1277.4 1669.6 1279.1 1669.6 1280.9 1669.6 1282.7 1669.6 1284.4 1669.6 1286.2 1669.6 1288 1669.6 1289.7 1669.6 1291.5 1669.6 1293.3 1669.6 1295 1669.6 1296.8 1669.6 1298.6 1669.6 1300.3 1669.6 1302.1 1669.6 1303.9 1669.6 1305.6 1669.6 1307.4 1669.6 1309.2 1669.6 1311 1669.6 1312.7 1669.6 1314.5 1669.6 1316.3 1669.6 1318 1669.6 1319.8 1669.6 1321.6 1669.6 1323.3 1669.6 1325.1 1669.6 1326.9 1669.6 1328.6 1669.6 1330.4 1669.6 1332.2 1669.6 1333.9 1669.6 1335.7 1669.6 1337.5 1669.6 1339.2 1669.6 1341 1669.6 1342.8 1669.6 1344.5 1669.6 1346.3 1669.6 1348.1 1669.6 1349.8 1669.6 1351.6 1669.6 1353.4 1669.6 1355.2 1669.6 1356.9 1669.6 1358.7 1669.6 1360.5 1669.6 1362.2 1669.6 1364 1669.6 1365.8 1669.6 1367.5 1669.6 1369.3 1669.6 1371.1 1669.6 1372.8 1669.6 1374.6 1669.6 1376.4 1669.6 1378.1 1669.6 1379.9 1669.6 1381.7 1669.6 1383.4 1669.6 1385.2 1669.6 1387 1669.6 1388.7 1669.6 1390.5 1669.6 1392.3 1669.6 1394 1669.6 1395.8 1669.6 1397.6 1669.6 1399.4 1669.6 1401.1 1669.6 1402.9 1669.6 1404.7 1669.6 1406.4 1669.6 1408.2 1669.6 1410 1669.6 1411.7 1669.6 1413.5 1669.6 1415.3 1669.6 1417 1669.6 1418.8 1669.6 1420.6 1669.6 1422.3 1669.6 1424.1 1669.6 1425.9 1669.6 1427.6 1669.6 1429.4 1669.6 1431.2 1669.6 1432.9 1669.6 1434.7 1669.6 1436.5 1669.6 1438.2 1669.6 1440 1669.6 1441.8 1669.6 1443.6 1669.6 1445.3 1669.6 1447.1 1669.6 1448.9 1669.6 1450.6 1669.5 1452.4 1669.5 1454.2 1669.5 1455.9 1669.5 1457.7 1669.5 1459.5 1669.5 1461.2 1669.5 1463 1669.5 1464.8 1669.4 1466.5 1669.4 1468.3 1669.4 1470.1 1669.4 1471.8 1669.3 1473.6 1669.3 1475.4 1669.2 1477.1 1669.2 1478.9 1669.1 1480.7 1669 1482.4 1669 1484.2 1668.9 1486 1668.8 1487.8 1668.7 1489.5 1668.6 1491.3 1668.5 1493.1 1668.3 1494.8 1668.2 1496.6 1668.1 1498.4 1667.9 1500.1 1667.7 1501.9 1667.5 1503.7 1667.4 1505.4 1667.2 1507.2 1667 1509 1666.7 1510.7 1666.5 1512.5 1666.3 1514.3 1666.1 1516 1665.8 1517.8 1665.6 1519.6 1665.4 1521.3 1665.1 1523.1 1664.9 1524.9 1664.7 1526.6 1664.4 1528.4 1664.2 1530.2 1664 1532 1663.8 1533.7 1663.7 1535.5 1663.5 1537.3 1663.4 1539 1663.2 1540.8 1663.1 1542.6 1663.1 1544.3 1663 1546.1 1663 1547.9 1662.9 1549.6 1662.9 1551.4 1663 1553.2 1663 1554.9 1663.1 1556.7 1663.2 1558.5 1663.3 1560.2 1663.4 1562 1663.6 1563.8 1663.8 1565.5 1664 1567.3 1664.2 1569.1 1664.4 1570.8 1664.6 1572.6 1664.8 1574.4 1665 1576.2 1665.3 1577.9 1665.5 1579.7 1665.7 1581.5 1666 1583.2 1666.2 1585 1666.4 1586.8 1666.7 1588.5 1666.9 1590.3 1667.1 1592.1 1667.3 1593.8 1667.5 1595.6 1667.7 1597.4 1667.8 1599.1 1668 1600.9 1668.2 1602.7 1668.3 1604.4 1668.4 1606.2 1668.5 1608 1668.7 1609.7 1668.8 1611.5 1668.9 1613.3 1668.9 1615 1669 1616.8 1669.1 1618.6 1669.2 1620.4 1669.2 1622.1 1669.3 1623.9 1669.3 1625.7 1669.3 1627.4 1669.4 1629.2 1669.4 1631 1669.4 1632.7 1669.5 1634.5 1669.5 1636.3 1669.5 1638 1669.5 1639.8 1669.5 1641.6 1669.5 1643.3 1669.5 1645.1 1669.5 1646.9 1669.5 1648.6 1669.6 1650.4 1669.6 1652.2 1669.6 1653.9 1669.6 1655.7 1669.6 1657.5 1669.6 1659.2 1669.6 1661 1669.6 1662.8 1669.6 1664.6 1669.6 1666.3 1669.6 1668.1 1669.6 1669.9 1669.6 1671.6 1669.6 1673.4 1669.6 1675.2 1669.6 1676.9 1669.6 1678.7 1669.6 1680.5 1669.6 1682.2 1669.6 1684 1669.6 1685.8 1669.6 1687.5 1669.6 1689.3 1669.6 1691.1 1669.6 1692.8 1669.6 1694.6 1669.6 1696.4 1669.6 1698.1 1669.6 1699.9 1669.6 1701.7 1669.6 1703.4 1669.6 1705.2 1669.6 1707 1669.6 1708.8 1669.6 1710.5 1669.6 1712.3 1669.6 1714.1 1669.6 1715.8 1669.6 1717.6 1669.6 1719.4 1669.6 1721.1 1669.6 1722.9 1669.6 1724.7 1669.6 1726.4 1669.6 1728.2 1669.6 1730 1669.6 1731.7 1669.6 1733.5 1669.6 1735.3 1669.6 1737 1669.6 1738.8 1669.6 1740.6 1669.6 1742.3 1669.6 1744.1 1669.6 1745.9 1669.6 1747.6 1669.6 1749.4 1669.6 1751.2 1669.6 1753 1669.6 1754.7 1669.6 1756.5 1669.6 1758.3 1669.6 1760 1669.6 1761.8 1669.6 1763.6 1669.6 1765.3 1669.6 1767.1 1669.6 1768.9 1669.6 1770.6 1669.6 1772.4 1669.6 1774.2 1669.6 1775.9 1669.6 1777.7 1669.6 1779.5 1669.6 1781.2 1669.6 1783 1669.6 1784.8 1669.6 1786.5 1669.6 1788.3 1669.6 1790.1 1669.6 1791.8 1669.6 1793.6 1669.6 1795.4 1669.6 1797.2 1669.6 1798.9 1669.6 1800.7 1669.6 1802.5 1669.6 1804.2 1669.6 1806 1669.6 1807.8 1669.6 1809.5 1669.6 1811.3 1669.6 1813.1 1669.6 1814.8 1669.6 1816.6 1669.6 1818.4 1669.6 1820.1 1669.6 1821.9 1669.6 1823.7 1669.6 1825.4 1669.6 1827.2 1669.6 1829 1669.6 1830.7 1669.6 1832.5 1669.6 1834.3 1669.6 1836 1669.6 1837.8 1669.6 1839.6 1669.6 1841.4 1669.6 1843.1 1669.6 1844.9 1669.6 1846.7 1669.6 1848.4 1669.6 1850.2 1669.6 1852 1669.6 1853.7 1669.6 1855.5 1669.6 1857.3 1669.6 1859 1669.6 1860.8 1669.6 1862.6 1669.6 1864.3 1669.6 1866.1 1669.6 1867.9 1669.6 1869.6 1669.6 1871.4 1669.6 1873.2 1669.6 1874.9 1669.6 1876.7 1669.6 1878.5 1669.6 1880.2 1669.6 1882 1669.6 1883.8 1669.6 1885.6 1669.6 1887.3 1669.6 1889.1 1669.6 1890.9 1669.6 1892.6 1669.6 1894.4 1669.6 1896.2 1669.6 1897.9 1669.6 1899.7 1669.6 1901.5 1669.6 1903.2 1669.6 1905 1669.6" fill="none" stroke="#30d065" stroke-width="3.3" stroke-linejoin="round" stroke-linecap="butt"/>
<path d="M1197.8 1669.6 1905.8 1669.6" fill="none" stroke="#0a4ff0" stroke-width="3.3" stroke-linejoin="round" stroke-linecap="butt"/>
<path d="M1229.1 1669.6 1229.9 1669.6 1230.8 1669.6 1231.7 1669.6 1232.6 1669.6 1233.5 1669.6 1234.4 1669.6 1235.2 1669.6 1236.1 1669.6 1237 1669.6 1237.9 1669.6 1238.8 1669.5 1239.7 1669.5 1240.5 1669.5 1241.4 1669.4 1242.3 1669.4 1243.2 1669.3 1244.1 1669.2 1245 1669.1 1245.9 1669 1246.7 1668.8 1247.6 1668.6 1248.5 1668.3 1249.4 1668 1250.3 1667.7 1251.2 1667.3 1252 1666.9 1252.9 1666.5 1253.8 1666.1 1254.7 1665.6 1255.6 1665.2 1256.5 1664.8 1257.3 1664.5 1258.2 1664.2 1259.1 1664 1260 1663.8 1260.9 1663.8 1261.8 1663.8 1262.6 1664 1263.5 1664.2 1264.4 1664.5 1265.3 1664.8 1266.2 1665.2 1267.1 1665.6 1268 1666.1 1268.8 1666.5 1269.7 1666.9 1270.6 1667.3 1271.5 1667.7 1272.4 1668 1273.3 1668.3 1274.1 1668.6 1275 1668.8 1275.9 1669 1276.8 1669.1 1277.7 1669.2 1278.6 1669.3 1279.4 1669.4 1280.3 1669.4 1281.2 1669.5 1282.1 1669.5 1283 1669.5 1283.9 1669.6 1284.7 1669.6 1285.6 1669.6 1286.5 1669.6 1287.4 1669.6 1288.3 1669.6 1289.2 1669.6 1290.1 1669.6 1290.9 1669.6 1291.8 1669.6 1292.7 1669.6" fill="none" stroke="#0a4ff0" stroke-width="3.3" stroke-linejoin="round" stroke-linecap="butt"/>
<path d="M1545.9 1669.6 1546.8 1669.6 1547.6 1669.6 1548.5 1669.6 1549.4 1669.6 1550.3 1669.5 1551.2 1669.5 1552.1 1669.5 1553 1669.4 1553.8 1669.3 1554.7 1669.1 1555.6 1668.9 1556.5 1668.5 1557.4 1668 1558.3 1667.2 1559.1 1666.2 1560 1665 1560.9 1663.3 1561.8 1661.3 1562.7 1659 1563.6 1656.3 1564.4 1653.3 1565.3 1650.1 1566.2 1646.9 1567.1 1643.8 1568 1640.9 1568.9 1638.5 1569.7 1636.7 1570.6 1635.7 1571.5 1635.4 1572.4 1636 1573.3 1637.4 1574.2 1639.4 1575.1 1642 1575.9 1645 1576.8 1648.2 1577.7 1651.4 1578.6 1654.5 1579.5 1657.4 1580.4 1660 1581.2 1662.2 1582.1 1664 1583 1665.5 1583.9 1666.7 1584.8 1667.5 1585.7 1668.2 1586.5 1668.7 1587.4 1669 1588.3 1669.2 1589.2 1669.3 1590.1 1669.4 1591 1669.5 1591.8 1669.5 1592.7 1669.6 1593.6 1669.6 1594.5 1669.6 1595.4 1669.6 1596.3 1669.6 1597.2 1669.6" fill="none" stroke="#0a4ff0" stroke-width="3.3" stroke-linejoin="round" stroke-linecap="butt"/>
<path d="M1717.6 1669.6 1718.4 1669.6 1719.3 1669.6 1720.2 1669.6 1721.1 1669.5 1722 1669.5 1722.9 1669.4 1723.7 1669.3 1724.6 1669.2 1725.5 1669 1726.4 1668.6 1727.3 1668.1 1728.2 1667.3 1729 1666.2 1729.9 1664.8 1730.8 1662.7 1731.7 1660.1 1732.6 1656.7 1733.5 1652.5 1734.4 1647.4 1735.2 1641.4 1736.1 1634.5 1737 1626.9 1737.9 1618.7 1738.8 1610.3 1739.7 1601.9 1740.5 1594 1741.4 1587 1742.3 1581.3 1743.2 1577.2 1744.1 1575 1745 1574.8 1745.8 1576.6 1746.7 1580.4 1747.6 1585.8 1748.5 1592.6 1749.4 1600.3 1750.3 1608.6 1751.1 1617.1 1752 1625.3 1752.9 1633.1 1753.8 1640.1 1754.7 1646.3 1755.6 1651.6 1756.5 1656 1757.3 1659.5 1758.2 1662.3 1759.1 1664.4 1760 1666 1760.9 1667.1 1761.8 1668 1762.6 1668.5 1763.5 1668.9 1764.4 1669.2 1765.3 1669.3 1766.2 1669.4 1767.1 1669.5 1767.9 1669.5 1768.8 1669.6 1769.7 1669.6 1770.6 1669.6 1771.5 1669.6" fill="none" stroke="#0a4ff0" stroke-width="3.3" stroke-linejoin="round" stroke-linecap="butt"/>
<path d="M1800.5 1669.6 1801.4 1669.6 1802.2 1669.5 1803.1 1669.5 1804 1669.5 1804.9 1669.4 1805.8 1669.3 1806.7 1669 1807.5 1668.7 1808.4 1668.2 1809.3 1667.4 1810.2 1666.3 1811.1 1664.7 1812 1662.4 1812.8 1659.2 1813.7 1654.9 1814.6 1649.2 1815.5 1641.9 1816.4 1632.7 1817.3 1621.4 1818.2 1607.7 1819 1591.8 1819.9 1573.6 1820.8 1553.4 1821.7 1531.6 1822.6 1508.9 1823.5 1486 1824.3 1463.9 1825.2 1443.5 1826.1 1425.8 1827 1411.8 1827.9 1402.2 1828.8 1397.5 1829.6 1398 1830.5 1403.7 1831.4 1414.3 1832.3 1429.1 1833.2 1447.4 1834.1 1468.2 1834.9 1490.5 1835.8 1513.5 1836.7 1536 1837.6 1557.5 1838.5 1577.4 1839.4 1595.1 1840.3 1610.6 1841.1 1623.8 1842 1634.7 1842.9 1643.5 1843.8 1650.5 1844.7 1655.8 1845.6 1659.9 1846.4 1662.9 1847.3 1665 1848.2 1666.6 1849.1 1667.6 1850 1668.3 1850.9 1668.8 1851.7 1669.1 1852.6 1669.3 1853.5 1669.4 1854.4 1669.5 1855.3 1669.5 1856.2 1669.5 1857 1669.6 1857.9 1669.6" fill="none" stroke="#0a4ff0" stroke-width="3.3" stroke-linejoin="round" stroke-linecap="butt"/>
<path d="M1195.5 1515.5 1908 1515.5" fill="none" stroke="#111" stroke-width="3.3" stroke-linejoin="round" stroke-linecap="butt" stroke-dasharray="3.3 13.2"/>
<path d="M1195.5 1521.3 1197.4 1519.7 1199.4 1519.3 1201.3 1520.4 1203.2 1520.5 1205.2 1519 1207.1 1517.6 1209.1 1516.4 1211 1516.1 1213 1518 1214.9 1519.2 1216.9 1518.3 1218.8 1517.4 1220.7 1516.2 1222.7 1515.2 1224.6 1515.1 1226.6 1515.3 1228.5 1516.7 1230.5 1517.4 1232.4 1515.6 1234.4 1513.8 1236.3 1514.6 1238.2 1515.4 1240.2 1514.6 1242.1 1513.7 1244.1 1514.2 1246 1514.9 1248 1516 1249.9 1517 1251.9 1516.8 1253.8 1516.3 1255.8 1515.2 1257.7 1513.8 1259.6 1514.9 1261.6 1517 1263.5 1517.2 1265.5 1516.5 1267.4 1515.7 1269.4 1514.9 1271.3 1514.4 1273.3 1514.1 1275.2 1514.1 1277.1 1514.2 1279.1 1515.1 1281 1516.8 1283 1516.5 1284.9 1513.9 1286.9 1513.1 1288.8 1514.7 1290.8 1515.7 1292.7 1515.6 1294.6 1515.5 1296.6 1515.5 1298.5 1515.5 1300.5 1515.7 1302.4 1516 1304.4 1516.5 1306.3 1516.8 1308.3 1516.4 1310.2 1515.8 1312.2 1514.6 1314.1 1513.7 1316 1515.7 1318 1517.5 1319.9 1518.3 1321.9 1519.1 1323.8 1516.9 1325.8 1514.8 1327.7 1514.9 1329.7 1515 1331.6 1514.8 1333.5 1514.5 1335.5 1513.8 1337.4 1513.1 1339.4 1514.4 1341.3 1516.1 1343.3 1516 1345.2 1515.4 1347.2 1515.1 1349.1 1514.9 1351 1514.4 1353 1513.9 1354.9 1513.8 1356.9 1514 1358.8 1514.8 1360.8 1516.1 1362.7 1516.9 1364.7 1517.3 1366.6 1517.1 1368.6 1516.3 1370.5 1516.3 1372.4 1517.3 1374.4 1517 1376.3 1515.1 1378.3 1514.3 1380.2 1515.3 1382.2 1516.1 1384.1 1516 1386.1 1516.1 1388 1516.5 1389.9 1516.4 1391.9 1514.7 1393.8 1513.5 1395.8 1514.3 1397.7 1515.2 1399.7 1515.7 1401.6 1516 1403.6 1515.3 1405.5 1514.6 1407.4 1515.1 1409.4 1515.6 1411.3 1515.1 1413.3 1514.6 1415.2 1514.1 1417.2 1513.6 1419.1 1514.6 1421.1 1515.7 1423 1515.4 1425 1514.8 1426.9 1514.7 1428.8 1514.8 1430.8 1514.4 1432.7 1513.9 1434.7 1514.1 1436.6 1514.5 1438.6 1514.9 1440.5 1515.3 1442.5 1515.8 1444.4 1516.3 1446.3 1516.1 1448.3 1515.4 1450.2 1515.6 1452.2 1516.6 1454.1 1516.5 1456.1 1515.2 1458 1514.7 1460 1515.1 1461.9 1515.3 1463.8 1514.9 1465.8 1514.9 1467.7 1515.8 1469.7 1516.4 1471.6 1516.6 1473.6 1516.8 1475.5 1516.9 1477.5 1516.6 1479.4 1515 1481.3 1514 1483.3 1515 1485.2 1515.8 1487.2 1515.9 1489.1 1516 1491.1 1517.2 1493 1518.3 1495 1516.9 1496.9 1515.6 1498.9 1518.3 1500.8 1521.1 1502.7 1517.5 1504.7 1513.5 1506.6 1514.4 1508.6 1515.7 1510.5 1515.7 1512.5 1515.6 1514.4 1516.5 1516.4 1517.7 1518.3 1517.7 1520.2 1517.4 1522.2 1516.3 1524.1 1514.9 1526.1 1514.9 1528 1515.6 1530 1515.5 1531.9 1515 1533.9 1514.3 1535.8 1513.6 1537.7 1513.6 1539.7 1514.1 1541.6 1515.4 1543.6 1517.7 1545.5 1518.5 1547.5 1517.7 1549.4 1517.3 1551.4 1517.5 1553.3 1517.5 1555.3 1517.3 1557.2 1517.5 1559.1 1518.6 1561.1 1519.4 1563 1519.5 1565 1519.4 1566.9 1518.1 1568.9 1517.1 1570.8 1516.9 1572.8 1516.6 1574.7 1515.5 1576.6 1514.5 1578.6 1515.3 1580.5 1516.1 1582.5 1514.5 1584.4 1512.9 1586.4 1515.9 1588.3 1519 1590.3 1518.9 1592.2 1518.5 1594.1 1516.2 1596.1 1513.8 1598 1513.1 1600 1512.6 1601.9 1512.6 1603.9 1513.1 1605.8 1511.8 1607.8 1510 1609.7 1509.2 1611.7 1508.4 1613.6 1507.6 1615.5 1506.9 1617.5 1507.2 1619.4 1508.2 1621.4 1508.2 1623.3 1508.4 1625.3 1508.6 1627.2 1508.9 1629.2 1509.3 1631.1 1510.1 1633 1510.6 1635 1510.6 1636.9 1511.4 1638.9 1513.4 1640.8 1514.8 1642.8 1514.5 1644.7 1515.1 1646.7 1517.6 1648.6 1518.8 1650.5 1516.8 1652.5 1515.2 1654.4 1514.4 1656.4 1514 1658.3 1515.2 1660.3 1516.1 1662.2 1515.2 1664.2 1514.1 1666.1 1516.1 1668.1 1518.1 1670 1517 1671.9 1516 1673.9 1516.9 1675.8 1517.9 1677.8 1516.6 1679.7 1515.1 1681.7 1514.9 1683.6 1514.7 1685.6 1515.9 1687.5 1517.3 1689.4 1517.3 1691.4 1516.9 1693.3 1516.6 1695.3 1516.4 1697.2 1514.8 1699.2 1512.6 1701.1 1513.1 1703.1 1514.9 1705 1515.5 1706.9 1515.4 1708.9 1515.2 1710.8 1515 1712.8 1515 1714.7 1515 1716.7 1515.3 1718.6 1515.6 1720.6 1516.2 1722.5 1517 1724.4 1517.3 1726.4 1516.9 1728.3 1515.9 1730.3 1514.1 1732.2 1513.1 1734.2 1514.2 1736.1 1515.7 1738.1 1515.9 1740 1516.7 1742 1517.9 1743.9 1518.7 1745.8 1517.1 1747.8 1515.6 1749.7 1515.5 1751.7 1515.5 1753.6 1516.7 1755.6 1516.6 1757.5 1515.3 1759.5 1514.1 1761.4 1515.2 1763.3 1516.3 1765.3 1516.1 1767.2 1515.8 1769.2 1515.1 1771.1 1514.4 1773.1 1514.7 1775 1515.1 1777 1514.7 1778.9 1514.1 1780.8 1514.7 1782.8 1515.6 1784.7 1515.9 1786.7 1516.1 1788.6 1515.7 1790.6 1515.1 1792.5 1515 1794.5 1515.1 1796.4 1514.8 1798.4 1514.2 1800.3 1514.1 1802.2 1514.7 1804.2 1515.1 1806.1 1515.4 1808.1 1515.4 1810 1515 1812 1514.7 1813.9 1514.9 1815.9 1515 1817.8 1516.8 1819.7 1517.8 1821.7 1516.5 1823.6 1513.4 1825.6 1501.6 1827.5 1490.2 1829.5 1482.8 1831.4 1486.5 1833.4 1512.2 1835.3 1517 1837.2 1514.7 1839.2 1512.8 1841.1 1515.4 1843.1 1517.9 1845 1516.7 1847 1515.6 1848.9 1514.8 1850.9 1514 1852.8 1515.1 1854.8 1515.8 1856.7 1515 1858.6 1514.1 1860.6 1515.7 1862.5 1517.8 1864.5 1517.1 1866.4 1515.8 1868.4 1515.4 1870.3 1515.3 1872.3 1515.4 1874.2 1515.6 1876.1 1516.2 1878.1 1517.1 1880 1516.6 1882 1515.2 1883.9 1515.8 1885.9 1517.6 1887.8 1517.4 1889.8 1515.3 1891.7 1514.5 1893.6 1514.9 1895.6 1514.9 1897.5 1514.5 1899.5 1514.6 1901.4 1515.3 1903.4 1516 1905.3 1516.5 1907.3 1516.8" fill="none" stroke="#111" stroke-width="2.2" stroke-linejoin="round" stroke-linecap="round" stroke-dasharray="0.1 4.2"/>
<path d="M1193.5 1467.6 1197.5 1467.6 1197.5 1466.1 1201.4 1466.1 1201.4 1467.6 1205.4 1467.6 1205.4 1465.1 1209.4 1465.1 1209.4 1464.8 1213.4 1464.8 1213.4 1468 1217.3 1468 1217.3 1466.7 1221.3 1466.7 1221.3 1465.5 1225.3 1465.5 1225.3 1466.2 1229.3 1466.2 1229.3 1466.4 1233.3 1466.4 1233.3 1463.6 1237.2 1463.6 1237.2 1464.1 1241.2 1464.1 1241.2 1462.6 1245.2 1462.6 1245.2 1463.6 1249.2 1463.6 1249.2 1462.1 1253.1 1462.1 1253.1 1458.1 1257.1 1458.1 1257.1 1455.4 1261.1 1455.4 1261.1 1457.6 1265.1 1457.6 1265.1 1458.6 1269.1 1458.6 1269.1 1460.6 1273 1460.6 1273 1461.5 1277 1461.5 1277 1462.4 1281 1462.4 1281 1463.7 1285 1463.7 1285 1460.5 1288.9 1460.5 1288.9 1463.5 1292.9 1463.5 1292.9 1463.8 1296.9 1463.8 1296.9 1463.3 1300.9 1463.3 1300.9 1462.8 1304.9 1462.8 1304.9 1463 1308.8 1463 1308.8 1461.4 1312.8 1461.4 1312.8 1460.1 1316.8 1460.1 1316.8 1463.8 1320.8 1463.8 1320.8 1464.3 1324.7 1464.3 1324.7 1461.2 1328.7 1461.2 1328.7 1461.7 1332.7 1461.7 1332.7 1461.5 1336.7 1461.5 1336.7 1461.7 1340.7 1461.7 1340.7 1464.6 1344.6 1464.6 1344.6 1463.2 1348.6 1463.2 1348.6 1462.4 1352.6 1462.4 1352.6 1461.3 1356.6 1461.3 1356.6 1461.9 1360.6 1461.9 1360.6 1463.9 1364.5 1463.9 1364.5 1463.9 1368.5 1463.9 1368.5 1463 1372.5 1463 1372.5 1464 1376.5 1464 1376.5 1461.7 1380.4 1461.7 1380.4 1463.1 1384.4 1463.1 1384.4 1462.2 1388.4 1462.2 1388.4 1461.9 1392.4 1461.9 1392.4 1460 1396.4 1460 1396.4 1460.7 1400.3 1460.7 1400.3 1457.9 1404.3 1457.9 1404.3 1456.4 1408.3 1456.4 1408.3 1456.6 1412.3 1456.6 1412.3 1454.7 1416.2 1454.7 1416.2 1453.2 1420.2 1453.2 1420.2 1453.7 1424.2 1453.7 1424.2 1452.3 1428.2 1452.3 1428.2 1452.5 1432.2 1452.5 1432.2 1452.2 1436.1 1452.2 1436.1 1452.7 1440.1 1452.7 1440.1 1452.9 1444.1 1452.9 1444.1 1452.7 1448.1 1452.7 1448.1 1451.1 1452 1451.1 1452 1451.2 1456 1451.2 1456 1448.5 1460 1448.5 1460 1449.4 1464 1449.4 1464 1449.5 1468 1449.5 1468 1451 1471.9 1451 1471.9 1451.1 1475.9 1451.1 1475.9 1450.3 1479.9 1450.3 1479.9 1448.1 1483.9 1448.1 1483.9 1449.3 1487.8 1449.3 1487.8 1449.3 1491.8 1449.3 1491.8 1450.1 1495.8 1450.1 1495.8 1448.6 1499.8 1448.6 1499.8 1444.5 1503.8 1444.5 1503.8 1434 1507.7 1434 1507.7 1436.9 1511.7 1436.9 1511.7 1437.8 1515.7 1437.8 1515.7 1439.2 1519.7 1439.2 1519.7 1437.8 1523.6 1437.8 1523.6 1435.1 1527.6 1435.1 1527.6 1435 1531.6 1435 1531.6 1432.8 1535.6 1432.8 1535.6 1430.9 1539.6 1430.9 1539.6 1431.7 1543.5 1431.7 1543.5 1433.9 1547.5 1433.9 1547.5 1430.7 1551.5 1430.7 1551.5 1428.8 1555.5 1428.8 1555.5 1427.5 1559.5 1427.5 1559.5 1424.4 1563.4 1424.4 1563.4 1410.8 1567.4 1410.8 1567.4 1398.7 1571.4 1398.7 1571.4 1397.5 1575.4 1397.5 1575.4 1403.7 1579.3 1403.7 1579.3 1417.5 1583.3 1417.5 1583.3 1426.5 1587.3 1426.5 1587.3 1432.8 1591.3 1432.8 1591.3 1432.3 1595.3 1432.3 1595.3 1428.7 1599.2 1428.7 1599.2 1428.4 1603.2 1428.4 1603.2 1428.7 1607.2 1428.7 1607.2 1426.1 1611.2 1426.1 1611.2 1424.9 1615.1 1424.9 1615.1 1424.5 1619.1 1424.5 1619.1 1426 1623.1 1426 1623.1 1426.8 1627.1 1426.8 1627.1 1428.1 1631.1 1428.1 1631.1 1430.1 1635 1430.1 1635 1431.8 1639 1431.8 1639 1435.8 1643 1435.8 1643 1437.7 1647 1437.7 1647 1441.9 1650.9 1441.9 1650.9 1439.8 1654.9 1439.8 1654.9 1440.8 1658.9 1440.8 1658.9 1444.1 1662.9 1444.1 1662.9 1445.1 1666.9 1445.1 1666.9 1448.3 1670.8 1448.3 1670.8 1447.5 1674.8 1447.5 1674.8 1449 1678.8 1449 1678.8 1447.9 1682.8 1447.9 1682.8 1449.5 1686.7 1449.5 1686.7 1452.3 1690.7 1452.3 1690.7 1452 1694.7 1452 1694.7 1451.1 1698.7 1451.1 1698.7 1448.6 1702.7 1448.6 1702.7 1451.7 1706.6 1451.7 1706.6 1451.6 1710.6 1451.6 1710.6 1451.1 1714.6 1451.1 1714.6 1450.6 1718.6 1450.6 1718.6 1450.7 1722.5 1450.7 1722.5 1450.5 1726.5 1450.5 1726.5 1444.8 1730.5 1444.8 1730.5 1431 1734.5 1431 1734.5 1410.1 1738.5 1410.1 1738.5 1376 1742.4 1376 1742.4 1362.9 1746.4 1362.9 1746.4 1368.8 1750.4 1368.8 1750.4 1401.8 1754.4 1401.8 1754.4 1429.5 1758.4 1429.5 1758.4 1442.9 1762.3 1442.9 1762.3 1452.3 1766.3 1452.3 1766.3 1455.5 1770.3 1455.5 1770.3 1456.6 1774.3 1456.6 1774.3 1458 1778.2 1458 1778.2 1458 1782.2 1458 1782.2 1459.5 1786.2 1459.5 1786.2 1459.5 1790.2 1459.5 1790.2 1458.6 1794.2 1458.6 1794.2 1458.6 1798.1 1458.6 1798.1 1457.1 1802.1 1457.1 1802.1 1456.1 1806.1 1456.1 1806.1 1454.2 1810.1 1454.2 1810.1 1445.6 1814 1445.6 1814 1423 1818 1423 1818 1359 1822 1359 1822 1253.2 1826 1253.2 1826 1186 1830 1186 1830 1194.2 1833.9 1194.2 1833.9 1268.9 1837.9 1268.9 1837.9 1364.9 1841.9 1364.9 1841.9 1429 1845.9 1429 1845.9 1447.1 1849.8 1447.1 1849.8 1456.7 1853.8 1456.7 1853.8 1461.7 1857.8 1461.7 1857.8 1463.1 1861.8 1463.1 1861.8 1467.1 1865.8 1467.1 1865.8 1465.5 1869.7 1465.5 1869.7 1466.1 1873.7 1466.1 1873.7 1467.3 1877.7 1467.3 1877.7 1468.4 1881.7 1468.4 1881.7 1467.3 1885.6 1467.3 1885.6 1469.6 1889.6 1469.6 1889.6 1466.7 1893.6 1466.7 1893.6 1467.4 1897.6 1467.4 1897.6 1467.2 1901.6 1467.2 1901.6 1469.7 1905.5 1469.7 1905.5 1471.6 1909.5 1471.6" fill="none" stroke="#111" stroke-width="4.2" stroke-linejoin="miter" stroke-linecap="butt"/>
<path d="M1195.5 1461.8 1196.3 1461.9 1197.2 1462 1198.1 1462.1 1199 1462.2 1199.9 1462.3 1200.8 1462.4 1201.7 1462.5 1202.5 1462.6 1203.4 1462.7 1204.3 1462.8 1205.2 1462.9 1206.1 1463 1207 1463.1 1207.8 1463.2 1208.7 1463.4 1209.6 1463.5 1210.5 1463.7 1211.4 1463.8 1212.3 1464 1213.1 1464.1 1214 1464.3 1214.9 1464.4 1215.8 1464.6 1216.7 1464.7 1217.6 1464.8 1218.4 1465 1219.3 1465.1 1220.2 1465.3 1221.1 1465.4 1222 1465.6 1222.9 1465.7 1223.8 1465.9 1224.6 1466 1225.5 1466.2 1226.4 1466.3 1227.3 1465.5 1228.2 1465.5 1229.1 1465.4 1229.9 1465.3 1230.8 1465.3 1231.7 1465.2 1232.6 1465.1 1233.5 1465 1234.4 1465 1235.2 1464.9 1236.1 1464.8 1237 1464.7 1237.9 1464.7 1238.8 1464.6 1239.7 1464.5 1240.5 1464.4 1241.4 1464.4 1242.3 1464.3 1243.2 1464.2 1244.1 1464.1 1245 1464.1 1245.9 1464 1246.7 1463.9 1247.6 1463.3 1248.5 1462.6 1249.4 1462 1250.3 1461.3 1251.2 1460.6 1252 1460 1252.9 1459.3 1253.8 1458.6 1254.7 1458.2 1255.6 1457.9 1256.5 1457.5 1257.3 1457.2 1258.2 1456.9 1259.1 1456.5 1260 1456.2 1260.9 1455.9 1261.8 1455.5 1262.6 1455.5 1263.5 1456.1 1264.4 1456.6 1265.3 1457.2 1266.2 1457.7 1267.1 1458.3 1268 1458.8 1268.8 1459.4 1269.7 1460.3 1270.6 1461.2 1271.5 1462.1 1272.4 1463 1273.3 1463 1274.1 1463 1275 1462.9 1275.9 1462.9 1276.8 1462.9 1277.7 1462.9 1278.6 1462.8 1279.4 1462.8 1280.3 1462.8 1281.2 1462.8 1282.1 1462.7 1283 1462.7 1283.9 1462.7 1284.7 1462.7 1285.6 1462.7 1286.5 1462.8 1287.4 1462.9 1288.3 1463 1289.2 1463.1 1290.1 1463.2 1290.9 1463.3 1291.8 1463.4 1292.7 1463.5 1293.6 1463.6 1294.5 1463.7 1295.4 1463.8 1296.2 1463.9 1297.1 1463.7 1298 1463.5 1298.9 1463.3 1299.8 1463 1300.7 1462.8 1301.5 1462.6 1302.4 1462.4 1303.3 1462.1 1304.2 1462 1305.1 1462 1306 1461.9 1306.8 1461.8 1307.7 1461.7 1308.6 1461.7 1309.5 1461.6 1310.4 1461.5 1311.3 1461.4 1312.2 1461.4 1313 1461.3 1313.9 1461.2 1314.8 1461.2 1315.7 1461.2 1316.6 1461.3 1317.5 1461.4 1318.3 1461.4 1319.2 1461.5 1320.1 1461.5 1321 1461.6 1321.9 1461.6 1322.8 1461.7 1323.6 1461.7 1324.5 1461.8 1325.4 1461.9 1326.3 1461.9 1327.2 1462 1328.1 1462 1328.9 1462.1 1329.8 1462.2 1330.7 1462.3 1331.6 1462.4 1332.5 1462.6 1333.4 1462.7 1334.3 1462.8 1335.1 1462.9 1336 1463.1 1336.9 1463.2 1337.8 1463.3 1338.7 1463.4 1339.6 1463.6 1340.4 1463.7 1341.3 1463.8 1342.2 1463.9 1343.1 1463.8 1344 1463.8 1344.9 1463.7 1345.7 1463.7 1346.6 1463.6 1347.5 1463.5 1348.4 1463.5 1349.3 1463.4 1350.2 1463.3 1351 1463.3 1351.9 1463.2 1352.8 1463.1 1353.7 1463.1 1354.6 1463 1355.5 1463 1356.4 1462.9 1357.2 1462.9 1358.1 1462.8 1359 1462.7 1359.9 1462.7 1360.8 1462.6 1361.7 1462.6 1362.5 1462.5 1363.4 1462.5 1364.3 1462.4 1365.2 1462.4 1366.1 1462.3 1367 1462.2 1367.8 1462.2 1368.7 1462.1 1369.6 1462.1 1370.5 1462.2 1371.4 1462.2 1372.3 1462.3 1373.1 1462.4 1374 1462.5 1374.9 1462.5 1375.8 1462.6 1376.7 1462.7 1377.6 1462.8 1378.5 1462.8 1379.3 1462.9 1380.2 1463 1381.1 1462.8 1382 1462.6 1382.9 1462.4 1383.8 1462.2 1384.6 1462 1385.5 1461.7 1386.4 1461.5 1387.3 1461.3 1388.2 1461.2 1389.1 1461.3 1389.9 1461.4 1390.8 1461.5 1391.7 1461.6 1392.6 1461.7 1393.5 1461.7 1394.4 1461.8 1395.2 1461.9 1396.1 1462 1397 1462 1397.9 1461.3 1398.8 1460.6 1399.7 1459.8 1400.6 1459.1 1401.4 1458.4 1402.3 1457.6 1403.2 1457.4 1404.1 1457.3 1405 1457.3 1405.9 1457.2 1406.7 1457.1 1407.6 1457 1408.5 1456.9 1409.4 1456.8 1410.3 1456.7 1411.2 1456.6 1412 1456.5 1412.9 1456.2 1413.8 1456 1414.7 1455.7 1415.6 1455.5 1416.5 1455.2 1417.3 1455 1418.2 1454.7 1419.1 1454.4 1420 1454.2 1420.9 1453.9 1421.8 1453.7 1422.7 1453.4 1423.5 1453.2 1424.4 1452.9 1425.3 1453 1426.2 1453.1 1427.1 1453.2 1428 1453.2 1428.8 1453.3 1429.7 1453.4 1430.6 1453.4 1431.5 1453.5 1432.4 1453.6 1433.3 1453.7 1434.1 1453.7 1435 1453.8 1435.9 1453.8 1436.8 1453.6 1437.7 1453.5 1438.6 1453.3 1439.4 1453.2 1440.3 1453 1441.2 1452.9 1442.1 1452.7 1443 1452.6 1443.9 1452.4 1444.8 1452.3 1445.6 1452.1 1446.5 1452 1447.4 1451.8 1448.3 1451.5 1449.2 1451.3 1450.1 1451.1 1450.9 1450.9 1451.8 1450.7 1452.7 1450.4 1453.6 1450.2 1454.5 1450 1455.4 1449.8 1456.2 1449.6 1457.1 1449.3 1458 1449.3 1458.9 1449.4 1459.8 1449.5 1460.7 1449.5 1461.5 1449.6 1462.4 1449.7 1463.3 1449.8 1464.2 1449.8 1465.1 1449.9 1466 1450 1466.9 1450.1 1467.7 1450.1 1468.6 1450.2 1469.5 1450.1 1470.4 1450.1 1471.3 1450 1472.2 1449.9 1473 1449.9 1473.9 1449.8 1474.8 1449.8 1475.7 1449.7 1476.6 1449.7 1477.5 1449.6 1478.3 1449.6 1479.2 1449.5 1480.1 1449.5 1481 1449.4 1481.9 1449.3 1482.8 1449.3 1483.6 1449.2 1484.5 1449.1 1485.4 1449 1486.3 1448.9 1487.2 1448.7 1488.1 1448.6 1489 1448.5 1489.8 1448.4 1490.7 1448.3 1491.6 1448.2 1492.5 1448.1 1493.4 1448 1494.3 1447.9 1495.1 1447.8 1496 1447.6 1496.9 1447.5 1497.8 1447.3 1498.7 1445.7 1499.6 1444.2 1500.4 1442.6 1501.3 1441.1 1502.2 1440 1503.1 1438.9 1504 1437.9 1504.9 1436.8 1505.7 1435.8 1506.6 1435.7 1507.5 1436 1508.4 1436.2 1509.3 1436.5 1510.2 1436.7 1511.1 1437 1511.9 1437.2 1512.8 1437.3 1513.7 1437.2 1514.6 1437.2 1515.5 1437.1 1516.4 1437 1517.2 1437 1518.1 1436.9 1519 1436.8 1519.9 1436.7 1520.8 1436.7 1521.7 1436.6 1522.5 1436.5 1523.4 1436.4 1524.3 1436.2 1525.2 1436 1526.1 1435.8 1527 1435.5 1527.8 1435.3 1528.7 1435.1 1529.6 1434.9 1530.5 1434.7 1531.4 1434.4 1532.3 1434.2 1533.2 1434 1534 1433.8 1534.9 1433.6 1535.8 1433.3 1536.7 1433.1 1537.6 1432.9 1538.5 1432.7 1539.3 1432.4 1540.2 1432.2 1541.1 1432 1542 1431.8 1542.9 1431.6 1543.8 1431.3 1544.6 1431.1 1545.5 1430.8 1546.4 1430.4 1547.3 1430 1548.2 1429.5 1549.1 1429.1 1549.9 1428.6 1550.8 1428.2 1551.7 1427.8 1552.6 1427.3 1553.5 1426.9 1554.4 1426.4 1555.3 1426.1 1556.1 1425.8 1557 1425.5 1557.9 1425.2 1558.8 1424.9 1559.7 1424.6 1560.6 1423.3 1561.4 1420.4 1562.3 1417.6 1563.2 1414.7 1564.1 1411.8 1565 1408.8 1565.9 1405.6 1566.7 1402.4 1567.6 1399.1 1568.5 1397.2 1569.4 1397.1 1570.3 1397 1571.2 1396.9 1572 1396.9 1572.9 1396.8 1573.8 1396.7 1574.7 1396.6 1575.6 1398.8 1576.5 1401.6 1577.4 1404.4 1578.2 1407.3 1579.1 1410.2 1580 1413.2 1580.9 1416.1 1581.8 1419 1582.7 1421.3 1583.5 1423.7 1584.4 1426 1585.3 1427.7 1586.2 1428.1 1587.1 1428.5 1588 1428.8 1588.8 1429.2 1589.7 1429.5 1590.6 1429.9 1591.5 1430.2 1592.4 1430.4 1593.3 1430.5 1594.1 1430.6 1595 1430.7 1595.9 1430.8 1596.8 1430.9 1597.7 1431 1598.6 1431.1 1599.5 1431.2 1600.3 1431.3 1601.2 1431.4 1602.1 1431.5 1603 1431.6 1603.9 1431.7 1604.8 1431.8 1605.6 1431.9 1606.5 1432 1607.4 1432.1 1608.3 1432.2 1609.2 1432.3 1610.1 1432.3 1610.9 1432.4 1611.8 1432.5 1612.7 1432.6 1613.6 1432.6 1614.5 1432.7 1615.4 1432.8 1616.2 1432.9 1617.1 1432.9 1618 1433 1618.9 1433.1 1619.8 1433.2 1620.7 1433.2 1621.6 1433.3 1622.4 1433.4 1623.3 1433.5 1624.2 1433.7 1625.1 1433.8 1626 1433.9 1626.9 1434 1627.7 1434.1 1628.6 1434.2 1629.5 1434.3 1630.4 1434.5 1631.3 1434.6 1632.2 1434.8 1633 1435 1633.9 1435.2 1634.8 1435.3 1635.7 1435.5 1636.6 1435.7 1637.5 1435.9 1638.3 1436 1639.2 1436.2 1640.1 1436.4 1641 1436.6 1641.9 1436.8 1642.8 1437.1 1643.7 1437.3 1644.5 1437.6 1645.4 1437.9 1646.3 1438.1 1647.2 1438.4 1648.1 1438.7 1649 1438.9 1649.8 1439.2 1650.7 1439.5 1651.6 1439.7 1652.5 1440 1653.4 1440.4 1654.3 1440.8 1655.1 1441.2 1656 1441.6 1656.9 1442 1657.8 1442.4 1658.7 1442.8 1659.6 1443.2 1660.4 1443.6 1661.3 1444.1 1662.2 1444.5 1663.1 1444.9 1664 1445.7 1664.9 1445.8 1665.8 1445.8 1666.6 1445.9 1667.5 1446 1668.4 1446.1 1669.3 1446.2 1670.2 1446.3 1671.1 1446.4 1671.9 1446.5 1672.8 1446.5 1673.7 1446.6 1674.6 1446.7 1675.5 1446.9 1676.4 1447.2 1677.2 1447.4 1678.1 1447.7 1679 1448 1679.9 1448.2 1680.8 1448.5 1681.7 1448.7 1682.5 1449 1683.4 1449.3 1684.3 1449.5 1685.2 1449.8 1686.1 1450.1 1687 1450.2 1687.9 1450.3 1688.7 1450.4 1689.6 1450.5 1690.5 1450.6 1691.4 1450.7 1692.3 1450.7 1693.2 1450.8 1694 1450.9 1694.9 1451 1695.8 1451.1 1696.7 1451.2 1697.6 1451.3 1698.5 1451.3 1699.3 1451.4 1700.2 1451.4 1701.1 1451.5 1702 1451.5 1702.9 1451.5 1703.8 1451.6 1704.6 1451.6 1705.5 1451.7 1706.4 1451.7 1707.3 1451.8 1708.2 1451.8 1709.1 1451.8 1710 1451.9 1710.8 1451.9 1711.7 1451.8 1712.6 1451.6 1713.5 1451.5 1714.4 1451.3 1715.3 1451.1 1716.1 1450.9 1717 1450.8 1717.9 1450.6 1718.8 1450.4 1719.7 1450.2 1720.6 1450 1721.4 1449.7 1722.3 1449.4 1723.2 1449.1 1724.1 1448.8 1725 1448.5 1725.9 1448.2 1726.7 1447.9 1727.6 1446.3 1728.5 1444.6 1729.4 1442.8 1730.3 1441 1731.2 1439.3 1732.1 1435.4 1732.9 1431 1733.8 1426.6 1734.7 1422.1 1735.6 1417.7 1736.5 1410.2 1737.4 1401.4 1738.2 1392.6 1739.1 1383.7 1740 1377.5 1740.9 1371.6 1741.8 1365.7 1742.7 1360.1 1743.5 1360.1 1744.4 1360.1 1745.3 1360.1 1746.2 1360.1 1747.1 1360.1 1748 1365.8 1748.8 1371.7 1749.7 1377.6 1750.6 1383.9 1751.5 1392.7 1752.4 1401.5 1753.3 1410.4 1754.2 1417.8 1755 1422.2 1755.9 1426.6 1756.8 1431.1 1757.7 1435.5 1758.6 1439.4 1759.5 1441.6 1760.3 1443.8 1761.2 1446 1762.1 1448.2 1763 1450.3 1763.9 1451.2 1764.8 1452 1765.6 1452.9 1766.5 1453.8 1767.4 1454.7 1768.3 1455.6 1769.2 1456.5 1770.1 1457 1770.9 1457.2 1771.8 1457.5 1772.7 1457.7 1773.6 1457.9 1774.5 1458.1 1775.4 1458.3 1776.3 1458.6 1777.1 1458.8 1778 1459 1778.9 1459.2 1779.8 1459.2 1780.7 1459.2 1781.6 1459.2 1782.4 1459.2 1783.3 1459.2 1784.2 1459.2 1785.1 1459.2 1786 1459.2 1786.9 1459.2 1787.7 1459.2 1788.6 1459.2 1789.5 1459.2 1790.4 1459.2 1791.3 1459.2 1792.2 1459.2 1793 1459.2 1793.9 1459.2 1794.8 1459.2 1795.7 1459.2 1796.6 1459.2 1797.5 1459.2 1798.4 1459.2 1799.2 1459 1800.1 1458.5 1801 1458.1 1801.9 1457.7 1802.8 1457.2 1803.7 1456.8 1804.5 1456.3 1805.4 1455.9 1806.3 1455.4 1807.2 1455 1808.1 1454.3 1809 1452.5 1809.8 1450.8 1810.7 1449 1811.6 1447.2 1812.5 1445.5 1813.4 1443.7 1814.3 1437.5 1815.1 1430.4 1816 1423.3 1816.9 1416.2 1817.8 1402.9 1818.7 1389.7 1819.6 1370.2 1820.5 1343.7 1821.3 1317.1 1822.2 1294.7 1823.1 1272.6 1824 1255 1824.9 1245 1825.8 1235 1826.6 1225 1827.5 1217.9 1828.4 1213.2 1829.3 1208.4 1830.2 1203.7 1831.1 1209.6 1831.9 1215.6 1832.8 1221.6 1833.7 1231.3 1834.6 1246 1835.5 1260.8 1836.4 1278.2 1837.2 1300.3 1838.1 1322.4 1839 1344.5 1839.9 1366.6 1840.8 1385.9 1841.7 1397.6 1842.6 1409.4 1843.4 1421.2 1844.3 1429.7 1845.2 1434.1 1846.1 1438.5 1847 1442.9 1847.9 1447.3 1848.7 1450.9 1849.6 1452.9 1850.5 1454.8 1851.4 1456.8 1852.3 1458.8 1853.2 1460.4 1854 1460.8 1854.9 1461.3 1855.8 1461.7 1856.7 1462.2 1857.6 1462.6 1858.5 1463.1 1859.3 1463.5 1860.2 1463.9 1861.1 1464.4 1862 1464.8 1862.9 1464.9 1863.8 1465 1864.7 1465.2 1865.5 1465.3 1866.4 1465.4 1867.3 1465.5 1868.2 1465.7 1869.1 1465.8 1870 1465.9 1870.8 1466.1 1871.7 1466.2 1872.6 1466.3 1873.5 1466.4 1874.4 1466.6 1875.3 1466.7 1876.1 1466.8 1877 1466.9 1877.9 1467 1878.8 1467.1 1879.7 1467.1 1880.6 1467.2 1881.4 1467.2 1882.3 1467.3 1883.2 1467.3 1884.1 1467.4 1885 1467.4 1885.9 1467.4 1886.8 1467.5 1887.6 1467.5 1888.5 1467.6 1889.4 1467.6 1890.3 1467.7 1891.2 1467.7 1892.1 1467.8 1892.9 1467.8 1893.8 1467.8 1894.7 1467.9 1895.6 1467.9 1896.5 1468 1897.4 1468 1898.2 1468.1 1899.1 1468.1 1900 1468.1 1900.9 1468.4 1901.8 1468.6 1902.7 1468.9 1903.5 1469.2 1904.4 1469.4 1905.3 1469.7 1906.2 1470 1907.1 1470.2 1908 1470.5" fill="none" stroke="#f6262b" stroke-width="3.5" stroke-linejoin="round" stroke-linecap="butt" stroke-dasharray="20 9 5 9"/>
</g>
<path d="M1260.8 1089.8 1260.8 1409" fill="none" stroke="#111" stroke-width="1.6" stroke-linejoin="round" stroke-linecap="butt" stroke-dasharray="4.6 11.2"/>
<text class="s" transform="translate(1256.9 1200.1) rotate(-90)" x="0" textLength="61" lengthAdjust="spacingAndGlyphs"><tspan font-size="35.5">HeII</tspan></text>
<path d="M1549 1089.8 1549 1635" fill="none" stroke="#111" stroke-width="1.6" stroke-linejoin="round" stroke-linecap="butt" stroke-dasharray="4.6 11.2"/>
<path d="M1549 1452 1549 1635" fill="none" stroke="#111" stroke-width="1.6" stroke-linejoin="round" stroke-linecap="butt" stroke-dasharray="4.6 11.2"/>
<text class="s" transform="translate(1544.3 1470) rotate(-90)" x="0" textLength="66" lengthAdjust="spacingAndGlyphs"><tspan font-size="35.5">H</tspan><tspan font-size="35.5" class="si">β</tspan><tspan font-size="21" class="hb" dy="7">br</tspan></text>
<path d="M1571.9 1089.8 1571.9 1355" fill="none" stroke="#111" stroke-width="1.6" stroke-linejoin="round" stroke-linecap="butt" stroke-dasharray="4.6 11.2"/>
<text class="s" transform="translate(1567.4 1200.1) rotate(-90)" x="0" textLength="41" lengthAdjust="spacingAndGlyphs"><tspan font-size="35.5">H</tspan><tspan font-size="35.5" class="si">β</tspan></text>
<path d="M1613 1089.8 1613 1636" fill="none" stroke="#111" stroke-width="1.6" stroke-linejoin="round" stroke-linecap="butt" stroke-dasharray="4.6 11.2"/>
<path d="M1613 1452 1613 1636" fill="none" stroke="#111" stroke-width="1.6" stroke-linejoin="round" stroke-linecap="butt" stroke-dasharray="4.6 11.2"/>
<text class="s" transform="translate(1608.3 1470) rotate(-90)" x="0" textLength="66" lengthAdjust="spacingAndGlyphs"><tspan font-size="35.5">H</tspan><tspan font-size="35.5" class="si">β</tspan><tspan font-size="21" class="hb" dy="7">br</tspan></text>
<path d="M1744.9 1089.8 1744.9 1330" fill="none" stroke="#111" stroke-width="1.6" stroke-linejoin="round" stroke-linecap="butt" stroke-dasharray="4.6 11.2"/>
<text class="s" transform="translate(1740.6 1199) rotate(-90)" x="0" textLength="78" lengthAdjust="spacingAndGlyphs"><tspan font-size="35.5">[OIII]</tspan></text>
<path d="M1829.5 1089.8 1829.5 1180" fill="none" stroke="#111" stroke-width="1.6" stroke-linejoin="round" stroke-linecap="butt" stroke-dasharray="4.6 11.2"/>
<text class="s" transform="translate(1825.4 1199) rotate(-90)" x="0" textLength="78" lengthAdjust="spacingAndGlyphs"><tspan font-size="35.5">[OIII]</tspan></text>
<path d="M1199 1682.9v-6M1199 1078.8v6M1216.7 1682.9v-6M1216.7 1078.8v6M1234.4 1682.9v-6M1234.4 1078.8v6M1252 1682.9v-6M1252 1078.8v6M1269.7 1682.9v-6M1269.7 1078.8v6M1287.4 1682.9v-12.1M1287.4 1078.8v12.1M1305.1 1682.9v-6M1305.1 1078.8v6M1322.8 1682.9v-6M1322.8 1078.8v6M1340.4 1682.9v-6M1340.4 1078.8v6M1358.1 1682.9v-6M1358.1 1078.8v6M1375.8 1682.9v-6M1375.8 1078.8v6M1393.5 1682.9v-6M1393.5 1078.8v6M1411.2 1682.9v-6M1411.2 1078.8v6M1428.8 1682.9v-6M1428.8 1078.8v6M1446.5 1682.9v-6M1446.5 1078.8v6M1464.2 1682.9v-12.1M1464.2 1078.8v12.1M1481.9 1682.9v-6M1481.9 1078.8v6M1499.6 1682.9v-6M1499.6 1078.8v6M1517.2 1682.9v-6M1517.2 1078.8v6M1534.9 1682.9v-6M1534.9 1078.8v6M1552.6 1682.9v-6M1552.6 1078.8v6M1570.3 1682.9v-6M1570.3 1078.8v6M1588 1682.9v-6M1588 1078.8v6M1605.6 1682.9v-6M1605.6 1078.8v6M1623.3 1682.9v-6M1623.3 1078.8v6M1641 1682.9v-12.1M1641 1078.8v12.1M1658.7 1682.9v-6M1658.7 1078.8v6M1676.4 1682.9v-6M1676.4 1078.8v6M1694 1682.9v-6M1694 1078.8v6M1711.7 1682.9v-6M1711.7 1078.8v6M1729.4 1682.9v-6M1729.4 1078.8v6M1747.1 1682.9v-6M1747.1 1078.8v6M1764.8 1682.9v-6M1764.8 1078.8v6M1782.4 1682.9v-6M1782.4 1078.8v6M1800.1 1682.9v-6M1800.1 1078.8v6M1817.8 1682.9v-12.1M1817.8 1078.8v12.1M1835.5 1682.9v-6M1835.5 1078.8v6M1853.2 1682.9v-6M1853.2 1078.8v6M1870.8 1682.9v-6M1870.8 1078.8v6M1888.5 1682.9v-6M1888.5 1078.8v6M1197.8 1679.2h7.1M1905.8 1679.2h-7.1M1197.8 1669.6h7.1M1905.8 1669.6h-7.1M1197.8 1660h7.1M1905.8 1660h-7.1M1197.8 1650.3h7.1M1905.8 1650.3h-7.1M1197.8 1640.7h7.1M1905.8 1640.7h-7.1M1197.8 1631.1h7.1M1905.8 1631.1h-7.1M1197.8 1621.4h7.1M1905.8 1621.4h-7.1M1197.8 1611.8h14.2M1905.8 1611.8h-14.2M1197.8 1602.2h7.1M1905.8 1602.2h-7.1M1197.8 1592.5h7.1M1905.8 1592.5h-7.1M1197.8 1582.9h7.1M1905.8 1582.9h-7.1M1197.8 1573.3h7.1M1905.8 1573.3h-7.1M1197.8 1563.7h7.1M1905.8 1563.7h-7.1M1197.8 1554h7.1M1905.8 1554h-7.1M1197.8 1544.4h7.1M1905.8 1544.4h-7.1M1197.8 1534.8h7.1M1905.8 1534.8h-7.1M1197.8 1525.1h7.1M1905.8 1525.1h-7.1M1197.8 1515.5h14.2M1905.8 1515.5h-14.2M1197.8 1505.9h7.1M1905.8 1505.9h-7.1M1197.8 1496.2h7.1M1905.8 1496.2h-7.1M1197.8 1486.6h7.1M1905.8 1486.6h-7.1M1197.8 1477h7.1M1905.8 1477h-7.1M1197.8 1467.3h7.1M1905.8 1467.3h-7.1M1197.8 1457.7h7.1M1905.8 1457.7h-7.1M1197.8 1448.1h7.1M1905.8 1448.1h-7.1M1197.8 1438.5h7.1M1905.8 1438.5h-7.1M1197.8 1428.8h7.1M1905.8 1428.8h-7.1M1197.8 1419.2h14.2M1905.8 1419.2h-14.2M1197.8 1409.6h7.1M1905.8 1409.6h-7.1M1197.8 1399.9h7.1M1905.8 1399.9h-7.1M1197.8 1390.3h7.1M1905.8 1390.3h-7.1M1197.8 1380.7h7.1M1905.8 1380.7h-7.1M1197.8 1371h7.1M1905.8 1371h-7.1M1197.8 1361.4h7.1M1905.8 1361.4h-7.1M1197.8 1351.8h7.1M1905.8 1351.8h-7.1M1197.8 1342.2h7.1M1905.8 1342.2h-7.1M1197.8 1332.5h7.1M1905.8 1332.5h-7.1M1197.8 1322.9h14.2M1905.8 1322.9h-14.2M1197.8 1313.3h7.1M1905.8 1313.3h-7.1M1197.8 1303.6h7.1M1905.8 1303.6h-7.1M1197.8 1294h7.1M1905.8 1294h-7.1M1197.8 1284.4h7.1M1905.8 1284.4h-7.1M1197.8 1274.8h7.1M1905.8 1274.8h-7.1M1197.8 1265.1h7.1M1905.8 1265.1h-7.1M1197.8 1255.5h7.1M1905.8 1255.5h-7.1M1197.8 1245.9h7.1M1905.8 1245.9h-7.1M1197.8 1236.2h7.1M1905.8 1236.2h-7.1M1197.8 1226.6h14.2M1905.8 1226.6h-14.2M1197.8 1217h7.1M1905.8 1217h-7.1M1197.8 1207.3h7.1M1905.8 1207.3h-7.1M1197.8 1197.7h7.1M1905.8 1197.7h-7.1M1197.8 1188.1h7.1M1905.8 1188.1h-7.1M1197.8 1178.5h7.1M1905.8 1178.5h-7.1M1197.8 1168.8h7.1M1905.8 1168.8h-7.1M1197.8 1159.2h7.1M1905.8 1159.2h-7.1M1197.8 1149.6h7.1M1905.8 1149.6h-7.1M1197.8 1139.9h7.1M1905.8 1139.9h-7.1M1197.8 1130.3h14.2M1905.8 1130.3h-14.2M1197.8 1120.7h7.1M1905.8 1120.7h-7.1M1197.8 1111h7.1M1905.8 1111h-7.1M1197.8 1101.4h7.1M1905.8 1101.4h-7.1M1197.8 1091.8h7.1M1905.8 1091.8h-7.1M1197.8 1082.2h7.1M1905.8 1082.2h-7.1" stroke="#111" stroke-width="3.9" fill="none"/>
<rect x="1197.8" y="1078.8" width="708" height="604.1" fill="none" stroke="#111" stroke-width="4.2"/>
<text class="s" transform="translate(1184.2 1145.2)" x="-67.5" font-size="39.5" textLength="67.5" lengthAdjust="spacingAndGlyphs">400</text>
<text class="s" transform="translate(1184.2 1241.5)" x="-67.5" font-size="39.5" textLength="67.5" lengthAdjust="spacingAndGlyphs">300</text>
<text class="s" transform="translate(1184.2 1337.8)" x="-67.5" font-size="39.5" textLength="67.5" lengthAdjust="spacingAndGlyphs">200</text>
<text class="s" transform="translate(1184.2 1434.1)" x="-67.5" font-size="39.5" textLength="67.5" lengthAdjust="spacingAndGlyphs">100</text>
<text class="s" transform="translate(1184.2 1530.4)" x="-22.5" font-size="39.5" textLength="22.5" lengthAdjust="spacingAndGlyphs">0</text>
<text class="s" transform="translate(1184.2 1626.7)" x="-92.9" font-size="39.5" textLength="92.9" lengthAdjust="spacingAndGlyphs">−100</text>
<text class="s" transform="translate(1287.4 1736.3)" x="-45" font-size="39.5" textLength="90.1" lengthAdjust="spacingAndGlyphs">4700</text>
<text class="s" transform="translate(1464.2 1736.3)" x="-45" font-size="39.5" textLength="90.1" lengthAdjust="spacingAndGlyphs">4800</text>
<text class="s" transform="translate(1641 1736.3)" x="-45" font-size="39.5" textLength="90.1" lengthAdjust="spacingAndGlyphs">4900</text>
<text class="s" transform="translate(1817.8 1736.3)" x="-45" font-size="39.5" textLength="90.1" lengthAdjust="spacingAndGlyphs">5000</text>
<g transform="translate(1497.5 1780.9)"><text class="s" x="0" y="0" font-size="38" textLength="16.5" lengthAdjust="spacingAndGlyphs">λ</text><text class="sb" x="19" y="9.8" font-size="25" textLength="33.5" lengthAdjust="spacingAndGlyphs">r.f.</text><text class="s" x="54.5" y="2" font-size="45">[</text><text class="s" x="70.8" y="-18" font-size="25">°</text><text class="sb" x="70.2" y="0.5" font-size="37.5" textLength="22.5" lengthAdjust="spacingAndGlyphs">A</text><text class="s" x="91" y="2" font-size="45">]</text></g>
<clipPath id="cbr"><rect x="2105" y="1079" width="988.7" height="603.9"/></clipPath><g clip-path="url(#cbr)">
<path d="M2105 1668.9 2107 1668.9 2109 1668.8 2110.9 1668.8 2112.9 1668.8 2114.9 1668.8 2116.9 1668.7 2118.8 1668.7 2120.8 1668.7 2122.8 1668.6 2124.8 1668.6 2126.7 1668.6 2128.7 1668.5 2130.7 1668.5 2132.7 1668.5 2134.7 1668.4 2136.6 1668.4 2138.6 1668.4 2140.6 1668.3 2142.6 1668.3 2144.5 1668.2 2146.5 1668.2 2148.5 1668.1 2150.5 1668.1 2152.5 1668.1 2154.4 1668 2156.4 1668 2158.4 1667.9 2160.4 1667.9 2162.3 1667.8 2164.3 1667.7 2166.3 1667.7 2168.3 1667.6 2170.2 1667.6 2172.2 1667.5 2174.2 1667.5 2176.2 1667.4 2178.2 1667.3 2180.1 1667.3 2182.1 1667.2 2184.1 1667.1 2186.1 1667.1 2188 1667 2190 1666.9 2192 1666.8 2194 1666.8 2196 1666.7 2197.9 1666.6 2199.9 1666.5 2201.9 1666.4 2203.9 1666.3 2205.8 1666.2 2207.8 1666.2 2209.8 1666.1 2211.8 1666 2213.7 1665.9 2215.7 1665.8 2217.7 1665.7 2219.7 1665.6 2221.7 1665.5 2223.6 1665.3 2225.6 1665.2 2227.6 1665.1 2229.6 1665 2231.5 1664.9 2233.5 1664.8 2235.5 1664.6 2237.5 1664.5 2239.5 1664.4 2241.4 1664.3 2243.4 1664.1 2245.4 1664 2247.4 1663.8 2249.3 1663.7 2251.3 1663.6 2253.3 1663.4 2255.3 1663.3 2257.2 1663.1 2259.2 1662.9 2261.2 1662.8 2263.2 1662.6 2265.2 1662.4 2267.1 1662.3 2269.1 1662.1 2271.1 1661.9 2273.1 1661.8 2275 1661.6 2277 1661.4 2279 1661.2 2281 1661 2283 1660.8 2284.9 1660.6 2286.9 1660.4 2288.9 1660.2 2290.9 1660 2292.8 1659.8 2294.8 1659.5 2296.8 1659.3 2298.8 1659.1 2300.7 1658.9 2302.7 1658.6 2304.7 1658.4 2306.7 1658.2 2308.7 1657.9 2310.6 1657.7 2312.6 1657.4 2314.6 1657.2 2316.6 1656.9 2318.5 1656.6 2320.5 1656.4 2322.5 1656.1 2324.5 1655.8 2326.5 1655.5 2328.4 1655.3 2330.4 1655 2332.4 1654.7 2334.4 1654.4 2336.3 1654.1 2338.3 1653.8 2340.3 1653.5 2342.3 1653.1 2344.2 1652.8 2346.2 1652.5 2348.2 1652.2 2350.2 1651.8 2352.2 1651.5 2354.1 1651.2 2356.1 1650.8 2358.1 1650.5 2360.1 1650.1 2362 1649.7 2364 1649.4 2366 1649 2368 1648.6 2370 1648.3 2371.9 1647.9 2373.9 1647.5 2375.9 1647.1 2377.9 1646.7 2379.8 1646.3 2381.8 1645.9 2383.8 1645.5 2385.8 1645.1 2387.7 1644.7 2389.7 1644.3 2391.7 1643.8 2393.7 1643.4 2395.7 1643 2397.6 1642.5 2399.6 1642.1 2401.6 1641.6 2403.6 1641.2 2405.5 1640.7 2407.5 1640.3 2409.5 1639.8 2411.5 1639.4 2413.5 1638.9 2415.4 1638.4 2417.4 1637.9 2419.4 1637.4 2421.4 1637 2423.3 1636.5 2425.3 1636 2427.3 1635.5 2429.3 1635 2431.2 1634.5 2433.2 1634 2435.2 1633.5 2437.2 1632.9 2439.2 1632.4 2441.1 1631.9 2443.1 1631.4 2445.1 1630.8 2447.1 1630.3 2449 1629.8 2451 1629.2 2453 1628.7 2455 1628.2 2457 1627.6 2458.9 1627.1 2460.9 1626.5 2462.9 1626 2464.9 1625.4 2466.8 1624.8 2468.8 1624.3 2470.8 1623.7 2472.8 1623.1 2474.7 1622.6 2476.7 1622 2478.7 1621.4 2480.7 1620.9 2482.7 1620.3 2484.6 1619.7 2486.6 1619.1 2488.6 1618.6 2490.6 1618 2492.5 1617.4 2494.5 1616.8 2496.5 1616.2 2498.5 1615.7 2500.4 1615.1 2502.4 1614.5 2504.4 1613.9 2506.4 1613.3 2508.4 1612.7 2510.3 1612.2 2512.3 1611.6 2514.3 1611 2516.3 1610.4 2518.2 1609.8 2520.2 1609.2 2522.2 1608.7 2524.2 1608.1 2526.2 1607.5 2528.1 1606.9 2530.1 1606.3 2532.1 1605.8 2534.1 1605.2 2536 1604.6 2538 1604.1 2540 1603.5 2542 1602.9 2543.9 1602.4 2545.9 1601.8 2547.9 1601.2 2549.9 1600.7 2551.9 1600.1 2553.8 1599.6 2555.8 1599 2557.8 1598.5 2559.8 1598 2561.7 1597.4 2563.7 1596.9 2565.7 1596.4 2567.7 1595.8 2569.7 1595.3 2571.6 1594.8 2573.6 1594.3 2575.6 1593.8 2577.6 1593.3 2579.5 1592.8 2581.5 1592.3 2583.5 1591.8 2585.5 1591.3 2587.4 1590.8 2589.4 1590.4 2591.4 1589.9 2593.4 1589.4 2595.4 1589 2597.3 1588.5 2599.3 1588.1 2601.3 1587.7 2603.3 1587.2 2605.2 1586.8 2607.2 1586.4 2609.2 1586 2611.2 1585.6 2613.2 1585.2 2615.1 1584.8 2617.1 1584.4 2619.1 1584.1 2621.1 1583.7 2623 1583.3 2625 1583 2627 1582.6 2629 1582.3 2630.9 1582 2632.9 1581.7 2634.9 1581.4 2636.9 1581.1 2638.9 1580.8 2640.8 1580.5 2642.8 1580.2 2644.8 1579.9 2646.8 1579.7 2648.7 1579.4 2650.7 1579.2 2652.7 1579 2654.7 1578.7 2656.7 1578.5 2658.6 1578.3 2660.6 1578.1 2662.6 1577.9 2664.6 1577.8 2666.5 1577.6 2668.5 1577.4 2670.5 1577.3 2672.5 1577.2 2674.4 1577 2676.4 1576.9 2678.4 1576.8 2680.4 1576.7 2682.4 1576.6 2684.3 1576.5 2686.3 1576.5 2688.3 1576.4 2690.3 1576.3 2692.2 1576.3 2694.2 1576.3 2696.2 1576.3 2698.2 1576.2 2700.2 1576.2 2702.1 1576.3 2704.1 1576.3 2706.1 1576.3 2708.1 1576.3 2710 1576.4 2712 1576.5 2714 1576.5 2716 1576.6 2717.9 1576.7 2719.9 1576.8 2721.9 1576.9 2723.9 1577 2725.9 1577.1 2727.8 1577.3 2729.8 1577.4 2731.8 1577.6 2733.8 1577.7 2735.7 1577.9 2737.7 1578.1 2739.7 1578.3 2741.7 1578.5 2743.7 1578.7 2745.6 1578.9 2747.6 1579.2 2749.6 1579.4 2751.6 1579.7 2753.5 1579.9 2755.5 1580.2 2757.5 1580.5 2759.5 1580.7 2761.4 1581 2763.4 1581.3 2765.4 1581.6 2767.4 1582 2769.4 1582.3 2771.3 1582.6 2773.3 1583 2775.3 1583.3 2777.3 1583.7 2779.2 1584 2781.2 1584.4 2783.2 1584.8 2785.2 1585.2 2787.2 1585.6 2789.1 1586 2791.1 1586.4 2793.1 1586.8 2795.1 1587.2 2797 1587.6 2799 1588.1 2801 1588.5 2803 1588.9 2804.9 1589.4 2806.9 1589.9 2808.9 1590.3 2810.9 1590.8 2812.9 1591.3 2814.8 1591.8 2816.8 1592.2 2818.8 1592.7 2820.8 1593.2 2822.7 1593.7 2824.7 1594.2 2826.7 1594.7 2828.7 1595.3 2830.7 1595.8 2832.6 1596.3 2834.6 1596.8 2836.6 1597.4 2838.6 1597.9 2840.5 1598.4 2842.5 1599 2844.5 1599.5 2846.5 1600.1 2848.4 1600.6 2850.4 1601.2 2852.4 1601.7 2854.4 1602.3 2856.4 1602.9 2858.3 1603.4 2860.3 1604 2862.3 1604.6 2864.3 1605.1 2866.2 1605.7 2868.2 1606.3 2870.2 1606.9 2872.2 1607.4 2874.2 1608 2876.1 1608.6 2878.1 1609.2 2880.1 1609.8 2882.1 1610.3 2884 1610.9 2886 1611.5 2888 1612.1 2890 1612.7 2891.9 1613.3 2893.9 1613.8 2895.9 1614.4 2897.9 1615 2899.9 1615.6 2901.8 1616.2 2903.8 1616.8 2905.8 1617.3 2907.8 1617.9 2909.7 1618.5 2911.7 1619.1 2913.7 1619.7 2915.7 1620.2 2917.6 1620.8 2919.6 1621.4 2921.6 1621.9 2923.6 1622.5 2925.6 1623.1 2927.5 1623.7 2929.5 1624.2 2931.5 1624.8 2933.5 1625.3 2935.4 1625.9 2937.4 1626.4 2939.4 1627 2941.4 1627.5 2943.4 1628.1 2945.3 1628.6 2947.3 1629.2 2949.3 1629.7 2951.3 1630.3 2953.2 1630.8 2955.2 1631.3 2957.2 1631.8 2959.2 1632.4 2961.1 1632.9 2963.1 1633.4 2965.1 1633.9 2967.1 1634.4 2969.1 1634.9 2971 1635.4 2973 1635.9 2975 1636.4 2977 1636.9 2978.9 1637.4 2980.9 1637.9 2982.9 1638.4 2984.9 1638.8 2986.9 1639.3 2988.8 1639.8 2990.8 1640.2 2992.8 1640.7 2994.8 1641.2 2996.7 1641.6 2998.7 1642 3000.7 1642.5 3002.7 1642.9 3004.6 1643.4 3006.6 1643.8 3008.6 1644.2 3010.6 1644.6 3012.6 1645.1 3014.5 1645.5 3016.5 1645.9 3018.5 1646.3 3020.5 1646.7 3022.4 1647.1 3024.4 1647.5 3026.4 1647.8 3028.4 1648.2 3030.4 1648.6 3032.3 1649 3034.3 1649.3 3036.3 1649.7 3038.3 1650.1 3040.2 1650.4 3042.2 1650.8 3044.2 1651.1 3046.2 1651.5 3048.1 1651.8 3050.1 1652.1 3052.1 1652.5 3054.1 1652.8 3056.1 1653.1 3058 1653.4 3060 1653.7 3062 1654 3064 1654.3 3065.9 1654.6 3067.9 1654.9 3069.9 1655.2 3071.9 1655.5 3073.9 1655.8 3075.8 1656.1 3077.8 1656.3 3079.8 1656.6 3081.8 1656.9 3083.7 1657.1 3085.7 1657.4 3087.7 1657.6 3089.7 1657.9 3091.6 1658.1 3093.6 1658.4" fill="none" stroke="#30d065" stroke-width="3.3" stroke-linejoin="round" stroke-linecap="butt"/>
<path d="M2105 1669.7 2107 1669.7 2109 1669.7 2110.9 1669.7 2112.9 1669.7 2114.9 1669.7 2116.9 1669.7 2118.8 1669.7 2120.8 1669.7 2122.8 1669.7 2124.8 1669.7 2126.7 1669.7 2128.7 1669.7 2130.7 1669.7 2132.7 1669.7 2134.7 1669.7 2136.6 1669.7 2138.6 1669.7 2140.6 1669.7 2142.6 1669.7 2144.5 1669.7 2146.5 1669.7 2148.5 1669.7 2150.5 1669.7 2152.5 1669.7 2154.4 1669.7 2156.4 1669.7 2158.4 1669.7 2160.4 1669.7 2162.3 1669.7 2164.3 1669.7 2166.3 1669.7 2168.3 1669.7 2170.2 1669.7 2172.2 1669.7 2174.2 1669.7 2176.2 1669.7 2178.2 1669.7 2180.1 1669.7 2182.1 1669.7 2184.1 1669.7 2186.1 1669.7 2188 1669.7 2190 1669.7 2192 1669.7 2194 1669.7 2196 1669.7 2197.9 1669.7 2199.9 1669.7 2201.9 1669.7 2203.9 1669.7 2205.8 1669.7 2207.8 1669.7 2209.8 1669.7 2211.8 1669.7 2213.7 1669.7 2215.7 1669.7 2217.7 1669.7 2219.7 1669.7 2221.7 1669.7 2223.6 1669.7 2225.6 1669.7 2227.6 1669.7 2229.6 1669.7 2231.5 1669.7 2233.5 1669.7 2235.5 1669.7 2237.5 1669.7 2239.5 1669.7 2241.4 1669.7 2243.4 1669.7 2245.4 1669.7 2247.4 1669.7 2249.3 1669.7 2251.3 1669.7 2253.3 1669.7 2255.3 1669.7 2257.2 1669.7 2259.2 1669.7 2261.2 1669.7 2263.2 1669.7 2265.2 1669.7 2267.1 1669.7 2269.1 1669.7 2271.1 1669.7 2273.1 1669.7 2275 1669.7 2277 1669.7 2279 1669.7 2281 1669.7 2283 1669.7 2284.9 1669.7 2286.9 1669.7 2288.9 1669.7 2290.9 1669.7 2292.8 1669.7 2294.8 1669.7 2296.8 1669.7 2298.8 1669.7 2300.7 1669.7 2302.7 1669.7 2304.7 1669.7 2306.7 1669.7 2308.7 1669.7 2310.6 1669.7 2312.6 1669.7 2314.6 1669.7 2316.6 1669.7 2318.5 1669.7 2320.5 1669.7 2322.5 1669.7 2324.5 1669.7 2326.5 1669.7 2328.4 1669.7 2330.4 1669.7 2332.4 1669.7 2334.4 1669.7 2336.3 1669.7 2338.3 1669.7 2340.3 1669.7 2342.3 1669.7 2344.2 1669.7 2346.2 1669.7 2348.2 1669.7 2350.2 1669.7 2352.2 1669.7 2354.1 1669.7 2356.1 1669.7 2358.1 1669.7 2360.1 1669.7 2362 1669.7 2364 1669.7 2366 1669.7 2368 1669.7 2370 1669.7 2371.9 1669.7 2373.9 1669.7 2375.9 1669.7 2377.9 1669.7 2379.8 1669.7 2381.8 1669.7 2383.8 1669.7 2385.8 1669.7 2387.7 1669.7 2389.7 1669.7 2391.7 1669.7 2393.7 1669.7 2395.7 1669.7 2397.6 1669.7 2399.6 1669.7 2401.6 1669.7 2403.6 1669.7 2405.5 1669.7 2407.5 1669.7 2409.5 1669.7 2411.5 1669.7 2413.5 1669.7 2415.4 1669.7 2417.4 1669.7 2419.4 1669.7 2421.4 1669.7 2423.3 1669.7 2425.3 1669.7 2427.3 1669.7 2429.3 1669.7 2431.2 1669.7 2433.2 1669.7 2435.2 1669.7 2437.2 1669.7 2439.2 1669.7 2441.1 1669.7 2443.1 1669.7 2445.1 1669.7 2447.1 1669.7 2449 1669.7 2451 1669.7 2453 1669.7 2455 1669.7 2457 1669.7 2458.9 1669.7 2460.9 1669.6 2462.9 1669.6 2464.9 1669.6 2466.8 1669.6 2468.8 1669.6 2470.8 1669.6 2472.8 1669.6 2474.7 1669.6 2476.7 1669.6 2478.7 1669.6 2480.7 1669.6 2482.7 1669.6 2484.6 1669.6 2486.6 1669.6 2488.6 1669.6 2490.6 1669.6 2492.5 1669.5 2494.5 1669.5 2496.5 1669.5 2498.5 1669.5 2500.4 1669.4 2502.4 1669.4 2504.4 1669.4 2506.4 1669.3 2508.4 1669.3 2510.3 1669.2 2512.3 1669.2 2514.3 1669.1 2516.3 1669 2518.2 1668.9 2520.2 1668.8 2522.2 1668.7 2524.2 1668.6 2526.2 1668.5 2528.1 1668.3 2530.1 1668.2 2532.1 1668 2534.1 1667.8 2536 1667.5 2538 1667.3 2540 1667 2542 1666.7 2543.9 1666.4 2545.9 1666.1 2547.9 1665.7 2549.9 1665.3 2551.9 1664.8 2553.8 1664.3 2555.8 1663.8 2557.8 1663.2 2559.8 1662.6 2561.7 1661.9 2563.7 1661.2 2565.7 1660.4 2567.7 1659.6 2569.7 1658.8 2571.6 1657.8 2573.6 1656.9 2575.6 1655.8 2577.6 1654.7 2579.5 1653.6 2581.5 1652.3 2583.5 1651.1 2585.5 1649.7 2587.4 1648.3 2589.4 1646.8 2591.4 1645.3 2593.4 1643.7 2595.4 1642.1 2597.3 1640.4 2599.3 1638.7 2601.3 1636.9 2603.3 1635 2605.2 1633.1 2607.2 1631.2 2609.2 1629.2 2611.2 1627.2 2613.2 1625.2 2615.1 1623.2 2617.1 1621.1 2619.1 1619.1 2621.1 1617 2623 1615 2625 1613 2627 1611 2629 1609 2630.9 1607.1 2632.9 1605.2 2634.9 1603.3 2636.9 1601.6 2638.9 1599.9 2640.8 1598.2 2642.8 1596.7 2644.8 1595.2 2646.8 1593.9 2648.7 1592.6 2650.7 1591.5 2652.7 1590.4 2654.7 1589.5 2656.7 1588.7 2658.6 1588.1 2660.6 1587.6 2662.6 1587.2 2664.6 1586.9 2666.5 1586.8 2668.5 1586.8 2670.5 1587 2672.5 1587.3 2674.4 1587.7 2676.4 1588.3 2678.4 1589 2680.4 1589.8 2682.4 1590.7 2684.3 1591.8 2686.3 1593 2688.3 1594.3 2690.3 1595.6 2692.2 1597.1 2694.2 1598.7 2696.2 1600.4 2698.2 1602.1 2700.2 1603.9 2702.1 1605.7 2704.1 1607.6 2706.1 1609.6 2708.1 1611.6 2710 1613.6 2712 1615.6 2714 1617.6 2716 1619.7 2717.9 1621.7 2719.9 1623.8 2721.9 1625.8 2723.9 1627.8 2725.9 1629.8 2727.8 1631.8 2729.8 1633.7 2731.8 1635.6 2733.8 1637.4 2735.7 1639.2 2737.7 1640.9 2739.7 1642.6 2741.7 1644.2 2743.7 1645.8 2745.6 1647.3 2747.6 1648.7 2749.6 1650.1 2751.6 1651.4 2753.5 1652.7 2755.5 1653.9 2757.5 1655.1 2759.5 1656.1 2761.4 1657.2 2763.4 1658.1 2765.4 1659 2767.4 1659.9 2769.4 1660.7 2771.3 1661.4 2773.3 1662.1 2775.3 1662.8 2777.3 1663.4 2779.2 1663.9 2781.2 1664.5 2783.2 1664.9 2785.2 1665.4 2787.2 1665.8 2789.1 1666.2 2791.1 1666.5 2793.1 1666.8 2795.1 1667.1 2797 1667.4 2799 1667.6 2801 1667.8 2803 1668 2804.9 1668.2 2806.9 1668.4 2808.9 1668.5 2810.9 1668.6 2812.9 1668.8 2814.8 1668.9 2816.8 1669 2818.8 1669 2820.8 1669.1 2822.7 1669.2 2824.7 1669.2 2826.7 1669.3 2828.7 1669.3 2830.7 1669.4 2832.6 1669.4 2834.6 1669.4 2836.6 1669.5 2838.6 1669.5 2840.5 1669.5 2842.5 1669.5 2844.5 1669.6 2846.5 1669.6 2848.4 1669.6 2850.4 1669.6 2852.4 1669.6 2854.4 1669.6 2856.4 1669.6 2858.3 1669.6 2860.3 1669.6 2862.3 1669.6 2864.3 1669.6 2866.2 1669.6 2868.2 1669.6 2870.2 1669.6 2872.2 1669.6 2874.2 1669.6 2876.1 1669.7 2878.1 1669.7 2880.1 1669.7 2882.1 1669.7 2884 1669.7 2886 1669.7 2888 1669.7 2890 1669.7 2891.9 1669.7 2893.9 1669.7 2895.9 1669.7 2897.9 1669.7 2899.9 1669.7 2901.8 1669.7 2903.8 1669.7 2905.8 1669.7 2907.8 1669.7 2909.7 1669.7 2911.7 1669.7 2913.7 1669.7 2915.7 1669.7 2917.6 1669.7 2919.6 1669.7 2921.6 1669.7 2923.6 1669.7 2925.6 1669.7 2927.5 1669.7 2929.5 1669.7 2931.5 1669.7 2933.5 1669.7 2935.4 1669.7 2937.4 1669.7 2939.4 1669.7 2941.4 1669.7 2943.4 1669.7 2945.3 1669.7 2947.3 1669.7 2949.3 1669.7 2951.3 1669.7 2953.2 1669.7 2955.2 1669.7 2957.2 1669.7 2959.2 1669.7 2961.1 1669.7 2963.1 1669.7 2965.1 1669.7 2967.1 1669.7 2969.1 1669.7 2971 1669.7 2973 1669.7 2975 1669.7 2977 1669.7 2978.9 1669.7 2980.9 1669.7 2982.9 1669.7 2984.9 1669.7 2986.9 1669.7 2988.8 1669.7 2990.8 1669.7 2992.8 1669.7 2994.8 1669.7 2996.7 1669.7 2998.7 1669.7 3000.7 1669.7 3002.7 1669.7 3004.6 1669.7 3006.6 1669.7 3008.6 1669.7 3010.6 1669.7 3012.6 1669.7 3014.5 1669.7 3016.5 1669.7 3018.5 1669.7 3020.5 1669.7 3022.4 1669.7 3024.4 1669.7 3026.4 1669.7 3028.4 1669.7 3030.4 1669.7 3032.3 1669.7 3034.3 1669.7 3036.3 1669.7 3038.3 1669.7 3040.2 1669.7 3042.2 1669.7 3044.2 1669.7 3046.2 1669.7 3048.1 1669.7 3050.1 1669.7 3052.1 1669.7 3054.1 1669.7 3056.1 1669.7 3058 1669.7 3060 1669.7 3062 1669.7 3064 1669.7 3065.9 1669.7 3067.9 1669.7 3069.9 1669.7 3071.9 1669.7 3073.9 1669.7 3075.8 1669.7 3077.8 1669.7 3079.8 1669.7 3081.8 1669.7 3083.7 1669.7 3085.7 1669.7 3087.7 1669.7 3089.7 1669.7 3091.6 1669.7 3093.6 1669.7" fill="none" stroke="#30d065" stroke-width="3.3" stroke-linejoin="round" stroke-linecap="butt"/>
<path d="M2105 1669.7 2107 1669.7 2109 1669.7 2110.9 1669.7 2112.9 1669.7 2114.9 1669.7 2116.9 1669.7 2118.8 1669.7 2120.8 1669.7 2122.8 1669.7 2124.8 1669.7 2126.7 1669.7 2128.7 1669.7 2130.7 1669.7 2132.7 1669.7 2134.7 1669.7 2136.6 1669.7 2138.6 1669.7 2140.6 1669.7 2142.6 1669.7 2144.5 1669.7 2146.5 1669.7 2148.5 1669.7 2150.5 1669.7 2152.5 1669.7 2154.4 1669.7 2156.4 1669.7 2158.4 1669.7 2160.4 1669.7 2162.3 1669.7 2164.3 1669.7 2166.3 1669.7 2168.3 1669.7 2170.2 1669.7 2172.2 1669.7 2174.2 1669.7 2176.2 1669.7 2178.2 1669.7 2180.1 1669.7 2182.1 1669.7 2184.1 1669.7 2186.1 1669.7 2188 1669.7 2190 1669.7 2192 1669.7 2194 1669.7 2196 1669.7 2197.9 1669.7 2199.9 1669.7 2201.9 1669.7 2203.9 1669.7 2205.8 1669.7 2207.8 1669.7 2209.8 1669.7 2211.8 1669.7 2213.7 1669.7 2215.7 1669.7 2217.7 1669.7 2219.7 1669.7 2221.7 1669.7 2223.6 1669.7 2225.6 1669.7 2227.6 1669.7 2229.6 1669.7 2231.5 1669.7 2233.5 1669.7 2235.5 1669.7 2237.5 1669.7 2239.5 1669.7 2241.4 1669.7 2243.4 1669.7 2245.4 1669.7 2247.4 1669.7 2249.3 1669.7 2251.3 1669.7 2253.3 1669.7 2255.3 1669.7 2257.2 1669.7 2259.2 1669.7 2261.2 1669.7 2263.2 1669.7 2265.2 1669.7 2267.1 1669.7 2269.1 1669.7 2271.1 1669.7 2273.1 1669.7 2275 1669.7 2277 1669.7 2279 1669.7 2281 1669.7 2283 1669.7 2284.9 1669.7 2286.9 1669.7 2288.9 1669.7 2290.9 1669.7 2292.8 1669.7 2294.8 1669.7 2296.8 1669.7 2298.8 1669.7 2300.7 1669.7 2302.7 1669.7 2304.7 1669.7 2306.7 1669.7 2308.7 1669.7 2310.6 1669.7 2312.6 1669.7 2314.6 1669.7 2316.6 1669.7 2318.5 1669.7 2320.5 1669.7 2322.5 1669.7 2324.5 1669.7 2326.5 1669.7 2328.4 1669.7 2330.4 1669.7 2332.4 1669.7 2334.4 1669.7 2336.3 1669.7 2338.3 1669.7 2340.3 1669.7 2342.3 1669.7 2344.2 1669.7 2346.2 1669.7 2348.2 1669.7 2350.2 1669.7 2352.2 1669.7 2354.1 1669.7 2356.1 1669.7 2358.1 1669.7 2360.1 1669.7 2362 1669.7 2364 1669.7 2366 1669.7 2368 1669.7 2370 1669.7 2371.9 1669.7 2373.9 1669.7 2375.9 1669.7 2377.9 1669.7 2379.8 1669.7 2381.8 1669.7 2383.8 1669.7 2385.8 1669.7 2387.7 1669.7 2389.7 1669.7 2391.7 1669.7 2393.7 1669.7 2395.7 1669.7 2397.6 1669.7 2399.6 1669.7 2401.6 1669.7 2403.6 1669.7 2405.5 1669.7 2407.5 1669.7 2409.5 1669.7 2411.5 1669.7 2413.5 1669.7 2415.4 1669.7 2417.4 1669.7 2419.4 1669.7 2421.4 1669.7 2423.3 1669.7 2425.3 1669.7 2427.3 1669.7 2429.3 1669.7 2431.2 1669.7 2433.2 1669.7 2435.2 1669.7 2437.2 1669.7 2439.2 1669.7 2441.1 1669.7 2443.1 1669.7 2445.1 1669.7 2447.1 1669.7 2449 1669.7 2451 1669.7 2453 1669.7 2455 1669.7 2457 1669.7 2458.9 1669.7 2460.9 1669.7 2462.9 1669.7 2464.9 1669.7 2466.8 1669.7 2468.8 1669.7 2470.8 1669.7 2472.8 1669.7 2474.7 1669.7 2476.7 1669.7 2478.7 1669.7 2480.7 1669.7 2482.7 1669.7 2484.6 1669.7 2486.6 1669.7 2488.6 1669.7 2490.6 1669.7 2492.5 1669.7 2494.5 1669.7 2496.5 1669.7 2498.5 1669.7 2500.4 1669.7 2502.4 1669.7 2504.4 1669.7 2506.4 1669.7 2508.4 1669.7 2510.3 1669.7 2512.3 1669.7 2514.3 1669.7 2516.3 1669.7 2518.2 1669.7 2520.2 1669.7 2522.2 1669.7 2524.2 1669.7 2526.2 1669.7 2528.1 1669.7 2530.1 1669.7 2532.1 1669.7 2534.1 1669.7 2536 1669.7 2538 1669.7 2540 1669.7 2542 1669.7 2543.9 1669.7 2545.9 1669.7 2547.9 1669.7 2549.9 1669.7 2551.9 1669.7 2553.8 1669.7 2555.8 1669.7 2557.8 1669.7 2559.8 1669.7 2561.7 1669.7 2563.7 1669.7 2565.7 1669.7 2567.7 1669.7 2569.7 1669.7 2571.6 1669.7 2573.6 1669.7 2575.6 1669.7 2577.6 1669.7 2579.5 1669.7 2581.5 1669.7 2583.5 1669.7 2585.5 1669.7 2587.4 1669.7 2589.4 1669.7 2591.4 1669.7 2593.4 1669.7 2595.4 1669.7 2597.3 1669.7 2599.3 1669.7 2601.3 1669.7 2603.3 1669.7 2605.2 1669.7 2607.2 1669.7 2609.2 1669.7 2611.2 1669.6 2613.2 1669.6 2615.1 1669.6 2617.1 1669.6 2619.1 1669.6 2621.1 1669.6 2623 1669.6 2625 1669.6 2627 1669.6 2629 1669.6 2630.9 1669.6 2632.9 1669.6 2634.9 1669.5 2636.9 1669.5 2638.9 1669.5 2640.8 1669.5 2642.8 1669.4 2644.8 1669.4 2646.8 1669.3 2648.7 1669.2 2650.7 1669.2 2652.7 1669.1 2654.7 1669 2656.7 1668.8 2658.6 1668.7 2660.6 1668.5 2662.6 1668.4 2664.6 1668.2 2666.5 1667.9 2668.5 1667.6 2670.5 1667.3 2672.5 1667 2674.4 1666.6 2676.4 1666.1 2678.4 1665.6 2680.4 1665.1 2682.4 1664.4 2684.3 1663.7 2686.3 1663 2688.3 1662.1 2690.3 1661.2 2692.2 1660.2 2694.2 1659 2696.2 1657.8 2698.2 1656.5 2700.2 1655.1 2702.1 1653.5 2704.1 1651.8 2706.1 1650 2708.1 1648.1 2710 1646 2712 1643.8 2714 1641.5 2716 1639.1 2717.9 1636.5 2719.9 1633.8 2721.9 1631 2723.9 1628.1 2725.9 1625.1 2727.8 1622 2729.8 1618.8 2731.8 1615.5 2733.8 1612.2 2735.7 1608.8 2737.7 1605.4 2739.7 1602 2741.7 1598.5 2743.7 1595.1 2745.6 1591.8 2747.6 1588.5 2749.6 1585.3 2751.6 1582.1 2753.5 1579.1 2755.5 1576.3 2757.5 1573.6 2759.5 1571 2761.4 1568.7 2763.4 1566.6 2765.4 1564.7 2767.4 1563.1 2769.4 1561.7 2771.3 1560.6 2773.3 1559.7 2775.3 1559.2 2777.3 1558.9 2779.2 1558.9 2781.2 1559.2 2783.2 1559.8 2785.2 1560.7 2787.2 1561.8 2789.1 1563.2 2791.1 1564.9 2793.1 1566.8 2795.1 1568.9 2797 1571.3 2799 1573.8 2801 1576.5 2803 1579.4 2804.9 1582.4 2806.9 1585.5 2808.9 1588.8 2810.9 1592.1 2812.9 1595.5 2814.8 1598.9 2816.8 1602.3 2818.8 1605.7 2820.8 1609.1 2822.7 1612.5 2824.7 1615.8 2826.7 1619.1 2828.7 1622.3 2830.7 1625.4 2832.6 1628.4 2834.6 1631.3 2836.6 1634.1 2838.6 1636.8 2840.5 1639.3 2842.5 1641.8 2844.5 1644.1 2846.5 1646.2 2848.4 1648.3 2850.4 1650.2 2852.4 1652 2854.4 1653.6 2856.4 1655.2 2858.3 1656.6 2860.3 1657.9 2862.3 1659.2 2864.3 1660.3 2866.2 1661.3 2868.2 1662.2 2870.2 1663.1 2872.2 1663.8 2874.2 1664.5 2876.1 1665.1 2878.1 1665.7 2880.1 1666.2 2882.1 1666.6 2884 1667 2886 1667.4 2888 1667.7 2890 1667.9 2891.9 1668.2 2893.9 1668.4 2895.9 1668.6 2897.9 1668.7 2899.9 1668.9 2901.8 1669 2903.8 1669.1 2905.8 1669.2 2907.8 1669.2 2909.7 1669.3 2911.7 1669.4 2913.7 1669.4 2915.7 1669.5 2917.6 1669.5 2919.6 1669.5 2921.6 1669.5 2923.6 1669.6 2925.6 1669.6 2927.5 1669.6 2929.5 1669.6 2931.5 1669.6 2933.5 1669.6 2935.4 1669.6 2937.4 1669.6 2939.4 1669.6 2941.4 1669.6 2943.4 1669.6 2945.3 1669.6 2947.3 1669.7 2949.3 1669.7 2951.3 1669.7 2953.2 1669.7 2955.2 1669.7 2957.2 1669.7 2959.2 1669.7 2961.1 1669.7 2963.1 1669.7 2965.1 1669.7 2967.1 1669.7 2969.1 1669.7 2971 1669.7 2973 1669.7 2975 1669.7 2977 1669.7 2978.9 1669.7 2980.9 1669.7 2982.9 1669.7 2984.9 1669.7 2986.9 1669.7 2988.8 1669.7 2990.8 1669.7 2992.8 1669.7 2994.8 1669.7 2996.7 1669.7 2998.7 1669.7 3000.7 1669.7 3002.7 1669.7 3004.6 1669.7 3006.6 1669.7 3008.6 1669.7 3010.6 1669.7 3012.6 1669.7 3014.5 1669.7 3016.5 1669.7 3018.5 1669.7 3020.5 1669.7 3022.4 1669.7 3024.4 1669.7 3026.4 1669.7 3028.4 1669.7 3030.4 1669.7 3032.3 1669.7 3034.3 1669.7 3036.3 1669.7 3038.3 1669.7 3040.2 1669.7 3042.2 1669.7 3044.2 1669.7 3046.2 1669.7 3048.1 1669.7 3050.1 1669.7 3052.1 1669.7 3054.1 1669.7 3056.1 1669.7 3058 1669.7 3060 1669.7 3062 1669.7 3064 1669.7 3065.9 1669.7 3067.9 1669.7 3069.9 1669.7 3071.9 1669.7 3073.9 1669.7 3075.8 1669.7 3077.8 1669.7 3079.8 1669.7 3081.8 1669.7 3083.7 1669.7 3085.7 1669.7 3087.7 1669.7 3089.7 1669.7 3091.6 1669.7 3093.6 1669.7" fill="none" stroke="#30d065" stroke-width="3.3" stroke-linejoin="round" stroke-linecap="butt"/>
<path d="M2105 1669.7 3093.7 1669.7" fill="none" stroke="#0a4ff0" stroke-width="3.3" stroke-linejoin="round" stroke-linecap="butt"/>
<path d="M2152.8 1669.7 2153.7 1669.7 2154.7 1669.7 2155.7 1669.7 2156.7 1669.6 2157.7 1669.6 2158.7 1669.6 2159.7 1669.6 2160.7 1669.6 2161.7 1669.5 2162.6 1669.5 2163.6 1669.4 2164.6 1669.2 2165.6 1669 2166.6 1668.7 2167.6 1668.3 2168.6 1667.8 2169.6 1667.1 2170.6 1666.3 2171.5 1665.3 2172.5 1664 2173.5 1662.6 2174.5 1660.9 2175.5 1659.1 2176.5 1657.1 2177.5 1655.1 2178.5 1653 2179.5 1651 2180.4 1649.1 2181.4 1647.5 2182.4 1646.3 2183.4 1645.4 2184.4 1645 2185.4 1645 2186.4 1645.5 2187.4 1646.5 2188.3 1647.8 2189.3 1649.5 2190.3 1651.4 2191.3 1653.4 2192.3 1655.5 2193.3 1657.5 2194.3 1659.5 2195.3 1661.3 2196.3 1662.9 2197.2 1664.3 2198.2 1665.5 2199.2 1666.5 2200.2 1667.3 2201.2 1667.9 2202.2 1668.4 2203.2 1668.8 2204.2 1669.1 2205.2 1669.2 2206.1 1669.4 2207.1 1669.5 2208.1 1669.5 2209.1 1669.6 2210.1 1669.6 2211.1 1669.6 2212.1 1669.6 2213.1 1669.6 2214.1 1669.7 2215 1669.7 2216 1669.7 2217 1669.7" fill="none" stroke="#0a4ff0" stroke-width="3.3" stroke-linejoin="round" stroke-linecap="butt"/>
<path d="M2275.3 1669.7 2276.3 1669.7 2277.3 1669.7 2278.3 1669.7 2279.3 1669.7 2280.3 1669.7 2281.3 1669.7 2282.3 1669.6 2283.3 1669.6 2284.2 1669.6 2285.2 1669.6 2286.2 1669.6 2287.2 1669.5 2288.2 1669.5 2289.2 1669.4 2290.2 1669.3 2291.2 1669.2 2292.2 1669 2293.1 1668.8 2294.1 1668.5 2295.1 1668.2 2296.1 1667.8 2297.1 1667.4 2298.1 1666.9 2299.1 1666.3 2300.1 1665.7 2301.1 1665.1 2302 1664.4 2303 1663.7 2304 1663.1 2305 1662.6 2306 1662.1 2307 1661.8 2308 1661.5 2309 1661.4 2309.9 1661.5 2310.9 1661.6 2311.9 1662 2312.9 1662.4 2313.9 1662.9 2314.9 1663.5 2315.9 1664.1 2316.9 1664.8 2317.9 1665.4 2318.8 1666.1 2319.8 1666.7 2320.8 1667.2 2321.8 1667.7 2322.8 1668.1 2323.8 1668.4 2324.8 1668.7 2325.8 1668.9 2326.8 1669.1 2327.7 1669.3 2328.7 1669.4 2329.7 1669.5 2330.7 1669.5 2331.7 1669.6 2332.7 1669.6 2333.7 1669.6 2334.7 1669.6 2335.7 1669.6 2336.6 1669.6 2337.6 1669.7 2338.6 1669.7 2339.6 1669.7 2340.6 1669.7 2341.6 1669.7 2342.6 1669.7" fill="none" stroke="#0a4ff0" stroke-width="3.3" stroke-linejoin="round" stroke-linecap="butt"/>
<path d="M2641.1 1669.7 2642.1 1669.7 2643.1 1669.7 2644.1 1669.7 2645.1 1669.7 2646.1 1669.7 2647.1 1669.6 2648.1 1669.6 2649 1669.6 2650 1669.6 2651 1669.6 2652 1669.5 2653 1669.5 2654 1669.4 2655 1669.3 2656 1669.1 2657 1668.9 2657.9 1668.6 2658.9 1668.2 2659.9 1667.8 2660.9 1667.3 2661.9 1666.6 2662.9 1665.9 2663.9 1665.2 2664.9 1664.3 2665.9 1663.4 2666.8 1662.6 2667.8 1661.7 2668.8 1660.9 2669.8 1660.2 2670.8 1659.7 2671.8 1659.3 2672.8 1659.1 2673.8 1659.1 2674.8 1659.4 2675.7 1659.8 2676.7 1660.3 2677.7 1661.1 2678.7 1661.9 2679.7 1662.7 2680.7 1663.6 2681.7 1664.5 2682.7 1665.3 2683.6 1666.1 2684.6 1666.8 2685.6 1667.4 2686.6 1667.9 2687.6 1668.3 2688.6 1668.7 2689.6 1668.9 2690.6 1669.1 2691.6 1669.3 2692.5 1669.4 2693.5 1669.5 2694.5 1669.5 2695.5 1669.6 2696.5 1669.6 2697.5 1669.6 2698.5 1669.6 2699.5 1669.6 2700.5 1669.7 2701.4 1669.7 2702.4 1669.7 2703.4 1669.7 2704.4 1669.7 2705.4 1669.7" fill="none" stroke="#0a4ff0" stroke-width="3.3" stroke-linejoin="round" stroke-linecap="butt"/>
<path d="M2670.1 1669.7 2671.1 1669.7 2672.1 1669.6 2673.1 1669.6 2674.1 1669.6 2675 1669.6 2676 1669.5 2677 1669.4 2678 1669.3 2679 1669.1 2680 1668.8 2681 1668.4 2682 1667.8 2683 1666.9 2683.9 1665.7 2684.9 1664.1 2685.9 1661.9 2686.9 1659.2 2687.9 1655.7 2688.9 1651.3 2689.9 1646.1 2690.9 1639.9 2691.9 1632.7 2692.8 1624.6 2693.8 1615.8 2694.8 1606.4 2695.8 1596.8 2696.8 1587.1 2697.8 1577.9 2698.8 1569.5 2699.8 1562.3 2700.8 1556.7 2701.7 1552.9 2702.7 1551.2 2703.7 1551.6 2704.7 1554.2 2705.7 1558.7 2706.7 1565 2707.7 1572.7 2708.7 1581.5 2709.6 1591 2710.6 1600.6 2711.6 1610.2 2712.6 1619.4 2713.6 1628 2714.6 1635.7 2715.6 1642.5 2716.6 1648.3 2717.6 1653.2 2718.5 1657.2 2719.5 1660.4 2720.5 1662.9 2721.5 1664.8 2722.5 1666.2 2723.5 1667.3 2724.5 1668 2725.5 1668.6 2726.5 1669 2727.4 1669.2 2728.4 1669.4 2729.4 1669.5 2730.4 1669.6 2731.4 1669.6 2732.4 1669.6 2733.4 1669.6 2734.4 1669.6 2735.4 1669.7 2736.3 1669.7" fill="none" stroke="#0a4ff0" stroke-width="3.3" stroke-linejoin="round" stroke-linecap="butt"/>
<path d="M2709.7 1669.7 2710.7 1669.7 2711.7 1669.7 2712.7 1669.7 2713.7 1669.6 2714.7 1669.6 2715.7 1669.6 2716.7 1669.6 2717.7 1669.6 2718.6 1669.5 2719.6 1669.5 2720.6 1669.4 2721.6 1669.2 2722.6 1669.1 2723.6 1668.8 2724.6 1668.4 2725.6 1668 2726.6 1667.4 2727.5 1666.6 2728.5 1665.6 2729.5 1664.5 2730.5 1663.1 2731.5 1661.5 2732.5 1659.6 2733.5 1657.6 2734.5 1655.4 2735.5 1653.1 2736.4 1650.7 2737.4 1648.4 2738.4 1646.2 2739.4 1644.2 2740.4 1642.5 2741.4 1641.2 2742.4 1640.4 2743.4 1640 2744.4 1640.1 2745.3 1640.8 2746.3 1641.9 2747.3 1643.5 2748.3 1645.4 2749.3 1647.5 2750.3 1649.8 2751.3 1652.1 2752.3 1654.5 2753.2 1656.7 2754.2 1658.8 2755.2 1660.8 2756.2 1662.5 2757.2 1664 2758.2 1665.2 2759.2 1666.2 2760.2 1667.1 2761.2 1667.7 2762.1 1668.3 2763.1 1668.7 2764.1 1669 2765.1 1669.2 2766.1 1669.3 2767.1 1669.4 2768.1 1669.5 2769.1 1669.6 2770.1 1669.6 2771 1669.6 2772 1669.6 2773 1669.6 2774 1669.7 2775 1669.7 2776 1669.7 2777 1669.7" fill="none" stroke="#0a4ff0" stroke-width="3.3" stroke-linejoin="round" stroke-linecap="butt"/>
<path d="M2970.7 1669.7 2971.7 1669.7 2972.7 1669.7 2973.7 1669.7 2974.7 1669.7 2975.7 1669.7 2976.7 1669.6 2977.7 1669.6 2978.7 1669.6 2979.6 1669.6 2980.6 1669.6 2981.6 1669.6 2982.6 1669.5 2983.6 1669.5 2984.6 1669.4 2985.6 1669.3 2986.6 1669.1 2987.6 1669 2988.5 1668.7 2989.5 1668.4 2990.5 1668.1 2991.5 1667.6 2992.5 1667.1 2993.5 1666.5 2994.5 1665.8 2995.5 1665 2996.4 1664.2 2997.4 1663.4 2998.4 1662.5 2999.4 1661.6 3000.4 1660.7 3001.4 1659.9 3002.4 1659.2 3003.4 1658.6 3004.4 1658.2 3005.3 1657.9 3006.3 1657.8 3007.3 1657.9 3008.3 1658.2 3009.3 1658.6 3010.3 1659.2 3011.3 1659.9 3012.3 1660.7 3013.3 1661.6 3014.2 1662.5 3015.2 1663.4 3016.2 1664.2 3017.2 1665 3018.2 1665.8 3019.2 1666.5 3020.2 1667.1 3021.2 1667.6 3022.2 1668.1 3023.1 1668.4 3024.1 1668.7 3025.1 1669 3026.1 1669.1 3027.1 1669.3 3028.1 1669.4 3029.1 1669.5 3030.1 1669.5 3031.1 1669.6 3032 1669.6 3033 1669.6 3034 1669.6 3035 1669.6 3036 1669.6 3037 1669.7 3038 1669.7 3039 1669.7 3039.9 1669.7 3040.9 1669.7 3041.9 1669.7" fill="none" stroke="#0a4ff0" stroke-width="3.3" stroke-linejoin="round" stroke-linecap="butt"/>
<path d="M2999.4 1669.7 3000.4 1669.7 3001.4 1669.7 3002.4 1669.7 3003.4 1669.7 3004.4 1669.7 3005.3 1669.6 3006.3 1669.6 3007.3 1669.6 3008.3 1669.6 3009.3 1669.6 3010.3 1669.6 3011.3 1669.5 3012.3 1669.4 3013.3 1669.3 3014.2 1669.2 3015.2 1669 3016.2 1668.8 3017.2 1668.5 3018.2 1668.2 3019.2 1667.7 3020.2 1667.2 3021.2 1666.6 3022.2 1665.9 3023.1 1665.1 3024.1 1664.2 3025.1 1663.2 3026.1 1662.1 3027.1 1661.1 3028.1 1660 3029.1 1659 3030.1 1658 3031.1 1657.1 3032 1656.4 3033 1655.9 3034 1655.6 3035 1655.5 3036 1655.6 3037 1655.9 3038 1656.4 3039 1657.1 3039.9 1658 3040.9 1659 3041.9 1660 3042.9 1661.1 3043.9 1662.1 3044.9 1663.2 3045.9 1664.2 3046.9 1665.1 3047.9 1665.9 3048.8 1666.6 3049.8 1667.2 3050.8 1667.7 3051.8 1668.2 3052.8 1668.5 3053.8 1668.8 3054.8 1669 3055.8 1669.2 3056.8 1669.3 3057.7 1669.4 3058.7 1669.5 3059.7 1669.6 3060.7 1669.6 3061.7 1669.6 3062.7 1669.6 3063.7 1669.6 3064.7 1669.6 3065.7 1669.7 3066.6 1669.7 3067.6 1669.7 3068.6 1669.7 3069.6 1669.7 3070.6 1669.7" fill="none" stroke="#0a4ff0" stroke-width="3.3" stroke-linejoin="round" stroke-linecap="butt"/>
<path d="M2102.7 1514.7 3095.3 1514.7" fill="none" stroke="#111" stroke-width="3.3" stroke-linejoin="round" stroke-linecap="butt" stroke-dasharray="3.3 13.2"/>
<path d="M2102.7 1513.9 2104.9 1514.8 2107.1 1515.3 2109.3 1515.1 2111.4 1515 2113.6 1514.9 2115.8 1514.7 2118 1514.2 2120.1 1513.8 2122.3 1513.5 2124.5 1513.2 2126.7 1513.5 2128.8 1513.8 2131 1513.8 2133.2 1513.9 2135.4 1514.4 2137.5 1514.9 2139.7 1514.5 2141.9 1514.2 2144.1 1514.6 2146.2 1514.9 2148.4 1514.1 2150.6 1513.3 2152.8 1514.3 2154.9 1515.3 2157.1 1515.1 2159.3 1514.8 2161.5 1514.6 2163.6 1514.4 2165.8 1514.1 2168 1513.8 2170.2 1514.4 2172.3 1515.3 2174.5 1515.3 2176.7 1514.9 2178.9 1515.2 2181 1515.6 2183.2 1515.9 2185.4 1516.4 2187.6 1515.5 2189.7 1513.9 2191.9 1513.4 2194.1 1513.8 2196.3 1514.6 2198.4 1515.8 2200.6 1516.3 2202.8 1516 2205 1515.4 2207.1 1514.5 2209.3 1514.2 2211.5 1514.9 2213.7 1515.4 2215.8 1515.7 2218 1515.5 2220.2 1514.2 2222.4 1513.4 2224.5 1514.4 2226.7 1515.2 2228.9 1515.1 2231.1 1515 2233.2 1514.5 2235.4 1514.1 2237.6 1514.8 2239.8 1515.4 2241.9 1515 2244.1 1514.6 2246.3 1514.5 2248.5 1514.5 2250.6 1514.1 2252.8 1513.8 2255 1514.6 2257.2 1515.4 2259.3 1514.6 2261.5 1513.6 2263.7 1513.7 2265.9 1514.2 2268 1513.6 2270.2 1512.8 2272.4 1513.2 2274.6 1514.1 2276.7 1514.7 2278.9 1515.1 2281.1 1515.3 2283.3 1515.3 2285.4 1515.5 2287.6 1515.8 2289.8 1515.6 2292 1515 2294.1 1514.7 2296.3 1514.7 2298.5 1514.5 2300.7 1513.9 2302.8 1513.7 2305 1514.2 2307.2 1514.8 2309.4 1515.3 2311.5 1515.4 2313.7 1514.2 2315.9 1513.6 2318.1 1514.5 2320.2 1515.1 2322.4 1514.7 2324.6 1514.2 2326.8 1513.5 2328.9 1512.9 2331.1 1513 2333.3 1513.2 2335.5 1514.4 2337.6 1515.6 2339.8 1515.2 2342 1514.8 2344.2 1513.9 2346.3 1513.1 2348.5 1513.2 2350.7 1513.4 2352.9 1513.7 2355 1514 2357.2 1513.8 2359.4 1513.6 2361.6 1515.1 2363.7 1517 2365.9 1516.5 2368.1 1515.4 2370.3 1515.6 2372.4 1516.3 2374.6 1516.2 2376.8 1515.7 2379 1515.4 2381.1 1515.2 2383.3 1514.9 2385.5 1514.3 2387.7 1513.9 2389.8 1513.4 2392 1513.3 2394.2 1513.6 2396.4 1513.8 2398.5 1514.2 2400.7 1514.5 2402.9 1514.9 2405.1 1514.8 2407.2 1513.8 2409.4 1513.2 2411.6 1513.9 2413.8 1514.7 2415.9 1516.1 2418.1 1516.8 2420.3 1515.7 2422.5 1514.8 2424.6 1514.4 2426.8 1514.2 2429 1515.2 2431.2 1516 2433.3 1515.2 2435.5 1514.4 2437.7 1513.5 2439.9 1512.7 2442 1513.9 2444.2 1515.1 2446.4 1515 2448.6 1514.9 2450.7 1514.8 2452.9 1514.8 2455.1 1515.4 2457.3 1516 2459.4 1515.9 2461.6 1515.5 2463.8 1515.7 2466 1516.1 2468.1 1515.9 2470.3 1515.4 2472.5 1515.5 2474.7 1515.8 2476.8 1515.2 2479 1513.9 2481.2 1513.8 2483.4 1514.6 2485.5 1514.6 2487.7 1513.9 2489.9 1514.3 2492.1 1515.9 2494.2 1516.3 2496.4 1515.4 2498.6 1514.6 2500.8 1514.2 2502.9 1513.9 2505.1 1513.8 2507.3 1514 2509.5 1515.1 2511.6 1515.7 2513.8 1515.3 2516 1514.9 2518.2 1514.8 2520.3 1514.7 2522.5 1515.1 2524.7 1515.4 2526.9 1515.4 2529 1515.4 2531.2 1514.7 2533.4 1514 2535.6 1515.4 2537.7 1516.8 2539.9 1517.3 2542.1 1517.8 2544.3 1516.8 2546.4 1515.7 2548.6 1515.1 2550.8 1514.4 2553 1516.2 2555.1 1518.3 2557.3 1516.2 2559.5 1513.2 2561.7 1513.3 2563.8 1514.4 2566 1514.3 2568.2 1513.9 2570.4 1514.6 2572.5 1515.9 2574.7 1515.9 2576.9 1515.2 2579.1 1513.9 2581.2 1512.1 2583.4 1511.3 2585.6 1511.2 2587.8 1511.7 2589.9 1512.9 2592.1 1514 2594.3 1514.9 2596.5 1515.3 2598.6 1515.2 2600.8 1514.5 2603 1512.9 2605.2 1512.6 2607.3 1514.8 2609.5 1516.6 2611.7 1516.8 2613.9 1516.9 2616 1515.9 2618.2 1515 2620.4 1513.7 2622.6 1512.9 2624.7 1515.4 2626.9 1517.5 2629.1 1515.7 2631.3 1513.9 2633.4 1513.9 2635.6 1513.9 2637.8 1514.2 2640 1514.5 2642.1 1514.9 2644.3 1515.3 2646.5 1514 2648.7 1512.5 2650.8 1512.7 2653 1513.2 2655.2 1515.7 2657.4 1518.6 2659.5 1515.8 2661.7 1511.2 2663.9 1511.1 2666.1 1513 2668.2 1513.7 2670.4 1513.9 2672.6 1514.7 2674.8 1515.8 2676.9 1516.2 2679.1 1516.1 2681.3 1518.2 2683.5 1522.1 2685.6 1522 2687.8 1518.1 2690 1515.2 2692.2 1513.6 2694.3 1512.6 2696.5 1512.5 2698.7 1513.5 2700.9 1516.4 2703 1519 2705.2 1523.3 2707.4 1525.2 2709.6 1522.3 2711.7 1519.6 2713.9 1517.8 2716.1 1515.9 2718.3 1512.9 2720.4 1511.1 2722.6 1516.2 2724.8 1520.6 2727 1517.7 2729.1 1515 2731.3 1514 2733.5 1513 2735.7 1512.9 2737.8 1512.8 2740 1514.1 2742.2 1515.4 2744.4 1520.1 2746.5 1525.2 2748.7 1520.4 2750.9 1514 2753.1 1513.7 2755.2 1514.4 2757.4 1514.1 2759.6 1513.3 2761.8 1516 2763.9 1517.7 2766.1 1518 2768.3 1517.2 2770.5 1514.6 2772.6 1511 2774.8 1511.3 2777 1513.9 2779.1 1506.1 2781.3 1500.9 2783.5 1500.6 2785.7 1504.8 2787.8 1516.1 2790 1512.9 2792.2 1512.6 2794.4 1517.7 2796.5 1520.2 2798.7 1518.2 2800.9 1516.3 2803.1 1514.7 2805.2 1513.7 2807.4 1514.5 2809.6 1514.8 2811.8 1513.3 2813.9 1512.2 2816.1 1513 2818.3 1513.7 2820.5 1512 2822.6 1510.9 2824.8 1513.3 2827 1515.6 2829.2 1515.4 2831.3 1515.3 2833.5 1514.7 2835.7 1514.3 2837.9 1516.6 2840 1519.2 2842.2 1515.9 2844.4 1512.7 2846.6 1515.9 2848.7 1517.2 2850.9 1505.9 2853.1 1498.3 2855.3 1497.1 2857.4 1499.1 2859.6 1507.2 2861.8 1512 2864 1514.8 2866.1 1516.8 2868.3 1517.1 2870.5 1517.4 2872.7 1518.5 2874.8 1520.3 2877 1519.7 2879.2 1516.9 2881.4 1514.6 2883.5 1514.3 2885.7 1512.6 2887.9 1512.4 2890.1 1515.2 2892.2 1520.2 2894.4 1524.1 2896.6 1525.6 2898.8 1524.7 2900.9 1525 2903.1 1524.9 2905.3 1523.5 2907.5 1522.5 2909.6 1522.9 2911.8 1523 2914 1522.5 2916.2 1522.1 2918.3 1521.6 2920.5 1520.9 2922.7 1517.9 2924.9 1511 2927 1502.5 2929.2 1489.9 2931.4 1476.9 2933.6 1467.6 2935.7 1468 2937.9 1473.1 2940.1 1485.8 2942.3 1498.2 2944.4 1505.4 2946.6 1510.7 2948.8 1513.2 2951 1515.3 2953.1 1516.1 2955.3 1517.1 2957.5 1519.8 2959.7 1523.1 2961.8 1526.3 2964 1529.4 2966.2 1530.1 2968.4 1528.9 2970.5 1526.8 2972.7 1525.6 2974.9 1523.8 2977.1 1521.4 2979.2 1520.6 2981.4 1521.6 2983.6 1521.9 2985.8 1521.6 2987.9 1523.2 2990.1 1525.4 2992.3 1526.8 2994.5 1527.4 2996.6 1528.4 2998.8 1527.4 3001 1525.7 3003.2 1521.1 3005.3 1514.7 3007.5 1512.9 3009.7 1513.3 3011.9 1513.3 3014 1513.4 3016.2 1514.3 3018.4 1515.1 3020.6 1514.7 3022.7 1514.4 3024.9 1513.8 3027.1 1513.3 3029.3 1514.7 3031.4 1516.1 3033.6 1514.5 3035.8 1512.8 3038 1513.6 3040.1 1514.7 3042.3 1513.9 3044.5 1512.9 3046.7 1512.1 3048.8 1511.4 3051 1511.7 3053.2 1512.2 3055.4 1513.8 3057.5 1515.7 3059.7 1515.2 3061.9 1513.7 3064.1 1513.7 3066.2 1514.7 3068.4 1515.2 3070.6 1515.3 3072.8 1515.2 3074.9 1515.1 3077.1 1515.3 3079.3 1516 3081.5 1515.9 3083.6 1514.9 3085.8 1514.6 3088 1515.3 3090.2 1515.2 3092.3 1514 3094.5 1513.4" fill="none" stroke="#111" stroke-width="2.2" stroke-linejoin="round" stroke-linecap="round" stroke-dasharray="0.1 4.2"/>
<path d="M2100.5 1476.6 2105 1476.6 2105 1477.9 2109.4 1477.9 2109.4 1477.6 2113.9 1477.6 2113.9 1477.3 2118.3 1477.3 2118.3 1476.4 2122.8 1476.4 2122.8 1475.7 2127.2 1475.7 2127.2 1475.8 2131.7 1475.8 2131.7 1475.7 2136.1 1475.7 2136.1 1476 2140.5 1476 2140.5 1475.2 2145 1475.2 2145 1474.8 2149.4 1474.8 2149.4 1473.4 2153.9 1473.4 2153.9 1474.4 2158.3 1474.4 2158.3 1473 2162.8 1473 2162.8 1471.1 2167.2 1471.1 2167.2 1468.7 2171.7 1468.7 2171.7 1463.7 2176.1 1463.7 2176.1 1458.1 2180.6 1458.1 2180.6 1455.5 2185 1455.5 2185 1455.1 2189.5 1455.1 2189.5 1455.9 2193.9 1455.9 2193.9 1465.3 2198.4 1465.3 2198.4 1469.5 2202.8 1469.5 2202.8 1470.6 2207.3 1470.6 2207.3 1470.8 2211.7 1470.8 2211.7 1473.3 2216.2 1473.3 2216.2 1473.8 2220.6 1473.8 2220.6 1472.6 2225.1 1472.6 2225.1 1474.7 2229.5 1474.7 2229.5 1474.6 2234 1474.6 2234 1474.3 2238.4 1474.3 2238.4 1475.5 2242.9 1475.5 2242.9 1474.7 2247.3 1474.7 2247.3 1474.1 2251.8 1474.1 2251.8 1473.7 2256.2 1473.7 2256.2 1474.3 2260.7 1474.3 2260.7 1472.3 2265.1 1472.3 2265.1 1471.9 2269.6 1471.9 2269.6 1470.2 2274 1470.2 2274 1471.4 2278.5 1471.4 2278.5 1472 2282.9 1472 2282.9 1472.1 2287.4 1472.1 2287.4 1472.2 2291.8 1472.2 2291.8 1471.1 2296.3 1471.1 2296.3 1468.3 2300.7 1468.3 2300.7 1465.3 2305.2 1465.3 2305.2 1465.5 2309.6 1465.5 2309.6 1465.4 2314.1 1465.4 2314.1 1464.5 2318.5 1464.5 2318.5 1466.2 2322.9 1466.2 2322.9 1465.4 2327.4 1465.4 2327.4 1464.5 2331.8 1464.5 2331.8 1465.6 2336.3 1465.6 2336.3 1468 2340.7 1468 2340.7 1467.6 2345.2 1467.6 2345.2 1466.3 2349.6 1466.3 2349.6 1466.3 2354.1 1466.3 2354.1 1466.2 2358.5 1466.2 2358.5 1466.4 2363 1466.4 2363 1468.6 2367.4 1468.6 2367.4 1466.8 2371.9 1466.8 2371.9 1467.5 2376.3 1467.5 2376.3 1466.3 2380.8 1466.3 2380.8 1465.4 2385.2 1465.4 2385.2 1464 2389.7 1464 2389.7 1461.9 2394.1 1461.9 2394.1 1461 2398.6 1461 2398.6 1461.3 2403 1461.3 2403 1461.1 2407.5 1461.1 2407.5 1459.4 2411.9 1459.4 2411.9 1460.7 2416.4 1460.7 2416.4 1462.1 2420.8 1462.1 2420.8 1460 2425.3 1460 2425.3 1459.6 2429.7 1459.6 2429.7 1460 2434.2 1460 2434.2 1457 2438.6 1457 2438.6 1454.8 2443.1 1454.8 2443.1 1455.5 2447.5 1455.5 2447.5 1454.5 2452 1454.5 2452 1453.9 2456.4 1453.9 2456.4 1454 2460.9 1454 2460.9 1452.8 2465.3 1452.8 2465.3 1452.3 2469.8 1452.3 2469.8 1450.7 2474.2 1450.7 2474.2 1449.9 2478.7 1449.9 2478.7 1447.3 2483.1 1447.3 2483.1 1447.1 2487.6 1447.1 2487.6 1444.2 2492 1444.2 2492 1443.9 2496.5 1443.9 2496.5 1439.8 2500.9 1439.8 2500.9 1436.8 2505.4 1436.8 2505.4 1436 2509.8 1436 2509.8 1439.3 2514.2 1439.3 2514.2 1438.2 2518.7 1438.2 2518.7 1437.7 2523.1 1437.7 2523.1 1438 2527.6 1438 2527.6 1437 2532 1437 2532 1435.7 2536.5 1435.7 2536.5 1437.4 2540.9 1437.4 2540.9 1436.4 2545.4 1436.4 2545.4 1433.1 2549.8 1433.1 2549.8 1431.6 2554.3 1431.6 2554.3 1432.3 2558.7 1432.3 2558.7 1424.7 2563.2 1424.7 2563.2 1423.4 2567.6 1423.4 2567.6 1420.5 2572.1 1420.5 2572.1 1418.5 2576.5 1418.5 2576.5 1413.1 2581 1413.1 2581 1407.3 2585.4 1407.3 2585.4 1403.3 2589.9 1403.3 2589.9 1400.4 2594.3 1400.4 2594.3 1398 2598.8 1398 2598.8 1391.7 2603.2 1391.7 2603.2 1381.3 2607.7 1381.3 2607.7 1379.1 2612.1 1379.1 2612.1 1374.6 2616.6 1374.6 2616.6 1367.3 2621 1367.3 2621 1360.1 2625.5 1360.1 2625.5 1357.4 2629.9 1357.4 2629.9 1349.5 2634.4 1349.5 2634.4 1344.8 2638.8 1344.8 2638.8 1341.1 2643.3 1341.1 2643.3 1336.6 2647.7 1336.6 2647.7 1329.9 2652.2 1329.9 2652.2 1327.6 2656.6 1327.6 2656.6 1325.8 2661.1 1325.8 2661.1 1308.3 2665.5 1308.3 2665.5 1302 2670 1302 2670 1296.2 2674.4 1296.2 2674.4 1291.9 2678.9 1291.9 2678.9 1286.9 2683.3 1286.9 2683.3 1282.4 2687.8 1282.4 2687.8 1251 2692.2 1251 2692.2 1221.7 2696.6 1221.7 2696.6 1197.6 2701.1 1197.6 2701.1 1184.2 2705.5 1184.2 2705.5 1208.5 2710 1208.5 2710 1228.4 2714.4 1228.4 2714.4 1248.7 2718.9 1248.7 2718.9 1266.8 2723.3 1266.8 2723.3 1285 2727.8 1285 2727.8 1281.6 2732.2 1281.6 2732.2 1273.5 2736.7 1273.5 2736.7 1262.8 2741.1 1262.8 2741.1 1256.8 2745.6 1256.8 2745.6 1258.6 2750 1258.6 2750 1248.8 2754.5 1248.8 2754.5 1248.9 2758.9 1248.9 2758.9 1267.3 2763.4 1267.3 2763.4 1273.5 2767.8 1273.5 2767.8 1269.8 2772.3 1269.8 2772.3 1262.2 2776.7 1262.2 2776.7 1256.3 2781.2 1256.3 2781.2 1249.2 2785.6 1249.2 2785.6 1268.1 2790.1 1268.1 2790.1 1269.2 2794.5 1269.2 2794.5 1280.9 2799 1280.9 2799 1281.5 2803.4 1281.5 2803.4 1284.5 2807.9 1284.5 2807.9 1294.2 2812.3 1294.2 2812.3 1303.3 2816.8 1303.3 2816.8 1319.8 2821.2 1319.8 2821.2 1321.1 2825.7 1321.1 2825.7 1319.5 2830.1 1319.5 2830.1 1334.6 2834.6 1334.6 2834.6 1348.8 2839 1348.8 2839 1362 2843.5 1362 2843.5 1363.1 2847.9 1363.1 2847.9 1362.2 2852.4 1362.2 2852.4 1351.3 2856.8 1351.3 2856.8 1362.9 2861.3 1362.9 2861.3 1376.9 2865.7 1376.9 2865.7 1384.6 2870.2 1384.6 2870.2 1390.3 2874.6 1390.3 2874.6 1394.4 2879.1 1394.4 2879.1 1391.7 2883.5 1391.7 2883.5 1392.1 2887.9 1392.1 2887.9 1397.4 2892.4 1397.4 2892.4 1409.2 2896.8 1409.2 2896.8 1412.6 2901.3 1412.6 2901.3 1415.4 2905.7 1415.4 2905.7 1415.9 2910.2 1415.9 2910.2 1418.1 2914.6 1418.1 2914.6 1419.1 2919.1 1419.1 2919.1 1418.9 2923.5 1418.9 2923.5 1408.2 2928 1408.2 2928 1385.8 2932.4 1385.8 2932.4 1371.4 2936.9 1371.4 2936.9 1385.3 2941.3 1385.3 2941.3 1409.9 2945.8 1409.9 2945.8 1420.6 2950.2 1420.6 2950.2 1425.6 2954.7 1425.6 2954.7 1429.7 2959.1 1429.7 2959.1 1437.5 2963.6 1437.5 2963.6 1443.2 2968 1443.2 2968 1440.9 2972.5 1440.9 2972.5 1438.5 2976.9 1438.5 2976.9 1435.8 2981.4 1435.8 2981.4 1437.1 2985.8 1437.1 2985.8 1438.3 2990.3 1438.3 2990.3 1441.6 2994.7 1441.6 2994.7 1441.4 2999.2 1441.4 2999.2 1436.6 3003.6 1436.6 3003.6 1421.5 3008.1 1421.5 3008.1 1418.7 3012.5 1418.7 3012.5 1422.9 3017 1422.9 3017 1429.6 3021.4 1429.6 3021.4 1432.8 3025.9 1432.8 3025.9 1433.4 3030.3 1433.4 3030.3 1433.7 3034.8 1433.7 3034.8 1430.9 3039.2 1430.9 3039.2 1433.4 3043.7 1433.4 3043.7 1435.8 3048.1 1435.8 3048.1 1440.5 3052.6 1440.5 3052.6 1448.1 3057 1448.1 3057 1454.1 3061.5 1454.1 3061.5 1454 3065.9 1454 3065.9 1454.9 3070.3 1454.9 3070.3 1455.3 3074.8 1455.3 3074.8 1456.2 3079.2 1456.2 3079.2 1457.8 3083.7 1457.8 3083.7 1457.7 3088.1 1457.7 3088.1 1459.6 3092.6 1459.6 3092.6 1458.5 3097 1458.5" fill="none" stroke="#111" stroke-width="4.2" stroke-linejoin="miter" stroke-linecap="butt"/>
<path d="M2102.7 1477.3 2103.7 1477.3 2104.7 1477.3 2105.7 1477.3 2106.7 1477.3 2107.7 1477.3 2108.7 1477.3 2109.7 1477.3 2110.6 1477.3 2111.6 1477.3 2112.6 1477.3 2113.6 1477.3 2114.6 1477.3 2115.6 1477.3 2116.6 1477.3 2117.6 1477.3 2118.6 1477.3 2119.5 1477.3 2120.5 1477.3 2121.5 1477.3 2122.5 1477.3 2123.5 1477.2 2124.5 1477.2 2125.5 1477.1 2126.5 1477 2127.4 1476.9 2128.4 1476.8 2129.4 1476.7 2130.4 1476.6 2131.4 1476.6 2132.4 1476.5 2133.4 1476.4 2134.4 1476.3 2135.4 1476.2 2136.3 1476.1 2137.3 1476 2138.3 1475.9 2139.3 1475.9 2140.3 1475.8 2141.3 1475.7 2142.3 1475.6 2143.3 1475.4 2144.3 1475.3 2145.2 1475.2 2146.2 1475.1 2147.2 1474.9 2148.2 1474.8 2149.2 1474.7 2150.2 1474.6 2151.2 1474.5 2152.2 1474.3 2153.2 1474.2 2154.1 1474.1 2155.1 1474 2156.1 1473.8 2157.1 1473.7 2158.1 1473.6 2159.1 1473.5 2160.1 1473.2 2161.1 1472.9 2162.1 1472.6 2163 1472.3 2164 1471.9 2165 1471.6 2166 1471.3 2167 1471 2168 1470.7 2169 1470 2170 1468.6 2170.9 1467.2 2171.9 1465.8 2172.9 1464.4 2173.9 1463 2174.9 1461.5 2175.9 1460.1 2176.9 1458.8 2177.9 1458.1 2178.9 1457.3 2179.8 1456.6 2180.8 1455.8 2181.8 1455.1 2182.8 1454.3 2183.8 1453.7 2184.8 1453.8 2185.8 1453.9 2186.8 1454 2187.8 1454.1 2188.7 1454.2 2189.7 1454.3 2190.7 1455.1 2191.7 1457.3 2192.7 1459.5 2193.7 1461.7 2194.7 1464 2195.7 1465.1 2196.7 1465.6 2197.6 1466.2 2198.6 1466.8 2199.6 1467.3 2200.6 1467.9 2201.6 1468.5 2202.6 1469 2203.6 1469.5 2204.6 1469.7 2205.5 1470 2206.5 1470.3 2207.5 1470.6 2208.5 1470.9 2209.5 1471.2 2210.5 1471.5 2211.5 1471.8 2212.5 1472.1 2213.5 1472.4 2214.4 1472.7 2215.4 1472.8 2216.4 1472.9 2217.4 1473.1 2218.4 1473.2 2219.4 1473.3 2220.4 1473.4 2221.4 1473.5 2222.4 1473.6 2223.3 1473.8 2224.3 1473.9 2225.3 1474 2226.3 1474.1 2227.3 1474.2 2228.3 1474.3 2229.3 1474.4 2230.3 1474.4 2231.3 1474.5 2232.2 1474.5 2233.2 1474.6 2234.2 1474.6 2235.2 1474.7 2236.2 1474.7 2237.2 1474.8 2238.2 1474.8 2239.2 1474.9 2240.2 1474.9 2241.1 1475 2242.1 1475 2243.1 1474.9 2244.1 1474.9 2245.1 1474.8 2246.1 1474.8 2247.1 1474.7 2248.1 1474.6 2249 1474.6 2250 1474.5 2251 1474.4 2252 1474.4 2253 1474.3 2254 1474.3 2255 1474.2 2256 1474.1 2257 1474.1 2257.9 1474 2258.9 1473.9 2259.9 1473.9 2260.9 1473.8 2261.9 1473.6 2262.9 1473.4 2263.9 1473.3 2264.9 1473.1 2265.9 1472.9 2266.8 1472.8 2267.8 1472.6 2268.8 1472.4 2269.8 1472.3 2270.8 1472.1 2271.8 1471.9 2272.8 1471.8 2273.8 1471.6 2274.8 1471.6 2275.7 1471.5 2276.7 1471.5 2277.7 1471.5 2278.7 1471.5 2279.7 1471.4 2280.7 1471.4 2281.7 1471.4 2282.7 1471.4 2283.7 1471.4 2284.6 1471.3 2285.6 1471.3 2286.6 1471.3 2287.6 1471.3 2288.6 1471.3 2289.6 1471.2 2290.6 1471.2 2291.6 1471.2 2292.5 1471.2 2293.5 1471.1 2294.5 1471.1 2295.5 1470.5 2296.5 1469.8 2297.5 1469.2 2298.5 1468.5 2299.5 1467.9 2300.5 1467.2 2301.4 1466.6 2302.4 1466.3 2303.4 1466.1 2304.4 1465.9 2305.4 1465.8 2306.4 1465.6 2307.4 1465.4 2308.4 1465.2 2309.4 1465 2310.3 1464.8 2311.3 1464.8 2312.3 1464.9 2313.3 1465 2314.3 1465.2 2315.3 1465.3 2316.3 1465.4 2317.3 1465.5 2318.3 1465.7 2319.2 1465.8 2320.2 1465.9 2321.2 1465.9 2322.2 1466 2323.2 1466 2324.2 1466.1 2325.2 1466.1 2326.2 1466.2 2327.2 1466.2 2328.1 1466.3 2329.1 1466.3 2330.1 1466.4 2331.1 1466.4 2332.1 1466.5 2333.1 1466.5 2334.1 1466.6 2335.1 1466.8 2336 1466.9 2337 1467 2338 1467.2 2339 1467.3 2340 1467.4 2341 1467.6 2342 1467.7 2343 1467.9 2344 1468 2344.9 1468.1 2345.9 1468 2346.9 1467.9 2347.9 1467.8 2348.9 1467.7 2349.9 1467.6 2350.9 1467.5 2351.9 1467.5 2352.9 1467.4 2353.8 1467.3 2354.8 1467.2 2355.8 1467.1 2356.8 1467 2357.8 1466.9 2358.8 1466.8 2359.8 1466.8 2360.8 1466.7 2361.8 1466.7 2362.7 1466.6 2363.7 1466.5 2364.7 1466.5 2365.7 1466.4 2366.7 1466.4 2367.7 1466.3 2368.7 1466.2 2369.7 1466.2 2370.7 1466.1 2371.6 1466 2372.6 1466 2373.6 1465.9 2374.6 1465.9 2375.6 1465.8 2376.6 1465.7 2377.6 1465.6 2378.6 1465.5 2379.5 1465.4 2380.5 1465.4 2381.5 1465.3 2382.5 1465.2 2383.5 1465.1 2384.5 1465 2385.5 1465 2386.5 1464.9 2387.5 1464.8 2388.4 1464.7 2389.4 1464.3 2390.4 1463.9 2391.4 1463.5 2392.4 1463.1 2393.4 1462.7 2394.4 1462.3 2395.4 1462 2396.4 1461.9 2397.3 1461.8 2398.3 1461.7 2399.3 1461.6 2400.3 1461.5 2401.3 1461.4 2402.3 1461.4 2403.3 1461.3 2404.3 1461.2 2405.3 1461.1 2406.2 1461 2407.2 1460.9 2408.2 1460.9 2409.2 1460.8 2410.2 1460.7 2411.2 1460.6 2412.2 1460.5 2413.2 1460.5 2414.1 1460.4 2415.1 1460.4 2416.1 1460.3 2417.1 1460.3 2418.1 1460.2 2419.1 1460.2 2420.1 1460.1 2421.1 1460.1 2422.1 1460.1 2423 1460 2424 1460 2425 1459.9 2426 1459.9 2427 1459.8 2428 1459.8 2429 1459.7 2430 1459.6 2431 1459.3 2431.9 1459 2432.9 1458.7 2433.9 1458.4 2434.9 1458.1 2435.9 1457.8 2436.9 1457.5 2437.9 1457.2 2438.9 1456.9 2439.9 1456.6 2440.8 1456.3 2441.8 1456 2442.8 1455.7 2443.8 1455.5 2444.8 1455.3 2445.8 1455.1 2446.8 1454.9 2447.8 1454.7 2448.8 1454.5 2449.7 1454.4 2450.7 1454.2 2451.7 1454 2452.7 1453.8 2453.7 1453.6 2454.7 1453.4 2455.7 1453.2 2456.7 1453.1 2457.6 1452.9 2458.6 1452.7 2459.6 1452.5 2460.6 1452.3 2461.6 1452.1 2462.6 1451.9 2463.6 1451.7 2464.6 1451.5 2465.6 1451.3 2466.5 1451.2 2467.5 1451 2468.5 1450.8 2469.5 1450.6 2470.5 1450.4 2471.5 1450.2 2472.5 1450 2473.5 1449.8 2474.5 1449.6 2475.4 1449.4 2476.4 1449.2 2477.4 1449 2478.4 1448.8 2479.4 1448.6 2480.4 1448.4 2481.4 1448.2 2482.4 1448 2483.4 1447.8 2484.3 1447.6 2485.3 1447.1 2486.3 1446.6 2487.3 1446.1 2488.3 1445.5 2489.3 1445 2490.3 1444.4 2491.3 1443.9 2492.3 1443.3 2493.2 1442.8 2494.2 1442.2 2495.2 1441.7 2496.2 1441.2 2497.2 1440.6 2498.2 1440.1 2499.2 1439.6 2500.2 1439.1 2501.1 1438.6 2502.1 1438.1 2503.1 1437.7 2504.1 1437.2 2505.1 1436.7 2506.1 1436.2 2507.1 1436.4 2508.1 1436.8 2509.1 1437.2 2510 1437.6 2511 1438 2512 1438.4 2513 1438.3 2514 1438.2 2515 1438.1 2516 1438.1 2517 1438 2518 1437.9 2518.9 1437.8 2519.9 1437.7 2520.9 1437.6 2521.9 1437.6 2522.9 1437.5 2523.9 1437.4 2524.9 1437.3 2525.9 1437.2 2526.9 1437.1 2527.8 1436.9 2528.8 1436.7 2529.8 1436.6 2530.8 1436.4 2531.8 1436.2 2532.8 1436.1 2533.8 1435.9 2534.8 1435.7 2535.8 1435.6 2536.7 1435.4 2537.7 1435.3 2538.7 1435.1 2539.7 1434.9 2540.7 1434.6 2541.7 1434.3 2542.7 1434 2543.7 1433.7 2544.6 1433.4 2545.6 1433 2546.6 1432.7 2547.6 1432.4 2548.6 1432.1 2549.6 1431.8 2550.6 1431.5 2551.6 1431.2 2552.6 1430.9 2553.5 1430.6 2554.5 1430.3 2555.5 1430 2556.5 1429.6 2557.5 1429.3 2558.5 1428.6 2559.5 1427.6 2560.5 1426.7 2561.5 1426.1 2562.4 1425.5 2563.4 1424.9 2564.4 1424.3 2565.4 1423.7 2566.4 1423 2567.4 1422.4 2568.4 1421.8 2569.4 1421.2 2570.4 1420.5 2571.3 1419.6 2572.3 1418.8 2573.3 1418 2574.3 1417.2 2575.3 1416.4 2576.3 1415.5 2577.3 1414.7 2578.3 1414 2579.2 1413.4 2580.2 1412.7 2581.2 1412.1 2582.2 1411.4 2583.2 1410.7 2584.2 1410.1 2585.2 1409.2 2586.2 1408 2587.2 1406.9 2588.1 1405.7 2589.1 1404.6 2590.1 1403.4 2591.1 1402.3 2592.1 1401.1 2593.1 1400.3 2594.1 1399.5 2595.1 1398.6 2596.1 1397.8 2597 1397 2598 1396.2 2599 1395.3 2600 1394 2601 1392 2602 1390 2603 1388.1 2604 1386.1 2605 1384.1 2605.9 1382.1 2606.9 1380.2 2607.9 1379.1 2608.9 1378.1 2609.9 1377.1 2610.9 1376.1 2611.9 1375.2 2612.9 1374.2 2613.9 1373.2 2614.8 1372.2 2615.8 1371.2 2616.8 1370.2 2617.8 1368.8 2618.8 1367.4 2619.8 1366 2620.8 1364.6 2621.8 1363.2 2622.7 1361.8 2623.7 1360.4 2624.7 1358.9 2625.7 1357.6 2626.7 1356.5 2627.7 1355.3 2628.7 1354.2 2629.7 1353.1 2630.7 1351.9 2631.6 1350.8 2632.6 1349.7 2633.6 1348.5 2634.6 1347.5 2635.6 1346.5 2636.6 1345.5 2637.6 1344.5 2638.6 1343.5 2639.6 1342.5 2640.5 1341.5 2641.5 1340.6 2642.5 1339.6 2643.5 1338.6 2644.5 1337.6 2645.5 1336.6 2646.5 1335.6 2647.5 1334.6 2648.5 1333.6 2649.4 1332.6 2650.4 1331.7 2651.4 1330.7 2652.4 1329.7 2653.4 1328.7 2654.4 1327.7 2655.4 1326.7 2656.4 1325.7 2657.4 1324.7 2658.3 1323.8 2659.3 1322.1 2660.3 1319.7 2661.3 1317.2 2662.3 1314.7 2663.3 1312.2 2664.3 1310 2665.3 1308 2666.2 1306 2667.2 1304 2668.2 1302.1 2669.2 1300.4 2670.2 1299.1 2671.2 1297.7 2672.2 1296.4 2673.2 1295.1 2674.2 1293.8 2675.1 1292.5 2676.1 1291.1 2677.1 1289.7 2678.1 1288.2 2679.1 1286.7 2680.1 1285.2 2681.1 1283.7 2682.1 1281.8 2683.1 1279.8 2684 1277.8 2685 1275.9 2686 1273.9 2687 1268.3 2688 1262.3 2689 1256.4 2690 1250.5 2691 1244.6 2692 1238.6 2692.9 1232.7 2693.9 1226.8 2694.9 1220.8 2695.9 1214.9 2696.9 1209.4 2697.9 1204 2698.9 1198.5 2699.9 1193.1 2700.9 1187.7 2701.8 1184 2702.8 1180.6 2703.8 1180 2704.8 1183.4 2705.8 1186.9 2706.8 1192.6 2707.8 1198.5 2708.8 1204.5 2709.7 1210.3 2710.7 1215.8 2711.7 1221.2 2712.7 1226.6 2713.7 1232.1 2714.7 1237.5 2715.7 1242.9 2716.7 1248.4 2717.7 1253.8 2718.6 1259.3 2719.6 1264.3 2720.6 1267.3 2721.6 1270.2 2722.6 1273.2 2723.6 1276.2 2724.6 1278.9 2725.6 1280.2 2726.6 1281.5 2727.5 1282.8 2728.5 1283.2 2729.5 1282.2 2730.5 1281.3 2731.5 1280.3 2732.5 1279.3 2733.5 1277.7 2734.5 1275.2 2735.5 1272.7 2736.4 1270.3 2737.4 1267.8 2738.4 1265.3 2739.4 1262.9 2740.4 1260.4 2741.4 1257.9 2742.4 1255.4 2743.4 1253.7 2744.4 1252.9 2745.3 1252.2 2746.3 1251.4 2747.3 1250.7 2748.3 1250.2 2749.3 1250.2 2750.3 1250.2 2751.3 1250.2 2752.3 1250.2 2753.2 1249.7 2754.2 1248.2 2755.2 1246.7 2756.2 1248.3 2757.2 1250.3 2758.2 1252.3 2759.2 1254.9 2760.2 1261.3 2761.2 1267.7 2762.1 1270 2763.1 1270 2764.1 1270 2765.1 1270 2766.1 1270 2767.1 1270 2768.1 1270 2769.1 1269.9 2770.1 1269.2 2771 1268.5 2772 1267.8 2773 1267.1 2774 1266.4 2775 1265.7 2776 1264.8 2777 1264.5 2778 1264.1 2779 1263.8 2779.9 1263.5 2780.9 1263.1 2781.9 1262.8 2782.9 1262.9 2783.9 1263.7 2784.9 1264.4 2785.9 1265.2 2786.9 1265.9 2787.8 1266.7 2788.8 1267.4 2789.8 1268.2 2790.8 1269.7 2791.8 1270.6 2792.8 1271.6 2793.8 1272.6 2794.8 1273.6 2795.8 1274.6 2796.7 1275.6 2797.7 1276.6 2798.7 1277.6 2799.7 1278.6 2800.7 1279.5 2801.7 1280.5 2802.7 1281.5 2803.7 1282.5 2804.7 1283.5 2805.6 1285.4 2806.6 1287.3 2807.6 1289.3 2808.6 1291.3 2809.6 1293.3 2810.6 1295.7 2811.6 1298.1 2812.6 1300.6 2813.6 1303.1 2814.5 1305.6 2815.5 1309.3 2816.5 1313.3 2817.5 1317.2 2818.5 1320.9 2819.5 1322.2 2820.5 1323.5 2821.5 1324.8 2822.5 1325.2 2823.4 1324 2824.4 1322.9 2825.4 1321.7 2826.4 1320.5 2827.4 1319.3 2828.4 1318.7 2829.4 1322.6 2830.4 1326.6 2831.3 1330.6 2832.3 1334.3 2833.3 1337.6 2834.3 1340.9 2835.3 1344.2 2836.3 1346.9 2837.3 1349.4 2838.3 1351.9 2839.3 1354.4 2840.2 1356.8 2841.2 1359 2842.2 1361 2843.2 1363 2844.2 1364.9 2845.2 1362.1 2846.2 1362.8 2847.2 1363.5 2848.2 1364.2 2849.1 1364.9 2850.1 1365.6 2851.1 1366.3 2852.1 1366.9 2853.1 1367.6 2854.1 1368.3 2855.1 1369 2856.1 1369.7 2857.1 1370.5 2858 1371.6 2859 1372.7 2860 1373.8 2861 1374.8 2862 1375.9 2863 1377 2864 1378 2865 1379.1 2866 1380.2 2866.9 1381.3 2867.9 1382.3 2868.9 1383.4 2869.9 1384.5 2870.9 1385.5 2871.9 1386.4 2872.9 1387 2873.9 1387.5 2874.8 1388.1 2875.8 1388.7 2876.8 1389.2 2877.8 1389.8 2878.8 1390.3 2879.8 1390.9 2880.8 1391.4 2881.8 1392 2882.8 1392.5 2883.7 1393.1 2884.7 1393.7 2885.7 1394.2 2886.7 1394.8 2887.7 1395.3 2888.7 1395.9 2889.7 1396.4 2890.7 1397 2891.7 1397.6 2892.6 1398.2 2893.6 1398.9 2894.6 1399.6 2895.6 1400.2 2896.6 1400.9 2897.6 1401.5 2898.6 1402.2 2899.6 1402.9 2900.6 1403.5 2901.5 1404.2 2902.5 1404.8 2903.5 1405.5 2904.5 1406.2 2905.5 1406.8 2906.5 1407.4 2907.5 1407.8 2908.5 1408.2 2909.5 1408.7 2910.4 1409.1 2911.4 1409.5 2912.4 1409.9 2913.4 1410.4 2914.4 1410.8 2915.4 1411.2 2916.4 1411.6 2917.4 1412.1 2918.3 1412.5 2919.3 1412.9 2920.3 1413.3 2921.3 1413.8 2922.3 1414.2 2923.3 1414.6 2924.3 1414.9 2925.3 1415.3 2926.3 1415.6 2927.2 1415.9 2928.2 1416.3 2929.2 1416.6 2930.2 1416.9 2931.2 1417.3 2932.2 1417.6 2933.2 1417.9 2934.2 1418.2 2935.2 1418.6 2936.1 1418.9 2937.1 1419.2 2938.1 1419.6 2939.1 1419.9 2940.1 1420.2 2941.1 1420.5 2942.1 1420.9 2943.1 1421.2 2944.1 1421.5 2945 1421.9 2946 1422.2 2947 1422.5 2948 1422.9 2949 1423.2 2950 1423.5 2951 1423.8 2952 1424.2 2953 1424.5 2953.9 1424.8 2954.9 1425 2955.9 1425.3 2956.9 1425.5 2957.9 1425.8 2958.9 1426 2959.9 1426.2 2960.9 1426.5 2961.8 1426.7 2962.8 1427 2963.8 1427.2 2964.8 1427.5 2965.8 1427.7 2966.8 1428 2967.8 1428.2 2968.8 1428.4 2969.8 1428.5 2970.7 1428.7 2971.7 1428.8 2972.7 1428.9 2973.7 1429.1 2974.7 1429.2 2975.7 1429.4 2976.7 1429.5 2977.7 1429.6 2978.7 1429.8 2979.6 1429.9 2980.6 1430 2981.6 1430 2982.6 1429.9 2983.6 1429.9 2984.6 1429.8 2985.6 1429.8 2986.6 1429.8 2987.6 1429.7 2988.5 1429.7 2989.5 1429.6 2990.5 1429.6 2991.5 1429.6 2992.5 1429.5 2993.5 1429.2 2994.5 1428.8 2995.5 1428.5 2996.4 1428.1 2997.4 1427.7 2998.4 1427.4 2999.4 1427 3000.4 1426.6 3001.4 1426.2 3002.4 1425.9 3003.4 1425 3004.4 1424 3005.3 1423 3006.3 1422.1 3007.3 1421.6 3008.3 1421.1 3009.3 1420.6 3010.3 1420.1 3011.3 1419.7 3012.3 1420.9 3013.3 1422.1 3014.2 1423.4 3015.2 1424.6 3016.2 1425.8 3017.2 1427 3018.2 1428.2 3019.2 1429.4 3020.2 1430.6 3021.2 1431.8 3022.2 1433 3023.1 1433.3 3024.1 1433.5 3025.1 1433.7 3026.1 1433.8 3027.1 1434 3028.1 1434.2 3029.1 1434.3 3030.1 1434.3 3031.1 1433.8 3032 1433.3 3033 1432.8 3034 1432.3 3035 1432 3036 1432.2 3037 1432.4 3038 1432.6 3039 1432.8 3039.9 1433 3040.9 1433.2 3041.9 1434.2 3042.9 1435.2 3043.9 1436.2 3044.9 1437.2 3045.9 1438.2 3046.9 1439.2 3047.9 1440.4 3048.8 1441.7 3049.8 1443.1 3050.8 1444.4 3051.8 1445.7 3052.8 1447 3053.8 1448.3 3054.8 1449.5 3055.8 1450.3 3056.8 1451.2 3057.7 1452 3058.7 1452.8 3059.7 1453.6 3060.7 1454.5 3061.7 1455.3 3062.7 1455.3 3063.7 1455.2 3064.7 1455 3065.7 1454.8 3066.6 1454.7 3067.6 1454.5 3068.6 1454.4 3069.6 1454.3 3070.6 1454.4 3071.6 1454.6 3072.6 1454.8 3073.6 1454.9 3074.6 1455.1 3075.5 1455.3 3076.5 1455.4 3077.5 1455.7 3078.5 1455.9 3079.5 1456.2 3080.5 1456.4 3081.5 1456.6 3082.5 1456.9 3083.4 1457.1 3084.4 1457.4 3085.4 1457.6 3086.4 1457.9 3087.4 1458.2 3088.4 1458.5 3089.4 1458.9 3090.4 1459.2 3091.4 1459.5 3092.3 1459.8 3093.3 1460.2 3094.3 1460.2 3095.3 1459.4" fill="none" stroke="#f6262b" stroke-width="3.5" stroke-linejoin="round" stroke-linecap="butt" stroke-dasharray="20 9 5 9"/>
</g>
<path d="M2183 1090 2183 1410.9" fill="none" stroke="#111" stroke-width="1.6" stroke-linejoin="round" stroke-linecap="butt" stroke-dasharray="4.6 11.2"/>
<text class="s" transform="translate(2179 1199.3) rotate(-90)" x="0" textLength="57.7" lengthAdjust="spacingAndGlyphs"><tspan font-size="35.5">[OI]</tspan></text>
<path d="M2310 1090 2310 1416" fill="none" stroke="#111" stroke-width="1.6" stroke-linejoin="round" stroke-linecap="butt" stroke-dasharray="4.6 11.2"/>
<text class="s" transform="translate(2306 1199.3) rotate(-90)" x="0" textLength="57.7" lengthAdjust="spacingAndGlyphs"><tspan font-size="35.5">[OI]</tspan></text>
<path d="M2667.7 1090 2667.7 1586.8" fill="none" stroke="#111" stroke-width="1.6" stroke-linejoin="round" stroke-linecap="butt" stroke-dasharray="4.6 11.2"/>
<path d="M2667.7 1452 2667.7 1586.8" fill="none" stroke="#111" stroke-width="1.6" stroke-linejoin="round" stroke-linecap="butt" stroke-dasharray="4.6 11.2"/>
<text class="s" transform="translate(2663.2 1230.9) rotate(-90)" x="0" textLength="66.6" lengthAdjust="spacingAndGlyphs"><tspan font-size="35.5">H</tspan><tspan font-size="35.5" class="si">α</tspan><tspan font-size="21" class="hb" dy="7">br</tspan></text>
<path d="M2674.2 1090 2674.2 1275" fill="none" stroke="#111" stroke-width="1.6" stroke-linejoin="round" stroke-linecap="butt" stroke-dasharray="4.6 11.2"/>
<text class="s" transform="translate(2670.1 1198.3) rotate(-90)" x="0" textLength="66" lengthAdjust="spacingAndGlyphs"><tspan font-size="35.5">[NII]</tspan></text>
<path d="M2703.6 1090 2703.6 1500" fill="none" stroke="#111" stroke-width="1.6" stroke-linejoin="round" stroke-linecap="butt" stroke-dasharray="4.6 11.2"/>
<text class="s" transform="translate(2698.9 1230.9) rotate(-90)" x="0" textLength="44" lengthAdjust="spacingAndGlyphs"><tspan font-size="35.5">H</tspan><tspan font-size="35.5" class="si">α</tspan></text>
<path d="M2744.2 1090 2744.2 1240" fill="none" stroke="#111" stroke-width="1.6" stroke-linejoin="round" stroke-linecap="butt" stroke-dasharray="4.6 11.2"/>
<text class="s" transform="translate(2739.9 1198.3) rotate(-90)" x="0" textLength="66" lengthAdjust="spacingAndGlyphs"><tspan font-size="35.5">[NII]</tspan></text>
<path d="M2778.8 1090 2778.8 1558.9" fill="none" stroke="#111" stroke-width="1.6" stroke-linejoin="round" stroke-linecap="butt" stroke-dasharray="4.6 11.2"/>
<path d="M2778.8 1452 2778.8 1558.9" fill="none" stroke="#111" stroke-width="1.6" stroke-linejoin="round" stroke-linecap="butt" stroke-dasharray="4.6 11.2"/>
<text class="s" transform="translate(2774 1230.9) rotate(-90)" x="0" textLength="66.6" lengthAdjust="spacingAndGlyphs"><tspan font-size="35.5">H</tspan><tspan font-size="35.5" class="si">α</tspan><tspan font-size="21" class="hb" dy="7">br</tspan></text>
<path d="M3006.7 1090 3006.7 1378.8" fill="none" stroke="#111" stroke-width="1.6" stroke-linejoin="round" stroke-linecap="butt" stroke-dasharray="4.6 11.2"/>
<text class="s" transform="translate(3001.5 1199.3) rotate(-90)" x="0" textLength="63" lengthAdjust="spacingAndGlyphs"><tspan font-size="35.5">[SII]</tspan></text>
<path d="M3035.3 1090 3035.3 1388.7" fill="none" stroke="#111" stroke-width="1.6" stroke-linejoin="round" stroke-linecap="butt" stroke-dasharray="4.6 11.2"/>
<text class="s" transform="translate(3030.8 1199.3) rotate(-90)" x="0" textLength="63" lengthAdjust="spacingAndGlyphs"><tspan font-size="35.5">[SII]</tspan></text>
<path d="M2124.5 1682.9v-6M2124.5 1079v6M2144.3 1682.9v-6M2144.3 1079v6M2164 1682.9v-6M2164 1079v6M2183.8 1682.9v-12.1M2183.8 1079v12.1M2203.6 1682.9v-6M2203.6 1079v6M2223.3 1682.9v-6M2223.3 1079v6M2243.1 1682.9v-6M2243.1 1079v6M2262.9 1682.9v-6M2262.9 1079v6M2282.7 1682.9v-6M2282.7 1079v6M2302.4 1682.9v-6M2302.4 1079v6M2322.2 1682.9v-6M2322.2 1079v6M2342 1682.9v-6M2342 1079v6M2361.8 1682.9v-6M2361.8 1079v6M2381.5 1682.9v-12.1M2381.5 1079v12.1M2401.3 1682.9v-6M2401.3 1079v6M2421.1 1682.9v-6M2421.1 1079v6M2440.8 1682.9v-6M2440.8 1079v6M2460.6 1682.9v-6M2460.6 1079v6M2480.4 1682.9v-6M2480.4 1079v6M2500.2 1682.9v-6M2500.2 1079v6M2519.9 1682.9v-6M2519.9 1079v6M2539.7 1682.9v-6M2539.7 1079v6M2559.5 1682.9v-6M2559.5 1079v6M2579.2 1682.9v-12.1M2579.2 1079v12.1M2599 1682.9v-6M2599 1079v6M2618.8 1682.9v-6M2618.8 1079v6M2638.6 1682.9v-6M2638.6 1079v6M2658.3 1682.9v-6M2658.3 1079v6M2678.1 1682.9v-6M2678.1 1079v6M2697.9 1682.9v-6M2697.9 1079v6M2717.7 1682.9v-6M2717.7 1079v6M2737.4 1682.9v-6M2737.4 1079v6M2757.2 1682.9v-6M2757.2 1079v6M2777 1682.9v-12.1M2777 1079v12.1M2796.7 1682.9v-6M2796.7 1079v6M2816.5 1682.9v-6M2816.5 1079v6M2836.3 1682.9v-6M2836.3 1079v6M2856.1 1682.9v-6M2856.1 1079v6M2875.8 1682.9v-6M2875.8 1079v6M2895.6 1682.9v-6M2895.6 1079v6M2915.4 1682.9v-6M2915.4 1079v6M2935.2 1682.9v-6M2935.2 1079v6M2954.9 1682.9v-6M2954.9 1079v6M2974.7 1682.9v-12.1M2974.7 1079v12.1M2994.5 1682.9v-6M2994.5 1079v6M3014.2 1682.9v-6M3014.2 1079v6M3034 1682.9v-6M3034 1079v6M3053.8 1682.9v-6M3053.8 1079v6M3073.6 1682.9v-6M3073.6 1079v6M2105 1679.5h9.9M3093.7 1679.5h-9.9M2105 1668.6h9.9M3093.7 1668.6h-9.9M2105 1657.6h9.9M3093.7 1657.6h-9.9M2105 1646.6h9.9M3093.7 1646.6h-9.9M2105 1635.6h9.9M3093.7 1635.6h-9.9M2105 1624.6h19.8M3093.7 1624.6h-19.8M2105 1613.6h9.9M3093.7 1613.6h-9.9M2105 1602.6h9.9M3093.7 1602.6h-9.9M2105 1591.6h9.9M3093.7 1591.6h-9.9M2105 1580.6h9.9M3093.7 1580.6h-9.9M2105 1569.7h9.9M3093.7 1569.7h-9.9M2105 1558.7h9.9M3093.7 1558.7h-9.9M2105 1547.7h9.9M3093.7 1547.7h-9.9M2105 1536.7h9.9M3093.7 1536.7h-9.9M2105 1525.7h9.9M3093.7 1525.7h-9.9M2105 1514.7h19.8M3093.7 1514.7h-19.8M2105 1503.7h9.9M3093.7 1503.7h-9.9M2105 1492.7h9.9M3093.7 1492.7h-9.9M2105 1481.7h9.9M3093.7 1481.7h-9.9M2105 1470.7h9.9M3093.7 1470.7h-9.9M2105 1459.8h9.9M3093.7 1459.8h-9.9M2105 1448.8h9.9M3093.7 1448.8h-9.9M2105 1437.8h9.9M3093.7 1437.8h-9.9M2105 1426.8h9.9M3093.7 1426.8h-9.9M2105 1415.8h9.9M3093.7 1415.8h-9.9M2105 1404.8h19.8M3093.7 1404.8h-19.8M2105 1393.8h9.9M3093.7 1393.8h-9.9M2105 1382.8h9.9M3093.7 1382.8h-9.9M2105 1371.8h9.9M3093.7 1371.8h-9.9M2105 1360.8h9.9M3093.7 1360.8h-9.9M2105 1349.9h9.9M3093.7 1349.9h-9.9M2105 1338.9h9.9M3093.7 1338.9h-9.9M2105 1327.9h9.9M3093.7 1327.9h-9.9M2105 1316.9h9.9M3093.7 1316.9h-9.9M2105 1305.9h9.9M3093.7 1305.9h-9.9M2105 1294.9h19.8M3093.7 1294.9h-19.8M2105 1283.9h9.9M3093.7 1283.9h-9.9M2105 1272.9h9.9M3093.7 1272.9h-9.9M2105 1261.9h9.9M3093.7 1261.9h-9.9M2105 1250.9h9.9M3093.7 1250.9h-9.9M2105 1240h9.9M3093.7 1240h-9.9M2105 1229h9.9M3093.7 1229h-9.9M2105 1218h9.9M3093.7 1218h-9.9M2105 1207h9.9M3093.7 1207h-9.9M2105 1196h9.9M3093.7 1196h-9.9M2105 1185h19.8M3093.7 1185h-19.8M2105 1174h9.9M3093.7 1174h-9.9M2105 1163h9.9M3093.7 1163h-9.9M2105 1152h9.9M3093.7 1152h-9.9M2105 1141h9.9M3093.7 1141h-9.9M2105 1130.1h9.9M3093.7 1130.1h-9.9M2105 1119.1h9.9M3093.7 1119.1h-9.9M2105 1108.1h9.9M3093.7 1108.1h-9.9M2105 1097.1h9.9M3093.7 1097.1h-9.9M2105 1086.1h9.9M3093.7 1086.1h-9.9" stroke="#111" stroke-width="3.9" fill="none"/>
<rect x="2105" y="1079" width="988.7" height="603.9" fill="none" stroke="#111" stroke-width="4.2"/>
<text class="s" transform="translate(2091.4 1199.9)" x="-67.5" font-size="39.5" textLength="67.5" lengthAdjust="spacingAndGlyphs">300</text>
<text class="s" transform="translate(2091.4 1309.8)" x="-67.5" font-size="39.5" textLength="67.5" lengthAdjust="spacingAndGlyphs">200</text>
<text class="s" transform="translate(2091.4 1419.7)" x="-67.5" font-size="39.5" textLength="67.5" lengthAdjust="spacingAndGlyphs">100</text>
<text class="s" transform="translate(2091.4 1529.6)" x="-22.5" font-size="39.5" textLength="22.5" lengthAdjust="spacingAndGlyphs">0</text>
<text class="s" transform="translate(2091.4 1639.5)" x="-92.9" font-size="39.5" textLength="92.9" lengthAdjust="spacingAndGlyphs">−100</text>
<text class="s" transform="translate(2183.8 1736.3)" x="-45" font-size="39.5" textLength="90.1" lengthAdjust="spacingAndGlyphs">6300</text>
<text class="s" transform="translate(2381.5 1736.3)" x="-45" font-size="39.5" textLength="90.1" lengthAdjust="spacingAndGlyphs">6400</text>
<text class="s" transform="translate(2579.2 1736.3)" x="-45" font-size="39.5" textLength="90.1" lengthAdjust="spacingAndGlyphs">6500</text>
<text class="s" transform="translate(2777 1736.3)" x="-45" font-size="39.5" textLength="90.1" lengthAdjust="spacingAndGlyphs">6600</text>
<text class="s" transform="translate(2974.7 1736.3)" x="-45" font-size="39.5" textLength="90.1" lengthAdjust="spacingAndGlyphs">6700</text>
<g transform="translate(2545.1 1780.9)"><text class="s" x="0" y="0" font-size="38" textLength="16.5" lengthAdjust="spacingAndGlyphs">λ</text><text class="sb" x="19" y="9.8" font-size="25" textLength="33.5" lengthAdjust="spacingAndGlyphs">r.f.</text><text class="s" x="54.5" y="2" font-size="45">[</text><text class="s" x="70.8" y="-18" font-size="25">°</text><text class="sb" x="70.2" y="0.5" font-size="37.5" textLength="22.5" lengthAdjust="spacingAndGlyphs">A</text><text class="s" x="91" y="2" font-size="45">]</text></g>
</svg></body></html>
